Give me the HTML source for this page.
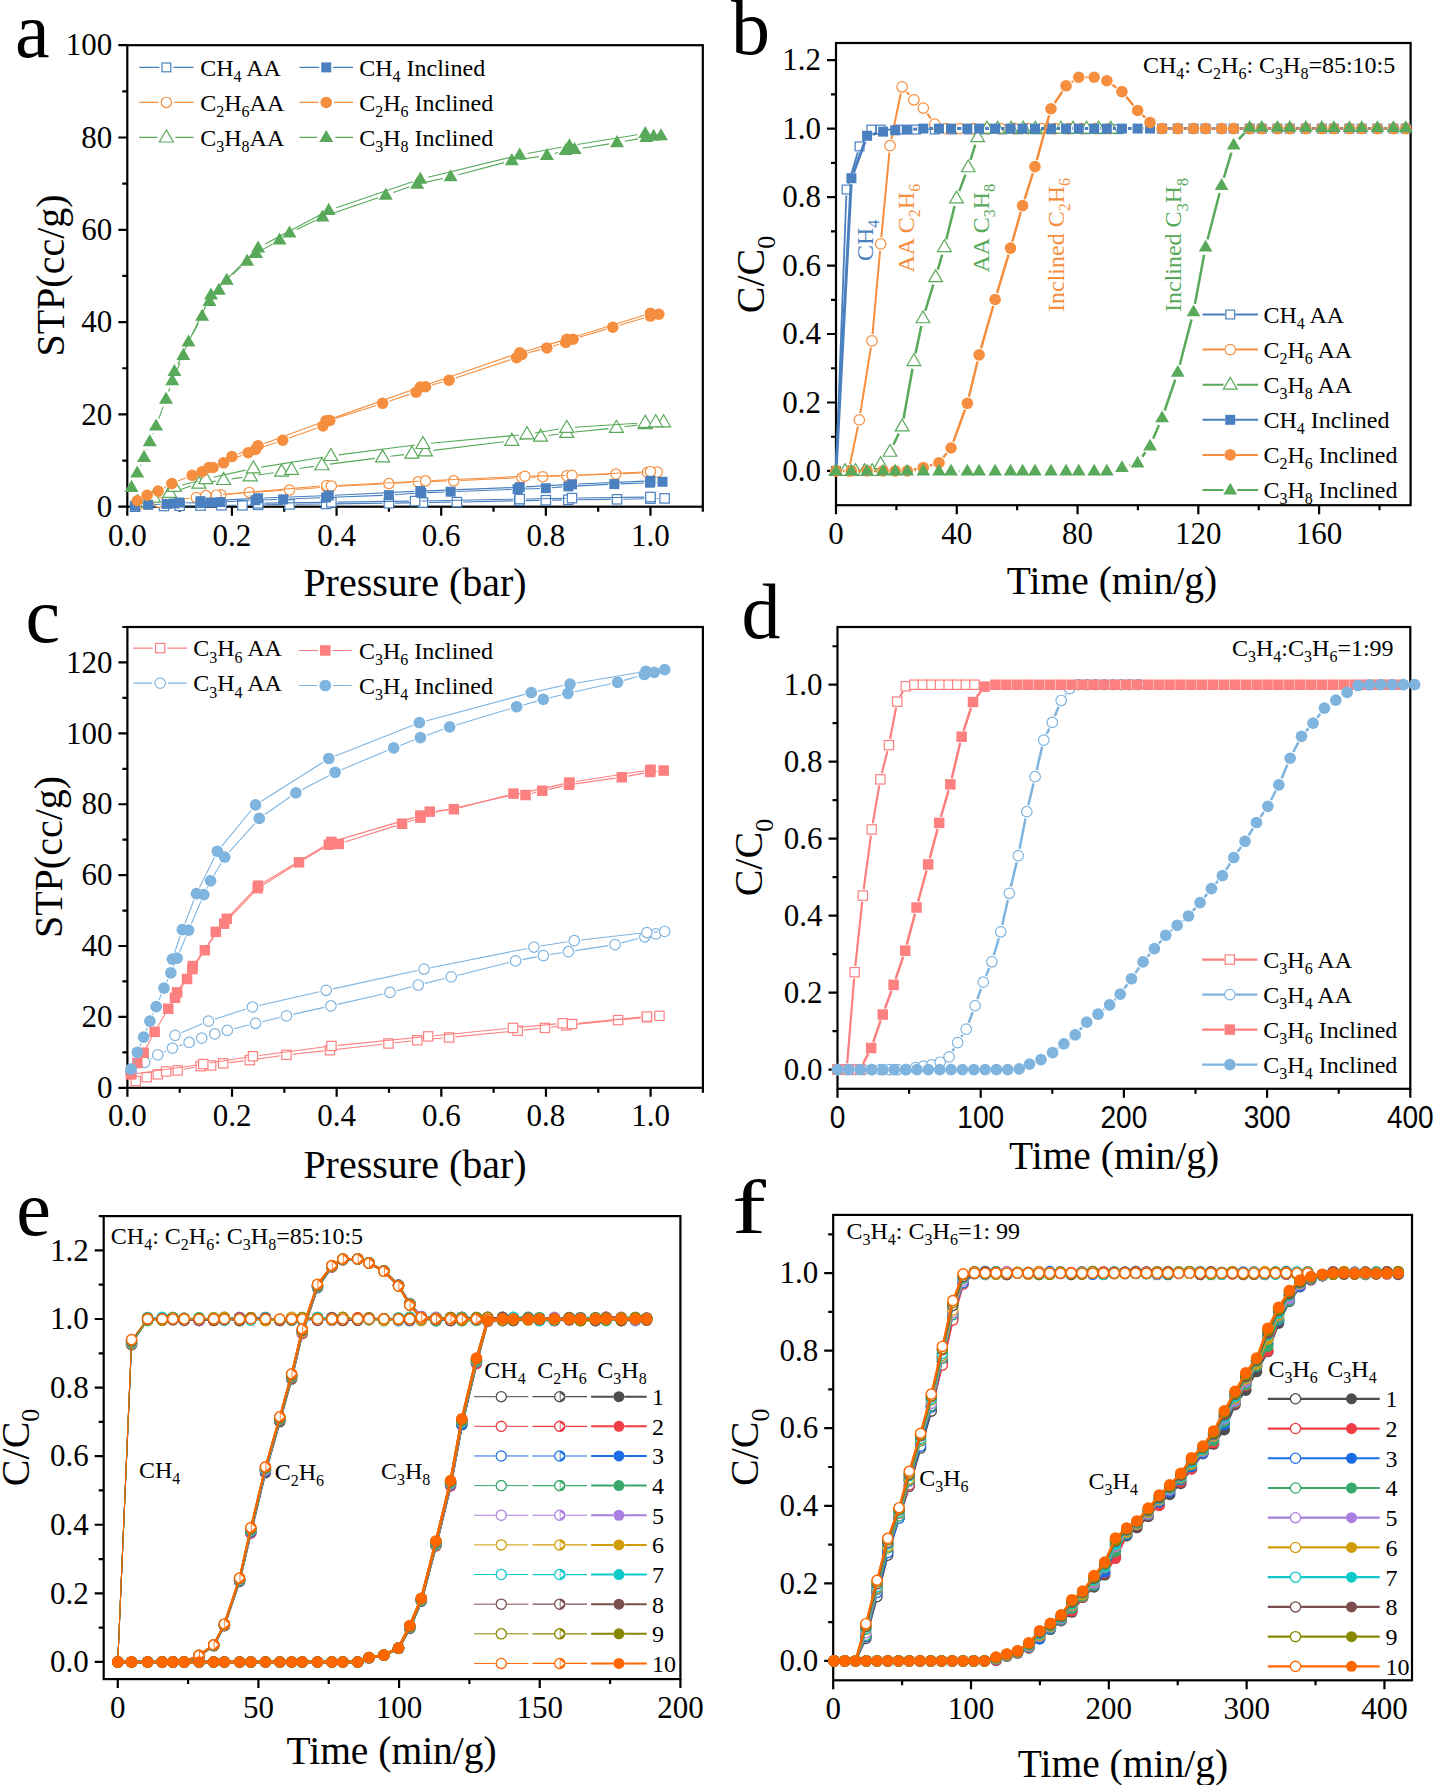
<!DOCTYPE html><html><head><meta charset="utf-8"><style>html,body{margin:0;padding:0;background:#fff;}svg{display:block;}</style></head><body><svg width="1435" height="1785" viewBox="0 0 1435 1785" font-family='"Liberation Serif", serif'><rect width="100%" height="100%" fill="#fff"/><path d="M127.3 506.7V515.7M231.94 506.7V515.7M336.57 506.7V515.7M441.21 506.7V515.7M545.85 506.7V515.7M650.48 506.7V515.7M179.62 506.7V511.7M284.25 506.7V511.7M388.89 506.7V511.7M493.53 506.7V511.7M598.16 506.7V511.7M702.8 506.7V511.7M127.3 506.7H118.3M127.3 414.4H118.3M127.3 322.1H118.3M127.3 229.8H118.3M127.3 137.5H118.3M127.3 45.2H118.3M127.3 460.55H122.3M127.3 368.25H122.3M127.3 275.95H122.3M127.3 183.65H122.3M127.3 91.35H122.3" stroke="#000" stroke-width="2.2" fill="none"/>
<rect x="127.3" y="45.2" width="575.5" height="461.5" stroke="#000" stroke-width="2.2" fill="none"/>
<text x="127.3" y="546.2" font-size="31" text-anchor="middle" fill="#000"><tspan>0.0</tspan></text>
<text x="231.94" y="546.2" font-size="31" text-anchor="middle" fill="#000"><tspan>0.2</tspan></text>
<text x="336.57" y="546.2" font-size="31" text-anchor="middle" fill="#000"><tspan>0.4</tspan></text>
<text x="441.21" y="546.2" font-size="31" text-anchor="middle" fill="#000"><tspan>0.6</tspan></text>
<text x="545.85" y="546.2" font-size="31" text-anchor="middle" fill="#000"><tspan>0.8</tspan></text>
<text x="650.48" y="546.2" font-size="31" text-anchor="middle" fill="#000"><tspan>1.0</tspan></text>
<text x="112.3" y="516.93" font-size="31" text-anchor="end" fill="#000"><tspan>0</tspan></text>
<text x="112.3" y="424.63" font-size="31" text-anchor="end" fill="#000"><tspan>20</tspan></text>
<text x="112.3" y="332.33" font-size="31" text-anchor="end" fill="#000"><tspan>40</tspan></text>
<text x="112.3" y="240.03" font-size="31" text-anchor="end" fill="#000"><tspan>60</tspan></text>
<text x="112.3" y="147.73" font-size="31" text-anchor="end" fill="#000"><tspan>80</tspan></text>
<text x="112.3" y="55.43" font-size="31" text-anchor="end" fill="#000"><tspan>100</tspan></text>
<text x="15" y="57" font-size="78" text-anchor="start" fill="#000"><tspan>a</tspan></text>
<text x="415" y="596.3" font-size="40" text-anchor="middle" fill="#000"><tspan>Pressure (bar)</tspan></text>
<text x="63.6" y="275.5" font-size="40" text-anchor="middle" fill="#000" transform="rotate(-90 63.6 275.5)"><tspan>STP(cc/g)</tspan></text>
<path d="M141.45 506.55L157.62 506.16M170.22 505.92L173.32 505.87M185.92 505.71L194.25 505.62M206.85 505.48L215.17 505.38M227.77 505.32L236.1 505.32M248.7 505.13L251.8 505.04M264.39 504.76L283.19 504.49M295.79 504.31L319.81 504.01M332.41 503.86L382.59 503.31M395.19 503.11L416.6 502.67M429.2 502.46L450.61 502.17M463.2 501.94L512.86 500.84M525.46 500.59L539.55 500.35M552.14 500.11L562.04 499.91M574.64 499.72L610.7 499.38M623.3 499.19L644.18 498.75M656.78 498.52L658.31 498.5" stroke="#4a80bf" stroke-width="1.1" fill="none"/>
<g><rect x="130.45" y="502" width="9.4" height="9.4" fill="#fff" stroke="#4a80bf" stroke-width="1.2"/><rect x="159.22" y="501.31" width="9.4" height="9.4" fill="#fff" stroke="#4a80bf" stroke-width="1.2"/><rect x="174.92" y="501.08" width="9.4" height="9.4" fill="#fff" stroke="#4a80bf" stroke-width="1.2"/><rect x="195.85" y="500.85" width="9.4" height="9.4" fill="#fff" stroke="#4a80bf" stroke-width="1.2"/><rect x="216.77" y="500.62" width="9.4" height="9.4" fill="#fff" stroke="#4a80bf" stroke-width="1.2"/><rect x="237.7" y="500.62" width="9.4" height="9.4" fill="#fff" stroke="#4a80bf" stroke-width="1.2"/><rect x="253.4" y="500.15" width="9.4" height="9.4" fill="#fff" stroke="#4a80bf" stroke-width="1.2"/><rect x="284.79" y="499.69" width="9.4" height="9.4" fill="#fff" stroke="#4a80bf" stroke-width="1.2"/><rect x="321.41" y="499.23" width="9.4" height="9.4" fill="#fff" stroke="#4a80bf" stroke-width="1.2"/><rect x="384.19" y="498.54" width="9.4" height="9.4" fill="#fff" stroke="#4a80bf" stroke-width="1.2"/><rect x="418.2" y="497.85" width="9.4" height="9.4" fill="#fff" stroke="#4a80bf" stroke-width="1.2"/><rect x="452.2" y="497.38" width="9.4" height="9.4" fill="#fff" stroke="#4a80bf" stroke-width="1.2"/><rect x="514.46" y="496" width="9.4" height="9.4" fill="#fff" stroke="#4a80bf" stroke-width="1.2"/><rect x="541.15" y="495.54" width="9.4" height="9.4" fill="#fff" stroke="#4a80bf" stroke-width="1.2"/><rect x="563.64" y="495.08" width="9.4" height="9.4" fill="#fff" stroke="#4a80bf" stroke-width="1.2"/><rect x="612.3" y="494.62" width="9.4" height="9.4" fill="#fff" stroke="#4a80bf" stroke-width="1.2"/><rect x="645.78" y="493.92" width="9.4" height="9.4" fill="#fff" stroke="#4a80bf" stroke-width="1.2"/><rect x="659.91" y="493.69" width="9.4" height="9.4" fill="#fff" stroke="#4a80bf" stroke-width="1.2"/></g>
<path d="M264.39 503.15L325.04 502.34M337.64 502.17L408.75 501.17M421.35 500.96L513.39 499.2M525.99 498.96L565.71 498.23M578.3 498.03L644.18 497.1" stroke="#4a80bf" stroke-width="1.1" fill="none"/>
<g><rect x="253.4" y="498.54" width="9.4" height="9.4" fill="#fff" stroke="#4a80bf" stroke-width="1.2"/><rect x="326.64" y="497.56" width="9.4" height="9.4" fill="#fff" stroke="#4a80bf" stroke-width="1.2"/><rect x="410.35" y="496.38" width="9.4" height="9.4" fill="#fff" stroke="#4a80bf" stroke-width="1.2"/><rect x="514.99" y="494.37" width="9.4" height="9.4" fill="#fff" stroke="#4a80bf" stroke-width="1.2"/><rect x="567.3" y="493.42" width="9.4" height="9.4" fill="#fff" stroke="#4a80bf" stroke-width="1.2"/><rect x="645.78" y="492.31" width="9.4" height="9.4" fill="#fff" stroke="#4a80bf" stroke-width="1.2"/></g>
<path d="M144.46 503.97L152 502.97M165.39 501.26L189.66 498.29M203.07 496.71L214.24 495.46M227.68 494.15L242.47 492.94M255.94 492.01L282.75 490.47M296.21 489.5L319.91 487.44M333.37 486.51L382.15 483.97M395.63 483.2L411.45 482.2M424.94 481.6L447.02 481.03M460.51 480.54L515.04 477.95M528.52 477.33L535.96 477M549.45 476.44L560.03 476.04M573.52 475.53L609.21 474.19M622.7 473.64L640.6 472.85" stroke="#f58e3e" stroke-width="1.1" fill="none"/>
<g><circle cx="137.76" cy="504.85" r="5.15" fill="#fff" stroke="#f58e3e" stroke-width="1.2"/><circle cx="158.69" cy="502.08" r="5.15" fill="#fff" stroke="#f58e3e" stroke-width="1.2"/><circle cx="196.36" cy="497.47" r="5.15" fill="#fff" stroke="#f58e3e" stroke-width="1.2"/><circle cx="220.95" cy="494.7" r="5.15" fill="#fff" stroke="#f58e3e" stroke-width="1.2"/><circle cx="249.2" cy="492.39" r="5.15" fill="#fff" stroke="#f58e3e" stroke-width="1.2"/><circle cx="289.49" cy="490.09" r="5.15" fill="#fff" stroke="#f58e3e" stroke-width="1.2"/><circle cx="326.63" cy="486.86" r="5.15" fill="#fff" stroke="#f58e3e" stroke-width="1.2"/><circle cx="388.89" cy="483.62" r="5.15" fill="#fff" stroke="#f58e3e" stroke-width="1.2"/><circle cx="418.19" cy="481.78" r="5.15" fill="#fff" stroke="#f58e3e" stroke-width="1.2"/><circle cx="453.77" cy="480.86" r="5.15" fill="#fff" stroke="#f58e3e" stroke-width="1.2"/><circle cx="521.78" cy="477.63" r="5.15" fill="#fff" stroke="#f58e3e" stroke-width="1.2"/><circle cx="542.71" cy="476.7" r="5.15" fill="#fff" stroke="#f58e3e" stroke-width="1.2"/><circle cx="566.77" cy="475.78" r="5.15" fill="#fff" stroke="#f58e3e" stroke-width="1.2"/><circle cx="615.95" cy="473.93" r="5.15" fill="#fff" stroke="#f58e3e" stroke-width="1.2"/><circle cx="647.34" cy="472.55" r="5.15" fill="#fff" stroke="#f58e3e" stroke-width="1.2"/><circle cx="657.28" cy="472.09" r="5.15" fill="#fff" stroke="#f58e3e" stroke-width="1.2"/></g>
<path d="M222.97 494.57L319.91 486.06M338.08 485.57L418.77 481.22M432.26 480.54L518.18 476.55M531.67 476.11L565.26 475.45M578.75 475L643.74 471.94" stroke="#f58e3e" stroke-width="1.1" fill="none"/>
<g><circle cx="205.78" cy="495.62" r="5.15" fill="#fff" stroke="#f58e3e" stroke-width="1.2"/><circle cx="216.24" cy="495.16" r="5.15" fill="#fff" stroke="#f58e3e" stroke-width="1.2"/><circle cx="326.63" cy="485.47" r="5.15" fill="#fff" stroke="#f58e3e" stroke-width="1.2"/><circle cx="331.34" cy="485.93" r="5.15" fill="#fff" stroke="#f58e3e" stroke-width="1.2"/><circle cx="425.51" cy="480.86" r="5.15" fill="#fff" stroke="#f58e3e" stroke-width="1.2"/><circle cx="524.92" cy="476.24" r="5.15" fill="#fff" stroke="#f58e3e" stroke-width="1.2"/><circle cx="572" cy="475.32" r="5.15" fill="#fff" stroke="#f58e3e" stroke-width="1.2"/><circle cx="650.48" cy="471.63" r="5.15" fill="#fff" stroke="#f58e3e" stroke-width="1.2"/></g>
<path d="M145.44 499.83L145.78 499.73M161.15 495.28L161.98 495.04M177.31 490.45L191.35 486.03M206.89 482.44L215.65 481.12M231.49 478.84L242.32 477.34M258.16 475.08L273.72 472.79M299.49 468.58L314.01 466.37M329.86 464.14L374.68 458.35M390.55 456.32L403.97 454.63M433.45 450.34L503.9 441.68M519.76 439.56L532.7 437.69M548.54 435.43L558.85 433.98M574.73 432.05L608.52 428.6M624.41 426.77L637.32 425.11M653.21 423.29L655.6 423.05" stroke="#58a95a" stroke-width="1.1" fill="none"/>
<g><polygon points="137.76,494.62 130.76,506.66 144.76,506.66" fill="#fff" stroke="#58a95a" stroke-width="1.2" stroke-linejoin="miter"/><polygon points="153.46,490.01 146.46,502.05 160.46,502.05" fill="#fff" stroke="#58a95a" stroke-width="1.2" stroke-linejoin="miter"/><polygon points="169.68,485.39 162.68,497.43 176.68,497.43" fill="#fff" stroke="#58a95a" stroke-width="1.2" stroke-linejoin="miter"/><polygon points="198.98,476.16 191.98,488.2 205.98,488.2" fill="#fff" stroke="#58a95a" stroke-width="1.2" stroke-linejoin="miter"/><polygon points="223.57,472.47 216.57,484.51 230.57,484.51" fill="#fff" stroke="#58a95a" stroke-width="1.2" stroke-linejoin="miter"/><polygon points="250.25,468.78 243.25,480.82 257.25,480.82" fill="#fff" stroke="#58a95a" stroke-width="1.2" stroke-linejoin="miter"/><polygon points="281.64,464.16 274.64,476.2 288.64,476.2" fill="#fff" stroke="#58a95a" stroke-width="1.2" stroke-linejoin="miter"/><polygon points="291.58,462.32 284.58,474.36 298.58,474.36" fill="#fff" stroke="#58a95a" stroke-width="1.2" stroke-linejoin="miter"/><polygon points="321.92,457.7 314.92,469.74 328.92,469.74" fill="#fff" stroke="#58a95a" stroke-width="1.2" stroke-linejoin="miter"/><polygon points="382.61,449.85 375.61,461.89 389.61,461.89" fill="#fff" stroke="#58a95a" stroke-width="1.2" stroke-linejoin="miter"/><polygon points="411.91,446.16 404.91,458.2 418.91,458.2" fill="#fff" stroke="#58a95a" stroke-width="1.2" stroke-linejoin="miter"/><polygon points="425.51,443.86 418.51,455.9 432.51,455.9" fill="#fff" stroke="#58a95a" stroke-width="1.2" stroke-linejoin="miter"/><polygon points="511.84,433.24 504.84,445.28 518.84,445.28" fill="#fff" stroke="#58a95a" stroke-width="1.2" stroke-linejoin="miter"/><polygon points="540.61,429.09 533.61,441.13 547.61,441.13" fill="#fff" stroke="#58a95a" stroke-width="1.2" stroke-linejoin="miter"/><polygon points="566.77,425.4 559.77,437.44 573.77,437.44" fill="#fff" stroke="#58a95a" stroke-width="1.2" stroke-linejoin="miter"/><polygon points="616.48,420.32 609.48,432.36 623.48,432.36" fill="#fff" stroke="#58a95a" stroke-width="1.2" stroke-linejoin="miter"/><polygon points="645.25,416.63 638.25,428.67 652.25,428.67" fill="#fff" stroke="#58a95a" stroke-width="1.2" stroke-linejoin="miter"/><polygon points="663.56,414.78 656.56,426.82 670.56,426.82" fill="#fff" stroke="#58a95a" stroke-width="1.2" stroke-linejoin="miter"/></g>
<path d="M182.15 484.92L198.02 480.95M213.59 477.27L245.58 470.14M261.29 467.12L322.92 457.21M338.75 454.9L414.96 444.97M430.86 443.19L519.05 434.99M534.91 432.96L558.88 429.07M574.76 427.27L637.27 423.22" stroke="#58a95a" stroke-width="1.1" fill="none"/>
<g><polygon points="174.39,479.39 167.39,491.43 181.39,491.43" fill="#fff" stroke="#58a95a" stroke-width="1.2" stroke-linejoin="miter"/><polygon points="205.78,471.55 198.78,483.59 212.78,483.59" fill="#fff" stroke="#58a95a" stroke-width="1.2" stroke-linejoin="miter"/><polygon points="253.39,460.93 246.39,472.97 260.39,472.97" fill="#fff" stroke="#58a95a" stroke-width="1.2" stroke-linejoin="miter"/><polygon points="330.82,448.47 323.82,460.51 337.82,460.51" fill="#fff" stroke="#58a95a" stroke-width="1.2" stroke-linejoin="miter"/><polygon points="422.9,436.47 415.9,448.51 429.9,448.51" fill="#fff" stroke="#58a95a" stroke-width="1.2" stroke-linejoin="miter"/><polygon points="527.01,426.78 520.01,438.82 534.01,438.82" fill="#fff" stroke="#58a95a" stroke-width="1.2" stroke-linejoin="miter"/><polygon points="566.77,420.32 559.77,432.36 573.77,432.36" fill="#fff" stroke="#58a95a" stroke-width="1.2" stroke-linejoin="miter"/><polygon points="645.25,415.24 638.25,427.28 652.25,427.28" fill="#fff" stroke="#58a95a" stroke-width="1.2" stroke-linejoin="miter"/><polygon points="655.71,414.78 648.71,426.82 662.71,426.82" fill="#fff" stroke="#58a95a" stroke-width="1.2" stroke-linejoin="miter"/></g>
<path d="M141.13 505.35L142.24 505.28M154.22 504.55L160.55 504.23M185.62 502.68L194.55 502.88M226.42 501.77L249.49 500.55M261.48 500.04L277.21 499.52M289.2 499.06L320.11 497.73M332.11 497.25L382.89 495.38M394.88 494.74L415.34 493.28M427.32 492.62L444.63 491.94M456.62 491.47L511.6 489.39M523.59 488.97L539.85 488.44M551.83 487.75L562.36 486.88M574.33 486.09L608.39 484.39M620.38 483.85L643.96 482.94M655.94 482.26L656.53 482.22" stroke="#4a80bf" stroke-width="1.1" fill="none"/>
<g><rect x="130.15" y="500.78" width="10" height="10" fill="#4a80bf"/><rect x="143.23" y="499.85" width="10" height="10" fill="#4a80bf"/><rect x="161.54" y="498.93" width="10" height="10" fill="#4a80bf"/><rect x="169.39" y="498.47" width="10" height="10" fill="#4a80bf"/><rect x="174.62" y="497.55" width="10" height="10" fill="#4a80bf"/><rect x="195.55" y="498.01" width="10" height="10" fill="#4a80bf"/><rect x="206.01" y="497.55" width="10" height="10" fill="#4a80bf"/><rect x="215.43" y="497.08" width="10" height="10" fill="#4a80bf"/><rect x="250.48" y="495.24" width="10" height="10" fill="#4a80bf"/><rect x="278.21" y="494.32" width="10" height="10" fill="#4a80bf"/><rect x="321.11" y="492.47" width="10" height="10" fill="#4a80bf"/><rect x="383.89" y="490.16" width="10" height="10" fill="#4a80bf"/><rect x="416.33" y="487.86" width="10" height="10" fill="#4a80bf"/><rect x="445.63" y="486.7" width="10" height="10" fill="#4a80bf"/><rect x="512.59" y="484.16" width="10" height="10" fill="#4a80bf"/><rect x="540.85" y="483.24" width="10" height="10" fill="#4a80bf"/><rect x="563.34" y="481.39" width="10" height="10" fill="#4a80bf"/><rect x="609.38" y="479.09" width="10" height="10" fill="#4a80bf"/><rect x="644.96" y="477.7" width="10" height="10" fill="#4a80bf"/><rect x="657.51" y="476.78" width="10" height="10" fill="#4a80bf"/></g>
<path d="M206.54 500.86L252.1 498.58M264.09 498.05L322.73 495.76M334.72 495.23L414.29 491.36M426.28 490.84L513.69 487.48M525.68 486.91L566.01 484.66M578 484.06L644.49 481.1" stroke="#4a80bf" stroke-width="1.1" fill="none"/>
<g><rect x="195.55" y="496.16" width="10" height="10" fill="#4a80bf"/><rect x="253.1" y="493.28" width="10" height="10" fill="#4a80bf"/><rect x="323.72" y="490.52" width="10" height="10" fill="#4a80bf"/><rect x="415.28" y="486.07" width="10" height="10" fill="#4a80bf"/><rect x="514.69" y="482.25" width="10" height="10" fill="#4a80bf"/><rect x="567" y="479.33" width="10" height="10" fill="#4a80bf"/><rect x="645.48" y="475.83" width="10" height="10" fill="#4a80bf"/></g>
<path d="M164.1 487.79L165.84 486.85M178.02 481.08L185.92 477.86M229.8 460.28L241.92 455.28M261.87 447.31L276.29 442.41M289.05 437.99L316.61 428.2M336.19 418.32L376.19 405.4M389.02 401.2L409.69 394.37M432.02 384.92L442.55 382.04M455.46 378.1L510.15 359.78M528.32 352.72L540.35 349.63M553.37 346.04L559.25 344.31M579.51 337.23L606.35 329.13M619.29 325.27L644.01 318" stroke="#f58e3e" stroke-width="1.1" fill="none"/>
<g><circle cx="137.24" cy="500.7" r="5.75" fill="#f58e3e"/><circle cx="147.18" cy="495.16" r="5.75" fill="#f58e3e"/><circle cx="158.17" cy="491.01" r="5.75" fill="#f58e3e"/><circle cx="171.77" cy="483.62" r="5.75" fill="#f58e3e"/><circle cx="192.17" cy="475.32" r="5.75" fill="#f58e3e"/><circle cx="202.11" cy="471.63" r="5.75" fill="#f58e3e"/><circle cx="208.92" cy="467.47" r="5.75" fill="#f58e3e"/><circle cx="213.1" cy="467.47" r="5.75" fill="#f58e3e"/><circle cx="223.57" cy="462.86" r="5.75" fill="#f58e3e"/><circle cx="248.15" cy="452.7" r="5.75" fill="#f58e3e"/><circle cx="255.48" cy="449.47" r="5.75" fill="#f58e3e"/><circle cx="282.69" cy="440.24" r="5.75" fill="#f58e3e"/><circle cx="322.97" cy="425.94" r="5.75" fill="#f58e3e"/><circle cx="329.77" cy="420.4" r="5.75" fill="#f58e3e"/><circle cx="382.61" cy="403.32" r="5.75" fill="#f58e3e"/><circle cx="416.1" cy="392.25" r="5.75" fill="#f58e3e"/><circle cx="425.51" cy="386.71" r="5.75" fill="#f58e3e"/><circle cx="449.06" cy="380.25" r="5.75" fill="#f58e3e"/><circle cx="516.55" cy="357.64" r="5.75" fill="#f58e3e"/><circle cx="521.78" cy="354.4" r="5.75" fill="#f58e3e"/><circle cx="546.89" cy="347.94" r="5.75" fill="#f58e3e"/><circle cx="565.73" cy="342.41" r="5.75" fill="#f58e3e"/><circle cx="573.05" cy="339.18" r="5.75" fill="#f58e3e"/><circle cx="612.81" cy="327.18" r="5.75" fill="#f58e3e"/><circle cx="650.48" cy="316.1" r="5.75" fill="#f58e3e"/><circle cx="658.85" cy="314.25" r="5.75" fill="#f58e3e"/></g>
<path d="M238.17 454.03L251.86 448.36M264.43 443.43L319.78 422.97M332.47 418.36L413.92 389.31M426.66 384.85L513.3 355.03M526.17 350.96L560.29 341.11M573.22 337.25L644.03 315.33" stroke="#f58e3e" stroke-width="1.1" fill="none"/>
<g><circle cx="231.94" cy="456.61" r="5.75" fill="#f58e3e"/><circle cx="258.1" cy="445.77" r="5.75" fill="#f58e3e"/><circle cx="326.11" cy="420.63" r="5.75" fill="#f58e3e"/><circle cx="420.28" cy="387.05" r="5.75" fill="#f58e3e"/><circle cx="519.69" cy="352.84" r="5.75" fill="#f58e3e"/><circle cx="566.77" cy="339.24" r="5.75" fill="#f58e3e"/><circle cx="650.48" cy="313.33" r="5.75" fill="#f58e3e"/></g>
<path d="M140.42 465.67L140.86 464.66M146.8 449.81L147.04 449.14M152.77 434.2L153.1 433.37M158.86 418.44L163.23 406.67M168.59 391.6L169.72 388.28M175.47 373.37L180.1 362.67M192.24 334.87L198.39 323.18M205.67 308.93L205.88 308.5M232.57 274.66L241.24 266.62M262.96 249.38L272.59 243.91M296.67 229.51L315.26 220.4M330.01 214.28L378.18 197.78M393.3 192.53L409.6 186.77M424.96 182.39L442.81 178.45M458.36 174.69L504.1 162.62M519.76 159.43L538.97 156.65M554.62 153.42L558 152.5M582.52 148.21L609.1 143.87M624.88 141.21L638.41 138.87" stroke="#58a95a" stroke-width="1.1" fill="none"/>
<g><polygon points="131.49,479.85 124.49,491.89 138.49,491.89" fill="#58a95a"/><polygon points="137.24,465.55 130.24,477.59 144.24,477.59" fill="#58a95a"/><polygon points="144.04,449.85 137.04,461.89 151.04,461.89" fill="#58a95a"/><polygon points="149.8,434.16 142.8,446.2 156.8,446.2" fill="#58a95a"/><polygon points="156.07,418.47 149.07,430.51 163.07,430.51" fill="#58a95a"/><polygon points="166.02,391.71 159.02,403.75 173.02,403.75" fill="#58a95a"/><polygon points="172.29,373.25 165.29,385.29 179.29,385.29" fill="#58a95a"/><polygon points="183.28,347.86 176.28,359.9 190.28,359.9" fill="#58a95a"/><polygon points="188.51,334.48 181.51,346.52 195.51,346.52" fill="#58a95a"/><polygon points="202.11,308.64 195.11,320.68 209.11,320.68" fill="#58a95a"/><polygon points="209.44,293.87 202.44,305.91 216.44,305.91" fill="#58a95a"/><polygon points="218.86,282.79 211.86,294.83 225.86,294.83" fill="#58a95a"/><polygon points="226.7,272.64 219.7,284.68 233.7,284.68" fill="#58a95a"/><polygon points="247.11,253.72 240.11,265.76 254.11,265.76" fill="#58a95a"/><polygon points="256,245.87 249,257.91 263,257.91" fill="#58a95a"/><polygon points="279.55,232.49 272.55,244.53 286.55,244.53" fill="#58a95a"/><polygon points="289.49,225.57 282.49,237.61 296.49,237.61" fill="#58a95a"/><polygon points="322.45,209.41 315.45,221.45 329.45,221.45" fill="#58a95a"/><polygon points="385.75,187.72 378.75,199.76 392.75,199.76" fill="#58a95a"/><polygon points="417.14,176.65 410.14,188.69 424.14,188.69" fill="#58a95a"/><polygon points="450.63,169.26 443.63,181.3 457.63,181.3" fill="#58a95a"/><polygon points="511.84,153.11 504.84,165.15 518.84,165.15" fill="#58a95a"/><polygon points="546.89,148.03 539.89,160.07 553.89,160.07" fill="#58a95a"/><polygon points="565.73,142.96 558.73,155 572.73,155" fill="#58a95a"/><polygon points="574.62,142.03 567.62,154.07 581.62,154.07" fill="#58a95a"/><polygon points="617,135.11 610,147.15 624,147.15" fill="#58a95a"/><polygon points="646.3,130.04 639.3,142.08 653.3,142.08" fill="#58a95a"/><polygon points="653.62,128.65 646.62,140.69 660.62,140.69" fill="#58a95a"/><polygon points="660.95,128.19 653.95,140.23 667.95,140.23" fill="#58a95a"/></g>
<path d="M177.84 364.22L207.55 302.16M216.67 289.29L252.44 253.51M265.16 244.1L321.66 214.07M336.3 207.74L412.71 181.69M428.06 177.22L511.91 156.87M527.55 153.53L561.52 147.25M577.29 144.51L637.35 134.81" stroke="#58a95a" stroke-width="1.1" fill="none"/>
<g><polygon points="174.39,363.97 167.39,376.01 181.39,376.01" fill="#58a95a"/><polygon points="211.01,287.48 204.01,299.52 218.01,299.52" fill="#58a95a"/><polygon points="258.1,240.39 251.1,252.43 265.1,252.43" fill="#58a95a"/><polygon points="328.72,202.85 321.72,214.89 335.72,214.89" fill="#58a95a"/><polygon points="420.28,171.64 413.28,183.68 427.28,183.68" fill="#58a95a"/><polygon points="519.69,147.52 512.69,159.56 526.69,159.56" fill="#58a95a"/><polygon points="569.39,138.32 562.39,150.36 576.39,150.36" fill="#58a95a"/><polygon points="645.25,126.07 638.25,138.11 652.25,138.11" fill="#58a95a"/></g>
<path d="M139.2 67.4H159.4M173.4 67.4H193.6" stroke="#4a80bf" stroke-width="1.1"/>
<rect x="162" y="63" width="8.8" height="8.8" fill="#fff" stroke="#4a80bf" stroke-width="1.2"/>
<text x="200.2" y="75.7" font-size="24" text-anchor="start" fill="#000"><tspan>CH</tspan><tspan dy="6.2" font-size="16">4</tspan><tspan dy="-6.2"> AA</tspan></text>
<path d="M139.2 102.4H158.65M174.15 102.4H193.6" stroke="#f58e3e" stroke-width="1.1"/>
<circle cx="166.4" cy="102.4" r="5.15" fill="#fff" stroke="#f58e3e" stroke-width="1.2"/>
<text x="200.2" y="110.7" font-size="24" text-anchor="start" fill="#000"><tspan>C</tspan><tspan dy="6.2" font-size="16">2</tspan><tspan dy="-6.2">H</tspan><tspan dy="6.2" font-size="16">6</tspan><tspan dy="-6.2">AA</tspan></text>
<path d="M139.2 137.4H157.4M175.4 137.4H193.6" stroke="#58a95a" stroke-width="1.1"/>
<polygon points="166.4,129.94 159.4,141.98 173.4,141.98" fill="#fff" stroke="#58a95a" stroke-width="1.2" stroke-linejoin="miter"/>
<text x="200.2" y="145.7" font-size="24" text-anchor="start" fill="#000"><tspan>C</tspan><tspan dy="6.2" font-size="16">3</tspan><tspan dy="-6.2">H</tspan><tspan dy="6.2" font-size="16">8</tspan><tspan dy="-6.2">AA</tspan></text>
<path d="M299.4 67.4H319.25M333.25 67.4H353.1" stroke="#4a80bf" stroke-width="1.1"/>
<rect x="321.25" y="62.4" width="10" height="10" fill="#4a80bf"/>
<text x="359.2" y="75.7" font-size="24" text-anchor="start" fill="#000"><tspan>CH</tspan><tspan dy="6.2" font-size="16">4</tspan><tspan dy="-6.2"> Inclined</tspan></text>
<path d="M299.4 102.4H318.5M334 102.4H353.1" stroke="#f58e3e" stroke-width="1.1"/>
<circle cx="326.25" cy="102.4" r="5.75" fill="#f58e3e"/>
<text x="359.2" y="110.7" font-size="24" text-anchor="start" fill="#000"><tspan>C</tspan><tspan dy="6.2" font-size="16">2</tspan><tspan dy="-6.2">H</tspan><tspan dy="6.2" font-size="16">6</tspan><tspan dy="-6.2"> Inclined</tspan></text>
<path d="M299.4 137.4H317.25M335.25 137.4H353.1" stroke="#58a95a" stroke-width="1.1"/>
<polygon points="326.25,129.94 319.25,141.98 333.25,141.98" fill="#58a95a"/>
<text x="359.2" y="145.7" font-size="24" text-anchor="start" fill="#000"><tspan>C</tspan><tspan dy="6.2" font-size="16">3</tspan><tspan dy="-6.2">H</tspan><tspan dy="6.2" font-size="16">8</tspan><tspan dy="-6.2"> Inclined</tspan></text>
<path d="M836 505.2V514.2M956.78 505.2V514.2M1077.56 505.2V514.2M1198.33 505.2V514.2M1319.11 505.2V514.2M896.39 505.2V510.2M1017.17 505.2V510.2M1137.94 505.2V510.2M1258.72 505.2V510.2M1379.5 505.2V510.2M836 470.96H827M836 402.49H827M836 334.01H827M836 265.54H827M836 197.07H827M836 128.59H827M836 60.12H827M836 436.73H831M836 368.25H831M836 299.78H831M836 231.3H831M836 162.83H831M836 94.36H831" stroke="#000" stroke-width="2.2" fill="none"/>
<rect x="836" y="43" width="574.6" height="462.2" stroke="#000" stroke-width="2.2" fill="none"/>
<text x="836" y="543.7" font-size="31" text-anchor="middle" fill="#000"><tspan>0</tspan></text>
<text x="956.78" y="543.7" font-size="31" text-anchor="middle" fill="#000"><tspan>40</tspan></text>
<text x="1077.56" y="543.7" font-size="31" text-anchor="middle" fill="#000"><tspan>80</tspan></text>
<text x="1198.33" y="543.7" font-size="31" text-anchor="middle" fill="#000"><tspan>120</tspan></text>
<text x="1319.11" y="543.7" font-size="31" text-anchor="middle" fill="#000"><tspan>160</tspan></text>
<text x="821" y="481.19" font-size="31" text-anchor="end" fill="#000"><tspan>0.0</tspan></text>
<text x="821" y="412.72" font-size="31" text-anchor="end" fill="#000"><tspan>0.2</tspan></text>
<text x="821" y="344.24" font-size="31" text-anchor="end" fill="#000"><tspan>0.4</tspan></text>
<text x="821" y="275.77" font-size="31" text-anchor="end" fill="#000"><tspan>0.6</tspan></text>
<text x="821" y="207.3" font-size="31" text-anchor="end" fill="#000"><tspan>0.8</tspan></text>
<text x="821" y="138.82" font-size="31" text-anchor="end" fill="#000"><tspan>1.0</tspan></text>
<text x="821" y="70.35" font-size="31" text-anchor="end" fill="#000"><tspan>1.2</tspan></text>
<text x="731" y="54" font-size="78" text-anchor="start" fill="#000"><tspan>b</tspan></text>
<text x="1112" y="593.7" font-size="39.5" text-anchor="middle" fill="#000"><tspan>Time (min/g)</tspan></text>
<text x="764.4" y="274.5" font-size="40" text-anchor="middle" fill="#000" transform="rotate(-90 764.4 274.5)"><tspan>C/C</tspan><tspan dy="10.5" font-size="26">0</tspan></text>
<path d="M836.23 464.97L846.34 195.53M848.3 183.79L857.82 152.14M863 141.48L867.88 134.53M886.69 129.59L891.9 129.58M903.9 129.56L910.02 129.55M922.02 129.53L928.74 129.52M940.74 129.49L946.25 129.48M958.25 129.46L962.86 129.45M974.86 129.43L979.46 129.42M991.46 129.4L996.07 129.39M1008.07 129.37L1012.37 129.36M1024.37 129.34L1029.28 129.33M1041.28 129.31L1045.89 129.3M1057.89 129.28L1062.5 129.27M1074.5 129.25L1079.1 129.24M1091.1 129.22L1095.71 129.21M1107.71 129.19L1112.32 129.18" stroke="#4a80bf" stroke-width="1.8" fill="none"/>
<g><rect x="831.6" y="466.56" width="8.8" height="8.8" fill="#fff" stroke="#4a80bf" stroke-width="1.2"/><rect x="842.17" y="185.13" width="8.8" height="8.8" fill="#fff" stroke="#4a80bf" stroke-width="1.2"/><rect x="855.15" y="142" width="8.8" height="8.8" fill="#fff" stroke="#4a80bf" stroke-width="1.2"/><rect x="866.93" y="125.22" width="8.8" height="8.8" fill="#fff" stroke="#4a80bf" stroke-width="1.2"/><rect x="876.29" y="125.2" width="8.8" height="8.8" fill="#fff" stroke="#4a80bf" stroke-width="1.2"/><rect x="893.5" y="125.17" width="8.8" height="8.8" fill="#fff" stroke="#4a80bf" stroke-width="1.2"/><rect x="911.62" y="125.14" width="8.8" height="8.8" fill="#fff" stroke="#4a80bf" stroke-width="1.2"/><rect x="930.34" y="125.11" width="8.8" height="8.8" fill="#fff" stroke="#4a80bf" stroke-width="1.2"/><rect x="947.85" y="125.07" width="8.8" height="8.8" fill="#fff" stroke="#4a80bf" stroke-width="1.2"/><rect x="964.46" y="125.04" width="8.8" height="8.8" fill="#fff" stroke="#4a80bf" stroke-width="1.2"/><rect x="981.06" y="125.01" width="8.8" height="8.8" fill="#fff" stroke="#4a80bf" stroke-width="1.2"/><rect x="997.67" y="124.98" width="8.8" height="8.8" fill="#fff" stroke="#4a80bf" stroke-width="1.2"/><rect x="1013.97" y="124.95" width="8.8" height="8.8" fill="#fff" stroke="#4a80bf" stroke-width="1.2"/><rect x="1030.88" y="124.92" width="8.8" height="8.8" fill="#fff" stroke="#4a80bf" stroke-width="1.2"/><rect x="1047.49" y="124.89" width="8.8" height="8.8" fill="#fff" stroke="#4a80bf" stroke-width="1.2"/><rect x="1064.1" y="124.86" width="8.8" height="8.8" fill="#fff" stroke="#4a80bf" stroke-width="1.2"/><rect x="1080.7" y="124.83" width="8.8" height="8.8" fill="#fff" stroke="#4a80bf" stroke-width="1.2"/><rect x="1097.31" y="124.8" width="8.8" height="8.8" fill="#fff" stroke="#4a80bf" stroke-width="1.2"/><rect x="1113.92" y="124.77" width="8.8" height="8.8" fill="#fff" stroke="#4a80bf" stroke-width="1.2"/></g>
<path d="M850.07 464.26L857.86 426.66M860.33 413.19L870.85 347.63M872.55 334.04L880.07 250.79M881.34 237.15L889.4 152.53M891.42 139L900.75 93.53M906.72 91.9L909.3 94.75M927.24 113.63L930.76 118.56" stroke="#f58e3e" stroke-width="2" fill="none"/>
<g><circle cx="836" cy="470.96" r="5.25" fill="#fff" stroke="#f58e3e" stroke-width="1.2"/><circle cx="848.68" cy="470.96" r="5.25" fill="#fff" stroke="#f58e3e" stroke-width="1.2"/><circle cx="859.25" cy="419.95" r="5.25" fill="#fff" stroke="#f58e3e" stroke-width="1.2"/><circle cx="871.93" cy="340.86" r="5.25" fill="#fff" stroke="#f58e3e" stroke-width="1.2"/><circle cx="880.69" cy="243.97" r="5.25" fill="#fff" stroke="#f58e3e" stroke-width="1.2"/><circle cx="890.05" cy="145.71" r="5.25" fill="#fff" stroke="#f58e3e" stroke-width="1.2"/><circle cx="902.13" cy="86.82" r="5.25" fill="#fff" stroke="#f58e3e" stroke-width="1.2"/><circle cx="913.9" cy="99.83" r="5.25" fill="#fff" stroke="#f58e3e" stroke-width="1.2"/><circle cx="923.26" cy="108.05" r="5.25" fill="#fff" stroke="#f58e3e" stroke-width="1.2"/><circle cx="934.74" cy="124.14" r="5.25" fill="#fff" stroke="#f58e3e" stroke-width="1.2"/><circle cx="946.21" cy="128.59" r="5.25" fill="#fff" stroke="#f58e3e" stroke-width="1.2"/><circle cx="959.8" cy="128.59" r="5.25" fill="#fff" stroke="#f58e3e" stroke-width="1.2"/><circle cx="973.38" cy="128.59" r="5.25" fill="#fff" stroke="#f58e3e" stroke-width="1.2"/><circle cx="986.97" cy="128.59" r="5.25" fill="#fff" stroke="#f58e3e" stroke-width="1.2"/><circle cx="1000.56" cy="128.59" r="5.25" fill="#fff" stroke="#f58e3e" stroke-width="1.2"/><circle cx="1014.15" cy="128.59" r="5.25" fill="#fff" stroke="#f58e3e" stroke-width="1.2"/><circle cx="1027.73" cy="128.59" r="5.25" fill="#fff" stroke="#f58e3e" stroke-width="1.2"/><circle cx="1041.32" cy="128.59" r="5.25" fill="#fff" stroke="#f58e3e" stroke-width="1.2"/><circle cx="1054.91" cy="128.59" r="5.25" fill="#fff" stroke="#f58e3e" stroke-width="1.2"/><circle cx="1068.5" cy="128.59" r="5.25" fill="#fff" stroke="#f58e3e" stroke-width="1.2"/><circle cx="1082.08" cy="128.59" r="5.25" fill="#fff" stroke="#f58e3e" stroke-width="1.2"/><circle cx="1095.67" cy="128.59" r="5.25" fill="#fff" stroke="#f58e3e" stroke-width="1.2"/><circle cx="1109.26" cy="128.59" r="5.25" fill="#fff" stroke="#f58e3e" stroke-width="1.2"/></g>
<path d="M893.43 444.7L898.75 433.54M903.52 418.73L912.51 368.79M915.53 353.38L921.33 325.95M925.28 310.76L933.33 284.68M937.83 269.64L942.21 254.59M946.29 239.43L954.58 206.05M959.25 191.09L965.48 174.62M970.58 159.78L975.28 144.65" stroke="#58a95a" stroke-width="2.5" fill="none"/>
<g><polygon points="836,463.66 829.15,475.44 842.85,475.44" fill="#fff" stroke="#58a95a" stroke-width="1.2" stroke-linejoin="miter"/><polygon points="845.06,463.66 838.21,475.44 851.91,475.44" fill="#fff" stroke="#58a95a" stroke-width="1.2" stroke-linejoin="miter"/><polygon points="855.63,463.66 848.78,475.44 862.48,475.44" fill="#fff" stroke="#58a95a" stroke-width="1.2" stroke-linejoin="miter"/><polygon points="864.68,463.66 857.83,475.44 871.53,475.44" fill="#fff" stroke="#58a95a" stroke-width="1.2" stroke-linejoin="miter"/><polygon points="872.23,463.66 865.38,475.44 879.08,475.44" fill="#fff" stroke="#58a95a" stroke-width="1.2" stroke-linejoin="miter"/><polygon points="880.69,456.81 873.84,468.59 887.54,468.59" fill="#fff" stroke="#58a95a" stroke-width="1.2" stroke-linejoin="miter"/><polygon points="890.05,444.49 883.2,456.27 896.9,456.27" fill="#fff" stroke="#58a95a" stroke-width="1.2" stroke-linejoin="miter"/><polygon points="902.13,419.15 895.28,430.93 908.98,430.93" fill="#fff" stroke="#58a95a" stroke-width="1.2" stroke-linejoin="miter"/><polygon points="913.9,353.76 907.05,365.54 920.75,365.54" fill="#fff" stroke="#58a95a" stroke-width="1.2" stroke-linejoin="miter"/><polygon points="922.96,310.96 916.11,322.74 929.81,322.74" fill="#fff" stroke="#58a95a" stroke-width="1.2" stroke-linejoin="miter"/><polygon points="935.64,269.88 928.79,281.66 942.49,281.66" fill="#fff" stroke="#58a95a" stroke-width="1.2" stroke-linejoin="miter"/><polygon points="944.4,239.75 937.55,251.53 951.25,251.53" fill="#fff" stroke="#58a95a" stroke-width="1.2" stroke-linejoin="miter"/><polygon points="956.48,191.13 949.63,202.91 963.33,202.91" fill="#fff" stroke="#58a95a" stroke-width="1.2" stroke-linejoin="miter"/><polygon points="968.25,159.98 961.4,171.76 975.1,171.76" fill="#fff" stroke="#58a95a" stroke-width="1.2" stroke-linejoin="miter"/><polygon points="977.61,129.85 970.76,141.63 984.46,141.63" fill="#fff" stroke="#58a95a" stroke-width="1.2" stroke-linejoin="miter"/><polygon points="986.97,121.29 980.12,133.07 993.82,133.07" fill="#fff" stroke="#58a95a" stroke-width="1.2" stroke-linejoin="miter"/><polygon points="997.54,121.29 990.69,133.07 1004.39,133.07" fill="#fff" stroke="#58a95a" stroke-width="1.2" stroke-linejoin="miter"/><polygon points="1011.13,121.29 1004.28,133.07 1017.98,133.07" fill="#fff" stroke="#58a95a" stroke-width="1.2" stroke-linejoin="miter"/><polygon points="1023.21,121.29 1016.36,133.07 1030.06,133.07" fill="#fff" stroke="#58a95a" stroke-width="1.2" stroke-linejoin="miter"/><polygon points="1035.28,121.29 1028.43,133.07 1042.13,133.07" fill="#fff" stroke="#58a95a" stroke-width="1.2" stroke-linejoin="miter"/><polygon points="1047.36,121.29 1040.51,133.07 1054.21,133.07" fill="#fff" stroke="#58a95a" stroke-width="1.2" stroke-linejoin="miter"/><polygon points="1060.95,121.29 1054.1,133.07 1067.8,133.07" fill="#fff" stroke="#58a95a" stroke-width="1.2" stroke-linejoin="miter"/><polygon points="1073.03,121.29 1066.18,133.07 1079.88,133.07" fill="#fff" stroke="#58a95a" stroke-width="1.2" stroke-linejoin="miter"/><polygon points="1086.61,121.29 1079.76,133.07 1093.46,133.07" fill="#fff" stroke="#58a95a" stroke-width="1.2" stroke-linejoin="miter"/><polygon points="1098.69,121.29 1091.84,133.07 1105.54,133.07" fill="#fff" stroke="#58a95a" stroke-width="1.2" stroke-linejoin="miter"/><polygon points="1110.77,121.29 1103.92,133.07 1117.62,133.07" fill="#fff" stroke="#58a95a" stroke-width="1.2" stroke-linejoin="miter"/></g>
<path d="M836.32 464.97L851.08 184.23M853.48 172.61L865.02 141.41M872.91 134.29L877.29 133.17M913.25 129.24L917.27 128.98M929.26 128.59L932.96 128.59M957.04 128.59L961.35 128.59M985.12 128.59L989.12 128.59M1001.12 128.59L1004.52 128.59M1028.6 128.59L1028.98 128.59M1040.98 128.59L1044.98 128.59M1056.98 128.59L1060.08 128.59M1072.08 128.59L1072.76 128.59M1084.76 128.59L1088.16 128.59M1100.16 128.59L1100.84 128.59M1112.84 128.59L1115.94 128.59M1127.94 128.59L1131.64 128.59M1143.64 128.59L1144.02 128.59M1168.1 128.59L1171.8 128.59M1183.8 128.59L1187.5 128.59M1211.58 128.59L1215.58 128.59M1239.66 128.59L1243.66 128.59M1267.74 128.59L1271.44 128.59M1283.44 128.59L1283.82 128.59M1295.82 128.59L1299.83 128.59M1311.83 128.59L1315.83 128.59M1339.91 128.59L1343.31 128.59M1355.31 128.59L1355.69 128.59M1367.69 128.59L1371.39 128.59M1383.39 128.59L1387.39 128.59M1399.39 128.59L1399.77 128.59" stroke="#4a80bf" stroke-width="3" fill="none"/>
<g><rect x="831" y="465.96" width="10" height="10" fill="#4a80bf"/><rect x="846.4" y="173.24" width="10" height="10" fill="#4a80bf"/><rect x="862.1" y="130.78" width="10" height="10" fill="#4a80bf"/><rect x="878.1" y="126.67" width="10" height="10" fill="#4a80bf"/><rect x="890.18" y="125.3" width="10" height="10" fill="#4a80bf"/><rect x="902.26" y="124.62" width="10" height="10" fill="#4a80bf"/><rect x="918.26" y="123.59" width="10" height="10" fill="#4a80bf"/><rect x="933.96" y="123.59" width="10" height="10" fill="#4a80bf"/><rect x="946.04" y="123.59" width="10" height="10" fill="#4a80bf"/><rect x="962.35" y="123.59" width="10" height="10" fill="#4a80bf"/><rect x="974.12" y="123.59" width="10" height="10" fill="#4a80bf"/><rect x="990.12" y="123.59" width="10" height="10" fill="#4a80bf"/><rect x="1005.52" y="123.59" width="10" height="10" fill="#4a80bf"/><rect x="1017.6" y="123.59" width="10" height="10" fill="#4a80bf"/><rect x="1029.98" y="123.59" width="10" height="10" fill="#4a80bf"/><rect x="1045.98" y="123.59" width="10" height="10" fill="#4a80bf"/><rect x="1061.08" y="123.59" width="10" height="10" fill="#4a80bf"/><rect x="1073.76" y="123.59" width="10" height="10" fill="#4a80bf"/><rect x="1089.16" y="123.59" width="10" height="10" fill="#4a80bf"/><rect x="1101.84" y="123.59" width="10" height="10" fill="#4a80bf"/><rect x="1116.94" y="123.59" width="10" height="10" fill="#4a80bf"/><rect x="1132.64" y="123.59" width="10" height="10" fill="#4a80bf"/><rect x="1145.02" y="123.59" width="10" height="10" fill="#4a80bf"/><rect x="1157.1" y="123.59" width="10" height="10" fill="#4a80bf"/><rect x="1172.8" y="123.59" width="10" height="10" fill="#4a80bf"/><rect x="1188.5" y="123.59" width="10" height="10" fill="#4a80bf"/><rect x="1200.58" y="123.59" width="10" height="10" fill="#4a80bf"/><rect x="1216.58" y="123.59" width="10" height="10" fill="#4a80bf"/><rect x="1228.66" y="123.59" width="10" height="10" fill="#4a80bf"/><rect x="1244.66" y="123.59" width="10" height="10" fill="#4a80bf"/><rect x="1256.74" y="123.59" width="10" height="10" fill="#4a80bf"/><rect x="1272.44" y="123.59" width="10" height="10" fill="#4a80bf"/><rect x="1284.82" y="123.59" width="10" height="10" fill="#4a80bf"/><rect x="1300.83" y="123.59" width="10" height="10" fill="#4a80bf"/><rect x="1316.83" y="123.59" width="10" height="10" fill="#4a80bf"/><rect x="1328.91" y="123.59" width="10" height="10" fill="#4a80bf"/><rect x="1344.31" y="123.59" width="10" height="10" fill="#4a80bf"/><rect x="1356.69" y="123.59" width="10" height="10" fill="#4a80bf"/><rect x="1372.39" y="123.59" width="10" height="10" fill="#4a80bf"/><rect x="1388.39" y="123.59" width="10" height="10" fill="#4a80bf"/><rect x="1400.77" y="123.59" width="10" height="10" fill="#4a80bf"/></g>
<path d="M842.8 470.96L844.6 470.96M858.2 470.96L860.3 470.96M873.9 470.96L876.3 470.96M913.91 469.57L916.61 469M929.76 465.59L932.47 464.76M943.28 457.49L946.73 453.28M953.37 441.64L965.02 409.71M968.95 396.71L977.52 361.49M981.01 348.35L993.24 305.99M997.08 292.94L1008.57 254.59M1012.38 241.54L1020.74 212.17M1024.66 199.14L1032.92 173.11M1036.79 160.07L1049.17 115.28M1054.72 103.05L1062.34 91.48M1071.72 81.99L1073.13 81.04M1085.56 77.24L1087.36 77.24M1112.36 84.72L1116.42 87.64M1126.3 96.84L1133.29 105.22M1142.53 115.18L1145.14 117.7M1168.9 128.59L1171 128.59M1184.6 128.59L1186.7 128.59M1212.38 128.59L1214.78 128.59M1240.46 128.59L1242.86 128.59M1268.54 128.59L1270.64 128.59M1296.62 128.59L1299.03 128.59M1312.63 128.59L1315.03 128.59M1340.71 128.59L1342.51 128.59M1368.49 128.59L1370.59 128.59M1384.19 128.59L1386.59 128.59" stroke="#f58e3e" stroke-width="2.5" fill="none"/>
<g><circle cx="836" cy="470.96" r="5.8" fill="#f58e3e"/><circle cx="851.4" cy="470.96" r="5.8" fill="#f58e3e"/><circle cx="867.1" cy="470.96" r="5.8" fill="#f58e3e"/><circle cx="883.1" cy="470.96" r="5.8" fill="#f58e3e"/><circle cx="895.18" cy="470.96" r="5.8" fill="#f58e3e"/><circle cx="907.26" cy="470.96" r="5.8" fill="#f58e3e"/><circle cx="923.26" cy="467.6" r="5.8" fill="#f58e3e"/><circle cx="938.96" cy="462.75" r="5.8" fill="#f58e3e"/><circle cx="951.04" cy="448.02" r="5.8" fill="#f58e3e"/><circle cx="967.35" cy="403.32" r="5.8" fill="#f58e3e"/><circle cx="979.12" cy="354.88" r="5.8" fill="#f58e3e"/><circle cx="995.12" cy="299.46" r="5.8" fill="#f58e3e"/><circle cx="1010.52" cy="248.08" r="5.8" fill="#f58e3e"/><circle cx="1022.6" cy="205.63" r="5.8" fill="#f58e3e"/><circle cx="1034.98" cy="166.63" r="5.8" fill="#f58e3e"/><circle cx="1050.98" cy="108.73" r="5.8" fill="#f58e3e"/><circle cx="1066.08" cy="85.8" r="5.8" fill="#f58e3e"/><circle cx="1078.76" cy="77.24" r="5.8" fill="#f58e3e"/><circle cx="1094.16" cy="77.24" r="5.8" fill="#f58e3e"/><circle cx="1106.84" cy="80.75" r="5.8" fill="#f58e3e"/><circle cx="1121.94" cy="91.62" r="5.8" fill="#f58e3e"/><circle cx="1137.64" cy="110.45" r="5.8" fill="#f58e3e"/><circle cx="1150.02" cy="122.43" r="5.8" fill="#f58e3e"/><circle cx="1162.1" cy="128.59" r="5.8" fill="#f58e3e"/><circle cx="1177.8" cy="128.59" r="5.8" fill="#f58e3e"/><circle cx="1193.5" cy="128.59" r="5.8" fill="#f58e3e"/><circle cx="1205.58" cy="128.59" r="5.8" fill="#f58e3e"/><circle cx="1221.58" cy="128.59" r="5.8" fill="#f58e3e"/><circle cx="1233.66" cy="128.59" r="5.8" fill="#f58e3e"/><circle cx="1249.66" cy="128.59" r="5.8" fill="#f58e3e"/><circle cx="1261.74" cy="128.59" r="5.8" fill="#f58e3e"/><circle cx="1277.44" cy="128.59" r="5.8" fill="#f58e3e"/><circle cx="1289.82" cy="128.59" r="5.8" fill="#f58e3e"/><circle cx="1305.83" cy="128.59" r="5.8" fill="#f58e3e"/><circle cx="1321.83" cy="128.59" r="5.8" fill="#f58e3e"/><circle cx="1333.91" cy="128.59" r="5.8" fill="#f58e3e"/><circle cx="1349.31" cy="128.59" r="5.8" fill="#f58e3e"/><circle cx="1361.69" cy="128.59" r="5.8" fill="#f58e3e"/><circle cx="1377.39" cy="128.59" r="5.8" fill="#f58e3e"/><circle cx="1393.39" cy="128.59" r="5.8" fill="#f58e3e"/><circle cx="1405.77" cy="128.59" r="5.8" fill="#f58e3e"/></g>
<path d="M874.95 470.96L875.25 470.96M915.11 470.96L915.41 470.96M958.89 470.96L959.5 470.96M986.97 470.96L987.27 470.96M1042.83 470.96L1043.13 470.96M1129.49 465.4L1130.09 465.23M1142.24 456.73L1145.42 452.33M1153.12 438.76L1159 425.11M1164.66 410.47L1175.24 379.78M1179.77 364.76L1191.53 319.36M1194.94 304.04L1204.14 254.77M1207.55 239.45L1219.61 193.02M1223.83 177.9L1231.41 152.55M1238.91 139.19L1244.42 133.06M1297.67 127.36L1297.98 127.36M1313.68 127.4L1313.98 127.4M1385.24 127.6L1385.54 127.6" stroke="#58a95a" stroke-width="2.5" fill="none"/>
<g><polygon points="836,463.66 829.15,475.44 842.85,475.44" fill="#58a95a"/><polygon points="851.4,463.66 844.55,475.44 858.25,475.44" fill="#58a95a"/><polygon points="867.1,463.66 860.25,475.44 873.95,475.44" fill="#58a95a"/><polygon points="883.1,463.66 876.25,475.44 889.95,475.44" fill="#58a95a"/><polygon points="895.18,463.66 888.33,475.44 902.03,475.44" fill="#58a95a"/><polygon points="907.26,463.66 900.41,475.44 914.11,475.44" fill="#58a95a"/><polygon points="923.26,463.66 916.41,475.44 930.11,475.44" fill="#58a95a"/><polygon points="938.96,463.66 932.11,475.44 945.81,475.44" fill="#58a95a"/><polygon points="951.04,463.66 944.19,475.44 957.89,475.44" fill="#58a95a"/><polygon points="967.35,463.66 960.5,475.44 974.2,475.44" fill="#58a95a"/><polygon points="979.12,463.66 972.27,475.44 985.97,475.44" fill="#58a95a"/><polygon points="995.12,463.66 988.27,475.44 1001.97,475.44" fill="#58a95a"/><polygon points="1010.52,463.66 1003.67,475.44 1017.37,475.44" fill="#58a95a"/><polygon points="1022.6,463.66 1015.75,475.44 1029.45,475.44" fill="#58a95a"/><polygon points="1034.98,463.66 1028.13,475.44 1041.83,475.44" fill="#58a95a"/><polygon points="1050.98,463.66 1044.13,475.44 1057.83,475.44" fill="#58a95a"/><polygon points="1066.08,463.66 1059.23,475.44 1072.93,475.44" fill="#58a95a"/><polygon points="1078.76,463.66 1071.91,475.44 1085.61,475.44" fill="#58a95a"/><polygon points="1094.16,463.66 1087.31,475.44 1101.01,475.44" fill="#58a95a"/><polygon points="1106.84,463.66 1099.99,475.44 1113.69,475.44" fill="#58a95a"/><polygon points="1121.94,460.23 1115.09,472.02 1128.79,472.02" fill="#58a95a"/><polygon points="1137.64,455.78 1130.79,467.57 1144.49,467.57" fill="#58a95a"/><polygon points="1150.02,438.67 1143.17,450.45 1156.87,450.45" fill="#58a95a"/><polygon points="1162.1,410.59 1155.25,422.37 1168.95,422.37" fill="#58a95a"/><polygon points="1177.8,365.06 1170.95,376.84 1184.65,376.84" fill="#58a95a"/><polygon points="1193.5,304.46 1186.65,316.24 1200.35,316.24" fill="#58a95a"/><polygon points="1205.58,239.75 1198.73,251.53 1212.43,251.53" fill="#58a95a"/><polygon points="1221.58,178.12 1214.73,189.9 1228.43,189.9" fill="#58a95a"/><polygon points="1233.66,137.72 1226.81,149.5 1240.51,149.5" fill="#58a95a"/><polygon points="1249.66,119.92 1242.81,131.7 1256.51,131.7" fill="#58a95a"/><polygon points="1261.74,119.95 1254.89,131.73 1268.59,131.73" fill="#58a95a"/><polygon points="1277.44,120 1270.59,131.78 1284.29,131.78" fill="#58a95a"/><polygon points="1289.82,120.03 1282.97,131.81 1296.67,131.81" fill="#58a95a"/><polygon points="1305.83,120.07 1298.98,131.86 1312.68,131.86" fill="#58a95a"/><polygon points="1321.83,120.12 1314.98,131.9 1328.68,131.9" fill="#58a95a"/><polygon points="1333.91,120.15 1327.06,131.93 1340.76,131.93" fill="#58a95a"/><polygon points="1349.31,120.2 1342.46,131.98 1356.16,131.98" fill="#58a95a"/><polygon points="1361.69,120.23 1354.84,132.01 1368.54,132.01" fill="#58a95a"/><polygon points="1377.39,120.27 1370.54,132.06 1384.24,132.06" fill="#58a95a"/><polygon points="1393.39,120.32 1386.54,132.1 1400.24,132.1" fill="#58a95a"/><polygon points="1405.77,120.35 1398.92,132.13 1412.62,132.13" fill="#58a95a"/></g>
<text x="873.2" y="261" font-size="24" text-anchor="start" fill="#4a80bf" transform="rotate(-90 873.2 261)"><tspan>CH</tspan><tspan dy="6.2" font-size="16">4</tspan></text>
<text x="914.2" y="272.5" font-size="24" text-anchor="start" fill="#f58e3e" transform="rotate(-90 914.2 272.5)"><tspan>AA C</tspan><tspan dy="6.2" font-size="16">2</tspan><tspan dy="-6.2">H</tspan><tspan dy="6.2" font-size="16">6</tspan></text>
<text x="989.2" y="272.5" font-size="24" text-anchor="start" fill="#58a95a" transform="rotate(-90 989.2 272.5)"><tspan>AA C</tspan><tspan dy="6.2" font-size="16">3</tspan><tspan dy="-6.2">H</tspan><tspan dy="6.2" font-size="16">8</tspan></text>
<text x="1063.5" y="312" font-size="24" text-anchor="start" fill="#f58e3e" transform="rotate(-90 1063.5 312)"><tspan>Inclined C</tspan><tspan dy="6.2" font-size="16">2</tspan><tspan dy="-6.2">H</tspan><tspan dy="6.2" font-size="16">6</tspan></text>
<text x="1181.4" y="312" font-size="24" text-anchor="start" fill="#58a95a" transform="rotate(-90 1181.4 312)"><tspan>Inclined C</tspan><tspan dy="6.2" font-size="16">3</tspan><tspan dy="-6.2">H</tspan><tspan dy="6.2" font-size="16">8</tspan></text>
<text x="1143" y="73" font-size="24" text-anchor="start" fill="#000"><tspan>CH</tspan><tspan dy="6.2" font-size="16">4</tspan><tspan dy="-6.2">: C</tspan><tspan dy="6.2" font-size="16">2</tspan><tspan dy="-6.2">H</tspan><tspan dy="6.2" font-size="16">6</tspan><tspan dy="-6.2">: C</tspan><tspan dy="6.2" font-size="16">3</tspan><tspan dy="-6.2">H</tspan><tspan dy="6.2" font-size="16">8</tspan><tspan dy="-6.2">=85:10:5</tspan></text>
<path d="M1202.5 314.5H1225.25M1235.25 314.5H1258" stroke="#4a80bf" stroke-width="2"/>
<rect x="1225.85" y="310.1" width="8.8" height="8.8" fill="#fff" stroke="#4a80bf" stroke-width="1.2"/>
<text x="1263.5" y="322.5" font-size="24" text-anchor="start" fill="#000"><tspan>CH</tspan><tspan dy="6" font-size="16">4</tspan><tspan dy="-6"> AA</tspan></text>
<path d="M1202.5 349.6H1224.4M1236.1 349.6H1258" stroke="#f58e3e" stroke-width="2"/>
<circle cx="1230.25" cy="349.6" r="5.25" fill="#fff" stroke="#f58e3e" stroke-width="1.2"/>
<text x="1263.5" y="357.6" font-size="24" text-anchor="start" fill="#000"><tspan>C</tspan><tspan dy="6" font-size="16">2</tspan><tspan dy="-6">H</tspan><tspan dy="6" font-size="16">6</tspan><tspan dy="-6"> AA</tspan></text>
<path d="M1202.5 384.7H1223.4M1237.1 384.7H1258" stroke="#58a95a" stroke-width="2"/>
<polygon points="1230.25,377.4 1223.4,389.18 1237.1,389.18" fill="#fff" stroke="#58a95a" stroke-width="1.2" stroke-linejoin="miter"/>
<text x="1263.5" y="392.7" font-size="24" text-anchor="start" fill="#000"><tspan>C</tspan><tspan dy="6" font-size="16">3</tspan><tspan dy="-6">H</tspan><tspan dy="6" font-size="16">8</tspan><tspan dy="-6"> AA</tspan></text>
<path d="M1202.5 419.8H1225.25M1235.25 419.8H1258" stroke="#4a80bf" stroke-width="2"/>
<rect x="1225.25" y="414.8" width="10" height="10" fill="#4a80bf"/>
<text x="1263.5" y="427.8" font-size="24" text-anchor="start" fill="#000"><tspan>CH</tspan><tspan dy="6" font-size="16">4</tspan><tspan dy="-6"> Inclined</tspan></text>
<path d="M1202.5 454.9H1224.4M1236.1 454.9H1258" stroke="#f58e3e" stroke-width="2"/>
<circle cx="1230.25" cy="454.9" r="5.85" fill="#f58e3e"/>
<text x="1263.5" y="462.9" font-size="24" text-anchor="start" fill="#000"><tspan>C</tspan><tspan dy="6" font-size="16">2</tspan><tspan dy="-6">H</tspan><tspan dy="6" font-size="16">6</tspan><tspan dy="-6"> Inclined</tspan></text>
<path d="M1202.5 490H1223.4M1237.1 490H1258" stroke="#58a95a" stroke-width="2"/>
<polygon points="1230.25,482.7 1223.4,494.48 1237.1,494.48" fill="#58a95a"/>
<text x="1263.5" y="498" font-size="24" text-anchor="start" fill="#000"><tspan>C</tspan><tspan dy="6" font-size="16">3</tspan><tspan dy="-6">H</tspan><tspan dy="6" font-size="16">8</tspan><tspan dy="-6"> Inclined</tspan></text>
<path d="M127.4 1087.8V1096.8M232.04 1087.8V1096.8M336.67 1087.8V1096.8M441.31 1087.8V1096.8M545.95 1087.8V1096.8M650.58 1087.8V1096.8M179.72 1087.8V1092.8M284.35 1087.8V1092.8M388.99 1087.8V1092.8M493.63 1087.8V1092.8M598.26 1087.8V1092.8M702.9 1087.8V1092.8M127.4 1087.8H118.4M127.4 1016.91H118.4M127.4 946.02H118.4M127.4 875.12H118.4M127.4 804.23H118.4M127.4 733.34H118.4M127.4 662.45H118.4M127.4 1052.35H122.4M127.4 981.46H122.4M127.4 910.57H122.4M127.4 839.68H122.4M127.4 768.78H122.4M127.4 697.89H122.4M127.4 627H122.4" stroke="#000" stroke-width="2.2" fill="none"/>
<rect x="127.4" y="627" width="575.5" height="460.8" stroke="#000" stroke-width="2.2" fill="none"/>
<text x="127.4" y="1126.4" font-size="31" text-anchor="middle" fill="#000"><tspan>0.0</tspan></text>
<text x="232.04" y="1126.4" font-size="31" text-anchor="middle" fill="#000"><tspan>0.2</tspan></text>
<text x="336.67" y="1126.4" font-size="31" text-anchor="middle" fill="#000"><tspan>0.4</tspan></text>
<text x="441.31" y="1126.4" font-size="31" text-anchor="middle" fill="#000"><tspan>0.6</tspan></text>
<text x="545.95" y="1126.4" font-size="31" text-anchor="middle" fill="#000"><tspan>0.8</tspan></text>
<text x="650.58" y="1126.4" font-size="31" text-anchor="middle" fill="#000"><tspan>1.0</tspan></text>
<text x="112.4" y="1098.03" font-size="31" text-anchor="end" fill="#000"><tspan>0</tspan></text>
<text x="112.4" y="1027.14" font-size="31" text-anchor="end" fill="#000"><tspan>20</tspan></text>
<text x="112.4" y="956.25" font-size="31" text-anchor="end" fill="#000"><tspan>40</tspan></text>
<text x="112.4" y="885.35" font-size="31" text-anchor="end" fill="#000"><tspan>60</tspan></text>
<text x="112.4" y="814.46" font-size="31" text-anchor="end" fill="#000"><tspan>80</tspan></text>
<text x="112.4" y="743.57" font-size="31" text-anchor="end" fill="#000"><tspan>100</tspan></text>
<text x="112.4" y="672.68" font-size="31" text-anchor="end" fill="#000"><tspan>120</tspan></text>
<text x="25.55" y="641.5" font-size="78" text-anchor="start" fill="#000"><tspan>c</tspan></text>
<text x="415" y="1177.6" font-size="40" text-anchor="middle" fill="#000"><tspan>Pressure (bar)</tspan></text>
<text x="61.8" y="857" font-size="40" text-anchor="middle" fill="#000" transform="rotate(-90 61.8 857)"><tspan>STP(cc/g)</tspan></text>
<path d="M183.77 1069.3L194.5 1067.31M229.35 1062.6L243.62 1060.89M256.01 1059.25L280.26 1055.73M292.66 1054.18L323.66 1050.89M336.08 1049.51L382.26 1044.21M394.68 1042.8L411.03 1040.99M423.47 1039.75L442.93 1038.02M455.38 1036.86L511.47 1031.34M523.91 1030.08L538.68 1028.54M551.11 1027.18L560.14 1026.13M572.57 1024.78L611.93 1020.74M624.36 1019.48L640.7 1017.88" stroke="#fd8080" stroke-width="1.1" fill="none"/>
<g><rect x="131.12" y="1076.42" width="9.3" height="9.3" fill="#fff" stroke="#fd8080" stroke-width="1.2"/><rect x="142.11" y="1072.52" width="9.3" height="9.3" fill="#fff" stroke="#fd8080" stroke-width="1.2"/><rect x="153.09" y="1069.68" width="9.3" height="9.3" fill="#fff" stroke="#fd8080" stroke-width="1.2"/><rect x="161.47" y="1066.84" width="9.3" height="9.3" fill="#fff" stroke="#fd8080" stroke-width="1.2"/><rect x="172.98" y="1065.78" width="9.3" height="9.3" fill="#fff" stroke="#fd8080" stroke-width="1.2"/><rect x="196" y="1061.53" width="9.3" height="9.3" fill="#fff" stroke="#fd8080" stroke-width="1.2"/><rect x="206.46" y="1060.82" width="9.3" height="9.3" fill="#fff" stroke="#fd8080" stroke-width="1.2"/><rect x="218.49" y="1058.69" width="9.3" height="9.3" fill="#fff" stroke="#fd8080" stroke-width="1.2"/><rect x="245.17" y="1055.5" width="9.3" height="9.3" fill="#fff" stroke="#fd8080" stroke-width="1.2"/><rect x="281.8" y="1050.19" width="9.3" height="9.3" fill="#fff" stroke="#fd8080" stroke-width="1.2"/><rect x="325.22" y="1045.58" width="9.3" height="9.3" fill="#fff" stroke="#fd8080" stroke-width="1.2"/><rect x="383.82" y="1038.84" width="9.3" height="9.3" fill="#fff" stroke="#fd8080" stroke-width="1.2"/><rect x="412.59" y="1035.65" width="9.3" height="9.3" fill="#fff" stroke="#fd8080" stroke-width="1.2"/><rect x="444.51" y="1032.82" width="9.3" height="9.3" fill="#fff" stroke="#fd8080" stroke-width="1.2"/><rect x="513.04" y="1026.08" width="9.3" height="9.3" fill="#fff" stroke="#fd8080" stroke-width="1.2"/><rect x="540.25" y="1023.25" width="9.3" height="9.3" fill="#fff" stroke="#fd8080" stroke-width="1.2"/><rect x="561.7" y="1020.76" width="9.3" height="9.3" fill="#fff" stroke="#fd8080" stroke-width="1.2"/><rect x="613.49" y="1015.45" width="9.3" height="9.3" fill="#fff" stroke="#fd8080" stroke-width="1.2"/><rect x="642.27" y="1012.61" width="9.3" height="9.3" fill="#fff" stroke="#fd8080" stroke-width="1.2"/><rect x="654.83" y="1011.19" width="9.3" height="9.3" fill="#fff" stroke="#fd8080" stroke-width="1.2"/></g>
<path d="M137.25 1073.45L197.07 1064.93M209.44 1063.08L246.79 1057.22M259.16 1055.44L325.24 1046.79M337.66 1045.36L422.01 1037.02M434.45 1035.78L506.77 1028.52M519.21 1027.32L556.46 1023.86M578.32 1023.38L640.7 1017.17" stroke="#fd8080" stroke-width="1.1" fill="none"/>
<g><rect x="126.41" y="1069.68" width="9.3" height="9.3" fill="#fff" stroke="#fd8080" stroke-width="1.2"/><rect x="198.61" y="1059.4" width="9.3" height="9.3" fill="#fff" stroke="#fd8080" stroke-width="1.2"/><rect x="248.31" y="1051.6" width="9.3" height="9.3" fill="#fff" stroke="#fd8080" stroke-width="1.2"/><rect x="326.79" y="1041.32" width="9.3" height="9.3" fill="#fff" stroke="#fd8080" stroke-width="1.2"/><rect x="423.58" y="1031.75" width="9.3" height="9.3" fill="#fff" stroke="#fd8080" stroke-width="1.2"/><rect x="508.34" y="1023.25" width="9.3" height="9.3" fill="#fff" stroke="#fd8080" stroke-width="1.2"/><rect x="558.04" y="1018.64" width="9.3" height="9.3" fill="#fff" stroke="#fd8080" stroke-width="1.2"/><rect x="567.45" y="1019.35" width="9.3" height="9.3" fill="#fff" stroke="#fd8080" stroke-width="1.2"/><rect x="642.27" y="1011.9" width="9.3" height="9.3" fill="#fff" stroke="#fd8080" stroke-width="1.2"/></g>
<path d="M136.46 1068.69L139.27 1066.5M150.62 1058.89L151.79 1058.22M163.97 1051.97L166.17 1050.96M178.88 1045.9L182.65 1044.63M233.97 1028.71L248.94 1024.96M262.24 1021.68L279.79 1017.45M293.13 1014.35L324.23 1007.41M337.6 1004.4L383.36 993.97M396.66 990.7L411.67 986.75M424.94 983.36L444.6 978.5M457.9 975.21L508.95 962.55M522.33 959.61L536.6 956.88M550.1 954.53L561.67 952.74M575.21 950.66L608.23 945.63M621.63 942.86L638.2 938.53" stroke="#7fb4df" stroke-width="1.1" fill="none"/>
<g><circle cx="131.06" cy="1072.91" r="5.25" fill="#fff" stroke="#7fb4df" stroke-width="1.2"/><circle cx="144.67" cy="1062.28" r="5.25" fill="#fff" stroke="#7fb4df" stroke-width="1.2"/><circle cx="157.74" cy="1054.84" r="5.25" fill="#fff" stroke="#7fb4df" stroke-width="1.2"/><circle cx="172.39" cy="1048.1" r="5.25" fill="#fff" stroke="#7fb4df" stroke-width="1.2"/><circle cx="189.14" cy="1042.43" r="5.25" fill="#fff" stroke="#7fb4df" stroke-width="1.2"/><circle cx="201.69" cy="1038.18" r="5.25" fill="#fff" stroke="#7fb4df" stroke-width="1.2"/><circle cx="214.77" cy="1033.92" r="5.25" fill="#fff" stroke="#7fb4df" stroke-width="1.2"/><circle cx="227.33" cy="1030.38" r="5.25" fill="#fff" stroke="#7fb4df" stroke-width="1.2"/><circle cx="255.58" cy="1023.29" r="5.25" fill="#fff" stroke="#7fb4df" stroke-width="1.2"/><circle cx="286.45" cy="1015.84" r="5.25" fill="#fff" stroke="#7fb4df" stroke-width="1.2"/><circle cx="330.92" cy="1005.92" r="5.25" fill="#fff" stroke="#7fb4df" stroke-width="1.2"/><circle cx="390.04" cy="992.45" r="5.25" fill="#fff" stroke="#7fb4df" stroke-width="1.2"/><circle cx="418.29" cy="985.01" r="5.25" fill="#fff" stroke="#7fb4df" stroke-width="1.2"/><circle cx="451.25" cy="976.85" r="5.25" fill="#fff" stroke="#7fb4df" stroke-width="1.2"/><circle cx="515.6" cy="960.9" r="5.25" fill="#fff" stroke="#7fb4df" stroke-width="1.2"/><circle cx="543.33" cy="955.59" r="5.25" fill="#fff" stroke="#7fb4df" stroke-width="1.2"/><circle cx="568.44" cy="951.69" r="5.25" fill="#fff" stroke="#7fb4df" stroke-width="1.2"/><circle cx="615.01" cy="944.6" r="5.25" fill="#fff" stroke="#7fb4df" stroke-width="1.2"/><circle cx="644.83" cy="936.8" r="5.25" fill="#fff" stroke="#7fb4df" stroke-width="1.2"/><circle cx="655.81" cy="933.96" r="5.25" fill="#fff" stroke="#7fb4df" stroke-width="1.2"/></g>
<path d="M181.32 1032.67L202.19 1023.83M215.01 1019.06L245.92 1009.09M259.12 1005.47L319.53 991.83M332.9 988.87L417.35 970.51M430.76 967.71L527.2 948.42M540.68 946.01L567.43 941.77M581 939.94L640.11 933.31M653.76 932.14L657.87 931.89" stroke="#7fb4df" stroke-width="1.1" fill="none"/>
<g><circle cx="175.01" cy="1035.34" r="5.25" fill="#fff" stroke="#7fb4df" stroke-width="1.2"/><circle cx="208.49" cy="1021.16" r="5.25" fill="#fff" stroke="#7fb4df" stroke-width="1.2"/><circle cx="252.44" cy="1006.98" r="5.25" fill="#fff" stroke="#7fb4df" stroke-width="1.2"/><circle cx="326.21" cy="990.32" r="5.25" fill="#fff" stroke="#7fb4df" stroke-width="1.2"/><circle cx="424.04" cy="969.06" r="5.25" fill="#fff" stroke="#7fb4df" stroke-width="1.2"/><circle cx="533.91" cy="947.08" r="5.25" fill="#fff" stroke="#7fb4df" stroke-width="1.2"/><circle cx="574.2" cy="940.7" r="5.25" fill="#fff" stroke="#7fb4df" stroke-width="1.2"/><circle cx="646.92" cy="932.55" r="5.25" fill="#fff" stroke="#7fb4df" stroke-width="1.2"/><circle cx="664.71" cy="931.48" r="5.25" fill="#fff" stroke="#7fb4df" stroke-width="1.2"/></g>
<path d="M146.53 1047.18L151.7 1037.33M157.78 1026.41L165.03 1014.14M171.5 1003.44L171.72 1003.08M178.38 992.5L183.67 984.24M195.75 963.86L201.36 955.47M208.03 944.9L212.62 937.21M228.48 919.14L253.38 892.78M262.97 884.92L293.71 865.68M304.38 859.17L323.45 847.83M344.72 842.03L396.12 825.63M408.01 821.77L414.45 819.65M436.02 811.03L447.65 809.83M459.91 807.61L507.46 795.18M531.6 793.48L536.23 792.3M548.38 789.38L562.87 786.11M575.15 783.86L615.62 778.16M627.95 776.14L643.92 773.13M656.27 771.33L657.45 771.2" stroke="#fd8080" stroke-width="1.1" fill="none"/>
<g><rect x="125.81" y="1068.73" width="10.5" height="10.5" fill="#fd8080"/><rect x="132.09" y="1057.74" width="10.5" height="10.5" fill="#fd8080"/><rect x="138.37" y="1047.46" width="10.5" height="10.5" fill="#fd8080"/><rect x="149.36" y="1026.55" width="10.5" height="10.5" fill="#fd8080"/><rect x="162.96" y="1003.51" width="10.5" height="10.5" fill="#fd8080"/><rect x="169.76" y="992.52" width="10.5" height="10.5" fill="#fd8080"/><rect x="181.79" y="973.73" width="10.5" height="10.5" fill="#fd8080"/><rect x="187.02" y="963.81" width="10.5" height="10.5" fill="#fd8080"/><rect x="199.58" y="945.02" width="10.5" height="10.5" fill="#fd8080"/><rect x="210.57" y="926.59" width="10.5" height="10.5" fill="#fd8080"/><rect x="218.94" y="918.43" width="10.5" height="10.5" fill="#fd8080"/><rect x="252.42" y="882.99" width="10.5" height="10.5" fill="#fd8080"/><rect x="293.75" y="857.11" width="10.5" height="10.5" fill="#fd8080"/><rect x="323.57" y="839.39" width="10.5" height="10.5" fill="#fd8080"/><rect x="333.52" y="838.68" width="10.5" height="10.5" fill="#fd8080"/><rect x="396.82" y="818.48" width="10.5" height="10.5" fill="#fd8080"/><rect x="415.13" y="812.45" width="10.5" height="10.5" fill="#fd8080"/><rect x="424.55" y="806.42" width="10.5" height="10.5" fill="#fd8080"/><rect x="448.62" y="803.94" width="10.5" height="10.5" fill="#fd8080"/><rect x="508.26" y="788.35" width="10.5" height="10.5" fill="#fd8080"/><rect x="520.29" y="789.76" width="10.5" height="10.5" fill="#fd8080"/><rect x="537.03" y="785.51" width="10.5" height="10.5" fill="#fd8080"/><rect x="563.72" y="779.49" width="10.5" height="10.5" fill="#fd8080"/><rect x="616.56" y="772.04" width="10.5" height="10.5" fill="#fd8080"/><rect x="644.81" y="766.72" width="10.5" height="10.5" fill="#fd8080"/><rect x="658.41" y="765.31" width="10.5" height="10.5" fill="#fd8080"/></g>
<path d="M180.31 987.01L189.59 971.46M196.45 961.02L223.16 923.86M231.11 914.25L253.89 890.22M263.56 882.48L326.08 845.09M337.43 840.11L414.39 817.35M426.48 814.22L563.39 783.87M575.66 781.55L644.41 770.74" stroke="#fd8080" stroke-width="1.1" fill="none"/>
<g><rect x="171.85" y="987.13" width="10.5" height="10.5" fill="#fd8080"/><rect x="187.55" y="960.84" width="10.5" height="10.5" fill="#fd8080"/><rect x="221.55" y="913.53" width="10.5" height="10.5" fill="#fd8080"/><rect x="252.95" y="880.44" width="10.5" height="10.5" fill="#fd8080"/><rect x="326.19" y="836.63" width="10.5" height="10.5" fill="#fd8080"/><rect x="415.13" y="810.32" width="10.5" height="10.5" fill="#fd8080"/><rect x="564.24" y="777.27" width="10.5" height="10.5" fill="#fd8080"/><rect x="645.33" y="764.52" width="10.5" height="10.5" fill="#fd8080"/></g>
<path d="M133.48 1062.6L134.92 1058.76M139.95 1046.02L141.01 1043.45M146.13 1030.74L147.39 1027.54M152.61 1014.87L153.46 1012.92M158.86 1000.33L161.34 994.5M166.81 981.94L168.03 979.21M173.49 966.64L174.44 964.38M179.71 951.73L186.01 936.4M191.31 923.77L201.09 900.92M206.81 888.47L207.56 886.94M214.09 874.91L221.21 862.93M229.28 851.94L254.68 823.52M264.86 814.49L290.24 796.8M301.93 789.71L329.04 775.51M341.42 769.69L387.38 750.51M400.09 745.41L413.99 740.05M426.82 735.25L443.24 729.3M456.24 724.98L510.09 708.73M523.25 704.91L536.73 701.15M549.98 697.68L561.27 694.91M574.61 691.81L610.93 683.77M624.2 680.37L637.73 676.42" stroke="#7fb4df" stroke-width="1.1" fill="none"/>
<g><circle cx="131.06" cy="1069.01" r="5.85" fill="#7fb4df"/><circle cx="137.34" cy="1052.35" r="5.85" fill="#7fb4df"/><circle cx="143.62" cy="1037.11" r="5.85" fill="#7fb4df"/><circle cx="149.9" cy="1021.16" r="5.85" fill="#7fb4df"/><circle cx="156.18" cy="1006.63" r="5.85" fill="#7fb4df"/><circle cx="164.02" cy="988.2" r="5.85" fill="#7fb4df"/><circle cx="170.82" cy="972.95" r="5.85" fill="#7fb4df"/><circle cx="177.1" cy="958.07" r="5.85" fill="#7fb4df"/><circle cx="188.61" cy="930.06" r="5.85" fill="#7fb4df"/><circle cx="203.78" cy="894.62" r="5.85" fill="#7fb4df"/><circle cx="210.59" cy="880.79" r="5.85" fill="#7fb4df"/><circle cx="224.71" cy="857.05" r="5.85" fill="#7fb4df"/><circle cx="259.24" cy="818.41" r="5.85" fill="#7fb4df"/><circle cx="295.86" cy="792.89" r="5.85" fill="#7fb4df"/><circle cx="335.1" cy="772.33" r="5.85" fill="#7fb4df"/><circle cx="393.7" cy="747.87" r="5.85" fill="#7fb4df"/><circle cx="420.38" cy="737.59" r="5.85" fill="#7fb4df"/><circle cx="449.68" cy="726.96" r="5.85" fill="#7fb4df"/><circle cx="516.65" cy="706.75" r="5.85" fill="#7fb4df"/><circle cx="543.33" cy="699.31" r="5.85" fill="#7fb4df"/><circle cx="567.92" cy="693.28" r="5.85" fill="#7fb4df"/><circle cx="617.62" cy="682.3" r="5.85" fill="#7fb4df"/><circle cx="644.3" cy="674.5" r="5.85" fill="#7fb4df"/><circle cx="654.24" cy="672.37" r="5.85" fill="#7fb4df"/></g>
<path d="M174.59 952.64L180.14 936.2M184.83 923.33L193.97 899.94M199.5 887.42L214.34 857.51M221.74 846.08L251.23 810.23M261.36 801.27L323.04 762.17M335.19 755.99L412.97 725.22M425.95 720.92L524.68 694.36M537.99 691.11L563.32 685.54M576.77 682.93L639.12 672.44M652.69 670.67L657.89 670.18" stroke="#7fb4df" stroke-width="1.1" fill="none"/>
<g><circle cx="172.39" cy="959.13" r="5.85" fill="#7fb4df"/><circle cx="182.33" cy="929.71" r="5.85" fill="#7fb4df"/><circle cx="196.46" cy="893.56" r="5.85" fill="#7fb4df"/><circle cx="217.39" cy="851.37" r="5.85" fill="#7fb4df"/><circle cx="255.58" cy="804.94" r="5.85" fill="#7fb4df"/><circle cx="328.82" cy="758.51" r="5.85" fill="#7fb4df"/><circle cx="419.34" cy="722.7" r="5.85" fill="#7fb4df"/><circle cx="531.3" cy="692.58" r="5.85" fill="#7fb4df"/><circle cx="570.01" cy="684.07" r="5.85" fill="#7fb4df"/><circle cx="645.87" cy="671.31" r="5.85" fill="#7fb4df"/><circle cx="664.71" cy="669.54" r="5.85" fill="#7fb4df"/></g>
<path d="M133.2 648.1H152.9M167.4 648.1H187.1" stroke="#fd8080" stroke-width="1.1"/>
<rect x="155.5" y="643.45" width="9.3" height="9.3" fill="#fff" stroke="#fd8080" stroke-width="1.2"/>
<text x="193.2" y="656.4" font-size="24" text-anchor="start" fill="#000"><tspan>C</tspan><tspan dy="6.2" font-size="16">3</tspan><tspan dy="-6.2">H</tspan><tspan dy="6.2" font-size="16">6</tspan><tspan dy="-6.2"> AA</tspan></text>
<path d="M133.2 683.1H152.3M168 683.1H187.1" stroke="#7fb4df" stroke-width="1.1"/>
<circle cx="160.15" cy="683.1" r="5.25" fill="#fff" stroke="#7fb4df" stroke-width="1.2"/>
<text x="193.2" y="691.4" font-size="24" text-anchor="start" fill="#000"><tspan>C</tspan><tspan dy="6.2" font-size="16">3</tspan><tspan dy="-6.2">H</tspan><tspan dy="6.2" font-size="16">4</tspan><tspan dy="-6.2"> AA</tspan></text>
<path d="M298.8 650.5H318M332.5 650.5H351.7" stroke="#fd8080" stroke-width="1.1"/>
<rect x="320" y="645.25" width="10.5" height="10.5" fill="#fd8080"/>
<text x="359" y="658.8" font-size="24" text-anchor="start" fill="#000"><tspan>C</tspan><tspan dy="6.2" font-size="16">3</tspan><tspan dy="-6.2">H</tspan><tspan dy="6.2" font-size="16">6</tspan><tspan dy="-6.2"> Inclined</tspan></text>
<path d="M298.8 685.5H317.4M333.1 685.5H351.7" stroke="#7fb4df" stroke-width="1.1"/>
<circle cx="325.25" cy="685.5" r="5.85" fill="#7fb4df"/>
<text x="359" y="693.8" font-size="24" text-anchor="start" fill="#000"><tspan>C</tspan><tspan dy="6.2" font-size="16">3</tspan><tspan dy="-6.2">H</tspan><tspan dy="6.2" font-size="16">4</tspan><tspan dy="-6.2"> Inclined</tspan></text>
<path d="M837.5 1088.8V1097.8M980.7 1088.8V1097.8M1123.9 1088.8V1097.8M1267.1 1088.8V1097.8M1410.3 1088.8V1097.8M909.1 1088.8V1093.8M1052.3 1088.8V1093.8M1195.5 1088.8V1093.8M1338.7 1088.8V1093.8M837.5 1069.56H828.5M837.5 992.59H828.5M837.5 915.62H828.5M837.5 838.66H828.5M837.5 761.69H828.5M837.5 684.72H828.5M837.5 1031.08H832.5M837.5 954.11H832.5M837.5 877.14H832.5M837.5 800.17H832.5M837.5 723.21H832.5M837.5 646.24H832.5" stroke="#000" stroke-width="2.2" fill="none"/>
<rect x="837.5" y="627" width="572.8" height="461.8" stroke="#000" stroke-width="2.2" fill="none"/>
<text x="837.5" y="1127.6" font-size="32" text-anchor="middle" fill="#000" font-family='"Liberation Sans", sans-serif' textLength="15.6" lengthAdjust="spacingAndGlyphs"><tspan>0</tspan></text>
<text x="980.7" y="1127.6" font-size="32" text-anchor="middle" fill="#000" font-family='"Liberation Sans", sans-serif' textLength="46.8" lengthAdjust="spacingAndGlyphs"><tspan>100</tspan></text>
<text x="1123.9" y="1127.6" font-size="32" text-anchor="middle" fill="#000" font-family='"Liberation Sans", sans-serif' textLength="46.8" lengthAdjust="spacingAndGlyphs"><tspan>200</tspan></text>
<text x="1267.1" y="1127.6" font-size="32" text-anchor="middle" fill="#000" font-family='"Liberation Sans", sans-serif' textLength="46.8" lengthAdjust="spacingAndGlyphs"><tspan>300</tspan></text>
<text x="1410.3" y="1127.6" font-size="32" text-anchor="middle" fill="#000" font-family='"Liberation Sans", sans-serif' textLength="46.8" lengthAdjust="spacingAndGlyphs"><tspan>400</tspan></text>
<text x="822.5" y="1079.79" font-size="31" text-anchor="end" fill="#000"><tspan>0.0</tspan></text>
<text x="822.5" y="1002.82" font-size="31" text-anchor="end" fill="#000"><tspan>0.2</tspan></text>
<text x="822.5" y="925.86" font-size="31" text-anchor="end" fill="#000"><tspan>0.4</tspan></text>
<text x="822.5" y="848.89" font-size="31" text-anchor="end" fill="#000"><tspan>0.6</tspan></text>
<text x="822.5" y="771.92" font-size="31" text-anchor="end" fill="#000"><tspan>0.8</tspan></text>
<text x="822.5" y="694.95" font-size="31" text-anchor="end" fill="#000"><tspan>1.0</tspan></text>
<text x="741.4" y="638.2" font-size="78" text-anchor="start" fill="#000"><tspan>d</tspan></text>
<text x="1114.1" y="1168.8" font-size="39.5" text-anchor="middle" fill="#000"><tspan>Time (min/g)</tspan></text>
<text x="762.2" y="857.6" font-size="40" text-anchor="middle" fill="#000" transform="rotate(-90 762.2 857.6)"><tspan>C/C</tspan><tspan dy="10.5" font-size="26">0</tspan></text>
<path d="M847.18 1063.33L854.17 978.42M855.35 965.98L862.18 901.83M863.68 889.42L870.89 835.62M872.78 823.26L879.26 785.55M881.84 773.33L887.39 751.21M890.08 739L896.04 707.8M900.26 696.2L902.76 691.72" stroke="#fd8080" stroke-width="2.2" fill="none"/>
<g><rect x="832.85" y="1064.91" width="9.3" height="9.3" fill="#fff" stroke="#fd8080" stroke-width="1.2"/><rect x="842.01" y="1064.91" width="9.3" height="9.3" fill="#fff" stroke="#fd8080" stroke-width="1.2"/><rect x="850.03" y="967.55" width="9.3" height="9.3" fill="#fff" stroke="#fd8080" stroke-width="1.2"/><rect x="858.2" y="890.96" width="9.3" height="9.3" fill="#fff" stroke="#fd8080" stroke-width="1.2"/><rect x="867.07" y="824.77" width="9.3" height="9.3" fill="#fff" stroke="#fd8080" stroke-width="1.2"/><rect x="875.67" y="774.74" width="9.3" height="9.3" fill="#fff" stroke="#fd8080" stroke-width="1.2"/><rect x="884.26" y="740.49" width="9.3" height="9.3" fill="#fff" stroke="#fd8080" stroke-width="1.2"/><rect x="892.56" y="697.01" width="9.3" height="9.3" fill="#fff" stroke="#fd8080" stroke-width="1.2"/><rect x="901.16" y="681.61" width="9.3" height="9.3" fill="#fff" stroke="#fd8080" stroke-width="1.2"/><rect x="909.61" y="680.07" width="9.3" height="9.3" fill="#fff" stroke="#fd8080" stroke-width="1.2"/><rect x="918.2" y="680.07" width="9.3" height="9.3" fill="#fff" stroke="#fd8080" stroke-width="1.2"/><rect x="926.79" y="680.07" width="9.3" height="9.3" fill="#fff" stroke="#fd8080" stroke-width="1.2"/><rect x="935.38" y="680.07" width="9.3" height="9.3" fill="#fff" stroke="#fd8080" stroke-width="1.2"/><rect x="943.97" y="680.07" width="9.3" height="9.3" fill="#fff" stroke="#fd8080" stroke-width="1.2"/><rect x="952.57" y="680.07" width="9.3" height="9.3" fill="#fff" stroke="#fd8080" stroke-width="1.2"/><rect x="961.16" y="680.07" width="9.3" height="9.3" fill="#fff" stroke="#fd8080" stroke-width="1.2"/><rect x="969.75" y="680.07" width="9.3" height="9.3" fill="#fff" stroke="#fd8080" stroke-width="1.2"/></g>
<path d="M952.59 1050.99L954.11 1048.48M961.33 1036.84L962.55 1034.93M968.66 1022.74L972.69 1012.08M977.36 999.21L981.03 988.67M985.94 975.89L989.21 968.12M993.81 955.24L998.81 938.36M1002.24 925.1L1007.85 899.99M1010.91 886.64L1016.65 862.26M1019.53 848.87L1025.49 818.44M1028.39 805.05L1033.54 783.37M1036.68 770.03L1042.14 746.81M1046.7 733.98L1049.31 728.6M1054.87 716.09L1058.61 706.85M1065.18 694.94L1065.77 694.13" stroke="#7fb4df" stroke-width="2.5" fill="none"/>
<g><circle cx="837.5" cy="1069.56" r="5.25" fill="#fff" stroke="#7fb4df" stroke-width="1.2"/><circle cx="846.09" cy="1069.56" r="5.25" fill="#fff" stroke="#7fb4df" stroke-width="1.2"/><circle cx="854.68" cy="1069.56" r="5.25" fill="#fff" stroke="#7fb4df" stroke-width="1.2"/><circle cx="863.28" cy="1069.56" r="5.25" fill="#fff" stroke="#7fb4df" stroke-width="1.2"/><circle cx="871.87" cy="1069.56" r="5.25" fill="#fff" stroke="#7fb4df" stroke-width="1.2"/><circle cx="880.46" cy="1069.56" r="5.25" fill="#fff" stroke="#7fb4df" stroke-width="1.2"/><circle cx="889.05" cy="1069.56" r="5.25" fill="#fff" stroke="#7fb4df" stroke-width="1.2"/><circle cx="897.64" cy="1069.56" r="5.25" fill="#fff" stroke="#7fb4df" stroke-width="1.2"/><circle cx="906.24" cy="1069.56" r="5.25" fill="#fff" stroke="#7fb4df" stroke-width="1.2"/><circle cx="915.54" cy="1067.63" r="5.25" fill="#fff" stroke="#7fb4df" stroke-width="1.2"/><circle cx="923.42" cy="1066.09" r="5.25" fill="#fff" stroke="#7fb4df" stroke-width="1.2"/><circle cx="931.58" cy="1064.94" r="5.25" fill="#fff" stroke="#7fb4df" stroke-width="1.2"/><circle cx="940.17" cy="1062.25" r="5.25" fill="#fff" stroke="#7fb4df" stroke-width="1.2"/><circle cx="949.05" cy="1056.86" r="5.25" fill="#fff" stroke="#7fb4df" stroke-width="1.2"/><circle cx="957.64" cy="1042.62" r="5.25" fill="#fff" stroke="#7fb4df" stroke-width="1.2"/><circle cx="966.24" cy="1029.15" r="5.25" fill="#fff" stroke="#7fb4df" stroke-width="1.2"/><circle cx="975.12" cy="1005.68" r="5.25" fill="#fff" stroke="#7fb4df" stroke-width="1.2"/><circle cx="983.28" cy="982.2" r="5.25" fill="#fff" stroke="#7fb4df" stroke-width="1.2"/><circle cx="991.87" cy="961.8" r="5.25" fill="#fff" stroke="#7fb4df" stroke-width="1.2"/><circle cx="1000.75" cy="931.79" r="5.25" fill="#fff" stroke="#7fb4df" stroke-width="1.2"/><circle cx="1009.34" cy="893.3" r="5.25" fill="#fff" stroke="#7fb4df" stroke-width="1.2"/><circle cx="1018.22" cy="855.59" r="5.25" fill="#fff" stroke="#7fb4df" stroke-width="1.2"/><circle cx="1026.81" cy="811.72" r="5.25" fill="#fff" stroke="#7fb4df" stroke-width="1.2"/><circle cx="1035.12" cy="776.7" r="5.25" fill="#fff" stroke="#7fb4df" stroke-width="1.2"/><circle cx="1043.71" cy="740.14" r="5.25" fill="#fff" stroke="#7fb4df" stroke-width="1.2"/><circle cx="1052.3" cy="722.44" r="5.25" fill="#fff" stroke="#7fb4df" stroke-width="1.2"/><circle cx="1061.18" cy="700.5" r="5.25" fill="#fff" stroke="#7fb4df" stroke-width="1.2"/><circle cx="1069.77" cy="688.57" r="5.25" fill="#fff" stroke="#7fb4df" stroke-width="1.2"/><circle cx="1078.36" cy="684.72" r="5.25" fill="#fff" stroke="#7fb4df" stroke-width="1.2"/><circle cx="1086.95" cy="684.72" r="5.25" fill="#fff" stroke="#7fb4df" stroke-width="1.2"/><circle cx="1095.55" cy="684.72" r="5.25" fill="#fff" stroke="#7fb4df" stroke-width="1.2"/><circle cx="1104.14" cy="684.72" r="5.25" fill="#fff" stroke="#7fb4df" stroke-width="1.2"/><circle cx="1112.73" cy="684.72" r="5.25" fill="#fff" stroke="#7fb4df" stroke-width="1.2"/><circle cx="1121.32" cy="684.72" r="5.25" fill="#fff" stroke="#7fb4df" stroke-width="1.2"/><circle cx="1129.91" cy="684.72" r="5.25" fill="#fff" stroke="#7fb4df" stroke-width="1.2"/><circle cx="1138.51" cy="684.72" r="5.25" fill="#fff" stroke="#7fb4df" stroke-width="1.2"/></g>
<path d="M862.97 1063.99L868.31 1053.57M873.2 1042.1L880.71 1020.43M884.91 1008.66L891.48 990.76M895.64 978.98L903.23 956.56M906.82 944.6L914.96 913.59M918.17 901.51L926.52 870.48M929.75 858.4L937.57 828.92M940.91 816.88L948.6 790.4M951.78 778.32L960.21 742.76M963.59 730.74L971.03 707.98M976.73 697.05L980.81 691.64" stroke="#fd8080" stroke-width="2.5" fill="none"/>
<g><rect x="832.25" y="1064.31" width="10.5" height="10.5" fill="#fd8080"/><rect x="843.56" y="1064.31" width="10.5" height="10.5" fill="#fd8080"/><rect x="854.88" y="1064.31" width="10.5" height="10.5" fill="#fd8080"/><rect x="865.9" y="1042.76" width="10.5" height="10.5" fill="#fd8080"/><rect x="877.5" y="1009.28" width="10.5" height="10.5" fill="#fd8080"/><rect x="888.38" y="979.64" width="10.5" height="10.5" fill="#fd8080"/><rect x="899.98" y="945.39" width="10.5" height="10.5" fill="#fd8080"/><rect x="911.3" y="902.29" width="10.5" height="10.5" fill="#fd8080"/><rect x="922.9" y="859.19" width="10.5" height="10.5" fill="#fd8080"/><rect x="933.92" y="817.63" width="10.5" height="10.5" fill="#fd8080"/><rect x="945.09" y="779.15" width="10.5" height="10.5" fill="#fd8080"/><rect x="956.4" y="731.43" width="10.5" height="10.5" fill="#fd8080"/><rect x="967.72" y="696.79" width="10.5" height="10.5" fill="#fd8080"/><rect x="979.32" y="681.4" width="10.5" height="10.5" fill="#fd8080"/><rect x="990.2" y="679.47" width="10.5" height="10.5" fill="#fd8080"/><rect x="1001.08" y="679.47" width="10.5" height="10.5" fill="#fd8080"/><rect x="1011.97" y="679.47" width="10.5" height="10.5" fill="#fd8080"/><rect x="1022.85" y="679.47" width="10.5" height="10.5" fill="#fd8080"/><rect x="1033.73" y="679.47" width="10.5" height="10.5" fill="#fd8080"/><rect x="1044.62" y="679.47" width="10.5" height="10.5" fill="#fd8080"/><rect x="1055.5" y="679.47" width="10.5" height="10.5" fill="#fd8080"/><rect x="1066.38" y="679.47" width="10.5" height="10.5" fill="#fd8080"/><rect x="1077.27" y="679.47" width="10.5" height="10.5" fill="#fd8080"/><rect x="1088.15" y="679.47" width="10.5" height="10.5" fill="#fd8080"/><rect x="1099.03" y="679.47" width="10.5" height="10.5" fill="#fd8080"/><rect x="1109.91" y="679.47" width="10.5" height="10.5" fill="#fd8080"/><rect x="1120.8" y="679.47" width="10.5" height="10.5" fill="#fd8080"/><rect x="1131.68" y="679.47" width="10.5" height="10.5" fill="#fd8080"/><rect x="1142.56" y="679.47" width="10.5" height="10.5" fill="#fd8080"/><rect x="1153.45" y="679.47" width="10.5" height="10.5" fill="#fd8080"/><rect x="1164.33" y="679.47" width="10.5" height="10.5" fill="#fd8080"/><rect x="1175.21" y="679.47" width="10.5" height="10.5" fill="#fd8080"/><rect x="1186.1" y="679.47" width="10.5" height="10.5" fill="#fd8080"/><rect x="1196.98" y="679.47" width="10.5" height="10.5" fill="#fd8080"/><rect x="1207.86" y="679.47" width="10.5" height="10.5" fill="#fd8080"/><rect x="1218.75" y="679.47" width="10.5" height="10.5" fill="#fd8080"/><rect x="1229.63" y="679.47" width="10.5" height="10.5" fill="#fd8080"/><rect x="1240.51" y="679.47" width="10.5" height="10.5" fill="#fd8080"/><rect x="1251.4" y="679.47" width="10.5" height="10.5" fill="#fd8080"/><rect x="1262.28" y="679.47" width="10.5" height="10.5" fill="#fd8080"/><rect x="1273.16" y="679.47" width="10.5" height="10.5" fill="#fd8080"/><rect x="1284.05" y="679.47" width="10.5" height="10.5" fill="#fd8080"/><rect x="1294.93" y="679.47" width="10.5" height="10.5" fill="#fd8080"/><rect x="1305.81" y="679.47" width="10.5" height="10.5" fill="#fd8080"/><rect x="1316.7" y="679.47" width="10.5" height="10.5" fill="#fd8080"/><rect x="1327.58" y="679.47" width="10.5" height="10.5" fill="#fd8080"/><rect x="1338.46" y="679.47" width="10.5" height="10.5" fill="#fd8080"/><rect x="1349.35" y="679.47" width="10.5" height="10.5" fill="#fd8080"/><rect x="1360.23" y="679.47" width="10.5" height="10.5" fill="#fd8080"/><rect x="1371.11" y="679.47" width="10.5" height="10.5" fill="#fd8080"/><rect x="1381.99" y="679.47" width="10.5" height="10.5" fill="#fd8080"/><rect x="1392.88" y="679.47" width="10.5" height="10.5" fill="#fd8080"/></g>
<path d="M1057.98 1048.4L1058.5 1048M1069.29 1039.55L1069.82 1039.14M1079.8 1029.84L1082.08 1027.31M1103.34 1009.88L1104.22 1009.17M1114.38 1000.02L1115.37 999.01M1124.23 988.61L1127.43 984.26M1135.36 973.09L1139.22 967.46M1147.57 956.62L1149.92 953.9M1158.81 943.48L1161.31 940.5M1170.87 930.75L1172.01 929.75M1182.48 920.91L1183.18 920.34M1192.95 910.82L1195.61 907.73M1204.41 897.23L1207.06 893.99M1215.81 883.45L1218.01 880.84M1226.05 869.79L1230.1 863.32M1237.66 851.9L1241.12 846.96M1248.6 835.5L1252.95 828.35M1260.43 816.88L1263.89 811.94M1270.94 800.23L1275.72 790.88M1281.53 778.48L1287.47 764.53M1293.29 752.14L1298.33 742.38M1306.01 731.17L1308.52 728.33M1317.19 717.74L1320.26 713.67M1329.98 704.25L1330.24 704.07" stroke="#7fb4df" stroke-width="2.5" fill="none"/>
<g><circle cx="837.5" cy="1069.56" r="5.85" fill="#7fb4df"/><circle cx="848.81" cy="1069.56" r="5.85" fill="#7fb4df"/><circle cx="860.27" cy="1069.56" r="5.85" fill="#7fb4df"/><circle cx="871.58" cy="1069.56" r="5.85" fill="#7fb4df"/><circle cx="882.89" cy="1069.56" r="5.85" fill="#7fb4df"/><circle cx="894.21" cy="1069.56" r="5.85" fill="#7fb4df"/><circle cx="905.66" cy="1069.56" r="5.85" fill="#7fb4df"/><circle cx="916.98" cy="1069.56" r="5.85" fill="#7fb4df"/><circle cx="928.29" cy="1069.56" r="5.85" fill="#7fb4df"/><circle cx="939.74" cy="1069.56" r="5.85" fill="#7fb4df"/><circle cx="951.06" cy="1069.56" r="5.85" fill="#7fb4df"/><circle cx="962.37" cy="1069.56" r="5.85" fill="#7fb4df"/><circle cx="973.83" cy="1069.56" r="5.85" fill="#7fb4df"/><circle cx="985.14" cy="1069.56" r="5.85" fill="#7fb4df"/><circle cx="996.45" cy="1069.56" r="5.85" fill="#7fb4df"/><circle cx="1007.76" cy="1069.56" r="5.85" fill="#7fb4df"/><circle cx="1019.22" cy="1068.96" r="5.85" fill="#7fb4df"/><circle cx="1029.53" cy="1064.17" r="5.85" fill="#7fb4df"/><circle cx="1040.99" cy="1059.55" r="5.85" fill="#7fb4df"/><circle cx="1052.59" cy="1052.63" r="5.85" fill="#7fb4df"/><circle cx="1063.9" cy="1043.77" r="5.85" fill="#7fb4df"/><circle cx="1075.21" cy="1034.92" r="5.85" fill="#7fb4df"/><circle cx="1086.67" cy="1022.22" r="5.85" fill="#7fb4df"/><circle cx="1097.98" cy="1014.14" r="5.85" fill="#7fb4df"/><circle cx="1109.58" cy="1004.91" r="5.85" fill="#7fb4df"/><circle cx="1120.18" cy="994.13" r="5.85" fill="#7fb4df"/><circle cx="1131.49" cy="978.74" r="5.85" fill="#7fb4df"/><circle cx="1143.09" cy="961.8" r="5.85" fill="#7fb4df"/><circle cx="1154.4" cy="948.72" r="5.85" fill="#7fb4df"/><circle cx="1165.71" cy="935.25" r="5.85" fill="#7fb4df"/><circle cx="1177.17" cy="925.25" r="5.85" fill="#7fb4df"/><circle cx="1188.48" cy="916.01" r="5.85" fill="#7fb4df"/><circle cx="1200.08" cy="902.54" r="5.85" fill="#7fb4df"/><circle cx="1211.4" cy="888.69" r="5.85" fill="#7fb4df"/><circle cx="1222.42" cy="875.6" r="5.85" fill="#7fb4df"/><circle cx="1233.73" cy="857.52" r="5.85" fill="#7fb4df"/><circle cx="1245.05" cy="841.35" r="5.85" fill="#7fb4df"/><circle cx="1256.5" cy="822.5" r="5.85" fill="#7fb4df"/><circle cx="1267.82" cy="806.33" r="5.85" fill="#7fb4df"/><circle cx="1278.84" cy="784.78" r="5.85" fill="#7fb4df"/><circle cx="1290.16" cy="758.23" r="5.85" fill="#7fb4df"/><circle cx="1301.47" cy="736.29" r="5.85" fill="#7fb4df"/><circle cx="1313.07" cy="723.21" r="5.85" fill="#7fb4df"/><circle cx="1324.38" cy="708.2" r="5.85" fill="#7fb4df"/><circle cx="1335.84" cy="700.12" r="5.85" fill="#7fb4df"/><circle cx="1347.15" cy="692.42" r="5.85" fill="#7fb4df"/><circle cx="1358.18" cy="685.49" r="5.85" fill="#7fb4df"/><circle cx="1369.49" cy="684.77" r="5.85" fill="#7fb4df"/><circle cx="1380.8" cy="684.72" r="5.85" fill="#7fb4df"/><circle cx="1392.11" cy="684.72" r="5.85" fill="#7fb4df"/><circle cx="1403.43" cy="684.72" r="5.85" fill="#7fb4df"/><circle cx="1414.6" cy="684.72" r="5.85" fill="#7fb4df"/></g>
<text x="1232" y="655.8" font-size="24" text-anchor="start" fill="#000"><tspan>C</tspan><tspan dy="6.2" font-size="16">3</tspan><tspan dy="-6.2">H</tspan><tspan dy="6.2" font-size="16">4</tspan><tspan dy="-6.2">:C</tspan><tspan dy="6.2" font-size="16">3</tspan><tspan dy="-6.2">H</tspan><tspan dy="6.2" font-size="16">6</tspan><tspan dy="-6.2">=1:99</tspan></text>
<path d="M1202.2 959.6H1224.55M1235.05 959.6H1257.4" stroke="#fd8080" stroke-width="2.2"/>
<rect x="1225.15" y="954.95" width="9.3" height="9.3" fill="#fff" stroke="#fd8080" stroke-width="1.2"/>
<text x="1263.3" y="967.6" font-size="24" text-anchor="start" fill="#000"><tspan>C</tspan><tspan dy="6" font-size="16">3</tspan><tspan dy="-6">H</tspan><tspan dy="6" font-size="16">6</tspan><tspan dy="-6"> AA</tspan></text>
<path d="M1202.2 994.6H1223.95M1235.65 994.6H1257.4" stroke="#7fb4df" stroke-width="2.2"/>
<circle cx="1229.8" cy="994.6" r="5.25" fill="#fff" stroke="#7fb4df" stroke-width="1.2"/>
<text x="1263.3" y="1002.6" font-size="24" text-anchor="start" fill="#000"><tspan>C</tspan><tspan dy="6" font-size="16">3</tspan><tspan dy="-6">H</tspan><tspan dy="6" font-size="16">4</tspan><tspan dy="-6"> AA</tspan></text>
<path d="M1202.2 1029.6H1224.55M1235.05 1029.6H1257.4" stroke="#fd8080" stroke-width="2.2"/>
<rect x="1224.55" y="1024.35" width="10.5" height="10.5" fill="#fd8080"/>
<text x="1263.3" y="1037.6" font-size="24" text-anchor="start" fill="#000"><tspan>C</tspan><tspan dy="6" font-size="16">3</tspan><tspan dy="-6">H</tspan><tspan dy="6" font-size="16">6</tspan><tspan dy="-6"> Inclined</tspan></text>
<path d="M1202.2 1064.6H1223.95M1235.65 1064.6H1257.4" stroke="#7fb4df" stroke-width="2.2"/>
<circle cx="1229.8" cy="1064.6" r="5.85" fill="#7fb4df"/>
<text x="1263.3" y="1072.6" font-size="24" text-anchor="start" fill="#000"><tspan>C</tspan><tspan dy="6" font-size="16">3</tspan><tspan dy="-6">H</tspan><tspan dy="6" font-size="16">4</tspan><tspan dy="-6"> Inclined</tspan></text>
<path d="M117.77 1679.1V1688.1M258.42 1679.1V1688.1M399.08 1679.1V1688.1M539.74 1679.1V1688.1M680.4 1679.1V1688.1M188.1 1679.1V1684.1M328.75 1679.1V1684.1M469.41 1679.1V1684.1M610.07 1679.1V1684.1M103.7 1661.95H94.7M103.7 1593.36H94.7M103.7 1524.77H94.7M103.7 1456.17H94.7M103.7 1387.58H94.7M103.7 1318.99H94.7M103.7 1250.4H94.7M103.7 1627.66H98.7M103.7 1559.06H98.7M103.7 1490.47H98.7M103.7 1421.88H98.7M103.7 1353.29H98.7M103.7 1284.69H98.7M103.7 1216.1H98.7" stroke="#000" stroke-width="2.2" fill="none"/>
<rect x="103.7" y="1216.1" width="576.7" height="463" stroke="#000" stroke-width="2.2" fill="none"/>
<text x="117.77" y="1717.9" font-size="31" text-anchor="middle" fill="#000"><tspan>0</tspan></text>
<text x="258.42" y="1717.9" font-size="31" text-anchor="middle" fill="#000"><tspan>50</tspan></text>
<text x="399.08" y="1717.9" font-size="31" text-anchor="middle" fill="#000"><tspan>100</tspan></text>
<text x="539.74" y="1717.9" font-size="31" text-anchor="middle" fill="#000"><tspan>150</tspan></text>
<text x="680.4" y="1717.9" font-size="31" text-anchor="middle" fill="#000"><tspan>200</tspan></text>
<text x="88.7" y="1672.18" font-size="31" text-anchor="end" fill="#000"><tspan>0.0</tspan></text>
<text x="88.7" y="1603.59" font-size="31" text-anchor="end" fill="#000"><tspan>0.2</tspan></text>
<text x="88.7" y="1535" font-size="31" text-anchor="end" fill="#000"><tspan>0.4</tspan></text>
<text x="88.7" y="1466.4" font-size="31" text-anchor="end" fill="#000"><tspan>0.6</tspan></text>
<text x="88.7" y="1397.81" font-size="31" text-anchor="end" fill="#000"><tspan>0.8</tspan></text>
<text x="88.7" y="1329.22" font-size="31" text-anchor="end" fill="#000"><tspan>1.0</tspan></text>
<text x="88.7" y="1260.63" font-size="31" text-anchor="end" fill="#000"><tspan>1.2</tspan></text>
<text x="16.2" y="1235" font-size="78" text-anchor="start" fill="#000"><tspan>e</tspan></text>
<text x="391.6" y="1764.3" font-size="39.5" text-anchor="middle" fill="#000"><tspan>Time (min/g)</tspan></text>
<text x="28.6" y="1447.4" font-size="40" text-anchor="middle" fill="#000" transform="rotate(-90 28.6 1447.4)"><tspan>C/C</tspan><tspan dy="10.3" font-size="26">0</tspan></text>
<path d="M117.77 1661.95L131.55 1344.67M131.55 1344.67L147.59 1320.46M147.59 1320.46L162.21 1319.45M162.21 1319.45L172.9 1318.96M172.9 1318.96L184.16 1319.22M184.16 1319.22L199.07 1320.39M199.07 1320.39L213.69 1317.87M213.69 1317.87L224.39 1319.94M224.39 1319.94L239.58 1317.45M239.58 1317.45L250.83 1319.34M250.83 1319.34L265.46 1320.54M265.46 1320.54L279.8 1319.71M279.8 1319.71L291.62 1320.3M291.62 1320.3L302.31 1317.9M302.31 1317.9L317.5 1318.71M317.5 1318.71L331.85 1319.43M331.85 1319.43L342.82 1320.49M342.82 1320.49L357.73 1320M357.73 1320L368.98 1319.24M368.98 1319.24L383.89 1318.7M383.89 1318.7L398.52 1319.68M398.52 1319.68L409.77 1318.31M409.77 1318.31L421.31 1318.73M421.31 1318.73L435.94 1317.7M435.94 1317.7L450.56 1319.72M450.56 1319.72L461.82 1320.3M461.82 1320.3L476.45 1318.11M476.45 1318.11L487.7 1319.03M487.7 1319.03L502.61 1318.41M502.61 1318.41L513.3 1318.74M513.3 1318.74L528.21 1319.63M528.21 1319.63L539.46 1318.67M539.46 1318.67L554.37 1319.14M554.37 1319.14L569.28 1317.46M569.28 1317.46L580.53 1318.43M580.53 1318.43L595.44 1318.3M595.44 1318.3L606.13 1317.3M606.13 1317.3L621.32 1319.73M621.32 1319.73L635.39 1318.41M635.39 1318.41L646.64 1319.12" stroke="#4d4d4d" stroke-width="1" fill="none"/>
<g><circle cx="117.77" cy="1661.95" r="5.05" fill="#fff" stroke="#4d4d4d" stroke-width="1.4"/><circle cx="131.55" cy="1344.67" r="5.05" fill="#fff" stroke="#4d4d4d" stroke-width="1.4"/><circle cx="147.59" cy="1320.46" r="5.05" fill="#fff" stroke="#4d4d4d" stroke-width="1.4"/><circle cx="162.21" cy="1319.45" r="5.05" fill="#fff" stroke="#4d4d4d" stroke-width="1.4"/><circle cx="172.9" cy="1318.96" r="5.05" fill="#fff" stroke="#4d4d4d" stroke-width="1.4"/><circle cx="184.16" cy="1319.22" r="5.05" fill="#fff" stroke="#4d4d4d" stroke-width="1.4"/><circle cx="199.07" cy="1320.39" r="5.05" fill="#fff" stroke="#4d4d4d" stroke-width="1.4"/><circle cx="213.69" cy="1317.87" r="5.05" fill="#fff" stroke="#4d4d4d" stroke-width="1.4"/><circle cx="224.39" cy="1319.94" r="5.05" fill="#fff" stroke="#4d4d4d" stroke-width="1.4"/><circle cx="239.58" cy="1317.45" r="5.05" fill="#fff" stroke="#4d4d4d" stroke-width="1.4"/><circle cx="250.83" cy="1319.34" r="5.05" fill="#fff" stroke="#4d4d4d" stroke-width="1.4"/><circle cx="265.46" cy="1320.54" r="5.05" fill="#fff" stroke="#4d4d4d" stroke-width="1.4"/><circle cx="279.8" cy="1319.71" r="5.05" fill="#fff" stroke="#4d4d4d" stroke-width="1.4"/><circle cx="291.62" cy="1320.3" r="5.05" fill="#fff" stroke="#4d4d4d" stroke-width="1.4"/><circle cx="302.31" cy="1317.9" r="5.05" fill="#fff" stroke="#4d4d4d" stroke-width="1.4"/><circle cx="317.5" cy="1318.71" r="5.05" fill="#fff" stroke="#4d4d4d" stroke-width="1.4"/><circle cx="331.85" cy="1319.43" r="5.05" fill="#fff" stroke="#4d4d4d" stroke-width="1.4"/><circle cx="342.82" cy="1320.49" r="5.05" fill="#fff" stroke="#4d4d4d" stroke-width="1.4"/><circle cx="357.73" cy="1320" r="5.05" fill="#fff" stroke="#4d4d4d" stroke-width="1.4"/><circle cx="368.98" cy="1319.24" r="5.05" fill="#fff" stroke="#4d4d4d" stroke-width="1.4"/><circle cx="383.89" cy="1318.7" r="5.05" fill="#fff" stroke="#4d4d4d" stroke-width="1.4"/><circle cx="398.52" cy="1319.68" r="5.05" fill="#fff" stroke="#4d4d4d" stroke-width="1.4"/><circle cx="409.77" cy="1318.31" r="5.05" fill="#fff" stroke="#4d4d4d" stroke-width="1.4"/><circle cx="421.31" cy="1318.73" r="5.05" fill="#fff" stroke="#4d4d4d" stroke-width="1.4"/><circle cx="435.94" cy="1317.7" r="5.05" fill="#fff" stroke="#4d4d4d" stroke-width="1.4"/><circle cx="450.56" cy="1319.72" r="5.05" fill="#fff" stroke="#4d4d4d" stroke-width="1.4"/><circle cx="461.82" cy="1320.3" r="5.05" fill="#fff" stroke="#4d4d4d" stroke-width="1.4"/><circle cx="476.45" cy="1318.11" r="5.05" fill="#fff" stroke="#4d4d4d" stroke-width="1.4"/><circle cx="487.7" cy="1319.03" r="5.05" fill="#fff" stroke="#4d4d4d" stroke-width="1.4"/><circle cx="502.61" cy="1318.41" r="5.05" fill="#fff" stroke="#4d4d4d" stroke-width="1.4"/><circle cx="513.3" cy="1318.74" r="5.05" fill="#fff" stroke="#4d4d4d" stroke-width="1.4"/><circle cx="528.21" cy="1319.63" r="5.05" fill="#fff" stroke="#4d4d4d" stroke-width="1.4"/><circle cx="539.46" cy="1318.67" r="5.05" fill="#fff" stroke="#4d4d4d" stroke-width="1.4"/><circle cx="554.37" cy="1319.14" r="5.05" fill="#fff" stroke="#4d4d4d" stroke-width="1.4"/><circle cx="569.28" cy="1317.46" r="5.05" fill="#fff" stroke="#4d4d4d" stroke-width="1.4"/><circle cx="580.53" cy="1318.43" r="5.05" fill="#fff" stroke="#4d4d4d" stroke-width="1.4"/><circle cx="595.44" cy="1318.3" r="5.05" fill="#fff" stroke="#4d4d4d" stroke-width="1.4"/><circle cx="606.13" cy="1317.3" r="5.05" fill="#fff" stroke="#4d4d4d" stroke-width="1.4"/><circle cx="621.32" cy="1319.73" r="5.05" fill="#fff" stroke="#4d4d4d" stroke-width="1.4"/><circle cx="635.39" cy="1318.41" r="5.05" fill="#fff" stroke="#4d4d4d" stroke-width="1.4"/><circle cx="646.64" cy="1319.12" r="5.05" fill="#fff" stroke="#4d4d4d" stroke-width="1.4"/></g>
<path d="M117.77 1661.95L131.55 1661.95M131.55 1661.95L147.59 1661.95M147.59 1661.95L162.21 1661.95M162.21 1661.95L172.9 1661.95M172.9 1661.95L184.16 1661.95M184.16 1661.95L199.07 1655.96M199.07 1655.96L213.69 1645.83M213.69 1645.83L224.39 1625.72M224.39 1625.72L239.58 1581.47M239.58 1581.47L250.83 1533.04M250.83 1533.04L265.46 1472.8M265.46 1472.8L279.8 1421.64M279.8 1421.64L291.62 1379.06M291.62 1379.06L302.31 1333.4M302.31 1333.4L317.5 1287.72M317.5 1287.72L331.85 1266.95M331.85 1266.95L342.82 1259.83M342.82 1259.83L357.73 1258.97M357.73 1258.97L368.98 1262.73M368.98 1262.73L383.89 1270.77M383.89 1270.77L398.52 1285.02M398.52 1285.02L409.77 1303.51M409.77 1303.51L421.31 1316.97M421.31 1316.97L435.94 1320.69M435.94 1320.69L450.56 1319.44M450.56 1319.44L461.82 1317.43M461.82 1317.43L476.45 1318.94" stroke="#4d4d4d" stroke-width="2" fill="none"/>
<g><circle cx="117.77" cy="1661.95" r="5.05" fill="#fff" stroke="#4d4d4d" stroke-width="1.4"/><path d="M117.77 1656.9A5.05 5.05 0 0 1 117.77 1667Z" fill="#4d4d4d"/><path d="M118.57 1658.52L118.57 1665.39L122.21 1661.95Z" fill="#fff"/><circle cx="131.55" cy="1661.95" r="5.05" fill="#fff" stroke="#4d4d4d" stroke-width="1.4"/><path d="M131.55 1656.9A5.05 5.05 0 0 1 131.55 1667Z" fill="#4d4d4d"/><path d="M132.35 1658.52L132.35 1665.39L135.99 1661.95Z" fill="#fff"/><circle cx="147.59" cy="1661.95" r="5.05" fill="#fff" stroke="#4d4d4d" stroke-width="1.4"/><path d="M147.59 1656.9A5.05 5.05 0 0 1 147.59 1667Z" fill="#4d4d4d"/><path d="M148.39 1658.52L148.39 1665.39L152.03 1661.95Z" fill="#fff"/><circle cx="162.21" cy="1661.95" r="5.05" fill="#fff" stroke="#4d4d4d" stroke-width="1.4"/><path d="M162.21 1656.9A5.05 5.05 0 0 1 162.21 1667Z" fill="#4d4d4d"/><path d="M163.01 1658.52L163.01 1665.39L166.66 1661.95Z" fill="#fff"/><circle cx="172.9" cy="1661.95" r="5.05" fill="#fff" stroke="#4d4d4d" stroke-width="1.4"/><path d="M172.9 1656.9A5.05 5.05 0 0 1 172.9 1667Z" fill="#4d4d4d"/><path d="M173.7 1658.52L173.7 1665.39L177.35 1661.95Z" fill="#fff"/><circle cx="184.16" cy="1661.95" r="5.05" fill="#fff" stroke="#4d4d4d" stroke-width="1.4"/><path d="M184.16 1656.9A5.05 5.05 0 0 1 184.16 1667Z" fill="#4d4d4d"/><path d="M184.96 1658.52L184.96 1665.39L188.6 1661.95Z" fill="#fff"/><circle cx="199.07" cy="1655.96" r="5.05" fill="#fff" stroke="#4d4d4d" stroke-width="1.4"/><path d="M199.07 1650.91A5.05 5.05 0 0 1 199.07 1661.01Z" fill="#4d4d4d"/><path d="M199.87 1652.52L199.87 1659.39L203.51 1655.96Z" fill="#fff"/><circle cx="213.69" cy="1645.83" r="5.05" fill="#fff" stroke="#4d4d4d" stroke-width="1.4"/><path d="M213.69 1640.78A5.05 5.05 0 0 1 213.69 1650.88Z" fill="#4d4d4d"/><path d="M214.49 1642.4L214.49 1649.27L218.14 1645.83Z" fill="#fff"/><circle cx="224.39" cy="1625.72" r="5.05" fill="#fff" stroke="#4d4d4d" stroke-width="1.4"/><path d="M224.39 1620.67A5.05 5.05 0 0 1 224.39 1630.77Z" fill="#4d4d4d"/><path d="M225.19 1622.28L225.19 1629.15L228.83 1625.72Z" fill="#fff"/><circle cx="239.58" cy="1581.47" r="5.05" fill="#fff" stroke="#4d4d4d" stroke-width="1.4"/><path d="M239.58 1576.42A5.05 5.05 0 0 1 239.58 1586.52Z" fill="#4d4d4d"/><path d="M240.38 1578.03L240.38 1584.9L244.02 1581.47Z" fill="#fff"/><circle cx="250.83" cy="1533.04" r="5.05" fill="#fff" stroke="#4d4d4d" stroke-width="1.4"/><path d="M250.83 1527.99A5.05 5.05 0 0 1 250.83 1538.09Z" fill="#4d4d4d"/><path d="M251.63 1529.6L251.63 1536.47L255.27 1533.04Z" fill="#fff"/><circle cx="265.46" cy="1472.8" r="5.05" fill="#fff" stroke="#4d4d4d" stroke-width="1.4"/><path d="M265.46 1467.75A5.05 5.05 0 0 1 265.46 1477.85Z" fill="#4d4d4d"/><path d="M266.26 1469.37L266.26 1476.24L269.9 1472.8Z" fill="#fff"/><circle cx="279.8" cy="1421.64" r="5.05" fill="#fff" stroke="#4d4d4d" stroke-width="1.4"/><path d="M279.8 1416.59A5.05 5.05 0 0 1 279.8 1426.69Z" fill="#4d4d4d"/><path d="M280.6 1418.2L280.6 1425.07L284.25 1421.64Z" fill="#fff"/><circle cx="291.62" cy="1379.06" r="5.05" fill="#fff" stroke="#4d4d4d" stroke-width="1.4"/><path d="M291.62 1374.01A5.05 5.05 0 0 1 291.62 1384.11Z" fill="#4d4d4d"/><path d="M292.42 1375.63L292.42 1382.5L296.06 1379.06Z" fill="#fff"/><circle cx="302.31" cy="1333.4" r="5.05" fill="#fff" stroke="#4d4d4d" stroke-width="1.4"/><path d="M302.31 1328.35A5.05 5.05 0 0 1 302.31 1338.45Z" fill="#4d4d4d"/><path d="M303.11 1329.97L303.11 1336.83L306.75 1333.4Z" fill="#fff"/><circle cx="317.5" cy="1287.72" r="5.05" fill="#fff" stroke="#4d4d4d" stroke-width="1.4"/><path d="M317.5 1282.67A5.05 5.05 0 0 1 317.5 1292.77Z" fill="#4d4d4d"/><path d="M318.3 1284.29L318.3 1291.16L321.94 1287.72Z" fill="#fff"/><circle cx="331.85" cy="1266.95" r="5.05" fill="#fff" stroke="#4d4d4d" stroke-width="1.4"/><path d="M331.85 1261.9A5.05 5.05 0 0 1 331.85 1272Z" fill="#4d4d4d"/><path d="M332.65 1263.52L332.65 1270.38L336.29 1266.95Z" fill="#fff"/><circle cx="342.82" cy="1259.83" r="5.05" fill="#fff" stroke="#4d4d4d" stroke-width="1.4"/><path d="M342.82 1254.78A5.05 5.05 0 0 1 342.82 1264.88Z" fill="#4d4d4d"/><path d="M343.62 1256.4L343.62 1263.26L347.26 1259.83Z" fill="#fff"/><circle cx="357.73" cy="1258.97" r="5.05" fill="#fff" stroke="#4d4d4d" stroke-width="1.4"/><path d="M357.73 1253.92A5.05 5.05 0 0 1 357.73 1264.02Z" fill="#4d4d4d"/><path d="M358.53 1255.54L358.53 1262.4L362.17 1258.97Z" fill="#fff"/><circle cx="368.98" cy="1262.73" r="5.05" fill="#fff" stroke="#4d4d4d" stroke-width="1.4"/><path d="M368.98 1257.68A5.05 5.05 0 0 1 368.98 1267.78Z" fill="#4d4d4d"/><path d="M369.78 1259.29L369.78 1266.16L373.43 1262.73Z" fill="#fff"/><circle cx="383.89" cy="1270.77" r="5.05" fill="#fff" stroke="#4d4d4d" stroke-width="1.4"/><path d="M383.89 1265.72A5.05 5.05 0 0 1 383.89 1275.82Z" fill="#4d4d4d"/><path d="M384.69 1267.33L384.69 1274.2L388.34 1270.77Z" fill="#fff"/><circle cx="398.52" cy="1285.02" r="5.05" fill="#fff" stroke="#4d4d4d" stroke-width="1.4"/><path d="M398.52 1279.97A5.05 5.05 0 0 1 398.52 1290.07Z" fill="#4d4d4d"/><path d="M399.32 1281.59L399.32 1288.46L402.96 1285.02Z" fill="#fff"/><circle cx="409.77" cy="1303.51" r="5.05" fill="#fff" stroke="#4d4d4d" stroke-width="1.4"/><path d="M409.77 1298.46A5.05 5.05 0 0 1 409.77 1308.56Z" fill="#4d4d4d"/><path d="M410.57 1300.07L410.57 1306.94L414.22 1303.51Z" fill="#fff"/><circle cx="421.31" cy="1316.97" r="5.05" fill="#fff" stroke="#4d4d4d" stroke-width="1.4"/><path d="M421.31 1311.92A5.05 5.05 0 0 1 421.31 1322.02Z" fill="#4d4d4d"/><path d="M422.11 1313.53L422.11 1320.4L425.75 1316.97Z" fill="#fff"/><circle cx="435.94" cy="1320.69" r="5.05" fill="#fff" stroke="#4d4d4d" stroke-width="1.4"/><path d="M435.94 1315.64A5.05 5.05 0 0 1 435.94 1325.74Z" fill="#4d4d4d"/><path d="M436.74 1317.26L436.74 1324.12L440.38 1320.69Z" fill="#fff"/><circle cx="450.56" cy="1319.44" r="5.05" fill="#fff" stroke="#4d4d4d" stroke-width="1.4"/><path d="M450.56 1314.39A5.05 5.05 0 0 1 450.56 1324.49Z" fill="#4d4d4d"/><path d="M451.36 1316L451.36 1322.87L455.01 1319.44Z" fill="#fff"/><circle cx="461.82" cy="1317.43" r="5.05" fill="#fff" stroke="#4d4d4d" stroke-width="1.4"/><path d="M461.82 1312.38A5.05 5.05 0 0 1 461.82 1322.48Z" fill="#4d4d4d"/><path d="M462.62 1314L462.62 1320.87L466.26 1317.43Z" fill="#fff"/><circle cx="476.45" cy="1318.94" r="5.05" fill="#fff" stroke="#4d4d4d" stroke-width="1.4"/><path d="M476.45 1313.89A5.05 5.05 0 0 1 476.45 1323.99Z" fill="#4d4d4d"/><path d="M477.25 1315.5L477.25 1322.37L480.89 1318.94Z" fill="#fff"/></g>
<path d="M117.77 1661.95L131.55 1661.95M131.55 1661.95L147.59 1661.95M147.59 1661.95L162.21 1661.95M162.21 1661.95L172.9 1661.95M172.9 1661.95L184.16 1661.95M184.16 1661.95L199.07 1661.95M199.07 1661.95L213.69 1661.95M213.69 1661.95L224.39 1661.95M224.39 1661.95L239.58 1661.95M239.58 1661.95L250.83 1661.95M250.83 1661.95L265.46 1661.95M265.46 1661.95L279.8 1661.95M279.8 1661.95L291.62 1661.95M291.62 1661.95L302.31 1661.95M302.31 1661.95L317.5 1661.95M317.5 1661.95L331.85 1661.95M331.85 1661.95L342.82 1661.95M342.82 1661.95L357.73 1661.95M357.73 1661.95L368.98 1657.87M368.98 1657.87L383.89 1655.27M383.89 1655.27L398.52 1648.33M398.52 1648.33L409.77 1628.45M409.77 1628.45L421.31 1601.19M421.31 1601.19L435.94 1544.72M435.94 1544.72L450.56 1484.84M450.56 1484.84L461.82 1424.86M461.82 1424.86L476.45 1362.72M476.45 1362.72L487.7 1319.51M487.7 1319.51L502.61 1319.11M502.61 1319.11L513.3 1320.41M513.3 1320.41L528.21 1319.53M528.21 1319.53L539.46 1317.86M539.46 1317.86L554.37 1320.62M554.37 1320.62L569.28 1318.89M569.28 1318.89L580.53 1318.84M580.53 1318.84L595.44 1318.89M595.44 1318.89L606.13 1317.74M606.13 1317.74L621.32 1319.81M621.32 1319.81L635.39 1320.13M635.39 1320.13L646.64 1318.88" stroke="#4d4d4d" stroke-width="2.5" fill="none"/>
<g><circle cx="117.77" cy="1661.95" r="5.75" fill="#4d4d4d"/><circle cx="131.55" cy="1661.95" r="5.75" fill="#4d4d4d"/><circle cx="147.59" cy="1661.95" r="5.75" fill="#4d4d4d"/><circle cx="162.21" cy="1661.95" r="5.75" fill="#4d4d4d"/><circle cx="172.9" cy="1661.95" r="5.75" fill="#4d4d4d"/><circle cx="184.16" cy="1661.95" r="5.75" fill="#4d4d4d"/><circle cx="199.07" cy="1661.95" r="5.75" fill="#4d4d4d"/><circle cx="213.69" cy="1661.95" r="5.75" fill="#4d4d4d"/><circle cx="224.39" cy="1661.95" r="5.75" fill="#4d4d4d"/><circle cx="239.58" cy="1661.95" r="5.75" fill="#4d4d4d"/><circle cx="250.83" cy="1661.95" r="5.75" fill="#4d4d4d"/><circle cx="265.46" cy="1661.95" r="5.75" fill="#4d4d4d"/><circle cx="279.8" cy="1661.95" r="5.75" fill="#4d4d4d"/><circle cx="291.62" cy="1661.95" r="5.75" fill="#4d4d4d"/><circle cx="302.31" cy="1661.95" r="5.75" fill="#4d4d4d"/><circle cx="317.5" cy="1661.95" r="5.75" fill="#4d4d4d"/><circle cx="331.85" cy="1661.95" r="5.75" fill="#4d4d4d"/><circle cx="342.82" cy="1661.95" r="5.75" fill="#4d4d4d"/><circle cx="357.73" cy="1661.95" r="5.75" fill="#4d4d4d"/><circle cx="368.98" cy="1657.87" r="5.75" fill="#4d4d4d"/><circle cx="383.89" cy="1655.27" r="5.75" fill="#4d4d4d"/><circle cx="398.52" cy="1648.33" r="5.75" fill="#4d4d4d"/><circle cx="409.77" cy="1628.45" r="5.75" fill="#4d4d4d"/><circle cx="421.31" cy="1601.19" r="5.75" fill="#4d4d4d"/><circle cx="435.94" cy="1544.72" r="5.75" fill="#4d4d4d"/><circle cx="450.56" cy="1484.84" r="5.75" fill="#4d4d4d"/><circle cx="461.82" cy="1424.86" r="5.75" fill="#4d4d4d"/><circle cx="476.45" cy="1362.72" r="5.75" fill="#4d4d4d"/><circle cx="487.7" cy="1319.51" r="5.75" fill="#4d4d4d"/><circle cx="502.61" cy="1319.11" r="5.75" fill="#4d4d4d"/><circle cx="513.3" cy="1320.41" r="5.75" fill="#4d4d4d"/><circle cx="528.21" cy="1319.53" r="5.75" fill="#4d4d4d"/><circle cx="539.46" cy="1317.86" r="5.75" fill="#4d4d4d"/><circle cx="554.37" cy="1320.62" r="5.75" fill="#4d4d4d"/><circle cx="569.28" cy="1318.89" r="5.75" fill="#4d4d4d"/><circle cx="580.53" cy="1318.84" r="5.75" fill="#4d4d4d"/><circle cx="595.44" cy="1318.89" r="5.75" fill="#4d4d4d"/><circle cx="606.13" cy="1317.74" r="5.75" fill="#4d4d4d"/><circle cx="621.32" cy="1319.81" r="5.75" fill="#4d4d4d"/><circle cx="635.39" cy="1320.13" r="5.75" fill="#4d4d4d"/><circle cx="646.64" cy="1318.88" r="5.75" fill="#4d4d4d"/></g>
<path d="M117.77 1661.95L131.55 1344.62M131.55 1344.62L147.59 1317.92M147.59 1317.92L162.21 1317.78M162.21 1317.78L172.9 1317.9M172.9 1317.9L184.16 1319.93M184.16 1319.93L199.07 1319.48M199.07 1319.48L213.69 1320.61M213.69 1320.61L224.39 1319.81M224.39 1319.81L239.58 1317.42M239.58 1317.42L250.83 1317.49M250.83 1317.49L265.46 1317.43M265.46 1317.43L279.8 1319.95M279.8 1319.95L291.62 1320.03M291.62 1320.03L302.31 1318.56M302.31 1318.56L317.5 1317.82M317.5 1317.82L331.85 1318.46M331.85 1318.46L342.82 1320.41M342.82 1320.41L357.73 1317.58M357.73 1317.58L368.98 1318.13M368.98 1318.13L383.89 1320.09M383.89 1320.09L398.52 1319.56M398.52 1319.56L409.77 1317.37M409.77 1317.37L421.31 1319.33M421.31 1319.33L435.94 1318.22M435.94 1318.22L450.56 1320.27M450.56 1320.27L461.82 1317.6M461.82 1317.6L476.45 1320.2M476.45 1320.2L487.7 1317.34M487.7 1317.34L502.61 1319.5M502.61 1319.5L513.3 1320.25M513.3 1320.25L528.21 1317.37M528.21 1317.37L539.46 1318.9M539.46 1318.9L554.37 1319.22M554.37 1319.22L569.28 1317.87M569.28 1317.87L580.53 1319.84M580.53 1319.84L595.44 1319.88M595.44 1319.88L606.13 1319.81M606.13 1319.81L621.32 1320.25M621.32 1320.25L635.39 1319.49M635.39 1319.49L646.64 1318.7" stroke="#ef3e46" stroke-width="1" fill="none"/>
<g><circle cx="117.77" cy="1661.95" r="5.05" fill="#fff" stroke="#ef3e46" stroke-width="1.4"/><circle cx="131.55" cy="1344.62" r="5.05" fill="#fff" stroke="#ef3e46" stroke-width="1.4"/><circle cx="147.59" cy="1317.92" r="5.05" fill="#fff" stroke="#ef3e46" stroke-width="1.4"/><circle cx="162.21" cy="1317.78" r="5.05" fill="#fff" stroke="#ef3e46" stroke-width="1.4"/><circle cx="172.9" cy="1317.9" r="5.05" fill="#fff" stroke="#ef3e46" stroke-width="1.4"/><circle cx="184.16" cy="1319.93" r="5.05" fill="#fff" stroke="#ef3e46" stroke-width="1.4"/><circle cx="199.07" cy="1319.48" r="5.05" fill="#fff" stroke="#ef3e46" stroke-width="1.4"/><circle cx="213.69" cy="1320.61" r="5.05" fill="#fff" stroke="#ef3e46" stroke-width="1.4"/><circle cx="224.39" cy="1319.81" r="5.05" fill="#fff" stroke="#ef3e46" stroke-width="1.4"/><circle cx="239.58" cy="1317.42" r="5.05" fill="#fff" stroke="#ef3e46" stroke-width="1.4"/><circle cx="250.83" cy="1317.49" r="5.05" fill="#fff" stroke="#ef3e46" stroke-width="1.4"/><circle cx="265.46" cy="1317.43" r="5.05" fill="#fff" stroke="#ef3e46" stroke-width="1.4"/><circle cx="279.8" cy="1319.95" r="5.05" fill="#fff" stroke="#ef3e46" stroke-width="1.4"/><circle cx="291.62" cy="1320.03" r="5.05" fill="#fff" stroke="#ef3e46" stroke-width="1.4"/><circle cx="302.31" cy="1318.56" r="5.05" fill="#fff" stroke="#ef3e46" stroke-width="1.4"/><circle cx="317.5" cy="1317.82" r="5.05" fill="#fff" stroke="#ef3e46" stroke-width="1.4"/><circle cx="331.85" cy="1318.46" r="5.05" fill="#fff" stroke="#ef3e46" stroke-width="1.4"/><circle cx="342.82" cy="1320.41" r="5.05" fill="#fff" stroke="#ef3e46" stroke-width="1.4"/><circle cx="357.73" cy="1317.58" r="5.05" fill="#fff" stroke="#ef3e46" stroke-width="1.4"/><circle cx="368.98" cy="1318.13" r="5.05" fill="#fff" stroke="#ef3e46" stroke-width="1.4"/><circle cx="383.89" cy="1320.09" r="5.05" fill="#fff" stroke="#ef3e46" stroke-width="1.4"/><circle cx="398.52" cy="1319.56" r="5.05" fill="#fff" stroke="#ef3e46" stroke-width="1.4"/><circle cx="409.77" cy="1317.37" r="5.05" fill="#fff" stroke="#ef3e46" stroke-width="1.4"/><circle cx="421.31" cy="1319.33" r="5.05" fill="#fff" stroke="#ef3e46" stroke-width="1.4"/><circle cx="435.94" cy="1318.22" r="5.05" fill="#fff" stroke="#ef3e46" stroke-width="1.4"/><circle cx="450.56" cy="1320.27" r="5.05" fill="#fff" stroke="#ef3e46" stroke-width="1.4"/><circle cx="461.82" cy="1317.6" r="5.05" fill="#fff" stroke="#ef3e46" stroke-width="1.4"/><circle cx="476.45" cy="1320.2" r="5.05" fill="#fff" stroke="#ef3e46" stroke-width="1.4"/><circle cx="487.7" cy="1317.34" r="5.05" fill="#fff" stroke="#ef3e46" stroke-width="1.4"/><circle cx="502.61" cy="1319.5" r="5.05" fill="#fff" stroke="#ef3e46" stroke-width="1.4"/><circle cx="513.3" cy="1320.25" r="5.05" fill="#fff" stroke="#ef3e46" stroke-width="1.4"/><circle cx="528.21" cy="1317.37" r="5.05" fill="#fff" stroke="#ef3e46" stroke-width="1.4"/><circle cx="539.46" cy="1318.9" r="5.05" fill="#fff" stroke="#ef3e46" stroke-width="1.4"/><circle cx="554.37" cy="1319.22" r="5.05" fill="#fff" stroke="#ef3e46" stroke-width="1.4"/><circle cx="569.28" cy="1317.87" r="5.05" fill="#fff" stroke="#ef3e46" stroke-width="1.4"/><circle cx="580.53" cy="1319.84" r="5.05" fill="#fff" stroke="#ef3e46" stroke-width="1.4"/><circle cx="595.44" cy="1319.88" r="5.05" fill="#fff" stroke="#ef3e46" stroke-width="1.4"/><circle cx="606.13" cy="1319.81" r="5.05" fill="#fff" stroke="#ef3e46" stroke-width="1.4"/><circle cx="621.32" cy="1320.25" r="5.05" fill="#fff" stroke="#ef3e46" stroke-width="1.4"/><circle cx="635.39" cy="1319.49" r="5.05" fill="#fff" stroke="#ef3e46" stroke-width="1.4"/><circle cx="646.64" cy="1318.7" r="5.05" fill="#fff" stroke="#ef3e46" stroke-width="1.4"/></g>
<path d="M117.77 1661.95L131.55 1661.95M131.55 1661.95L147.59 1661.95M147.59 1661.95L162.21 1661.95M162.21 1661.95L172.9 1661.95M172.9 1661.95L184.16 1661.95M184.16 1661.95L199.07 1655.75M199.07 1655.75L213.69 1645.55M213.69 1645.55L224.39 1625.63M224.39 1625.63L239.58 1580.32M239.58 1580.32L250.83 1533.05M250.83 1533.05L265.46 1470.48M265.46 1470.48L279.8 1420.41M279.8 1420.41L291.62 1378.2M291.62 1378.2L302.31 1333.56M302.31 1333.56L317.5 1287.2M317.5 1287.2L331.85 1266.91M331.85 1266.91L342.82 1259.62M342.82 1259.62L357.73 1258.97M357.73 1258.97L368.98 1262.78M368.98 1262.78L383.89 1270.71M383.89 1270.71L398.52 1285.13M398.52 1285.13L409.77 1303.66M409.77 1303.66L421.31 1317.25M421.31 1317.25L435.94 1318.1M435.94 1318.1L450.56 1319.18M450.56 1319.18L461.82 1318.97M461.82 1318.97L476.45 1318.33" stroke="#ef3e46" stroke-width="2" fill="none"/>
<g><circle cx="117.77" cy="1661.95" r="5.05" fill="#fff" stroke="#ef3e46" stroke-width="1.4"/><path d="M117.77 1656.9A5.05 5.05 0 0 1 117.77 1667Z" fill="#ef3e46"/><path d="M118.57 1658.52L118.57 1665.39L122.21 1661.95Z" fill="#fff"/><circle cx="131.55" cy="1661.95" r="5.05" fill="#fff" stroke="#ef3e46" stroke-width="1.4"/><path d="M131.55 1656.9A5.05 5.05 0 0 1 131.55 1667Z" fill="#ef3e46"/><path d="M132.35 1658.52L132.35 1665.39L135.99 1661.95Z" fill="#fff"/><circle cx="147.59" cy="1661.95" r="5.05" fill="#fff" stroke="#ef3e46" stroke-width="1.4"/><path d="M147.59 1656.9A5.05 5.05 0 0 1 147.59 1667Z" fill="#ef3e46"/><path d="M148.39 1658.52L148.39 1665.39L152.03 1661.95Z" fill="#fff"/><circle cx="162.21" cy="1661.95" r="5.05" fill="#fff" stroke="#ef3e46" stroke-width="1.4"/><path d="M162.21 1656.9A5.05 5.05 0 0 1 162.21 1667Z" fill="#ef3e46"/><path d="M163.01 1658.52L163.01 1665.39L166.66 1661.95Z" fill="#fff"/><circle cx="172.9" cy="1661.95" r="5.05" fill="#fff" stroke="#ef3e46" stroke-width="1.4"/><path d="M172.9 1656.9A5.05 5.05 0 0 1 172.9 1667Z" fill="#ef3e46"/><path d="M173.7 1658.52L173.7 1665.39L177.35 1661.95Z" fill="#fff"/><circle cx="184.16" cy="1661.95" r="5.05" fill="#fff" stroke="#ef3e46" stroke-width="1.4"/><path d="M184.16 1656.9A5.05 5.05 0 0 1 184.16 1667Z" fill="#ef3e46"/><path d="M184.96 1658.52L184.96 1665.39L188.6 1661.95Z" fill="#fff"/><circle cx="199.07" cy="1655.75" r="5.05" fill="#fff" stroke="#ef3e46" stroke-width="1.4"/><path d="M199.07 1650.7A5.05 5.05 0 0 1 199.07 1660.8Z" fill="#ef3e46"/><path d="M199.87 1652.32L199.87 1659.18L203.51 1655.75Z" fill="#fff"/><circle cx="213.69" cy="1645.55" r="5.05" fill="#fff" stroke="#ef3e46" stroke-width="1.4"/><path d="M213.69 1640.5A5.05 5.05 0 0 1 213.69 1650.6Z" fill="#ef3e46"/><path d="M214.49 1642.11L214.49 1648.98L218.14 1645.55Z" fill="#fff"/><circle cx="224.39" cy="1625.63" r="5.05" fill="#fff" stroke="#ef3e46" stroke-width="1.4"/><path d="M224.39 1620.58A5.05 5.05 0 0 1 224.39 1630.68Z" fill="#ef3e46"/><path d="M225.19 1622.19L225.19 1629.06L228.83 1625.63Z" fill="#fff"/><circle cx="239.58" cy="1580.32" r="5.05" fill="#fff" stroke="#ef3e46" stroke-width="1.4"/><path d="M239.58 1575.27A5.05 5.05 0 0 1 239.58 1585.37Z" fill="#ef3e46"/><path d="M240.38 1576.88L240.38 1583.75L244.02 1580.32Z" fill="#fff"/><circle cx="250.83" cy="1533.05" r="5.05" fill="#fff" stroke="#ef3e46" stroke-width="1.4"/><path d="M250.83 1528A5.05 5.05 0 0 1 250.83 1538.1Z" fill="#ef3e46"/><path d="M251.63 1529.62L251.63 1536.49L255.27 1533.05Z" fill="#fff"/><circle cx="265.46" cy="1470.48" r="5.05" fill="#fff" stroke="#ef3e46" stroke-width="1.4"/><path d="M265.46 1465.43A5.05 5.05 0 0 1 265.46 1475.53Z" fill="#ef3e46"/><path d="M266.26 1467.04L266.26 1473.91L269.9 1470.48Z" fill="#fff"/><circle cx="279.8" cy="1420.41" r="5.05" fill="#fff" stroke="#ef3e46" stroke-width="1.4"/><path d="M279.8 1415.36A5.05 5.05 0 0 1 279.8 1425.46Z" fill="#ef3e46"/><path d="M280.6 1416.98L280.6 1423.85L284.25 1420.41Z" fill="#fff"/><circle cx="291.62" cy="1378.2" r="5.05" fill="#fff" stroke="#ef3e46" stroke-width="1.4"/><path d="M291.62 1373.15A5.05 5.05 0 0 1 291.62 1383.25Z" fill="#ef3e46"/><path d="M292.42 1374.77L292.42 1381.64L296.06 1378.2Z" fill="#fff"/><circle cx="302.31" cy="1333.56" r="5.05" fill="#fff" stroke="#ef3e46" stroke-width="1.4"/><path d="M302.31 1328.51A5.05 5.05 0 0 1 302.31 1338.61Z" fill="#ef3e46"/><path d="M303.11 1330.13L303.11 1337L306.75 1333.56Z" fill="#fff"/><circle cx="317.5" cy="1287.2" r="5.05" fill="#fff" stroke="#ef3e46" stroke-width="1.4"/><path d="M317.5 1282.15A5.05 5.05 0 0 1 317.5 1292.25Z" fill="#ef3e46"/><path d="M318.3 1283.77L318.3 1290.63L321.94 1287.2Z" fill="#fff"/><circle cx="331.85" cy="1266.91" r="5.05" fill="#fff" stroke="#ef3e46" stroke-width="1.4"/><path d="M331.85 1261.86A5.05 5.05 0 0 1 331.85 1271.96Z" fill="#ef3e46"/><path d="M332.65 1263.47L332.65 1270.34L336.29 1266.91Z" fill="#fff"/><circle cx="342.82" cy="1259.62" r="5.05" fill="#fff" stroke="#ef3e46" stroke-width="1.4"/><path d="M342.82 1254.57A5.05 5.05 0 0 1 342.82 1264.67Z" fill="#ef3e46"/><path d="M343.62 1256.19L343.62 1263.06L347.26 1259.62Z" fill="#fff"/><circle cx="357.73" cy="1258.97" r="5.05" fill="#fff" stroke="#ef3e46" stroke-width="1.4"/><path d="M357.73 1253.92A5.05 5.05 0 0 1 357.73 1264.02Z" fill="#ef3e46"/><path d="M358.53 1255.54L358.53 1262.4L362.17 1258.97Z" fill="#fff"/><circle cx="368.98" cy="1262.78" r="5.05" fill="#fff" stroke="#ef3e46" stroke-width="1.4"/><path d="M368.98 1257.73A5.05 5.05 0 0 1 368.98 1267.83Z" fill="#ef3e46"/><path d="M369.78 1259.34L369.78 1266.21L373.43 1262.78Z" fill="#fff"/><circle cx="383.89" cy="1270.71" r="5.05" fill="#fff" stroke="#ef3e46" stroke-width="1.4"/><path d="M383.89 1265.66A5.05 5.05 0 0 1 383.89 1275.76Z" fill="#ef3e46"/><path d="M384.69 1267.27L384.69 1274.14L388.34 1270.71Z" fill="#fff"/><circle cx="398.52" cy="1285.13" r="5.05" fill="#fff" stroke="#ef3e46" stroke-width="1.4"/><path d="M398.52 1280.08A5.05 5.05 0 0 1 398.52 1290.18Z" fill="#ef3e46"/><path d="M399.32 1281.7L399.32 1288.56L402.96 1285.13Z" fill="#fff"/><circle cx="409.77" cy="1303.66" r="5.05" fill="#fff" stroke="#ef3e46" stroke-width="1.4"/><path d="M409.77 1298.61A5.05 5.05 0 0 1 409.77 1308.71Z" fill="#ef3e46"/><path d="M410.57 1300.23L410.57 1307.09L414.22 1303.66Z" fill="#fff"/><circle cx="421.31" cy="1317.25" r="5.05" fill="#fff" stroke="#ef3e46" stroke-width="1.4"/><path d="M421.31 1312.2A5.05 5.05 0 0 1 421.31 1322.3Z" fill="#ef3e46"/><path d="M422.11 1313.81L422.11 1320.68L425.75 1317.25Z" fill="#fff"/><circle cx="435.94" cy="1318.1" r="5.05" fill="#fff" stroke="#ef3e46" stroke-width="1.4"/><path d="M435.94 1313.05A5.05 5.05 0 0 1 435.94 1323.15Z" fill="#ef3e46"/><path d="M436.74 1314.66L436.74 1321.53L440.38 1318.1Z" fill="#fff"/><circle cx="450.56" cy="1319.18" r="5.05" fill="#fff" stroke="#ef3e46" stroke-width="1.4"/><path d="M450.56 1314.13A5.05 5.05 0 0 1 450.56 1324.23Z" fill="#ef3e46"/><path d="M451.36 1315.75L451.36 1322.62L455.01 1319.18Z" fill="#fff"/><circle cx="461.82" cy="1318.97" r="5.05" fill="#fff" stroke="#ef3e46" stroke-width="1.4"/><path d="M461.82 1313.92A5.05 5.05 0 0 1 461.82 1324.02Z" fill="#ef3e46"/><path d="M462.62 1315.54L462.62 1322.4L466.26 1318.97Z" fill="#fff"/><circle cx="476.45" cy="1318.33" r="5.05" fill="#fff" stroke="#ef3e46" stroke-width="1.4"/><path d="M476.45 1313.28A5.05 5.05 0 0 1 476.45 1323.38Z" fill="#ef3e46"/><path d="M477.25 1314.89L477.25 1321.76L480.89 1318.33Z" fill="#fff"/></g>
<path d="M117.77 1661.95L131.55 1661.95M131.55 1661.95L147.59 1661.95M147.59 1661.95L162.21 1661.95M162.21 1661.95L172.9 1661.95M172.9 1661.95L184.16 1661.95M184.16 1661.95L199.07 1661.95M199.07 1661.95L213.69 1661.95M213.69 1661.95L224.39 1661.95M224.39 1661.95L239.58 1661.95M239.58 1661.95L250.83 1661.95M250.83 1661.95L265.46 1661.95M265.46 1661.95L279.8 1661.95M279.8 1661.95L291.62 1661.95M291.62 1661.95L302.31 1661.95M302.31 1661.95L317.5 1661.95M317.5 1661.95L331.85 1661.95M331.85 1661.95L342.82 1661.95M342.82 1661.95L357.73 1661.95M357.73 1661.95L368.98 1658.01M368.98 1658.01L383.89 1655.23M383.89 1655.23L398.52 1648.48M398.52 1648.48L409.77 1627.89M409.77 1627.89L421.31 1600.23M421.31 1600.23L435.94 1545.91M435.94 1545.91L450.56 1486.02M450.56 1486.02L461.82 1423.79M461.82 1423.79L476.45 1363.58M476.45 1363.58L487.7 1320.75M487.7 1320.75L502.61 1317.85M502.61 1317.85L513.3 1319.22M513.3 1319.22L528.21 1319.54M528.21 1319.54L539.46 1319.61M539.46 1319.61L554.37 1320.64M554.37 1320.64L569.28 1319.19M569.28 1319.19L580.53 1319.57M580.53 1319.57L595.44 1318.95M595.44 1318.95L606.13 1317.33M606.13 1317.33L621.32 1317.37M621.32 1317.37L635.39 1319.79M635.39 1319.79L646.64 1318.03" stroke="#ef3e46" stroke-width="2.5" fill="none"/>
<g><circle cx="117.77" cy="1661.95" r="5.75" fill="#ef3e46"/><circle cx="131.55" cy="1661.95" r="5.75" fill="#ef3e46"/><circle cx="147.59" cy="1661.95" r="5.75" fill="#ef3e46"/><circle cx="162.21" cy="1661.95" r="5.75" fill="#ef3e46"/><circle cx="172.9" cy="1661.95" r="5.75" fill="#ef3e46"/><circle cx="184.16" cy="1661.95" r="5.75" fill="#ef3e46"/><circle cx="199.07" cy="1661.95" r="5.75" fill="#ef3e46"/><circle cx="213.69" cy="1661.95" r="5.75" fill="#ef3e46"/><circle cx="224.39" cy="1661.95" r="5.75" fill="#ef3e46"/><circle cx="239.58" cy="1661.95" r="5.75" fill="#ef3e46"/><circle cx="250.83" cy="1661.95" r="5.75" fill="#ef3e46"/><circle cx="265.46" cy="1661.95" r="5.75" fill="#ef3e46"/><circle cx="279.8" cy="1661.95" r="5.75" fill="#ef3e46"/><circle cx="291.62" cy="1661.95" r="5.75" fill="#ef3e46"/><circle cx="302.31" cy="1661.95" r="5.75" fill="#ef3e46"/><circle cx="317.5" cy="1661.95" r="5.75" fill="#ef3e46"/><circle cx="331.85" cy="1661.95" r="5.75" fill="#ef3e46"/><circle cx="342.82" cy="1661.95" r="5.75" fill="#ef3e46"/><circle cx="357.73" cy="1661.95" r="5.75" fill="#ef3e46"/><circle cx="368.98" cy="1658.01" r="5.75" fill="#ef3e46"/><circle cx="383.89" cy="1655.23" r="5.75" fill="#ef3e46"/><circle cx="398.52" cy="1648.48" r="5.75" fill="#ef3e46"/><circle cx="409.77" cy="1627.89" r="5.75" fill="#ef3e46"/><circle cx="421.31" cy="1600.23" r="5.75" fill="#ef3e46"/><circle cx="435.94" cy="1545.91" r="5.75" fill="#ef3e46"/><circle cx="450.56" cy="1486.02" r="5.75" fill="#ef3e46"/><circle cx="461.82" cy="1423.79" r="5.75" fill="#ef3e46"/><circle cx="476.45" cy="1363.58" r="5.75" fill="#ef3e46"/><circle cx="487.7" cy="1320.75" r="5.75" fill="#ef3e46"/><circle cx="502.61" cy="1317.85" r="5.75" fill="#ef3e46"/><circle cx="513.3" cy="1319.22" r="5.75" fill="#ef3e46"/><circle cx="528.21" cy="1319.54" r="5.75" fill="#ef3e46"/><circle cx="539.46" cy="1319.61" r="5.75" fill="#ef3e46"/><circle cx="554.37" cy="1320.64" r="5.75" fill="#ef3e46"/><circle cx="569.28" cy="1319.19" r="5.75" fill="#ef3e46"/><circle cx="580.53" cy="1319.57" r="5.75" fill="#ef3e46"/><circle cx="595.44" cy="1318.95" r="5.75" fill="#ef3e46"/><circle cx="606.13" cy="1317.33" r="5.75" fill="#ef3e46"/><circle cx="621.32" cy="1317.37" r="5.75" fill="#ef3e46"/><circle cx="635.39" cy="1319.79" r="5.75" fill="#ef3e46"/><circle cx="646.64" cy="1318.03" r="5.75" fill="#ef3e46"/></g>
<path d="M117.77 1661.95L131.55 1343.48M131.55 1343.48L147.59 1317.58M147.59 1317.58L162.21 1319.82M162.21 1319.82L172.9 1317.55M172.9 1317.55L184.16 1318.3M184.16 1318.3L199.07 1320.51M199.07 1320.51L213.69 1319.25M213.69 1319.25L224.39 1317.49M224.39 1317.49L239.58 1317.95M239.58 1317.95L250.83 1317.77M250.83 1317.77L265.46 1317.74M265.46 1317.74L279.8 1319.54M279.8 1319.54L291.62 1317.53M291.62 1317.53L302.31 1320.26M302.31 1320.26L317.5 1319.89M317.5 1319.89L331.85 1320.15M331.85 1320.15L342.82 1320.01M342.82 1320.01L357.73 1319.66M357.73 1319.66L368.98 1319.71M368.98 1319.71L383.89 1320.09M383.89 1320.09L398.52 1320.64M398.52 1320.64L409.77 1320.65M409.77 1320.65L421.31 1318.81M421.31 1318.81L435.94 1319.08M435.94 1319.08L450.56 1320.34M450.56 1320.34L461.82 1319.22M461.82 1319.22L476.45 1317.84M476.45 1317.84L487.7 1318.97M487.7 1318.97L502.61 1317.33M502.61 1317.33L513.3 1317.85M513.3 1317.85L528.21 1318.52M528.21 1318.52L539.46 1319.51M539.46 1319.51L554.37 1320.26M554.37 1320.26L569.28 1318.16M569.28 1318.16L580.53 1320.14M580.53 1320.14L595.44 1317.82M595.44 1317.82L606.13 1318.4M606.13 1318.4L621.32 1319.87M621.32 1319.87L635.39 1319.13M635.39 1319.13L646.64 1319.17" stroke="#1a6ce4" stroke-width="1" fill="none"/>
<g><circle cx="117.77" cy="1661.95" r="5.05" fill="#fff" stroke="#1a6ce4" stroke-width="1.4"/><circle cx="131.55" cy="1343.48" r="5.05" fill="#fff" stroke="#1a6ce4" stroke-width="1.4"/><circle cx="147.59" cy="1317.58" r="5.05" fill="#fff" stroke="#1a6ce4" stroke-width="1.4"/><circle cx="162.21" cy="1319.82" r="5.05" fill="#fff" stroke="#1a6ce4" stroke-width="1.4"/><circle cx="172.9" cy="1317.55" r="5.05" fill="#fff" stroke="#1a6ce4" stroke-width="1.4"/><circle cx="184.16" cy="1318.3" r="5.05" fill="#fff" stroke="#1a6ce4" stroke-width="1.4"/><circle cx="199.07" cy="1320.51" r="5.05" fill="#fff" stroke="#1a6ce4" stroke-width="1.4"/><circle cx="213.69" cy="1319.25" r="5.05" fill="#fff" stroke="#1a6ce4" stroke-width="1.4"/><circle cx="224.39" cy="1317.49" r="5.05" fill="#fff" stroke="#1a6ce4" stroke-width="1.4"/><circle cx="239.58" cy="1317.95" r="5.05" fill="#fff" stroke="#1a6ce4" stroke-width="1.4"/><circle cx="250.83" cy="1317.77" r="5.05" fill="#fff" stroke="#1a6ce4" stroke-width="1.4"/><circle cx="265.46" cy="1317.74" r="5.05" fill="#fff" stroke="#1a6ce4" stroke-width="1.4"/><circle cx="279.8" cy="1319.54" r="5.05" fill="#fff" stroke="#1a6ce4" stroke-width="1.4"/><circle cx="291.62" cy="1317.53" r="5.05" fill="#fff" stroke="#1a6ce4" stroke-width="1.4"/><circle cx="302.31" cy="1320.26" r="5.05" fill="#fff" stroke="#1a6ce4" stroke-width="1.4"/><circle cx="317.5" cy="1319.89" r="5.05" fill="#fff" stroke="#1a6ce4" stroke-width="1.4"/><circle cx="331.85" cy="1320.15" r="5.05" fill="#fff" stroke="#1a6ce4" stroke-width="1.4"/><circle cx="342.82" cy="1320.01" r="5.05" fill="#fff" stroke="#1a6ce4" stroke-width="1.4"/><circle cx="357.73" cy="1319.66" r="5.05" fill="#fff" stroke="#1a6ce4" stroke-width="1.4"/><circle cx="368.98" cy="1319.71" r="5.05" fill="#fff" stroke="#1a6ce4" stroke-width="1.4"/><circle cx="383.89" cy="1320.09" r="5.05" fill="#fff" stroke="#1a6ce4" stroke-width="1.4"/><circle cx="398.52" cy="1320.64" r="5.05" fill="#fff" stroke="#1a6ce4" stroke-width="1.4"/><circle cx="409.77" cy="1320.65" r="5.05" fill="#fff" stroke="#1a6ce4" stroke-width="1.4"/><circle cx="421.31" cy="1318.81" r="5.05" fill="#fff" stroke="#1a6ce4" stroke-width="1.4"/><circle cx="435.94" cy="1319.08" r="5.05" fill="#fff" stroke="#1a6ce4" stroke-width="1.4"/><circle cx="450.56" cy="1320.34" r="5.05" fill="#fff" stroke="#1a6ce4" stroke-width="1.4"/><circle cx="461.82" cy="1319.22" r="5.05" fill="#fff" stroke="#1a6ce4" stroke-width="1.4"/><circle cx="476.45" cy="1317.84" r="5.05" fill="#fff" stroke="#1a6ce4" stroke-width="1.4"/><circle cx="487.7" cy="1318.97" r="5.05" fill="#fff" stroke="#1a6ce4" stroke-width="1.4"/><circle cx="502.61" cy="1317.33" r="5.05" fill="#fff" stroke="#1a6ce4" stroke-width="1.4"/><circle cx="513.3" cy="1317.85" r="5.05" fill="#fff" stroke="#1a6ce4" stroke-width="1.4"/><circle cx="528.21" cy="1318.52" r="5.05" fill="#fff" stroke="#1a6ce4" stroke-width="1.4"/><circle cx="539.46" cy="1319.51" r="5.05" fill="#fff" stroke="#1a6ce4" stroke-width="1.4"/><circle cx="554.37" cy="1320.26" r="5.05" fill="#fff" stroke="#1a6ce4" stroke-width="1.4"/><circle cx="569.28" cy="1318.16" r="5.05" fill="#fff" stroke="#1a6ce4" stroke-width="1.4"/><circle cx="580.53" cy="1320.14" r="5.05" fill="#fff" stroke="#1a6ce4" stroke-width="1.4"/><circle cx="595.44" cy="1317.82" r="5.05" fill="#fff" stroke="#1a6ce4" stroke-width="1.4"/><circle cx="606.13" cy="1318.4" r="5.05" fill="#fff" stroke="#1a6ce4" stroke-width="1.4"/><circle cx="621.32" cy="1319.87" r="5.05" fill="#fff" stroke="#1a6ce4" stroke-width="1.4"/><circle cx="635.39" cy="1319.13" r="5.05" fill="#fff" stroke="#1a6ce4" stroke-width="1.4"/><circle cx="646.64" cy="1319.17" r="5.05" fill="#fff" stroke="#1a6ce4" stroke-width="1.4"/></g>
<path d="M117.77 1661.95L131.55 1661.95M131.55 1661.95L147.59 1661.95M147.59 1661.95L162.21 1661.95M162.21 1661.95L172.9 1661.95M172.9 1661.95L184.16 1661.95M184.16 1661.95L199.07 1655.78M199.07 1655.78L213.69 1645.42M213.69 1645.42L224.39 1625.23M224.39 1625.23L239.58 1580.58M239.58 1580.58L250.83 1531.65M250.83 1531.65L265.46 1470.69M265.46 1470.69L279.8 1419.48M279.8 1419.48L291.62 1377.27M291.62 1377.27L302.31 1331.84M302.31 1331.84L317.5 1286.75M317.5 1286.75L331.85 1266.45M331.85 1266.45L342.82 1259.5M342.82 1259.5L357.73 1258.97M357.73 1258.97L368.98 1262.83M368.98 1262.83L383.89 1270.85M383.89 1270.85L398.52 1285.25M398.52 1285.25L409.77 1303.6M409.77 1303.6L421.31 1316.41M421.31 1316.41L435.94 1318.25M435.94 1318.25L450.56 1319.37M450.56 1319.37L461.82 1317.33M461.82 1317.33L476.45 1318.22" stroke="#1a6ce4" stroke-width="2" fill="none"/>
<g><circle cx="117.77" cy="1661.95" r="5.05" fill="#fff" stroke="#1a6ce4" stroke-width="1.4"/><path d="M117.77 1656.9A5.05 5.05 0 0 1 117.77 1667Z" fill="#1a6ce4"/><path d="M118.57 1658.52L118.57 1665.39L122.21 1661.95Z" fill="#fff"/><circle cx="131.55" cy="1661.95" r="5.05" fill="#fff" stroke="#1a6ce4" stroke-width="1.4"/><path d="M131.55 1656.9A5.05 5.05 0 0 1 131.55 1667Z" fill="#1a6ce4"/><path d="M132.35 1658.52L132.35 1665.39L135.99 1661.95Z" fill="#fff"/><circle cx="147.59" cy="1661.95" r="5.05" fill="#fff" stroke="#1a6ce4" stroke-width="1.4"/><path d="M147.59 1656.9A5.05 5.05 0 0 1 147.59 1667Z" fill="#1a6ce4"/><path d="M148.39 1658.52L148.39 1665.39L152.03 1661.95Z" fill="#fff"/><circle cx="162.21" cy="1661.95" r="5.05" fill="#fff" stroke="#1a6ce4" stroke-width="1.4"/><path d="M162.21 1656.9A5.05 5.05 0 0 1 162.21 1667Z" fill="#1a6ce4"/><path d="M163.01 1658.52L163.01 1665.39L166.66 1661.95Z" fill="#fff"/><circle cx="172.9" cy="1661.95" r="5.05" fill="#fff" stroke="#1a6ce4" stroke-width="1.4"/><path d="M172.9 1656.9A5.05 5.05 0 0 1 172.9 1667Z" fill="#1a6ce4"/><path d="M173.7 1658.52L173.7 1665.39L177.35 1661.95Z" fill="#fff"/><circle cx="184.16" cy="1661.95" r="5.05" fill="#fff" stroke="#1a6ce4" stroke-width="1.4"/><path d="M184.16 1656.9A5.05 5.05 0 0 1 184.16 1667Z" fill="#1a6ce4"/><path d="M184.96 1658.52L184.96 1665.39L188.6 1661.95Z" fill="#fff"/><circle cx="199.07" cy="1655.78" r="5.05" fill="#fff" stroke="#1a6ce4" stroke-width="1.4"/><path d="M199.07 1650.73A5.05 5.05 0 0 1 199.07 1660.83Z" fill="#1a6ce4"/><path d="M199.87 1652.34L199.87 1659.21L203.51 1655.78Z" fill="#fff"/><circle cx="213.69" cy="1645.42" r="5.05" fill="#fff" stroke="#1a6ce4" stroke-width="1.4"/><path d="M213.69 1640.37A5.05 5.05 0 0 1 213.69 1650.47Z" fill="#1a6ce4"/><path d="M214.49 1641.99L214.49 1648.86L218.14 1645.42Z" fill="#fff"/><circle cx="224.39" cy="1625.23" r="5.05" fill="#fff" stroke="#1a6ce4" stroke-width="1.4"/><path d="M224.39 1620.18A5.05 5.05 0 0 1 224.39 1630.28Z" fill="#1a6ce4"/><path d="M225.19 1621.8L225.19 1628.67L228.83 1625.23Z" fill="#fff"/><circle cx="239.58" cy="1580.58" r="5.05" fill="#fff" stroke="#1a6ce4" stroke-width="1.4"/><path d="M239.58 1575.53A5.05 5.05 0 0 1 239.58 1585.63Z" fill="#1a6ce4"/><path d="M240.38 1577.15L240.38 1584.01L244.02 1580.58Z" fill="#fff"/><circle cx="250.83" cy="1531.65" r="5.05" fill="#fff" stroke="#1a6ce4" stroke-width="1.4"/><path d="M250.83 1526.6A5.05 5.05 0 0 1 250.83 1536.7Z" fill="#1a6ce4"/><path d="M251.63 1528.21L251.63 1535.08L255.27 1531.65Z" fill="#fff"/><circle cx="265.46" cy="1470.69" r="5.05" fill="#fff" stroke="#1a6ce4" stroke-width="1.4"/><path d="M265.46 1465.64A5.05 5.05 0 0 1 265.46 1475.74Z" fill="#1a6ce4"/><path d="M266.26 1467.26L266.26 1474.13L269.9 1470.69Z" fill="#fff"/><circle cx="279.8" cy="1419.48" r="5.05" fill="#fff" stroke="#1a6ce4" stroke-width="1.4"/><path d="M279.8 1414.43A5.05 5.05 0 0 1 279.8 1424.53Z" fill="#1a6ce4"/><path d="M280.6 1416.05L280.6 1422.92L284.25 1419.48Z" fill="#fff"/><circle cx="291.62" cy="1377.27" r="5.05" fill="#fff" stroke="#1a6ce4" stroke-width="1.4"/><path d="M291.62 1372.22A5.05 5.05 0 0 1 291.62 1382.32Z" fill="#1a6ce4"/><path d="M292.42 1373.83L292.42 1380.7L296.06 1377.27Z" fill="#fff"/><circle cx="302.31" cy="1331.84" r="5.05" fill="#fff" stroke="#1a6ce4" stroke-width="1.4"/><path d="M302.31 1326.79A5.05 5.05 0 0 1 302.31 1336.89Z" fill="#1a6ce4"/><path d="M303.11 1328.41L303.11 1335.28L306.75 1331.84Z" fill="#fff"/><circle cx="317.5" cy="1286.75" r="5.05" fill="#fff" stroke="#1a6ce4" stroke-width="1.4"/><path d="M317.5 1281.7A5.05 5.05 0 0 1 317.5 1291.8Z" fill="#1a6ce4"/><path d="M318.3 1283.32L318.3 1290.19L321.94 1286.75Z" fill="#fff"/><circle cx="331.85" cy="1266.45" r="5.05" fill="#fff" stroke="#1a6ce4" stroke-width="1.4"/><path d="M331.85 1261.4A5.05 5.05 0 0 1 331.85 1271.5Z" fill="#1a6ce4"/><path d="M332.65 1263.02L332.65 1269.88L336.29 1266.45Z" fill="#fff"/><circle cx="342.82" cy="1259.5" r="5.05" fill="#fff" stroke="#1a6ce4" stroke-width="1.4"/><path d="M342.82 1254.45A5.05 5.05 0 0 1 342.82 1264.55Z" fill="#1a6ce4"/><path d="M343.62 1256.06L343.62 1262.93L347.26 1259.5Z" fill="#fff"/><circle cx="357.73" cy="1258.97" r="5.05" fill="#fff" stroke="#1a6ce4" stroke-width="1.4"/><path d="M357.73 1253.92A5.05 5.05 0 0 1 357.73 1264.02Z" fill="#1a6ce4"/><path d="M358.53 1255.54L358.53 1262.4L362.17 1258.97Z" fill="#fff"/><circle cx="368.98" cy="1262.83" r="5.05" fill="#fff" stroke="#1a6ce4" stroke-width="1.4"/><path d="M368.98 1257.78A5.05 5.05 0 0 1 368.98 1267.88Z" fill="#1a6ce4"/><path d="M369.78 1259.4L369.78 1266.26L373.43 1262.83Z" fill="#fff"/><circle cx="383.89" cy="1270.85" r="5.05" fill="#fff" stroke="#1a6ce4" stroke-width="1.4"/><path d="M383.89 1265.8A5.05 5.05 0 0 1 383.89 1275.9Z" fill="#1a6ce4"/><path d="M384.69 1267.42L384.69 1274.29L388.34 1270.85Z" fill="#fff"/><circle cx="398.52" cy="1285.25" r="5.05" fill="#fff" stroke="#1a6ce4" stroke-width="1.4"/><path d="M398.52 1280.2A5.05 5.05 0 0 1 398.52 1290.3Z" fill="#1a6ce4"/><path d="M399.32 1281.82L399.32 1288.69L402.96 1285.25Z" fill="#fff"/><circle cx="409.77" cy="1303.6" r="5.05" fill="#fff" stroke="#1a6ce4" stroke-width="1.4"/><path d="M409.77 1298.55A5.05 5.05 0 0 1 409.77 1308.65Z" fill="#1a6ce4"/><path d="M410.57 1300.17L410.57 1307.04L414.22 1303.6Z" fill="#fff"/><circle cx="421.31" cy="1316.41" r="5.05" fill="#fff" stroke="#1a6ce4" stroke-width="1.4"/><path d="M421.31 1311.36A5.05 5.05 0 0 1 421.31 1321.46Z" fill="#1a6ce4"/><path d="M422.11 1312.98L422.11 1319.85L425.75 1316.41Z" fill="#fff"/><circle cx="435.94" cy="1318.25" r="5.05" fill="#fff" stroke="#1a6ce4" stroke-width="1.4"/><path d="M435.94 1313.2A5.05 5.05 0 0 1 435.94 1323.3Z" fill="#1a6ce4"/><path d="M436.74 1314.81L436.74 1321.68L440.38 1318.25Z" fill="#fff"/><circle cx="450.56" cy="1319.37" r="5.05" fill="#fff" stroke="#1a6ce4" stroke-width="1.4"/><path d="M450.56 1314.32A5.05 5.05 0 0 1 450.56 1324.42Z" fill="#1a6ce4"/><path d="M451.36 1315.93L451.36 1322.8L455.01 1319.37Z" fill="#fff"/><circle cx="461.82" cy="1317.33" r="5.05" fill="#fff" stroke="#1a6ce4" stroke-width="1.4"/><path d="M461.82 1312.28A5.05 5.05 0 0 1 461.82 1322.38Z" fill="#1a6ce4"/><path d="M462.62 1313.89L462.62 1320.76L466.26 1317.33Z" fill="#fff"/><circle cx="476.45" cy="1318.22" r="5.05" fill="#fff" stroke="#1a6ce4" stroke-width="1.4"/><path d="M476.45 1313.17A5.05 5.05 0 0 1 476.45 1323.27Z" fill="#1a6ce4"/><path d="M477.25 1314.79L477.25 1321.65L480.89 1318.22Z" fill="#fff"/></g>
<path d="M117.77 1661.95L131.55 1661.95M131.55 1661.95L147.59 1661.95M147.59 1661.95L162.21 1661.95M162.21 1661.95L172.9 1661.95M172.9 1661.95L184.16 1661.95M184.16 1661.95L199.07 1661.95M199.07 1661.95L213.69 1661.95M213.69 1661.95L224.39 1661.95M224.39 1661.95L239.58 1661.95M239.58 1661.95L250.83 1661.95M250.83 1661.95L265.46 1661.95M265.46 1661.95L279.8 1661.95M279.8 1661.95L291.62 1661.95M291.62 1661.95L302.31 1661.95M302.31 1661.95L317.5 1661.95M317.5 1661.95L331.85 1661.95M331.85 1661.95L342.82 1661.95M342.82 1661.95L357.73 1661.95M357.73 1661.95L368.98 1657.79M368.98 1657.79L383.89 1655.23M383.89 1655.23L398.52 1648.26M398.52 1648.26L409.77 1627.78M409.77 1627.78L421.31 1600.45M421.31 1600.45L435.94 1544.79M435.94 1544.79L450.56 1484.64M450.56 1484.64L461.82 1424.41M461.82 1424.41L476.45 1361.95M476.45 1361.95L487.7 1319.68M487.7 1319.68L502.61 1318.98M502.61 1318.98L513.3 1318.44M513.3 1318.44L528.21 1318.18M528.21 1318.18L539.46 1320.45M539.46 1320.45L554.37 1318.2M554.37 1318.2L569.28 1318.17M569.28 1318.17L580.53 1319.01M580.53 1319.01L595.44 1319.06M595.44 1319.06L606.13 1318.07M606.13 1318.07L621.32 1318.5M621.32 1318.5L635.39 1320.2M635.39 1320.2L646.64 1318.15" stroke="#1a6ce4" stroke-width="2.5" fill="none"/>
<g><circle cx="117.77" cy="1661.95" r="5.75" fill="#1a6ce4"/><circle cx="131.55" cy="1661.95" r="5.75" fill="#1a6ce4"/><circle cx="147.59" cy="1661.95" r="5.75" fill="#1a6ce4"/><circle cx="162.21" cy="1661.95" r="5.75" fill="#1a6ce4"/><circle cx="172.9" cy="1661.95" r="5.75" fill="#1a6ce4"/><circle cx="184.16" cy="1661.95" r="5.75" fill="#1a6ce4"/><circle cx="199.07" cy="1661.95" r="5.75" fill="#1a6ce4"/><circle cx="213.69" cy="1661.95" r="5.75" fill="#1a6ce4"/><circle cx="224.39" cy="1661.95" r="5.75" fill="#1a6ce4"/><circle cx="239.58" cy="1661.95" r="5.75" fill="#1a6ce4"/><circle cx="250.83" cy="1661.95" r="5.75" fill="#1a6ce4"/><circle cx="265.46" cy="1661.95" r="5.75" fill="#1a6ce4"/><circle cx="279.8" cy="1661.95" r="5.75" fill="#1a6ce4"/><circle cx="291.62" cy="1661.95" r="5.75" fill="#1a6ce4"/><circle cx="302.31" cy="1661.95" r="5.75" fill="#1a6ce4"/><circle cx="317.5" cy="1661.95" r="5.75" fill="#1a6ce4"/><circle cx="331.85" cy="1661.95" r="5.75" fill="#1a6ce4"/><circle cx="342.82" cy="1661.95" r="5.75" fill="#1a6ce4"/><circle cx="357.73" cy="1661.95" r="5.75" fill="#1a6ce4"/><circle cx="368.98" cy="1657.79" r="5.75" fill="#1a6ce4"/><circle cx="383.89" cy="1655.23" r="5.75" fill="#1a6ce4"/><circle cx="398.52" cy="1648.26" r="5.75" fill="#1a6ce4"/><circle cx="409.77" cy="1627.78" r="5.75" fill="#1a6ce4"/><circle cx="421.31" cy="1600.45" r="5.75" fill="#1a6ce4"/><circle cx="435.94" cy="1544.79" r="5.75" fill="#1a6ce4"/><circle cx="450.56" cy="1484.64" r="5.75" fill="#1a6ce4"/><circle cx="461.82" cy="1424.41" r="5.75" fill="#1a6ce4"/><circle cx="476.45" cy="1361.95" r="5.75" fill="#1a6ce4"/><circle cx="487.7" cy="1319.68" r="5.75" fill="#1a6ce4"/><circle cx="502.61" cy="1318.98" r="5.75" fill="#1a6ce4"/><circle cx="513.3" cy="1318.44" r="5.75" fill="#1a6ce4"/><circle cx="528.21" cy="1318.18" r="5.75" fill="#1a6ce4"/><circle cx="539.46" cy="1320.45" r="5.75" fill="#1a6ce4"/><circle cx="554.37" cy="1318.2" r="5.75" fill="#1a6ce4"/><circle cx="569.28" cy="1318.17" r="5.75" fill="#1a6ce4"/><circle cx="580.53" cy="1319.01" r="5.75" fill="#1a6ce4"/><circle cx="595.44" cy="1319.06" r="5.75" fill="#1a6ce4"/><circle cx="606.13" cy="1318.07" r="5.75" fill="#1a6ce4"/><circle cx="621.32" cy="1318.5" r="5.75" fill="#1a6ce4"/><circle cx="635.39" cy="1320.2" r="5.75" fill="#1a6ce4"/><circle cx="646.64" cy="1318.15" r="5.75" fill="#1a6ce4"/></g>
<path d="M117.77 1661.95L131.55 1343.88M131.55 1343.88L147.59 1320.5M147.59 1320.5L162.21 1318.4M162.21 1318.4L172.9 1318.39M172.9 1318.39L184.16 1318.93M184.16 1318.93L199.07 1319.1M199.07 1319.1L213.69 1317.64M213.69 1317.64L224.39 1317.35M224.39 1317.35L239.58 1320.64M239.58 1320.64L250.83 1317.89M250.83 1317.89L265.46 1319.16M265.46 1319.16L279.8 1319.98M279.8 1319.98L291.62 1319.98M291.62 1319.98L302.31 1320.22M302.31 1320.22L317.5 1317.44M317.5 1317.44L331.85 1317.89M331.85 1317.89L342.82 1317.66M342.82 1317.66L357.73 1319.91M357.73 1319.91L368.98 1319.04M368.98 1319.04L383.89 1320.69M383.89 1320.69L398.52 1319.16M398.52 1319.16L409.77 1320.22M409.77 1320.22L421.31 1319.62M421.31 1319.62L435.94 1320.7M435.94 1320.7L450.56 1317.83M450.56 1317.83L461.82 1317.53M461.82 1317.53L476.45 1317.61M476.45 1317.61L487.7 1319.43M487.7 1319.43L502.61 1317.28M502.61 1317.28L513.3 1319.47M513.3 1319.47L528.21 1319.76M528.21 1319.76L539.46 1320.35M539.46 1320.35L554.37 1319.72M554.37 1319.72L569.28 1319.85M569.28 1319.85L580.53 1318.95M580.53 1318.95L595.44 1319.42M595.44 1319.42L606.13 1317.67M606.13 1317.67L621.32 1318.54M621.32 1318.54L635.39 1317.48M635.39 1317.48L646.64 1318.24" stroke="#39a96b" stroke-width="1" fill="none"/>
<g><circle cx="117.77" cy="1661.95" r="5.05" fill="#fff" stroke="#39a96b" stroke-width="1.4"/><circle cx="131.55" cy="1343.88" r="5.05" fill="#fff" stroke="#39a96b" stroke-width="1.4"/><circle cx="147.59" cy="1320.5" r="5.05" fill="#fff" stroke="#39a96b" stroke-width="1.4"/><circle cx="162.21" cy="1318.4" r="5.05" fill="#fff" stroke="#39a96b" stroke-width="1.4"/><circle cx="172.9" cy="1318.39" r="5.05" fill="#fff" stroke="#39a96b" stroke-width="1.4"/><circle cx="184.16" cy="1318.93" r="5.05" fill="#fff" stroke="#39a96b" stroke-width="1.4"/><circle cx="199.07" cy="1319.1" r="5.05" fill="#fff" stroke="#39a96b" stroke-width="1.4"/><circle cx="213.69" cy="1317.64" r="5.05" fill="#fff" stroke="#39a96b" stroke-width="1.4"/><circle cx="224.39" cy="1317.35" r="5.05" fill="#fff" stroke="#39a96b" stroke-width="1.4"/><circle cx="239.58" cy="1320.64" r="5.05" fill="#fff" stroke="#39a96b" stroke-width="1.4"/><circle cx="250.83" cy="1317.89" r="5.05" fill="#fff" stroke="#39a96b" stroke-width="1.4"/><circle cx="265.46" cy="1319.16" r="5.05" fill="#fff" stroke="#39a96b" stroke-width="1.4"/><circle cx="279.8" cy="1319.98" r="5.05" fill="#fff" stroke="#39a96b" stroke-width="1.4"/><circle cx="291.62" cy="1319.98" r="5.05" fill="#fff" stroke="#39a96b" stroke-width="1.4"/><circle cx="302.31" cy="1320.22" r="5.05" fill="#fff" stroke="#39a96b" stroke-width="1.4"/><circle cx="317.5" cy="1317.44" r="5.05" fill="#fff" stroke="#39a96b" stroke-width="1.4"/><circle cx="331.85" cy="1317.89" r="5.05" fill="#fff" stroke="#39a96b" stroke-width="1.4"/><circle cx="342.82" cy="1317.66" r="5.05" fill="#fff" stroke="#39a96b" stroke-width="1.4"/><circle cx="357.73" cy="1319.91" r="5.05" fill="#fff" stroke="#39a96b" stroke-width="1.4"/><circle cx="368.98" cy="1319.04" r="5.05" fill="#fff" stroke="#39a96b" stroke-width="1.4"/><circle cx="383.89" cy="1320.69" r="5.05" fill="#fff" stroke="#39a96b" stroke-width="1.4"/><circle cx="398.52" cy="1319.16" r="5.05" fill="#fff" stroke="#39a96b" stroke-width="1.4"/><circle cx="409.77" cy="1320.22" r="5.05" fill="#fff" stroke="#39a96b" stroke-width="1.4"/><circle cx="421.31" cy="1319.62" r="5.05" fill="#fff" stroke="#39a96b" stroke-width="1.4"/><circle cx="435.94" cy="1320.7" r="5.05" fill="#fff" stroke="#39a96b" stroke-width="1.4"/><circle cx="450.56" cy="1317.83" r="5.05" fill="#fff" stroke="#39a96b" stroke-width="1.4"/><circle cx="461.82" cy="1317.53" r="5.05" fill="#fff" stroke="#39a96b" stroke-width="1.4"/><circle cx="476.45" cy="1317.61" r="5.05" fill="#fff" stroke="#39a96b" stroke-width="1.4"/><circle cx="487.7" cy="1319.43" r="5.05" fill="#fff" stroke="#39a96b" stroke-width="1.4"/><circle cx="502.61" cy="1317.28" r="5.05" fill="#fff" stroke="#39a96b" stroke-width="1.4"/><circle cx="513.3" cy="1319.47" r="5.05" fill="#fff" stroke="#39a96b" stroke-width="1.4"/><circle cx="528.21" cy="1319.76" r="5.05" fill="#fff" stroke="#39a96b" stroke-width="1.4"/><circle cx="539.46" cy="1320.35" r="5.05" fill="#fff" stroke="#39a96b" stroke-width="1.4"/><circle cx="554.37" cy="1319.72" r="5.05" fill="#fff" stroke="#39a96b" stroke-width="1.4"/><circle cx="569.28" cy="1319.85" r="5.05" fill="#fff" stroke="#39a96b" stroke-width="1.4"/><circle cx="580.53" cy="1318.95" r="5.05" fill="#fff" stroke="#39a96b" stroke-width="1.4"/><circle cx="595.44" cy="1319.42" r="5.05" fill="#fff" stroke="#39a96b" stroke-width="1.4"/><circle cx="606.13" cy="1317.67" r="5.05" fill="#fff" stroke="#39a96b" stroke-width="1.4"/><circle cx="621.32" cy="1318.54" r="5.05" fill="#fff" stroke="#39a96b" stroke-width="1.4"/><circle cx="635.39" cy="1317.48" r="5.05" fill="#fff" stroke="#39a96b" stroke-width="1.4"/><circle cx="646.64" cy="1318.24" r="5.05" fill="#fff" stroke="#39a96b" stroke-width="1.4"/></g>
<path d="M117.77 1661.95L131.55 1661.95M131.55 1661.95L147.59 1661.95M147.59 1661.95L162.21 1661.95M162.21 1661.95L172.9 1661.95M172.9 1661.95L184.16 1661.95M184.16 1661.95L199.07 1655.64M199.07 1655.64L213.69 1645.51M213.69 1645.51L224.39 1625.14M224.39 1625.14L239.58 1580.32M239.58 1580.32L250.83 1530.81M250.83 1530.81L265.46 1469.78M265.46 1469.78L279.8 1419.88M279.8 1419.88L291.62 1377.5M291.62 1377.5L302.31 1331.88M302.31 1331.88L317.5 1286.9M317.5 1286.9L331.85 1266.43M331.85 1266.43L342.82 1259.46M342.82 1259.46L357.73 1258.97M357.73 1258.97L368.98 1262.84M368.98 1262.84L383.89 1270.95M383.89 1270.95L398.52 1285.38M398.52 1285.38L409.77 1303.61M409.77 1303.61L421.31 1318.23M421.31 1318.23L435.94 1317.29M435.94 1317.29L450.56 1320.22M450.56 1320.22L461.82 1320.39M461.82 1320.39L476.45 1320.39" stroke="#39a96b" stroke-width="2" fill="none"/>
<g><circle cx="117.77" cy="1661.95" r="5.05" fill="#fff" stroke="#39a96b" stroke-width="1.4"/><path d="M117.77 1656.9A5.05 5.05 0 0 1 117.77 1667Z" fill="#39a96b"/><path d="M118.57 1658.52L118.57 1665.39L122.21 1661.95Z" fill="#fff"/><circle cx="131.55" cy="1661.95" r="5.05" fill="#fff" stroke="#39a96b" stroke-width="1.4"/><path d="M131.55 1656.9A5.05 5.05 0 0 1 131.55 1667Z" fill="#39a96b"/><path d="M132.35 1658.52L132.35 1665.39L135.99 1661.95Z" fill="#fff"/><circle cx="147.59" cy="1661.95" r="5.05" fill="#fff" stroke="#39a96b" stroke-width="1.4"/><path d="M147.59 1656.9A5.05 5.05 0 0 1 147.59 1667Z" fill="#39a96b"/><path d="M148.39 1658.52L148.39 1665.39L152.03 1661.95Z" fill="#fff"/><circle cx="162.21" cy="1661.95" r="5.05" fill="#fff" stroke="#39a96b" stroke-width="1.4"/><path d="M162.21 1656.9A5.05 5.05 0 0 1 162.21 1667Z" fill="#39a96b"/><path d="M163.01 1658.52L163.01 1665.39L166.66 1661.95Z" fill="#fff"/><circle cx="172.9" cy="1661.95" r="5.05" fill="#fff" stroke="#39a96b" stroke-width="1.4"/><path d="M172.9 1656.9A5.05 5.05 0 0 1 172.9 1667Z" fill="#39a96b"/><path d="M173.7 1658.52L173.7 1665.39L177.35 1661.95Z" fill="#fff"/><circle cx="184.16" cy="1661.95" r="5.05" fill="#fff" stroke="#39a96b" stroke-width="1.4"/><path d="M184.16 1656.9A5.05 5.05 0 0 1 184.16 1667Z" fill="#39a96b"/><path d="M184.96 1658.52L184.96 1665.39L188.6 1661.95Z" fill="#fff"/><circle cx="199.07" cy="1655.64" r="5.05" fill="#fff" stroke="#39a96b" stroke-width="1.4"/><path d="M199.07 1650.59A5.05 5.05 0 0 1 199.07 1660.69Z" fill="#39a96b"/><path d="M199.87 1652.2L199.87 1659.07L203.51 1655.64Z" fill="#fff"/><circle cx="213.69" cy="1645.51" r="5.05" fill="#fff" stroke="#39a96b" stroke-width="1.4"/><path d="M213.69 1640.46A5.05 5.05 0 0 1 213.69 1650.56Z" fill="#39a96b"/><path d="M214.49 1642.07L214.49 1648.94L218.14 1645.51Z" fill="#fff"/><circle cx="224.39" cy="1625.14" r="5.05" fill="#fff" stroke="#39a96b" stroke-width="1.4"/><path d="M224.39 1620.09A5.05 5.05 0 0 1 224.39 1630.19Z" fill="#39a96b"/><path d="M225.19 1621.71L225.19 1628.58L228.83 1625.14Z" fill="#fff"/><circle cx="239.58" cy="1580.32" r="5.05" fill="#fff" stroke="#39a96b" stroke-width="1.4"/><path d="M239.58 1575.27A5.05 5.05 0 0 1 239.58 1585.37Z" fill="#39a96b"/><path d="M240.38 1576.88L240.38 1583.75L244.02 1580.32Z" fill="#fff"/><circle cx="250.83" cy="1530.81" r="5.05" fill="#fff" stroke="#39a96b" stroke-width="1.4"/><path d="M250.83 1525.76A5.05 5.05 0 0 1 250.83 1535.86Z" fill="#39a96b"/><path d="M251.63 1527.37L251.63 1534.24L255.27 1530.81Z" fill="#fff"/><circle cx="265.46" cy="1469.78" r="5.05" fill="#fff" stroke="#39a96b" stroke-width="1.4"/><path d="M265.46 1464.73A5.05 5.05 0 0 1 265.46 1474.83Z" fill="#39a96b"/><path d="M266.26 1466.34L266.26 1473.21L269.9 1469.78Z" fill="#fff"/><circle cx="279.8" cy="1419.88" r="5.05" fill="#fff" stroke="#39a96b" stroke-width="1.4"/><path d="M279.8 1414.83A5.05 5.05 0 0 1 279.8 1424.93Z" fill="#39a96b"/><path d="M280.6 1416.45L280.6 1423.32L284.25 1419.88Z" fill="#fff"/><circle cx="291.62" cy="1377.5" r="5.05" fill="#fff" stroke="#39a96b" stroke-width="1.4"/><path d="M291.62 1372.45A5.05 5.05 0 0 1 291.62 1382.55Z" fill="#39a96b"/><path d="M292.42 1374.07L292.42 1380.94L296.06 1377.5Z" fill="#fff"/><circle cx="302.31" cy="1331.88" r="5.05" fill="#fff" stroke="#39a96b" stroke-width="1.4"/><path d="M302.31 1326.83A5.05 5.05 0 0 1 302.31 1336.93Z" fill="#39a96b"/><path d="M303.11 1328.45L303.11 1335.31L306.75 1331.88Z" fill="#fff"/><circle cx="317.5" cy="1286.9" r="5.05" fill="#fff" stroke="#39a96b" stroke-width="1.4"/><path d="M317.5 1281.85A5.05 5.05 0 0 1 317.5 1291.95Z" fill="#39a96b"/><path d="M318.3 1283.46L318.3 1290.33L321.94 1286.9Z" fill="#fff"/><circle cx="331.85" cy="1266.43" r="5.05" fill="#fff" stroke="#39a96b" stroke-width="1.4"/><path d="M331.85 1261.38A5.05 5.05 0 0 1 331.85 1271.48Z" fill="#39a96b"/><path d="M332.65 1263L332.65 1269.86L336.29 1266.43Z" fill="#fff"/><circle cx="342.82" cy="1259.46" r="5.05" fill="#fff" stroke="#39a96b" stroke-width="1.4"/><path d="M342.82 1254.41A5.05 5.05 0 0 1 342.82 1264.51Z" fill="#39a96b"/><path d="M343.62 1256.03L343.62 1262.89L347.26 1259.46Z" fill="#fff"/><circle cx="357.73" cy="1258.97" r="5.05" fill="#fff" stroke="#39a96b" stroke-width="1.4"/><path d="M357.73 1253.92A5.05 5.05 0 0 1 357.73 1264.02Z" fill="#39a96b"/><path d="M358.53 1255.54L358.53 1262.4L362.17 1258.97Z" fill="#fff"/><circle cx="368.98" cy="1262.84" r="5.05" fill="#fff" stroke="#39a96b" stroke-width="1.4"/><path d="M368.98 1257.79A5.05 5.05 0 0 1 368.98 1267.89Z" fill="#39a96b"/><path d="M369.78 1259.41L369.78 1266.28L373.43 1262.84Z" fill="#fff"/><circle cx="383.89" cy="1270.95" r="5.05" fill="#fff" stroke="#39a96b" stroke-width="1.4"/><path d="M383.89 1265.9A5.05 5.05 0 0 1 383.89 1276Z" fill="#39a96b"/><path d="M384.69 1267.52L384.69 1274.39L388.34 1270.95Z" fill="#fff"/><circle cx="398.52" cy="1285.38" r="5.05" fill="#fff" stroke="#39a96b" stroke-width="1.4"/><path d="M398.52 1280.33A5.05 5.05 0 0 1 398.52 1290.43Z" fill="#39a96b"/><path d="M399.32 1281.95L399.32 1288.81L402.96 1285.38Z" fill="#fff"/><circle cx="409.77" cy="1303.61" r="5.05" fill="#fff" stroke="#39a96b" stroke-width="1.4"/><path d="M409.77 1298.56A5.05 5.05 0 0 1 409.77 1308.66Z" fill="#39a96b"/><path d="M410.57 1300.18L410.57 1307.04L414.22 1303.61Z" fill="#fff"/><circle cx="421.31" cy="1318.23" r="5.05" fill="#fff" stroke="#39a96b" stroke-width="1.4"/><path d="M421.31 1313.18A5.05 5.05 0 0 1 421.31 1323.28Z" fill="#39a96b"/><path d="M422.11 1314.8L422.11 1321.67L425.75 1318.23Z" fill="#fff"/><circle cx="435.94" cy="1317.29" r="5.05" fill="#fff" stroke="#39a96b" stroke-width="1.4"/><path d="M435.94 1312.24A5.05 5.05 0 0 1 435.94 1322.34Z" fill="#39a96b"/><path d="M436.74 1313.85L436.74 1320.72L440.38 1317.29Z" fill="#fff"/><circle cx="450.56" cy="1320.22" r="5.05" fill="#fff" stroke="#39a96b" stroke-width="1.4"/><path d="M450.56 1315.17A5.05 5.05 0 0 1 450.56 1325.27Z" fill="#39a96b"/><path d="M451.36 1316.79L451.36 1323.66L455.01 1320.22Z" fill="#fff"/><circle cx="461.82" cy="1320.39" r="5.05" fill="#fff" stroke="#39a96b" stroke-width="1.4"/><path d="M461.82 1315.34A5.05 5.05 0 0 1 461.82 1325.44Z" fill="#39a96b"/><path d="M462.62 1316.96L462.62 1323.83L466.26 1320.39Z" fill="#fff"/><circle cx="476.45" cy="1320.39" r="5.05" fill="#fff" stroke="#39a96b" stroke-width="1.4"/><path d="M476.45 1315.34A5.05 5.05 0 0 1 476.45 1325.44Z" fill="#39a96b"/><path d="M477.25 1316.96L477.25 1323.83L480.89 1320.39Z" fill="#fff"/></g>
<path d="M117.77 1661.95L131.55 1661.95M131.55 1661.95L147.59 1661.95M147.59 1661.95L162.21 1661.95M162.21 1661.95L172.9 1661.95M172.9 1661.95L184.16 1661.95M184.16 1661.95L199.07 1661.95M199.07 1661.95L213.69 1661.95M213.69 1661.95L224.39 1661.95M224.39 1661.95L239.58 1661.95M239.58 1661.95L250.83 1661.95M250.83 1661.95L265.46 1661.95M265.46 1661.95L279.8 1661.95M279.8 1661.95L291.62 1661.95M291.62 1661.95L302.31 1661.95M302.31 1661.95L317.5 1661.95M317.5 1661.95L331.85 1661.95M331.85 1661.95L342.82 1661.95M342.82 1661.95L357.73 1661.95M357.73 1661.95L368.98 1657.77M368.98 1657.77L383.89 1655.21M383.89 1655.21L398.52 1648.27M398.52 1648.27L409.77 1627.57M409.77 1627.57L421.31 1600.42M421.31 1600.42L435.94 1544.64M435.94 1544.64L450.56 1483M450.56 1483L461.82 1422.11M461.82 1422.11L476.45 1361.78M476.45 1361.78L487.7 1320.8M487.7 1320.8L502.61 1320.7M502.61 1320.7L513.3 1317.53M513.3 1317.53L528.21 1317.77M528.21 1317.77L539.46 1319.85M539.46 1319.85L554.37 1320.17M554.37 1320.17L569.28 1318.36M569.28 1318.36L580.53 1318.23M580.53 1318.23L595.44 1318.08M595.44 1318.08L606.13 1318.81M606.13 1318.81L621.32 1318.02M621.32 1318.02L635.39 1317.55M635.39 1317.55L646.64 1319.66" stroke="#39a96b" stroke-width="2.5" fill="none"/>
<g><circle cx="117.77" cy="1661.95" r="5.75" fill="#39a96b"/><circle cx="131.55" cy="1661.95" r="5.75" fill="#39a96b"/><circle cx="147.59" cy="1661.95" r="5.75" fill="#39a96b"/><circle cx="162.21" cy="1661.95" r="5.75" fill="#39a96b"/><circle cx="172.9" cy="1661.95" r="5.75" fill="#39a96b"/><circle cx="184.16" cy="1661.95" r="5.75" fill="#39a96b"/><circle cx="199.07" cy="1661.95" r="5.75" fill="#39a96b"/><circle cx="213.69" cy="1661.95" r="5.75" fill="#39a96b"/><circle cx="224.39" cy="1661.95" r="5.75" fill="#39a96b"/><circle cx="239.58" cy="1661.95" r="5.75" fill="#39a96b"/><circle cx="250.83" cy="1661.95" r="5.75" fill="#39a96b"/><circle cx="265.46" cy="1661.95" r="5.75" fill="#39a96b"/><circle cx="279.8" cy="1661.95" r="5.75" fill="#39a96b"/><circle cx="291.62" cy="1661.95" r="5.75" fill="#39a96b"/><circle cx="302.31" cy="1661.95" r="5.75" fill="#39a96b"/><circle cx="317.5" cy="1661.95" r="5.75" fill="#39a96b"/><circle cx="331.85" cy="1661.95" r="5.75" fill="#39a96b"/><circle cx="342.82" cy="1661.95" r="5.75" fill="#39a96b"/><circle cx="357.73" cy="1661.95" r="5.75" fill="#39a96b"/><circle cx="368.98" cy="1657.77" r="5.75" fill="#39a96b"/><circle cx="383.89" cy="1655.21" r="5.75" fill="#39a96b"/><circle cx="398.52" cy="1648.27" r="5.75" fill="#39a96b"/><circle cx="409.77" cy="1627.57" r="5.75" fill="#39a96b"/><circle cx="421.31" cy="1600.42" r="5.75" fill="#39a96b"/><circle cx="435.94" cy="1544.64" r="5.75" fill="#39a96b"/><circle cx="450.56" cy="1483" r="5.75" fill="#39a96b"/><circle cx="461.82" cy="1422.11" r="5.75" fill="#39a96b"/><circle cx="476.45" cy="1361.78" r="5.75" fill="#39a96b"/><circle cx="487.7" cy="1320.8" r="5.75" fill="#39a96b"/><circle cx="502.61" cy="1320.7" r="5.75" fill="#39a96b"/><circle cx="513.3" cy="1317.53" r="5.75" fill="#39a96b"/><circle cx="528.21" cy="1317.77" r="5.75" fill="#39a96b"/><circle cx="539.46" cy="1319.85" r="5.75" fill="#39a96b"/><circle cx="554.37" cy="1320.17" r="5.75" fill="#39a96b"/><circle cx="569.28" cy="1318.36" r="5.75" fill="#39a96b"/><circle cx="580.53" cy="1318.23" r="5.75" fill="#39a96b"/><circle cx="595.44" cy="1318.08" r="5.75" fill="#39a96b"/><circle cx="606.13" cy="1318.81" r="5.75" fill="#39a96b"/><circle cx="621.32" cy="1318.02" r="5.75" fill="#39a96b"/><circle cx="635.39" cy="1317.55" r="5.75" fill="#39a96b"/><circle cx="646.64" cy="1319.66" r="5.75" fill="#39a96b"/></g>
<path d="M117.77 1661.95L131.55 1342.59M131.55 1342.59L147.59 1318.31M147.59 1318.31L162.21 1320.46M162.21 1320.46L172.9 1318.7M172.9 1318.7L184.16 1319.94M184.16 1319.94L199.07 1320.67M199.07 1320.67L213.69 1319.12M213.69 1319.12L224.39 1318.49M224.39 1318.49L239.58 1319.07M239.58 1319.07L250.83 1319.86M250.83 1319.86L265.46 1318.29M265.46 1318.29L279.8 1320.63M279.8 1320.63L291.62 1318.39M291.62 1318.39L302.31 1319.82M302.31 1319.82L317.5 1317.53M317.5 1317.53L331.85 1320.59M331.85 1320.59L342.82 1319.26M342.82 1319.26L357.73 1320.02M357.73 1320.02L368.98 1318.17M368.98 1318.17L383.89 1320M383.89 1320L398.52 1319.63M398.52 1319.63L409.77 1319.91M409.77 1319.91L421.31 1318.1M421.31 1318.1L435.94 1317.44M435.94 1317.44L450.56 1320.06M450.56 1320.06L461.82 1319.27M461.82 1319.27L476.45 1317.45M476.45 1317.45L487.7 1319.35M487.7 1319.35L502.61 1317.36M502.61 1317.36L513.3 1320.53M513.3 1320.53L528.21 1319.35M528.21 1319.35L539.46 1317.67M539.46 1317.67L554.37 1317.28M554.37 1317.28L569.28 1319.57M569.28 1319.57L580.53 1317.49M580.53 1317.49L595.44 1320.59M595.44 1320.59L606.13 1319.41M606.13 1319.41L621.32 1319.57M621.32 1319.57L635.39 1320.69M635.39 1320.69L646.64 1319.5" stroke="#aa7ee0" stroke-width="1" fill="none"/>
<g><circle cx="117.77" cy="1661.95" r="5.05" fill="#fff" stroke="#aa7ee0" stroke-width="1.4"/><circle cx="131.55" cy="1342.59" r="5.05" fill="#fff" stroke="#aa7ee0" stroke-width="1.4"/><circle cx="147.59" cy="1318.31" r="5.05" fill="#fff" stroke="#aa7ee0" stroke-width="1.4"/><circle cx="162.21" cy="1320.46" r="5.05" fill="#fff" stroke="#aa7ee0" stroke-width="1.4"/><circle cx="172.9" cy="1318.7" r="5.05" fill="#fff" stroke="#aa7ee0" stroke-width="1.4"/><circle cx="184.16" cy="1319.94" r="5.05" fill="#fff" stroke="#aa7ee0" stroke-width="1.4"/><circle cx="199.07" cy="1320.67" r="5.05" fill="#fff" stroke="#aa7ee0" stroke-width="1.4"/><circle cx="213.69" cy="1319.12" r="5.05" fill="#fff" stroke="#aa7ee0" stroke-width="1.4"/><circle cx="224.39" cy="1318.49" r="5.05" fill="#fff" stroke="#aa7ee0" stroke-width="1.4"/><circle cx="239.58" cy="1319.07" r="5.05" fill="#fff" stroke="#aa7ee0" stroke-width="1.4"/><circle cx="250.83" cy="1319.86" r="5.05" fill="#fff" stroke="#aa7ee0" stroke-width="1.4"/><circle cx="265.46" cy="1318.29" r="5.05" fill="#fff" stroke="#aa7ee0" stroke-width="1.4"/><circle cx="279.8" cy="1320.63" r="5.05" fill="#fff" stroke="#aa7ee0" stroke-width="1.4"/><circle cx="291.62" cy="1318.39" r="5.05" fill="#fff" stroke="#aa7ee0" stroke-width="1.4"/><circle cx="302.31" cy="1319.82" r="5.05" fill="#fff" stroke="#aa7ee0" stroke-width="1.4"/><circle cx="317.5" cy="1317.53" r="5.05" fill="#fff" stroke="#aa7ee0" stroke-width="1.4"/><circle cx="331.85" cy="1320.59" r="5.05" fill="#fff" stroke="#aa7ee0" stroke-width="1.4"/><circle cx="342.82" cy="1319.26" r="5.05" fill="#fff" stroke="#aa7ee0" stroke-width="1.4"/><circle cx="357.73" cy="1320.02" r="5.05" fill="#fff" stroke="#aa7ee0" stroke-width="1.4"/><circle cx="368.98" cy="1318.17" r="5.05" fill="#fff" stroke="#aa7ee0" stroke-width="1.4"/><circle cx="383.89" cy="1320" r="5.05" fill="#fff" stroke="#aa7ee0" stroke-width="1.4"/><circle cx="398.52" cy="1319.63" r="5.05" fill="#fff" stroke="#aa7ee0" stroke-width="1.4"/><circle cx="409.77" cy="1319.91" r="5.05" fill="#fff" stroke="#aa7ee0" stroke-width="1.4"/><circle cx="421.31" cy="1318.1" r="5.05" fill="#fff" stroke="#aa7ee0" stroke-width="1.4"/><circle cx="435.94" cy="1317.44" r="5.05" fill="#fff" stroke="#aa7ee0" stroke-width="1.4"/><circle cx="450.56" cy="1320.06" r="5.05" fill="#fff" stroke="#aa7ee0" stroke-width="1.4"/><circle cx="461.82" cy="1319.27" r="5.05" fill="#fff" stroke="#aa7ee0" stroke-width="1.4"/><circle cx="476.45" cy="1317.45" r="5.05" fill="#fff" stroke="#aa7ee0" stroke-width="1.4"/><circle cx="487.7" cy="1319.35" r="5.05" fill="#fff" stroke="#aa7ee0" stroke-width="1.4"/><circle cx="502.61" cy="1317.36" r="5.05" fill="#fff" stroke="#aa7ee0" stroke-width="1.4"/><circle cx="513.3" cy="1320.53" r="5.05" fill="#fff" stroke="#aa7ee0" stroke-width="1.4"/><circle cx="528.21" cy="1319.35" r="5.05" fill="#fff" stroke="#aa7ee0" stroke-width="1.4"/><circle cx="539.46" cy="1317.67" r="5.05" fill="#fff" stroke="#aa7ee0" stroke-width="1.4"/><circle cx="554.37" cy="1317.28" r="5.05" fill="#fff" stroke="#aa7ee0" stroke-width="1.4"/><circle cx="569.28" cy="1319.57" r="5.05" fill="#fff" stroke="#aa7ee0" stroke-width="1.4"/><circle cx="580.53" cy="1317.49" r="5.05" fill="#fff" stroke="#aa7ee0" stroke-width="1.4"/><circle cx="595.44" cy="1320.59" r="5.05" fill="#fff" stroke="#aa7ee0" stroke-width="1.4"/><circle cx="606.13" cy="1319.41" r="5.05" fill="#fff" stroke="#aa7ee0" stroke-width="1.4"/><circle cx="621.32" cy="1319.57" r="5.05" fill="#fff" stroke="#aa7ee0" stroke-width="1.4"/><circle cx="635.39" cy="1320.69" r="5.05" fill="#fff" stroke="#aa7ee0" stroke-width="1.4"/><circle cx="646.64" cy="1319.5" r="5.05" fill="#fff" stroke="#aa7ee0" stroke-width="1.4"/></g>
<path d="M117.77 1661.95L131.55 1661.95M131.55 1661.95L147.59 1661.95M147.59 1661.95L162.21 1661.95M162.21 1661.95L172.9 1661.95M172.9 1661.95L184.16 1661.95M184.16 1661.95L199.07 1655.74M199.07 1655.74L213.69 1645.27M213.69 1645.27L224.39 1624.88M224.39 1624.88L239.58 1579.92M239.58 1579.92L250.83 1530.3M250.83 1530.3L265.46 1470.19M265.46 1470.19L279.8 1418.69M279.8 1418.69L291.62 1376.11M291.62 1376.11L302.31 1332.33M302.31 1332.33L317.5 1285.83M317.5 1285.83L331.85 1266.32M331.85 1266.32L342.82 1259.43M342.82 1259.43L357.73 1258.97M357.73 1258.97L368.98 1262.9M368.98 1262.9L383.89 1271.04M383.89 1271.04L398.52 1285.55M398.52 1285.55L409.77 1303.88M409.77 1303.88L421.31 1316.43M421.31 1316.43L435.94 1319.54M435.94 1319.54L450.56 1317.42M450.56 1317.42L461.82 1319.8M461.82 1319.8L476.45 1319.62" stroke="#aa7ee0" stroke-width="2" fill="none"/>
<g><circle cx="117.77" cy="1661.95" r="5.05" fill="#fff" stroke="#aa7ee0" stroke-width="1.4"/><path d="M117.77 1656.9A5.05 5.05 0 0 1 117.77 1667Z" fill="#aa7ee0"/><path d="M118.57 1658.52L118.57 1665.39L122.21 1661.95Z" fill="#fff"/><circle cx="131.55" cy="1661.95" r="5.05" fill="#fff" stroke="#aa7ee0" stroke-width="1.4"/><path d="M131.55 1656.9A5.05 5.05 0 0 1 131.55 1667Z" fill="#aa7ee0"/><path d="M132.35 1658.52L132.35 1665.39L135.99 1661.95Z" fill="#fff"/><circle cx="147.59" cy="1661.95" r="5.05" fill="#fff" stroke="#aa7ee0" stroke-width="1.4"/><path d="M147.59 1656.9A5.05 5.05 0 0 1 147.59 1667Z" fill="#aa7ee0"/><path d="M148.39 1658.52L148.39 1665.39L152.03 1661.95Z" fill="#fff"/><circle cx="162.21" cy="1661.95" r="5.05" fill="#fff" stroke="#aa7ee0" stroke-width="1.4"/><path d="M162.21 1656.9A5.05 5.05 0 0 1 162.21 1667Z" fill="#aa7ee0"/><path d="M163.01 1658.52L163.01 1665.39L166.66 1661.95Z" fill="#fff"/><circle cx="172.9" cy="1661.95" r="5.05" fill="#fff" stroke="#aa7ee0" stroke-width="1.4"/><path d="M172.9 1656.9A5.05 5.05 0 0 1 172.9 1667Z" fill="#aa7ee0"/><path d="M173.7 1658.52L173.7 1665.39L177.35 1661.95Z" fill="#fff"/><circle cx="184.16" cy="1661.95" r="5.05" fill="#fff" stroke="#aa7ee0" stroke-width="1.4"/><path d="M184.16 1656.9A5.05 5.05 0 0 1 184.16 1667Z" fill="#aa7ee0"/><path d="M184.96 1658.52L184.96 1665.39L188.6 1661.95Z" fill="#fff"/><circle cx="199.07" cy="1655.74" r="5.05" fill="#fff" stroke="#aa7ee0" stroke-width="1.4"/><path d="M199.07 1650.69A5.05 5.05 0 0 1 199.07 1660.79Z" fill="#aa7ee0"/><path d="M199.87 1652.31L199.87 1659.17L203.51 1655.74Z" fill="#fff"/><circle cx="213.69" cy="1645.27" r="5.05" fill="#fff" stroke="#aa7ee0" stroke-width="1.4"/><path d="M213.69 1640.22A5.05 5.05 0 0 1 213.69 1650.32Z" fill="#aa7ee0"/><path d="M214.49 1641.83L214.49 1648.7L218.14 1645.27Z" fill="#fff"/><circle cx="224.39" cy="1624.88" r="5.05" fill="#fff" stroke="#aa7ee0" stroke-width="1.4"/><path d="M224.39 1619.83A5.05 5.05 0 0 1 224.39 1629.93Z" fill="#aa7ee0"/><path d="M225.19 1621.45L225.19 1628.31L228.83 1624.88Z" fill="#fff"/><circle cx="239.58" cy="1579.92" r="5.05" fill="#fff" stroke="#aa7ee0" stroke-width="1.4"/><path d="M239.58 1574.87A5.05 5.05 0 0 1 239.58 1584.97Z" fill="#aa7ee0"/><path d="M240.38 1576.48L240.38 1583.35L244.02 1579.92Z" fill="#fff"/><circle cx="250.83" cy="1530.3" r="5.05" fill="#fff" stroke="#aa7ee0" stroke-width="1.4"/><path d="M250.83 1525.25A5.05 5.05 0 0 1 250.83 1535.35Z" fill="#aa7ee0"/><path d="M251.63 1526.87L251.63 1533.74L255.27 1530.3Z" fill="#fff"/><circle cx="265.46" cy="1470.19" r="5.05" fill="#fff" stroke="#aa7ee0" stroke-width="1.4"/><path d="M265.46 1465.14A5.05 5.05 0 0 1 265.46 1475.24Z" fill="#aa7ee0"/><path d="M266.26 1466.76L266.26 1473.62L269.9 1470.19Z" fill="#fff"/><circle cx="279.8" cy="1418.69" r="5.05" fill="#fff" stroke="#aa7ee0" stroke-width="1.4"/><path d="M279.8 1413.64A5.05 5.05 0 0 1 279.8 1423.74Z" fill="#aa7ee0"/><path d="M280.6 1415.25L280.6 1422.12L284.25 1418.69Z" fill="#fff"/><circle cx="291.62" cy="1376.11" r="5.05" fill="#fff" stroke="#aa7ee0" stroke-width="1.4"/><path d="M291.62 1371.06A5.05 5.05 0 0 1 291.62 1381.16Z" fill="#aa7ee0"/><path d="M292.42 1372.68L292.42 1379.55L296.06 1376.11Z" fill="#fff"/><circle cx="302.31" cy="1332.33" r="5.05" fill="#fff" stroke="#aa7ee0" stroke-width="1.4"/><path d="M302.31 1327.28A5.05 5.05 0 0 1 302.31 1337.38Z" fill="#aa7ee0"/><path d="M303.11 1328.9L303.11 1335.76L306.75 1332.33Z" fill="#fff"/><circle cx="317.5" cy="1285.83" r="5.05" fill="#fff" stroke="#aa7ee0" stroke-width="1.4"/><path d="M317.5 1280.78A5.05 5.05 0 0 1 317.5 1290.88Z" fill="#aa7ee0"/><path d="M318.3 1282.39L318.3 1289.26L321.94 1285.83Z" fill="#fff"/><circle cx="331.85" cy="1266.32" r="5.05" fill="#fff" stroke="#aa7ee0" stroke-width="1.4"/><path d="M331.85 1261.27A5.05 5.05 0 0 1 331.85 1271.37Z" fill="#aa7ee0"/><path d="M332.65 1262.89L332.65 1269.76L336.29 1266.32Z" fill="#fff"/><circle cx="342.82" cy="1259.43" r="5.05" fill="#fff" stroke="#aa7ee0" stroke-width="1.4"/><path d="M342.82 1254.38A5.05 5.05 0 0 1 342.82 1264.48Z" fill="#aa7ee0"/><path d="M343.62 1256L343.62 1262.87L347.26 1259.43Z" fill="#fff"/><circle cx="357.73" cy="1258.97" r="5.05" fill="#fff" stroke="#aa7ee0" stroke-width="1.4"/><path d="M357.73 1253.92A5.05 5.05 0 0 1 357.73 1264.02Z" fill="#aa7ee0"/><path d="M358.53 1255.54L358.53 1262.4L362.17 1258.97Z" fill="#fff"/><circle cx="368.98" cy="1262.9" r="5.05" fill="#fff" stroke="#aa7ee0" stroke-width="1.4"/><path d="M368.98 1257.85A5.05 5.05 0 0 1 368.98 1267.95Z" fill="#aa7ee0"/><path d="M369.78 1259.47L369.78 1266.33L373.43 1262.9Z" fill="#fff"/><circle cx="383.89" cy="1271.04" r="5.05" fill="#fff" stroke="#aa7ee0" stroke-width="1.4"/><path d="M383.89 1265.99A5.05 5.05 0 0 1 383.89 1276.09Z" fill="#aa7ee0"/><path d="M384.69 1267.6L384.69 1274.47L388.34 1271.04Z" fill="#fff"/><circle cx="398.52" cy="1285.55" r="5.05" fill="#fff" stroke="#aa7ee0" stroke-width="1.4"/><path d="M398.52 1280.5A5.05 5.05 0 0 1 398.52 1290.6Z" fill="#aa7ee0"/><path d="M399.32 1282.11L399.32 1288.98L402.96 1285.55Z" fill="#fff"/><circle cx="409.77" cy="1303.88" r="5.05" fill="#fff" stroke="#aa7ee0" stroke-width="1.4"/><path d="M409.77 1298.83A5.05 5.05 0 0 1 409.77 1308.93Z" fill="#aa7ee0"/><path d="M410.57 1300.44L410.57 1307.31L414.22 1303.88Z" fill="#fff"/><circle cx="421.31" cy="1316.43" r="5.05" fill="#fff" stroke="#aa7ee0" stroke-width="1.4"/><path d="M421.31 1311.38A5.05 5.05 0 0 1 421.31 1321.48Z" fill="#aa7ee0"/><path d="M422.11 1312.99L422.11 1319.86L425.75 1316.43Z" fill="#fff"/><circle cx="435.94" cy="1319.54" r="5.05" fill="#fff" stroke="#aa7ee0" stroke-width="1.4"/><path d="M435.94 1314.49A5.05 5.05 0 0 1 435.94 1324.59Z" fill="#aa7ee0"/><path d="M436.74 1316.11L436.74 1322.97L440.38 1319.54Z" fill="#fff"/><circle cx="450.56" cy="1317.42" r="5.05" fill="#fff" stroke="#aa7ee0" stroke-width="1.4"/><path d="M450.56 1312.37A5.05 5.05 0 0 1 450.56 1322.47Z" fill="#aa7ee0"/><path d="M451.36 1313.99L451.36 1320.85L455.01 1317.42Z" fill="#fff"/><circle cx="461.82" cy="1319.8" r="5.05" fill="#fff" stroke="#aa7ee0" stroke-width="1.4"/><path d="M461.82 1314.75A5.05 5.05 0 0 1 461.82 1324.85Z" fill="#aa7ee0"/><path d="M462.62 1316.37L462.62 1323.24L466.26 1319.8Z" fill="#fff"/><circle cx="476.45" cy="1319.62" r="5.05" fill="#fff" stroke="#aa7ee0" stroke-width="1.4"/><path d="M476.45 1314.57A5.05 5.05 0 0 1 476.45 1324.67Z" fill="#aa7ee0"/><path d="M477.25 1316.18L477.25 1323.05L480.89 1319.62Z" fill="#fff"/></g>
<path d="M117.77 1661.95L131.55 1661.95M131.55 1661.95L147.59 1661.95M147.59 1661.95L162.21 1661.95M162.21 1661.95L172.9 1661.95M172.9 1661.95L184.16 1661.95M184.16 1661.95L199.07 1661.95M199.07 1661.95L213.69 1661.95M213.69 1661.95L224.39 1661.95M224.39 1661.95L239.58 1661.95M239.58 1661.95L250.83 1661.95M250.83 1661.95L265.46 1661.95M265.46 1661.95L279.8 1661.95M279.8 1661.95L291.62 1661.95M291.62 1661.95L302.31 1661.95M302.31 1661.95L317.5 1661.95M317.5 1661.95L331.85 1661.95M331.85 1661.95L342.82 1661.95M342.82 1661.95L357.73 1661.95M357.73 1661.95L368.98 1657.8M368.98 1657.8L383.89 1655.22M383.89 1655.22L398.52 1648.24M398.52 1648.24L409.77 1626.8M409.77 1626.8L421.31 1599.6M421.31 1599.6L435.94 1543.31M435.94 1543.31L450.56 1483.69M450.56 1483.69L461.82 1421.64M461.82 1421.64L476.45 1360.42M476.45 1360.42L487.7 1321.57M487.7 1321.57L502.61 1320.59M502.61 1320.59L513.3 1319.59M513.3 1319.59L528.21 1317.67M528.21 1317.67L539.46 1319.8M539.46 1319.8L554.37 1320.37M554.37 1320.37L569.28 1318.27M569.28 1318.27L580.53 1319.9M580.53 1319.9L595.44 1318.58M595.44 1318.58L606.13 1318.14M606.13 1318.14L621.32 1318.42M621.32 1318.42L635.39 1317.82M635.39 1317.82L646.64 1318.76" stroke="#aa7ee0" stroke-width="2.5" fill="none"/>
<g><circle cx="117.77" cy="1661.95" r="5.75" fill="#aa7ee0"/><circle cx="131.55" cy="1661.95" r="5.75" fill="#aa7ee0"/><circle cx="147.59" cy="1661.95" r="5.75" fill="#aa7ee0"/><circle cx="162.21" cy="1661.95" r="5.75" fill="#aa7ee0"/><circle cx="172.9" cy="1661.95" r="5.75" fill="#aa7ee0"/><circle cx="184.16" cy="1661.95" r="5.75" fill="#aa7ee0"/><circle cx="199.07" cy="1661.95" r="5.75" fill="#aa7ee0"/><circle cx="213.69" cy="1661.95" r="5.75" fill="#aa7ee0"/><circle cx="224.39" cy="1661.95" r="5.75" fill="#aa7ee0"/><circle cx="239.58" cy="1661.95" r="5.75" fill="#aa7ee0"/><circle cx="250.83" cy="1661.95" r="5.75" fill="#aa7ee0"/><circle cx="265.46" cy="1661.95" r="5.75" fill="#aa7ee0"/><circle cx="279.8" cy="1661.95" r="5.75" fill="#aa7ee0"/><circle cx="291.62" cy="1661.95" r="5.75" fill="#aa7ee0"/><circle cx="302.31" cy="1661.95" r="5.75" fill="#aa7ee0"/><circle cx="317.5" cy="1661.95" r="5.75" fill="#aa7ee0"/><circle cx="331.85" cy="1661.95" r="5.75" fill="#aa7ee0"/><circle cx="342.82" cy="1661.95" r="5.75" fill="#aa7ee0"/><circle cx="357.73" cy="1661.95" r="5.75" fill="#aa7ee0"/><circle cx="368.98" cy="1657.8" r="5.75" fill="#aa7ee0"/><circle cx="383.89" cy="1655.22" r="5.75" fill="#aa7ee0"/><circle cx="398.52" cy="1648.24" r="5.75" fill="#aa7ee0"/><circle cx="409.77" cy="1626.8" r="5.75" fill="#aa7ee0"/><circle cx="421.31" cy="1599.6" r="5.75" fill="#aa7ee0"/><circle cx="435.94" cy="1543.31" r="5.75" fill="#aa7ee0"/><circle cx="450.56" cy="1483.69" r="5.75" fill="#aa7ee0"/><circle cx="461.82" cy="1421.64" r="5.75" fill="#aa7ee0"/><circle cx="476.45" cy="1360.42" r="5.75" fill="#aa7ee0"/><circle cx="487.7" cy="1321.57" r="5.75" fill="#aa7ee0"/><circle cx="502.61" cy="1320.59" r="5.75" fill="#aa7ee0"/><circle cx="513.3" cy="1319.59" r="5.75" fill="#aa7ee0"/><circle cx="528.21" cy="1317.67" r="5.75" fill="#aa7ee0"/><circle cx="539.46" cy="1319.8" r="5.75" fill="#aa7ee0"/><circle cx="554.37" cy="1320.37" r="5.75" fill="#aa7ee0"/><circle cx="569.28" cy="1318.27" r="5.75" fill="#aa7ee0"/><circle cx="580.53" cy="1319.9" r="5.75" fill="#aa7ee0"/><circle cx="595.44" cy="1318.58" r="5.75" fill="#aa7ee0"/><circle cx="606.13" cy="1318.14" r="5.75" fill="#aa7ee0"/><circle cx="621.32" cy="1318.42" r="5.75" fill="#aa7ee0"/><circle cx="635.39" cy="1317.82" r="5.75" fill="#aa7ee0"/><circle cx="646.64" cy="1318.76" r="5.75" fill="#aa7ee0"/></g>
<path d="M117.77 1661.95L131.55 1342.69M131.55 1342.69L147.59 1319.86M147.59 1319.86L162.21 1320.18M162.21 1320.18L172.9 1318.72M172.9 1318.72L184.16 1319.35M184.16 1319.35L199.07 1318.96M199.07 1318.96L213.69 1317.93M213.69 1317.93L224.39 1317.31M224.39 1317.31L239.58 1319.08M239.58 1319.08L250.83 1317.82M250.83 1317.82L265.46 1320.57M265.46 1320.57L279.8 1320.29M279.8 1320.29L291.62 1317.37M291.62 1317.37L302.31 1317.51M302.31 1317.51L317.5 1317.73M317.5 1317.73L331.85 1319.81M331.85 1319.81L342.82 1317.46M342.82 1317.46L357.73 1318.66M357.73 1318.66L368.98 1319.96M368.98 1319.96L383.89 1320.22M383.89 1320.22L398.52 1319.83M398.52 1319.83L409.77 1318.47M409.77 1318.47L421.31 1320.66M421.31 1320.66L435.94 1318.38M435.94 1318.38L450.56 1319.63M450.56 1319.63L461.82 1317.98M461.82 1317.98L476.45 1320.49M476.45 1320.49L487.7 1319.35M487.7 1319.35L502.61 1318.51M502.61 1318.51L513.3 1320.14M513.3 1320.14L528.21 1319.3M528.21 1319.3L539.46 1319.65M539.46 1319.65L554.37 1319.63M554.37 1319.63L569.28 1319.48M569.28 1319.48L580.53 1317.74M580.53 1317.74L595.44 1319.46M595.44 1319.46L606.13 1318.21M606.13 1318.21L621.32 1320.68M621.32 1320.68L635.39 1319.25M635.39 1319.25L646.64 1319.31" stroke="#d09c0a" stroke-width="1" fill="none"/>
<g><circle cx="117.77" cy="1661.95" r="5.05" fill="#fff" stroke="#d09c0a" stroke-width="1.4"/><circle cx="131.55" cy="1342.69" r="5.05" fill="#fff" stroke="#d09c0a" stroke-width="1.4"/><circle cx="147.59" cy="1319.86" r="5.05" fill="#fff" stroke="#d09c0a" stroke-width="1.4"/><circle cx="162.21" cy="1320.18" r="5.05" fill="#fff" stroke="#d09c0a" stroke-width="1.4"/><circle cx="172.9" cy="1318.72" r="5.05" fill="#fff" stroke="#d09c0a" stroke-width="1.4"/><circle cx="184.16" cy="1319.35" r="5.05" fill="#fff" stroke="#d09c0a" stroke-width="1.4"/><circle cx="199.07" cy="1318.96" r="5.05" fill="#fff" stroke="#d09c0a" stroke-width="1.4"/><circle cx="213.69" cy="1317.93" r="5.05" fill="#fff" stroke="#d09c0a" stroke-width="1.4"/><circle cx="224.39" cy="1317.31" r="5.05" fill="#fff" stroke="#d09c0a" stroke-width="1.4"/><circle cx="239.58" cy="1319.08" r="5.05" fill="#fff" stroke="#d09c0a" stroke-width="1.4"/><circle cx="250.83" cy="1317.82" r="5.05" fill="#fff" stroke="#d09c0a" stroke-width="1.4"/><circle cx="265.46" cy="1320.57" r="5.05" fill="#fff" stroke="#d09c0a" stroke-width="1.4"/><circle cx="279.8" cy="1320.29" r="5.05" fill="#fff" stroke="#d09c0a" stroke-width="1.4"/><circle cx="291.62" cy="1317.37" r="5.05" fill="#fff" stroke="#d09c0a" stroke-width="1.4"/><circle cx="302.31" cy="1317.51" r="5.05" fill="#fff" stroke="#d09c0a" stroke-width="1.4"/><circle cx="317.5" cy="1317.73" r="5.05" fill="#fff" stroke="#d09c0a" stroke-width="1.4"/><circle cx="331.85" cy="1319.81" r="5.05" fill="#fff" stroke="#d09c0a" stroke-width="1.4"/><circle cx="342.82" cy="1317.46" r="5.05" fill="#fff" stroke="#d09c0a" stroke-width="1.4"/><circle cx="357.73" cy="1318.66" r="5.05" fill="#fff" stroke="#d09c0a" stroke-width="1.4"/><circle cx="368.98" cy="1319.96" r="5.05" fill="#fff" stroke="#d09c0a" stroke-width="1.4"/><circle cx="383.89" cy="1320.22" r="5.05" fill="#fff" stroke="#d09c0a" stroke-width="1.4"/><circle cx="398.52" cy="1319.83" r="5.05" fill="#fff" stroke="#d09c0a" stroke-width="1.4"/><circle cx="409.77" cy="1318.47" r="5.05" fill="#fff" stroke="#d09c0a" stroke-width="1.4"/><circle cx="421.31" cy="1320.66" r="5.05" fill="#fff" stroke="#d09c0a" stroke-width="1.4"/><circle cx="435.94" cy="1318.38" r="5.05" fill="#fff" stroke="#d09c0a" stroke-width="1.4"/><circle cx="450.56" cy="1319.63" r="5.05" fill="#fff" stroke="#d09c0a" stroke-width="1.4"/><circle cx="461.82" cy="1317.98" r="5.05" fill="#fff" stroke="#d09c0a" stroke-width="1.4"/><circle cx="476.45" cy="1320.49" r="5.05" fill="#fff" stroke="#d09c0a" stroke-width="1.4"/><circle cx="487.7" cy="1319.35" r="5.05" fill="#fff" stroke="#d09c0a" stroke-width="1.4"/><circle cx="502.61" cy="1318.51" r="5.05" fill="#fff" stroke="#d09c0a" stroke-width="1.4"/><circle cx="513.3" cy="1320.14" r="5.05" fill="#fff" stroke="#d09c0a" stroke-width="1.4"/><circle cx="528.21" cy="1319.3" r="5.05" fill="#fff" stroke="#d09c0a" stroke-width="1.4"/><circle cx="539.46" cy="1319.65" r="5.05" fill="#fff" stroke="#d09c0a" stroke-width="1.4"/><circle cx="554.37" cy="1319.63" r="5.05" fill="#fff" stroke="#d09c0a" stroke-width="1.4"/><circle cx="569.28" cy="1319.48" r="5.05" fill="#fff" stroke="#d09c0a" stroke-width="1.4"/><circle cx="580.53" cy="1317.74" r="5.05" fill="#fff" stroke="#d09c0a" stroke-width="1.4"/><circle cx="595.44" cy="1319.46" r="5.05" fill="#fff" stroke="#d09c0a" stroke-width="1.4"/><circle cx="606.13" cy="1318.21" r="5.05" fill="#fff" stroke="#d09c0a" stroke-width="1.4"/><circle cx="621.32" cy="1320.68" r="5.05" fill="#fff" stroke="#d09c0a" stroke-width="1.4"/><circle cx="635.39" cy="1319.25" r="5.05" fill="#fff" stroke="#d09c0a" stroke-width="1.4"/><circle cx="646.64" cy="1319.31" r="5.05" fill="#fff" stroke="#d09c0a" stroke-width="1.4"/></g>
<path d="M117.77 1661.95L131.55 1661.95M131.55 1661.95L147.59 1661.95M147.59 1661.95L162.21 1661.95M162.21 1661.95L172.9 1661.95M172.9 1661.95L184.16 1661.95M184.16 1661.95L199.07 1655.66M199.07 1655.66L213.69 1645.1M213.69 1645.1L224.39 1625M224.39 1625L239.58 1579.43M239.58 1579.43L250.83 1529.91M250.83 1529.91L265.46 1468.61M265.46 1468.61L279.8 1418.39M279.8 1418.39L291.62 1375.82M291.62 1375.82L302.31 1331.68M302.31 1331.68L317.5 1285.6M317.5 1285.6L331.85 1266.19M331.85 1266.19L342.82 1259.34M342.82 1259.34L357.73 1258.97M357.73 1258.97L368.98 1262.92M368.98 1262.92L383.89 1271.08M383.89 1271.08L398.52 1285.4M398.52 1285.4L409.77 1304.13M409.77 1304.13L421.31 1318.81M421.31 1318.81L435.94 1319.37M435.94 1319.37L450.56 1318.58M450.56 1318.58L461.82 1320.15M461.82 1320.15L476.45 1319.94" stroke="#d09c0a" stroke-width="2" fill="none"/>
<g><circle cx="117.77" cy="1661.95" r="5.05" fill="#fff" stroke="#d09c0a" stroke-width="1.4"/><path d="M117.77 1656.9A5.05 5.05 0 0 1 117.77 1667Z" fill="#d09c0a"/><path d="M118.57 1658.52L118.57 1665.39L122.21 1661.95Z" fill="#fff"/><circle cx="131.55" cy="1661.95" r="5.05" fill="#fff" stroke="#d09c0a" stroke-width="1.4"/><path d="M131.55 1656.9A5.05 5.05 0 0 1 131.55 1667Z" fill="#d09c0a"/><path d="M132.35 1658.52L132.35 1665.39L135.99 1661.95Z" fill="#fff"/><circle cx="147.59" cy="1661.95" r="5.05" fill="#fff" stroke="#d09c0a" stroke-width="1.4"/><path d="M147.59 1656.9A5.05 5.05 0 0 1 147.59 1667Z" fill="#d09c0a"/><path d="M148.39 1658.52L148.39 1665.39L152.03 1661.95Z" fill="#fff"/><circle cx="162.21" cy="1661.95" r="5.05" fill="#fff" stroke="#d09c0a" stroke-width="1.4"/><path d="M162.21 1656.9A5.05 5.05 0 0 1 162.21 1667Z" fill="#d09c0a"/><path d="M163.01 1658.52L163.01 1665.39L166.66 1661.95Z" fill="#fff"/><circle cx="172.9" cy="1661.95" r="5.05" fill="#fff" stroke="#d09c0a" stroke-width="1.4"/><path d="M172.9 1656.9A5.05 5.05 0 0 1 172.9 1667Z" fill="#d09c0a"/><path d="M173.7 1658.52L173.7 1665.39L177.35 1661.95Z" fill="#fff"/><circle cx="184.16" cy="1661.95" r="5.05" fill="#fff" stroke="#d09c0a" stroke-width="1.4"/><path d="M184.16 1656.9A5.05 5.05 0 0 1 184.16 1667Z" fill="#d09c0a"/><path d="M184.96 1658.52L184.96 1665.39L188.6 1661.95Z" fill="#fff"/><circle cx="199.07" cy="1655.66" r="5.05" fill="#fff" stroke="#d09c0a" stroke-width="1.4"/><path d="M199.07 1650.61A5.05 5.05 0 0 1 199.07 1660.71Z" fill="#d09c0a"/><path d="M199.87 1652.23L199.87 1659.09L203.51 1655.66Z" fill="#fff"/><circle cx="213.69" cy="1645.1" r="5.05" fill="#fff" stroke="#d09c0a" stroke-width="1.4"/><path d="M213.69 1640.05A5.05 5.05 0 0 1 213.69 1650.15Z" fill="#d09c0a"/><path d="M214.49 1641.67L214.49 1648.54L218.14 1645.1Z" fill="#fff"/><circle cx="224.39" cy="1625" r="5.05" fill="#fff" stroke="#d09c0a" stroke-width="1.4"/><path d="M224.39 1619.95A5.05 5.05 0 0 1 224.39 1630.05Z" fill="#d09c0a"/><path d="M225.19 1621.56L225.19 1628.43L228.83 1625Z" fill="#fff"/><circle cx="239.58" cy="1579.43" r="5.05" fill="#fff" stroke="#d09c0a" stroke-width="1.4"/><path d="M239.58 1574.38A5.05 5.05 0 0 1 239.58 1584.48Z" fill="#d09c0a"/><path d="M240.38 1576L240.38 1582.87L244.02 1579.43Z" fill="#fff"/><circle cx="250.83" cy="1529.91" r="5.05" fill="#fff" stroke="#d09c0a" stroke-width="1.4"/><path d="M250.83 1524.86A5.05 5.05 0 0 1 250.83 1534.96Z" fill="#d09c0a"/><path d="M251.63 1526.48L251.63 1533.34L255.27 1529.91Z" fill="#fff"/><circle cx="265.46" cy="1468.61" r="5.05" fill="#fff" stroke="#d09c0a" stroke-width="1.4"/><path d="M265.46 1463.56A5.05 5.05 0 0 1 265.46 1473.66Z" fill="#d09c0a"/><path d="M266.26 1465.18L266.26 1472.04L269.9 1468.61Z" fill="#fff"/><circle cx="279.8" cy="1418.39" r="5.05" fill="#fff" stroke="#d09c0a" stroke-width="1.4"/><path d="M279.8 1413.34A5.05 5.05 0 0 1 279.8 1423.44Z" fill="#d09c0a"/><path d="M280.6 1414.95L280.6 1421.82L284.25 1418.39Z" fill="#fff"/><circle cx="291.62" cy="1375.82" r="5.05" fill="#fff" stroke="#d09c0a" stroke-width="1.4"/><path d="M291.62 1370.77A5.05 5.05 0 0 1 291.62 1380.87Z" fill="#d09c0a"/><path d="M292.42 1372.39L292.42 1379.26L296.06 1375.82Z" fill="#fff"/><circle cx="302.31" cy="1331.68" r="5.05" fill="#fff" stroke="#d09c0a" stroke-width="1.4"/><path d="M302.31 1326.63A5.05 5.05 0 0 1 302.31 1336.73Z" fill="#d09c0a"/><path d="M303.11 1328.25L303.11 1335.12L306.75 1331.68Z" fill="#fff"/><circle cx="317.5" cy="1285.6" r="5.05" fill="#fff" stroke="#d09c0a" stroke-width="1.4"/><path d="M317.5 1280.55A5.05 5.05 0 0 1 317.5 1290.65Z" fill="#d09c0a"/><path d="M318.3 1282.16L318.3 1289.03L321.94 1285.6Z" fill="#fff"/><circle cx="331.85" cy="1266.19" r="5.05" fill="#fff" stroke="#d09c0a" stroke-width="1.4"/><path d="M331.85 1261.14A5.05 5.05 0 0 1 331.85 1271.24Z" fill="#d09c0a"/><path d="M332.65 1262.75L332.65 1269.62L336.29 1266.19Z" fill="#fff"/><circle cx="342.82" cy="1259.34" r="5.05" fill="#fff" stroke="#d09c0a" stroke-width="1.4"/><path d="M342.82 1254.29A5.05 5.05 0 0 1 342.82 1264.39Z" fill="#d09c0a"/><path d="M343.62 1255.9L343.62 1262.77L347.26 1259.34Z" fill="#fff"/><circle cx="357.73" cy="1258.97" r="5.05" fill="#fff" stroke="#d09c0a" stroke-width="1.4"/><path d="M357.73 1253.92A5.05 5.05 0 0 1 357.73 1264.02Z" fill="#d09c0a"/><path d="M358.53 1255.54L358.53 1262.4L362.17 1258.97Z" fill="#fff"/><circle cx="368.98" cy="1262.92" r="5.05" fill="#fff" stroke="#d09c0a" stroke-width="1.4"/><path d="M368.98 1257.87A5.05 5.05 0 0 1 368.98 1267.97Z" fill="#d09c0a"/><path d="M369.78 1259.49L369.78 1266.36L373.43 1262.92Z" fill="#fff"/><circle cx="383.89" cy="1271.08" r="5.05" fill="#fff" stroke="#d09c0a" stroke-width="1.4"/><path d="M383.89 1266.03A5.05 5.05 0 0 1 383.89 1276.13Z" fill="#d09c0a"/><path d="M384.69 1267.65L384.69 1274.51L388.34 1271.08Z" fill="#fff"/><circle cx="398.52" cy="1285.4" r="5.05" fill="#fff" stroke="#d09c0a" stroke-width="1.4"/><path d="M398.52 1280.35A5.05 5.05 0 0 1 398.52 1290.45Z" fill="#d09c0a"/><path d="M399.32 1281.97L399.32 1288.83L402.96 1285.4Z" fill="#fff"/><circle cx="409.77" cy="1304.13" r="5.05" fill="#fff" stroke="#d09c0a" stroke-width="1.4"/><path d="M409.77 1299.08A5.05 5.05 0 0 1 409.77 1309.18Z" fill="#d09c0a"/><path d="M410.57 1300.7L410.57 1307.56L414.22 1304.13Z" fill="#fff"/><circle cx="421.31" cy="1318.81" r="5.05" fill="#fff" stroke="#d09c0a" stroke-width="1.4"/><path d="M421.31 1313.76A5.05 5.05 0 0 1 421.31 1323.86Z" fill="#d09c0a"/><path d="M422.11 1315.37L422.11 1322.24L425.75 1318.81Z" fill="#fff"/><circle cx="435.94" cy="1319.37" r="5.05" fill="#fff" stroke="#d09c0a" stroke-width="1.4"/><path d="M435.94 1314.32A5.05 5.05 0 0 1 435.94 1324.42Z" fill="#d09c0a"/><path d="M436.74 1315.94L436.74 1322.81L440.38 1319.37Z" fill="#fff"/><circle cx="450.56" cy="1318.58" r="5.05" fill="#fff" stroke="#d09c0a" stroke-width="1.4"/><path d="M450.56 1313.53A5.05 5.05 0 0 1 450.56 1323.63Z" fill="#d09c0a"/><path d="M451.36 1315.14L451.36 1322.01L455.01 1318.58Z" fill="#fff"/><circle cx="461.82" cy="1320.15" r="5.05" fill="#fff" stroke="#d09c0a" stroke-width="1.4"/><path d="M461.82 1315.1A5.05 5.05 0 0 1 461.82 1325.2Z" fill="#d09c0a"/><path d="M462.62 1316.72L462.62 1323.59L466.26 1320.15Z" fill="#fff"/><circle cx="476.45" cy="1319.94" r="5.05" fill="#fff" stroke="#d09c0a" stroke-width="1.4"/><path d="M476.45 1314.89A5.05 5.05 0 0 1 476.45 1324.99Z" fill="#d09c0a"/><path d="M477.25 1316.51L477.25 1323.38L480.89 1319.94Z" fill="#fff"/></g>
<path d="M117.77 1661.95L131.55 1661.95M131.55 1661.95L147.59 1661.95M147.59 1661.95L162.21 1661.95M162.21 1661.95L172.9 1661.95M172.9 1661.95L184.16 1661.95M184.16 1661.95L199.07 1661.95M199.07 1661.95L213.69 1661.95M213.69 1661.95L224.39 1661.95M224.39 1661.95L239.58 1661.95M239.58 1661.95L250.83 1661.95M250.83 1661.95L265.46 1661.95M265.46 1661.95L279.8 1661.95M279.8 1661.95L291.62 1661.95M291.62 1661.95L302.31 1661.95M302.31 1661.95L317.5 1661.95M317.5 1661.95L331.85 1661.95M331.85 1661.95L342.82 1661.95M342.82 1661.95L357.73 1661.95M357.73 1661.95L368.98 1657.71M368.98 1657.71L383.89 1655.18M383.89 1655.18L398.52 1648.13M398.52 1648.13L409.77 1626.61M409.77 1626.61L421.31 1599.49M421.31 1599.49L435.94 1542.9M435.94 1542.9L450.56 1482.91M450.56 1482.91L461.82 1421.64M461.82 1421.64L476.45 1360.23M476.45 1360.23L487.7 1320.3M487.7 1320.3L502.61 1319.9M502.61 1319.9L513.3 1318.03M513.3 1318.03L528.21 1320.09M528.21 1320.09L539.46 1320.34M539.46 1320.34L554.37 1319.23M554.37 1319.23L569.28 1319.19M569.28 1319.19L580.53 1320.56M580.53 1320.56L595.44 1320.42M595.44 1320.42L606.13 1318.04M606.13 1318.04L621.32 1320.52M621.32 1320.52L635.39 1319.41M635.39 1319.41L646.64 1320.24" stroke="#d09c0a" stroke-width="2.5" fill="none"/>
<g><circle cx="117.77" cy="1661.95" r="5.75" fill="#d09c0a"/><circle cx="131.55" cy="1661.95" r="5.75" fill="#d09c0a"/><circle cx="147.59" cy="1661.95" r="5.75" fill="#d09c0a"/><circle cx="162.21" cy="1661.95" r="5.75" fill="#d09c0a"/><circle cx="172.9" cy="1661.95" r="5.75" fill="#d09c0a"/><circle cx="184.16" cy="1661.95" r="5.75" fill="#d09c0a"/><circle cx="199.07" cy="1661.95" r="5.75" fill="#d09c0a"/><circle cx="213.69" cy="1661.95" r="5.75" fill="#d09c0a"/><circle cx="224.39" cy="1661.95" r="5.75" fill="#d09c0a"/><circle cx="239.58" cy="1661.95" r="5.75" fill="#d09c0a"/><circle cx="250.83" cy="1661.95" r="5.75" fill="#d09c0a"/><circle cx="265.46" cy="1661.95" r="5.75" fill="#d09c0a"/><circle cx="279.8" cy="1661.95" r="5.75" fill="#d09c0a"/><circle cx="291.62" cy="1661.95" r="5.75" fill="#d09c0a"/><circle cx="302.31" cy="1661.95" r="5.75" fill="#d09c0a"/><circle cx="317.5" cy="1661.95" r="5.75" fill="#d09c0a"/><circle cx="331.85" cy="1661.95" r="5.75" fill="#d09c0a"/><circle cx="342.82" cy="1661.95" r="5.75" fill="#d09c0a"/><circle cx="357.73" cy="1661.95" r="5.75" fill="#d09c0a"/><circle cx="368.98" cy="1657.71" r="5.75" fill="#d09c0a"/><circle cx="383.89" cy="1655.18" r="5.75" fill="#d09c0a"/><circle cx="398.52" cy="1648.13" r="5.75" fill="#d09c0a"/><circle cx="409.77" cy="1626.61" r="5.75" fill="#d09c0a"/><circle cx="421.31" cy="1599.49" r="5.75" fill="#d09c0a"/><circle cx="435.94" cy="1542.9" r="5.75" fill="#d09c0a"/><circle cx="450.56" cy="1482.91" r="5.75" fill="#d09c0a"/><circle cx="461.82" cy="1421.64" r="5.75" fill="#d09c0a"/><circle cx="476.45" cy="1360.23" r="5.75" fill="#d09c0a"/><circle cx="487.7" cy="1320.3" r="5.75" fill="#d09c0a"/><circle cx="502.61" cy="1319.9" r="5.75" fill="#d09c0a"/><circle cx="513.3" cy="1318.03" r="5.75" fill="#d09c0a"/><circle cx="528.21" cy="1320.09" r="5.75" fill="#d09c0a"/><circle cx="539.46" cy="1320.34" r="5.75" fill="#d09c0a"/><circle cx="554.37" cy="1319.23" r="5.75" fill="#d09c0a"/><circle cx="569.28" cy="1319.19" r="5.75" fill="#d09c0a"/><circle cx="580.53" cy="1320.56" r="5.75" fill="#d09c0a"/><circle cx="595.44" cy="1320.42" r="5.75" fill="#d09c0a"/><circle cx="606.13" cy="1318.04" r="5.75" fill="#d09c0a"/><circle cx="621.32" cy="1320.52" r="5.75" fill="#d09c0a"/><circle cx="635.39" cy="1319.41" r="5.75" fill="#d09c0a"/><circle cx="646.64" cy="1320.24" r="5.75" fill="#d09c0a"/></g>
<path d="M117.77 1661.95L131.55 1342.19M131.55 1342.19L147.59 1317.91M147.59 1317.91L162.21 1317.34M162.21 1317.34L172.9 1317.42M172.9 1317.42L184.16 1320.14M184.16 1320.14L199.07 1317.51M199.07 1317.51L213.69 1319.5M213.69 1319.5L224.39 1320.16M224.39 1320.16L239.58 1319.76M239.58 1319.76L250.83 1320.21M250.83 1320.21L265.46 1317.55M265.46 1317.55L279.8 1319.8M279.8 1319.8L291.62 1319.61M291.62 1319.61L302.31 1320.08M302.31 1320.08L317.5 1317.49M317.5 1317.49L331.85 1317.63M331.85 1317.63L342.82 1318.01M342.82 1318.01L357.73 1318.88M357.73 1318.88L368.98 1319.47M368.98 1319.47L383.89 1318.8M383.89 1318.8L398.52 1317.68M398.52 1317.68L409.77 1317.3M409.77 1317.3L421.31 1319.35M421.31 1319.35L435.94 1319.8M435.94 1319.8L450.56 1318.72M450.56 1318.72L461.82 1318.08M461.82 1318.08L476.45 1320.1M476.45 1320.1L487.7 1320.54M487.7 1320.54L502.61 1319.83M502.61 1319.83L513.3 1317.33M513.3 1317.33L528.21 1318.43M528.21 1318.43L539.46 1320.7M539.46 1320.7L554.37 1320.19M554.37 1320.19L569.28 1319.22M569.28 1319.22L580.53 1317.63M580.53 1317.63L595.44 1319.92M595.44 1319.92L606.13 1320.63M606.13 1320.63L621.32 1319.49M621.32 1319.49L635.39 1319.48M635.39 1319.48L646.64 1318.7" stroke="#0ec9c9" stroke-width="1" fill="none"/>
<g><circle cx="117.77" cy="1661.95" r="5.05" fill="#fff" stroke="#0ec9c9" stroke-width="1.4"/><circle cx="131.55" cy="1342.19" r="5.05" fill="#fff" stroke="#0ec9c9" stroke-width="1.4"/><circle cx="147.59" cy="1317.91" r="5.05" fill="#fff" stroke="#0ec9c9" stroke-width="1.4"/><circle cx="162.21" cy="1317.34" r="5.05" fill="#fff" stroke="#0ec9c9" stroke-width="1.4"/><circle cx="172.9" cy="1317.42" r="5.05" fill="#fff" stroke="#0ec9c9" stroke-width="1.4"/><circle cx="184.16" cy="1320.14" r="5.05" fill="#fff" stroke="#0ec9c9" stroke-width="1.4"/><circle cx="199.07" cy="1317.51" r="5.05" fill="#fff" stroke="#0ec9c9" stroke-width="1.4"/><circle cx="213.69" cy="1319.5" r="5.05" fill="#fff" stroke="#0ec9c9" stroke-width="1.4"/><circle cx="224.39" cy="1320.16" r="5.05" fill="#fff" stroke="#0ec9c9" stroke-width="1.4"/><circle cx="239.58" cy="1319.76" r="5.05" fill="#fff" stroke="#0ec9c9" stroke-width="1.4"/><circle cx="250.83" cy="1320.21" r="5.05" fill="#fff" stroke="#0ec9c9" stroke-width="1.4"/><circle cx="265.46" cy="1317.55" r="5.05" fill="#fff" stroke="#0ec9c9" stroke-width="1.4"/><circle cx="279.8" cy="1319.8" r="5.05" fill="#fff" stroke="#0ec9c9" stroke-width="1.4"/><circle cx="291.62" cy="1319.61" r="5.05" fill="#fff" stroke="#0ec9c9" stroke-width="1.4"/><circle cx="302.31" cy="1320.08" r="5.05" fill="#fff" stroke="#0ec9c9" stroke-width="1.4"/><circle cx="317.5" cy="1317.49" r="5.05" fill="#fff" stroke="#0ec9c9" stroke-width="1.4"/><circle cx="331.85" cy="1317.63" r="5.05" fill="#fff" stroke="#0ec9c9" stroke-width="1.4"/><circle cx="342.82" cy="1318.01" r="5.05" fill="#fff" stroke="#0ec9c9" stroke-width="1.4"/><circle cx="357.73" cy="1318.88" r="5.05" fill="#fff" stroke="#0ec9c9" stroke-width="1.4"/><circle cx="368.98" cy="1319.47" r="5.05" fill="#fff" stroke="#0ec9c9" stroke-width="1.4"/><circle cx="383.89" cy="1318.8" r="5.05" fill="#fff" stroke="#0ec9c9" stroke-width="1.4"/><circle cx="398.52" cy="1317.68" r="5.05" fill="#fff" stroke="#0ec9c9" stroke-width="1.4"/><circle cx="409.77" cy="1317.3" r="5.05" fill="#fff" stroke="#0ec9c9" stroke-width="1.4"/><circle cx="421.31" cy="1319.35" r="5.05" fill="#fff" stroke="#0ec9c9" stroke-width="1.4"/><circle cx="435.94" cy="1319.8" r="5.05" fill="#fff" stroke="#0ec9c9" stroke-width="1.4"/><circle cx="450.56" cy="1318.72" r="5.05" fill="#fff" stroke="#0ec9c9" stroke-width="1.4"/><circle cx="461.82" cy="1318.08" r="5.05" fill="#fff" stroke="#0ec9c9" stroke-width="1.4"/><circle cx="476.45" cy="1320.1" r="5.05" fill="#fff" stroke="#0ec9c9" stroke-width="1.4"/><circle cx="487.7" cy="1320.54" r="5.05" fill="#fff" stroke="#0ec9c9" stroke-width="1.4"/><circle cx="502.61" cy="1319.83" r="5.05" fill="#fff" stroke="#0ec9c9" stroke-width="1.4"/><circle cx="513.3" cy="1317.33" r="5.05" fill="#fff" stroke="#0ec9c9" stroke-width="1.4"/><circle cx="528.21" cy="1318.43" r="5.05" fill="#fff" stroke="#0ec9c9" stroke-width="1.4"/><circle cx="539.46" cy="1320.7" r="5.05" fill="#fff" stroke="#0ec9c9" stroke-width="1.4"/><circle cx="554.37" cy="1320.19" r="5.05" fill="#fff" stroke="#0ec9c9" stroke-width="1.4"/><circle cx="569.28" cy="1319.22" r="5.05" fill="#fff" stroke="#0ec9c9" stroke-width="1.4"/><circle cx="580.53" cy="1317.63" r="5.05" fill="#fff" stroke="#0ec9c9" stroke-width="1.4"/><circle cx="595.44" cy="1319.92" r="5.05" fill="#fff" stroke="#0ec9c9" stroke-width="1.4"/><circle cx="606.13" cy="1320.63" r="5.05" fill="#fff" stroke="#0ec9c9" stroke-width="1.4"/><circle cx="621.32" cy="1319.49" r="5.05" fill="#fff" stroke="#0ec9c9" stroke-width="1.4"/><circle cx="635.39" cy="1319.48" r="5.05" fill="#fff" stroke="#0ec9c9" stroke-width="1.4"/><circle cx="646.64" cy="1318.7" r="5.05" fill="#fff" stroke="#0ec9c9" stroke-width="1.4"/></g>
<path d="M117.77 1661.95L131.55 1661.95M131.55 1661.95L147.59 1661.95M147.59 1661.95L162.21 1661.95M162.21 1661.95L172.9 1661.95M172.9 1661.95L184.16 1661.95M184.16 1661.95L199.07 1655.48M199.07 1655.48L213.69 1645.04M213.69 1645.04L224.39 1624.5M224.39 1624.5L239.58 1579.23M239.58 1579.23L250.83 1529.66M250.83 1529.66L265.46 1468.72M265.46 1468.72L279.8 1418.06M279.8 1418.06L291.62 1375.14M291.62 1375.14L302.31 1330.19M302.31 1330.19L317.5 1285.62M317.5 1285.62L331.85 1266.03M331.85 1266.03L342.82 1259.19M342.82 1259.19L357.73 1258.97M357.73 1258.97L368.98 1262.94M368.98 1262.94L383.89 1271.04M383.89 1271.04L398.52 1285.61M398.52 1285.61L409.77 1304.68M409.77 1304.68L421.31 1318.84M421.31 1318.84L435.94 1319.31M435.94 1319.31L450.56 1320.5M450.56 1320.5L461.82 1320.66M461.82 1320.66L476.45 1317.48" stroke="#0ec9c9" stroke-width="2" fill="none"/>
<g><circle cx="117.77" cy="1661.95" r="5.05" fill="#fff" stroke="#0ec9c9" stroke-width="1.4"/><path d="M117.77 1656.9A5.05 5.05 0 0 1 117.77 1667Z" fill="#0ec9c9"/><path d="M118.57 1658.52L118.57 1665.39L122.21 1661.95Z" fill="#fff"/><circle cx="131.55" cy="1661.95" r="5.05" fill="#fff" stroke="#0ec9c9" stroke-width="1.4"/><path d="M131.55 1656.9A5.05 5.05 0 0 1 131.55 1667Z" fill="#0ec9c9"/><path d="M132.35 1658.52L132.35 1665.39L135.99 1661.95Z" fill="#fff"/><circle cx="147.59" cy="1661.95" r="5.05" fill="#fff" stroke="#0ec9c9" stroke-width="1.4"/><path d="M147.59 1656.9A5.05 5.05 0 0 1 147.59 1667Z" fill="#0ec9c9"/><path d="M148.39 1658.52L148.39 1665.39L152.03 1661.95Z" fill="#fff"/><circle cx="162.21" cy="1661.95" r="5.05" fill="#fff" stroke="#0ec9c9" stroke-width="1.4"/><path d="M162.21 1656.9A5.05 5.05 0 0 1 162.21 1667Z" fill="#0ec9c9"/><path d="M163.01 1658.52L163.01 1665.39L166.66 1661.95Z" fill="#fff"/><circle cx="172.9" cy="1661.95" r="5.05" fill="#fff" stroke="#0ec9c9" stroke-width="1.4"/><path d="M172.9 1656.9A5.05 5.05 0 0 1 172.9 1667Z" fill="#0ec9c9"/><path d="M173.7 1658.52L173.7 1665.39L177.35 1661.95Z" fill="#fff"/><circle cx="184.16" cy="1661.95" r="5.05" fill="#fff" stroke="#0ec9c9" stroke-width="1.4"/><path d="M184.16 1656.9A5.05 5.05 0 0 1 184.16 1667Z" fill="#0ec9c9"/><path d="M184.96 1658.52L184.96 1665.39L188.6 1661.95Z" fill="#fff"/><circle cx="199.07" cy="1655.48" r="5.05" fill="#fff" stroke="#0ec9c9" stroke-width="1.4"/><path d="M199.07 1650.43A5.05 5.05 0 0 1 199.07 1660.53Z" fill="#0ec9c9"/><path d="M199.87 1652.04L199.87 1658.91L203.51 1655.48Z" fill="#fff"/><circle cx="213.69" cy="1645.04" r="5.05" fill="#fff" stroke="#0ec9c9" stroke-width="1.4"/><path d="M213.69 1639.99A5.05 5.05 0 0 1 213.69 1650.09Z" fill="#0ec9c9"/><path d="M214.49 1641.6L214.49 1648.47L218.14 1645.04Z" fill="#fff"/><circle cx="224.39" cy="1624.5" r="5.05" fill="#fff" stroke="#0ec9c9" stroke-width="1.4"/><path d="M224.39 1619.45A5.05 5.05 0 0 1 224.39 1629.55Z" fill="#0ec9c9"/><path d="M225.19 1621.07L225.19 1627.93L228.83 1624.5Z" fill="#fff"/><circle cx="239.58" cy="1579.23" r="5.05" fill="#fff" stroke="#0ec9c9" stroke-width="1.4"/><path d="M239.58 1574.18A5.05 5.05 0 0 1 239.58 1584.28Z" fill="#0ec9c9"/><path d="M240.38 1575.79L240.38 1582.66L244.02 1579.23Z" fill="#fff"/><circle cx="250.83" cy="1529.66" r="5.05" fill="#fff" stroke="#0ec9c9" stroke-width="1.4"/><path d="M250.83 1524.61A5.05 5.05 0 0 1 250.83 1534.71Z" fill="#0ec9c9"/><path d="M251.63 1526.22L251.63 1533.09L255.27 1529.66Z" fill="#fff"/><circle cx="265.46" cy="1468.72" r="5.05" fill="#fff" stroke="#0ec9c9" stroke-width="1.4"/><path d="M265.46 1463.67A5.05 5.05 0 0 1 265.46 1473.77Z" fill="#0ec9c9"/><path d="M266.26 1465.28L266.26 1472.15L269.9 1468.72Z" fill="#fff"/><circle cx="279.8" cy="1418.06" r="5.05" fill="#fff" stroke="#0ec9c9" stroke-width="1.4"/><path d="M279.8 1413.01A5.05 5.05 0 0 1 279.8 1423.11Z" fill="#0ec9c9"/><path d="M280.6 1414.63L280.6 1421.49L284.25 1418.06Z" fill="#fff"/><circle cx="291.62" cy="1375.14" r="5.05" fill="#fff" stroke="#0ec9c9" stroke-width="1.4"/><path d="M291.62 1370.09A5.05 5.05 0 0 1 291.62 1380.19Z" fill="#0ec9c9"/><path d="M292.42 1371.7L292.42 1378.57L296.06 1375.14Z" fill="#fff"/><circle cx="302.31" cy="1330.19" r="5.05" fill="#fff" stroke="#0ec9c9" stroke-width="1.4"/><path d="M302.31 1325.14A5.05 5.05 0 0 1 302.31 1335.24Z" fill="#0ec9c9"/><path d="M303.11 1326.75L303.11 1333.62L306.75 1330.19Z" fill="#fff"/><circle cx="317.5" cy="1285.62" r="5.05" fill="#fff" stroke="#0ec9c9" stroke-width="1.4"/><path d="M317.5 1280.57A5.05 5.05 0 0 1 317.5 1290.67Z" fill="#0ec9c9"/><path d="M318.3 1282.18L318.3 1289.05L321.94 1285.62Z" fill="#fff"/><circle cx="331.85" cy="1266.03" r="5.05" fill="#fff" stroke="#0ec9c9" stroke-width="1.4"/><path d="M331.85 1260.98A5.05 5.05 0 0 1 331.85 1271.08Z" fill="#0ec9c9"/><path d="M332.65 1262.6L332.65 1269.47L336.29 1266.03Z" fill="#fff"/><circle cx="342.82" cy="1259.19" r="5.05" fill="#fff" stroke="#0ec9c9" stroke-width="1.4"/><path d="M342.82 1254.14A5.05 5.05 0 0 1 342.82 1264.24Z" fill="#0ec9c9"/><path d="M343.62 1255.76L343.62 1262.62L347.26 1259.19Z" fill="#fff"/><circle cx="357.73" cy="1258.97" r="5.05" fill="#fff" stroke="#0ec9c9" stroke-width="1.4"/><path d="M357.73 1253.92A5.05 5.05 0 0 1 357.73 1264.02Z" fill="#0ec9c9"/><path d="M358.53 1255.54L358.53 1262.4L362.17 1258.97Z" fill="#fff"/><circle cx="368.98" cy="1262.94" r="5.05" fill="#fff" stroke="#0ec9c9" stroke-width="1.4"/><path d="M368.98 1257.89A5.05 5.05 0 0 1 368.98 1267.99Z" fill="#0ec9c9"/><path d="M369.78 1259.51L369.78 1266.38L373.43 1262.94Z" fill="#fff"/><circle cx="383.89" cy="1271.04" r="5.05" fill="#fff" stroke="#0ec9c9" stroke-width="1.4"/><path d="M383.89 1265.99A5.05 5.05 0 0 1 383.89 1276.09Z" fill="#0ec9c9"/><path d="M384.69 1267.61L384.69 1274.48L388.34 1271.04Z" fill="#fff"/><circle cx="398.52" cy="1285.61" r="5.05" fill="#fff" stroke="#0ec9c9" stroke-width="1.4"/><path d="M398.52 1280.56A5.05 5.05 0 0 1 398.52 1290.66Z" fill="#0ec9c9"/><path d="M399.32 1282.18L399.32 1289.04L402.96 1285.61Z" fill="#fff"/><circle cx="409.77" cy="1304.68" r="5.05" fill="#fff" stroke="#0ec9c9" stroke-width="1.4"/><path d="M409.77 1299.63A5.05 5.05 0 0 1 409.77 1309.73Z" fill="#0ec9c9"/><path d="M410.57 1301.24L410.57 1308.11L414.22 1304.68Z" fill="#fff"/><circle cx="421.31" cy="1318.84" r="5.05" fill="#fff" stroke="#0ec9c9" stroke-width="1.4"/><path d="M421.31 1313.79A5.05 5.05 0 0 1 421.31 1323.89Z" fill="#0ec9c9"/><path d="M422.11 1315.4L422.11 1322.27L425.75 1318.84Z" fill="#fff"/><circle cx="435.94" cy="1319.31" r="5.05" fill="#fff" stroke="#0ec9c9" stroke-width="1.4"/><path d="M435.94 1314.26A5.05 5.05 0 0 1 435.94 1324.36Z" fill="#0ec9c9"/><path d="M436.74 1315.88L436.74 1322.75L440.38 1319.31Z" fill="#fff"/><circle cx="450.56" cy="1320.5" r="5.05" fill="#fff" stroke="#0ec9c9" stroke-width="1.4"/><path d="M450.56 1315.45A5.05 5.05 0 0 1 450.56 1325.55Z" fill="#0ec9c9"/><path d="M451.36 1317.07L451.36 1323.94L455.01 1320.5Z" fill="#fff"/><circle cx="461.82" cy="1320.66" r="5.05" fill="#fff" stroke="#0ec9c9" stroke-width="1.4"/><path d="M461.82 1315.61A5.05 5.05 0 0 1 461.82 1325.71Z" fill="#0ec9c9"/><path d="M462.62 1317.23L462.62 1324.1L466.26 1320.66Z" fill="#fff"/><circle cx="476.45" cy="1317.48" r="5.05" fill="#fff" stroke="#0ec9c9" stroke-width="1.4"/><path d="M476.45 1312.43A5.05 5.05 0 0 1 476.45 1322.53Z" fill="#0ec9c9"/><path d="M477.25 1314.04L477.25 1320.91L480.89 1317.48Z" fill="#fff"/></g>
<path d="M117.77 1661.95L131.55 1661.95M131.55 1661.95L147.59 1661.95M147.59 1661.95L162.21 1661.95M162.21 1661.95L172.9 1661.95M172.9 1661.95L184.16 1661.95M184.16 1661.95L199.07 1661.95M199.07 1661.95L213.69 1661.95M213.69 1661.95L224.39 1661.95M224.39 1661.95L239.58 1661.95M239.58 1661.95L250.83 1661.95M250.83 1661.95L265.46 1661.95M265.46 1661.95L279.8 1661.95M279.8 1661.95L291.62 1661.95M291.62 1661.95L302.31 1661.95M302.31 1661.95L317.5 1661.95M317.5 1661.95L331.85 1661.95M331.85 1661.95L342.82 1661.95M342.82 1661.95L357.73 1661.95M357.73 1661.95L368.98 1657.63M368.98 1657.63L383.89 1655.14M383.89 1655.14L398.52 1648.06M398.52 1648.06L409.77 1626.2M409.77 1626.2L421.31 1599.03M421.31 1599.03L435.94 1542.66M435.94 1542.66L450.56 1482.35M450.56 1482.35L461.82 1421.39M461.82 1421.39L476.45 1359.94M476.45 1359.94L487.7 1320.52M487.7 1320.52L502.61 1318M502.61 1318L513.3 1319.79M513.3 1319.79L528.21 1317.39M528.21 1317.39L539.46 1317.69M539.46 1317.69L554.37 1319.81M554.37 1319.81L569.28 1318.15M569.28 1318.15L580.53 1318.14M580.53 1318.14L595.44 1317.69M595.44 1317.69L606.13 1319.88M606.13 1319.88L621.32 1318.54M621.32 1318.54L635.39 1318.42M635.39 1318.42L646.64 1319.09" stroke="#0ec9c9" stroke-width="2.5" fill="none"/>
<g><circle cx="117.77" cy="1661.95" r="5.75" fill="#0ec9c9"/><circle cx="131.55" cy="1661.95" r="5.75" fill="#0ec9c9"/><circle cx="147.59" cy="1661.95" r="5.75" fill="#0ec9c9"/><circle cx="162.21" cy="1661.95" r="5.75" fill="#0ec9c9"/><circle cx="172.9" cy="1661.95" r="5.75" fill="#0ec9c9"/><circle cx="184.16" cy="1661.95" r="5.75" fill="#0ec9c9"/><circle cx="199.07" cy="1661.95" r="5.75" fill="#0ec9c9"/><circle cx="213.69" cy="1661.95" r="5.75" fill="#0ec9c9"/><circle cx="224.39" cy="1661.95" r="5.75" fill="#0ec9c9"/><circle cx="239.58" cy="1661.95" r="5.75" fill="#0ec9c9"/><circle cx="250.83" cy="1661.95" r="5.75" fill="#0ec9c9"/><circle cx="265.46" cy="1661.95" r="5.75" fill="#0ec9c9"/><circle cx="279.8" cy="1661.95" r="5.75" fill="#0ec9c9"/><circle cx="291.62" cy="1661.95" r="5.75" fill="#0ec9c9"/><circle cx="302.31" cy="1661.95" r="5.75" fill="#0ec9c9"/><circle cx="317.5" cy="1661.95" r="5.75" fill="#0ec9c9"/><circle cx="331.85" cy="1661.95" r="5.75" fill="#0ec9c9"/><circle cx="342.82" cy="1661.95" r="5.75" fill="#0ec9c9"/><circle cx="357.73" cy="1661.95" r="5.75" fill="#0ec9c9"/><circle cx="368.98" cy="1657.63" r="5.75" fill="#0ec9c9"/><circle cx="383.89" cy="1655.14" r="5.75" fill="#0ec9c9"/><circle cx="398.52" cy="1648.06" r="5.75" fill="#0ec9c9"/><circle cx="409.77" cy="1626.2" r="5.75" fill="#0ec9c9"/><circle cx="421.31" cy="1599.03" r="5.75" fill="#0ec9c9"/><circle cx="435.94" cy="1542.66" r="5.75" fill="#0ec9c9"/><circle cx="450.56" cy="1482.35" r="5.75" fill="#0ec9c9"/><circle cx="461.82" cy="1421.39" r="5.75" fill="#0ec9c9"/><circle cx="476.45" cy="1359.94" r="5.75" fill="#0ec9c9"/><circle cx="487.7" cy="1320.52" r="5.75" fill="#0ec9c9"/><circle cx="502.61" cy="1318" r="5.75" fill="#0ec9c9"/><circle cx="513.3" cy="1319.79" r="5.75" fill="#0ec9c9"/><circle cx="528.21" cy="1317.39" r="5.75" fill="#0ec9c9"/><circle cx="539.46" cy="1317.69" r="5.75" fill="#0ec9c9"/><circle cx="554.37" cy="1319.81" r="5.75" fill="#0ec9c9"/><circle cx="569.28" cy="1318.15" r="5.75" fill="#0ec9c9"/><circle cx="580.53" cy="1318.14" r="5.75" fill="#0ec9c9"/><circle cx="595.44" cy="1317.69" r="5.75" fill="#0ec9c9"/><circle cx="606.13" cy="1319.88" r="5.75" fill="#0ec9c9"/><circle cx="621.32" cy="1318.54" r="5.75" fill="#0ec9c9"/><circle cx="635.39" cy="1318.42" r="5.75" fill="#0ec9c9"/><circle cx="646.64" cy="1319.09" r="5.75" fill="#0ec9c9"/></g>
<path d="M117.77 1661.95L131.55 1341.1M131.55 1341.1L147.59 1319.2M147.59 1319.2L162.21 1318.75M162.21 1318.75L172.9 1319.98M172.9 1319.98L184.16 1320.44M184.16 1320.44L199.07 1320.21M199.07 1320.21L213.69 1320.34M213.69 1320.34L224.39 1319.52M224.39 1319.52L239.58 1320.61M239.58 1320.61L250.83 1318.33M250.83 1318.33L265.46 1318.31M265.46 1318.31L279.8 1320.48M279.8 1320.48L291.62 1319.46M291.62 1319.46L302.31 1317.89M302.31 1317.89L317.5 1320.48M317.5 1320.48L331.85 1317.57M331.85 1317.57L342.82 1320.34M342.82 1320.34L357.73 1320.32M357.73 1320.32L368.98 1317.8M368.98 1317.8L383.89 1318.53M383.89 1318.53L398.52 1318.54M398.52 1318.54L409.77 1320.36M409.77 1320.36L421.31 1318.11M421.31 1318.11L435.94 1319.61M435.94 1319.61L450.56 1320.63M450.56 1320.63L461.82 1319.73M461.82 1319.73L476.45 1319.44M476.45 1319.44L487.7 1317.4M487.7 1317.4L502.61 1317.78M502.61 1317.78L513.3 1320.6M513.3 1320.6L528.21 1319.21M528.21 1319.21L539.46 1319.51M539.46 1319.51L554.37 1318.86M554.37 1318.86L569.28 1317.75M569.28 1317.75L580.53 1317.89M580.53 1317.89L595.44 1320.7M595.44 1320.7L606.13 1318.09M606.13 1318.09L621.32 1320.69M621.32 1320.69L635.39 1319.02M635.39 1319.02L646.64 1320.07" stroke="#7b4f4f" stroke-width="1" fill="none"/>
<g><circle cx="117.77" cy="1661.95" r="5.05" fill="#fff" stroke="#7b4f4f" stroke-width="1.4"/><circle cx="131.55" cy="1341.1" r="5.05" fill="#fff" stroke="#7b4f4f" stroke-width="1.4"/><circle cx="147.59" cy="1319.2" r="5.05" fill="#fff" stroke="#7b4f4f" stroke-width="1.4"/><circle cx="162.21" cy="1318.75" r="5.05" fill="#fff" stroke="#7b4f4f" stroke-width="1.4"/><circle cx="172.9" cy="1319.98" r="5.05" fill="#fff" stroke="#7b4f4f" stroke-width="1.4"/><circle cx="184.16" cy="1320.44" r="5.05" fill="#fff" stroke="#7b4f4f" stroke-width="1.4"/><circle cx="199.07" cy="1320.21" r="5.05" fill="#fff" stroke="#7b4f4f" stroke-width="1.4"/><circle cx="213.69" cy="1320.34" r="5.05" fill="#fff" stroke="#7b4f4f" stroke-width="1.4"/><circle cx="224.39" cy="1319.52" r="5.05" fill="#fff" stroke="#7b4f4f" stroke-width="1.4"/><circle cx="239.58" cy="1320.61" r="5.05" fill="#fff" stroke="#7b4f4f" stroke-width="1.4"/><circle cx="250.83" cy="1318.33" r="5.05" fill="#fff" stroke="#7b4f4f" stroke-width="1.4"/><circle cx="265.46" cy="1318.31" r="5.05" fill="#fff" stroke="#7b4f4f" stroke-width="1.4"/><circle cx="279.8" cy="1320.48" r="5.05" fill="#fff" stroke="#7b4f4f" stroke-width="1.4"/><circle cx="291.62" cy="1319.46" r="5.05" fill="#fff" stroke="#7b4f4f" stroke-width="1.4"/><circle cx="302.31" cy="1317.89" r="5.05" fill="#fff" stroke="#7b4f4f" stroke-width="1.4"/><circle cx="317.5" cy="1320.48" r="5.05" fill="#fff" stroke="#7b4f4f" stroke-width="1.4"/><circle cx="331.85" cy="1317.57" r="5.05" fill="#fff" stroke="#7b4f4f" stroke-width="1.4"/><circle cx="342.82" cy="1320.34" r="5.05" fill="#fff" stroke="#7b4f4f" stroke-width="1.4"/><circle cx="357.73" cy="1320.32" r="5.05" fill="#fff" stroke="#7b4f4f" stroke-width="1.4"/><circle cx="368.98" cy="1317.8" r="5.05" fill="#fff" stroke="#7b4f4f" stroke-width="1.4"/><circle cx="383.89" cy="1318.53" r="5.05" fill="#fff" stroke="#7b4f4f" stroke-width="1.4"/><circle cx="398.52" cy="1318.54" r="5.05" fill="#fff" stroke="#7b4f4f" stroke-width="1.4"/><circle cx="409.77" cy="1320.36" r="5.05" fill="#fff" stroke="#7b4f4f" stroke-width="1.4"/><circle cx="421.31" cy="1318.11" r="5.05" fill="#fff" stroke="#7b4f4f" stroke-width="1.4"/><circle cx="435.94" cy="1319.61" r="5.05" fill="#fff" stroke="#7b4f4f" stroke-width="1.4"/><circle cx="450.56" cy="1320.63" r="5.05" fill="#fff" stroke="#7b4f4f" stroke-width="1.4"/><circle cx="461.82" cy="1319.73" r="5.05" fill="#fff" stroke="#7b4f4f" stroke-width="1.4"/><circle cx="476.45" cy="1319.44" r="5.05" fill="#fff" stroke="#7b4f4f" stroke-width="1.4"/><circle cx="487.7" cy="1317.4" r="5.05" fill="#fff" stroke="#7b4f4f" stroke-width="1.4"/><circle cx="502.61" cy="1317.78" r="5.05" fill="#fff" stroke="#7b4f4f" stroke-width="1.4"/><circle cx="513.3" cy="1320.6" r="5.05" fill="#fff" stroke="#7b4f4f" stroke-width="1.4"/><circle cx="528.21" cy="1319.21" r="5.05" fill="#fff" stroke="#7b4f4f" stroke-width="1.4"/><circle cx="539.46" cy="1319.51" r="5.05" fill="#fff" stroke="#7b4f4f" stroke-width="1.4"/><circle cx="554.37" cy="1318.86" r="5.05" fill="#fff" stroke="#7b4f4f" stroke-width="1.4"/><circle cx="569.28" cy="1317.75" r="5.05" fill="#fff" stroke="#7b4f4f" stroke-width="1.4"/><circle cx="580.53" cy="1317.89" r="5.05" fill="#fff" stroke="#7b4f4f" stroke-width="1.4"/><circle cx="595.44" cy="1320.7" r="5.05" fill="#fff" stroke="#7b4f4f" stroke-width="1.4"/><circle cx="606.13" cy="1318.09" r="5.05" fill="#fff" stroke="#7b4f4f" stroke-width="1.4"/><circle cx="621.32" cy="1320.69" r="5.05" fill="#fff" stroke="#7b4f4f" stroke-width="1.4"/><circle cx="635.39" cy="1319.02" r="5.05" fill="#fff" stroke="#7b4f4f" stroke-width="1.4"/><circle cx="646.64" cy="1320.07" r="5.05" fill="#fff" stroke="#7b4f4f" stroke-width="1.4"/></g>
<path d="M117.77 1661.95L131.55 1661.95M131.55 1661.95L147.59 1661.95M147.59 1661.95L162.21 1661.95M162.21 1661.95L172.9 1661.95M172.9 1661.95L184.16 1661.95M184.16 1661.95L199.07 1655.4M199.07 1655.4L213.69 1645.02M213.69 1645.02L224.39 1624.41M224.39 1624.41L239.58 1578.57M239.58 1578.57L250.83 1528.79M250.83 1528.79L265.46 1467.67M265.46 1467.67L279.8 1417.81M279.8 1417.81L291.62 1374.93M291.62 1374.93L302.31 1330.23M302.31 1330.23L317.5 1285.19M317.5 1285.19L331.85 1265.81M331.85 1265.81L342.82 1259.12M342.82 1259.12L357.73 1258.97M357.73 1258.97L368.98 1262.97M368.98 1262.97L383.89 1271.2M383.89 1271.2L398.52 1285.74M398.52 1285.74L409.77 1304.93M409.77 1304.93L421.31 1318.09M421.31 1318.09L435.94 1318.98M435.94 1318.98L450.56 1317.67M450.56 1317.67L461.82 1319.12M461.82 1319.12L476.45 1318.12" stroke="#7b4f4f" stroke-width="2" fill="none"/>
<g><circle cx="117.77" cy="1661.95" r="5.05" fill="#fff" stroke="#7b4f4f" stroke-width="1.4"/><path d="M117.77 1656.9A5.05 5.05 0 0 1 117.77 1667Z" fill="#7b4f4f"/><path d="M118.57 1658.52L118.57 1665.39L122.21 1661.95Z" fill="#fff"/><circle cx="131.55" cy="1661.95" r="5.05" fill="#fff" stroke="#7b4f4f" stroke-width="1.4"/><path d="M131.55 1656.9A5.05 5.05 0 0 1 131.55 1667Z" fill="#7b4f4f"/><path d="M132.35 1658.52L132.35 1665.39L135.99 1661.95Z" fill="#fff"/><circle cx="147.59" cy="1661.95" r="5.05" fill="#fff" stroke="#7b4f4f" stroke-width="1.4"/><path d="M147.59 1656.9A5.05 5.05 0 0 1 147.59 1667Z" fill="#7b4f4f"/><path d="M148.39 1658.52L148.39 1665.39L152.03 1661.95Z" fill="#fff"/><circle cx="162.21" cy="1661.95" r="5.05" fill="#fff" stroke="#7b4f4f" stroke-width="1.4"/><path d="M162.21 1656.9A5.05 5.05 0 0 1 162.21 1667Z" fill="#7b4f4f"/><path d="M163.01 1658.52L163.01 1665.39L166.66 1661.95Z" fill="#fff"/><circle cx="172.9" cy="1661.95" r="5.05" fill="#fff" stroke="#7b4f4f" stroke-width="1.4"/><path d="M172.9 1656.9A5.05 5.05 0 0 1 172.9 1667Z" fill="#7b4f4f"/><path d="M173.7 1658.52L173.7 1665.39L177.35 1661.95Z" fill="#fff"/><circle cx="184.16" cy="1661.95" r="5.05" fill="#fff" stroke="#7b4f4f" stroke-width="1.4"/><path d="M184.16 1656.9A5.05 5.05 0 0 1 184.16 1667Z" fill="#7b4f4f"/><path d="M184.96 1658.52L184.96 1665.39L188.6 1661.95Z" fill="#fff"/><circle cx="199.07" cy="1655.4" r="5.05" fill="#fff" stroke="#7b4f4f" stroke-width="1.4"/><path d="M199.07 1650.35A5.05 5.05 0 0 1 199.07 1660.45Z" fill="#7b4f4f"/><path d="M199.87 1651.97L199.87 1658.84L203.51 1655.4Z" fill="#fff"/><circle cx="213.69" cy="1645.02" r="5.05" fill="#fff" stroke="#7b4f4f" stroke-width="1.4"/><path d="M213.69 1639.97A5.05 5.05 0 0 1 213.69 1650.07Z" fill="#7b4f4f"/><path d="M214.49 1641.58L214.49 1648.45L218.14 1645.02Z" fill="#fff"/><circle cx="224.39" cy="1624.41" r="5.05" fill="#fff" stroke="#7b4f4f" stroke-width="1.4"/><path d="M224.39 1619.36A5.05 5.05 0 0 1 224.39 1629.46Z" fill="#7b4f4f"/><path d="M225.19 1620.97L225.19 1627.84L228.83 1624.41Z" fill="#fff"/><circle cx="239.58" cy="1578.57" r="5.05" fill="#fff" stroke="#7b4f4f" stroke-width="1.4"/><path d="M239.58 1573.52A5.05 5.05 0 0 1 239.58 1583.62Z" fill="#7b4f4f"/><path d="M240.38 1575.13L240.38 1582L244.02 1578.57Z" fill="#fff"/><circle cx="250.83" cy="1528.79" r="5.05" fill="#fff" stroke="#7b4f4f" stroke-width="1.4"/><path d="M250.83 1523.74A5.05 5.05 0 0 1 250.83 1533.84Z" fill="#7b4f4f"/><path d="M251.63 1525.36L251.63 1532.23L255.27 1528.79Z" fill="#fff"/><circle cx="265.46" cy="1467.67" r="5.05" fill="#fff" stroke="#7b4f4f" stroke-width="1.4"/><path d="M265.46 1462.62A5.05 5.05 0 0 1 265.46 1472.72Z" fill="#7b4f4f"/><path d="M266.26 1464.24L266.26 1471.1L269.9 1467.67Z" fill="#fff"/><circle cx="279.8" cy="1417.81" r="5.05" fill="#fff" stroke="#7b4f4f" stroke-width="1.4"/><path d="M279.8 1412.76A5.05 5.05 0 0 1 279.8 1422.86Z" fill="#7b4f4f"/><path d="M280.6 1414.37L280.6 1421.24L284.25 1417.81Z" fill="#fff"/><circle cx="291.62" cy="1374.93" r="5.05" fill="#fff" stroke="#7b4f4f" stroke-width="1.4"/><path d="M291.62 1369.88A5.05 5.05 0 0 1 291.62 1379.98Z" fill="#7b4f4f"/><path d="M292.42 1371.5L292.42 1378.37L296.06 1374.93Z" fill="#fff"/><circle cx="302.31" cy="1330.23" r="5.05" fill="#fff" stroke="#7b4f4f" stroke-width="1.4"/><path d="M302.31 1325.18A5.05 5.05 0 0 1 302.31 1335.28Z" fill="#7b4f4f"/><path d="M303.11 1326.79L303.11 1333.66L306.75 1330.23Z" fill="#fff"/><circle cx="317.5" cy="1285.19" r="5.05" fill="#fff" stroke="#7b4f4f" stroke-width="1.4"/><path d="M317.5 1280.14A5.05 5.05 0 0 1 317.5 1290.24Z" fill="#7b4f4f"/><path d="M318.3 1281.75L318.3 1288.62L321.94 1285.19Z" fill="#fff"/><circle cx="331.85" cy="1265.81" r="5.05" fill="#fff" stroke="#7b4f4f" stroke-width="1.4"/><path d="M331.85 1260.76A5.05 5.05 0 0 1 331.85 1270.86Z" fill="#7b4f4f"/><path d="M332.65 1262.38L332.65 1269.25L336.29 1265.81Z" fill="#fff"/><circle cx="342.82" cy="1259.12" r="5.05" fill="#fff" stroke="#7b4f4f" stroke-width="1.4"/><path d="M342.82 1254.07A5.05 5.05 0 0 1 342.82 1264.17Z" fill="#7b4f4f"/><path d="M343.62 1255.69L343.62 1262.55L347.26 1259.12Z" fill="#fff"/><circle cx="357.73" cy="1258.97" r="5.05" fill="#fff" stroke="#7b4f4f" stroke-width="1.4"/><path d="M357.73 1253.92A5.05 5.05 0 0 1 357.73 1264.02Z" fill="#7b4f4f"/><path d="M358.53 1255.54L358.53 1262.4L362.17 1258.97Z" fill="#fff"/><circle cx="368.98" cy="1262.97" r="5.05" fill="#fff" stroke="#7b4f4f" stroke-width="1.4"/><path d="M368.98 1257.92A5.05 5.05 0 0 1 368.98 1268.02Z" fill="#7b4f4f"/><path d="M369.78 1259.53L369.78 1266.4L373.43 1262.97Z" fill="#fff"/><circle cx="383.89" cy="1271.2" r="5.05" fill="#fff" stroke="#7b4f4f" stroke-width="1.4"/><path d="M383.89 1266.15A5.05 5.05 0 0 1 383.89 1276.25Z" fill="#7b4f4f"/><path d="M384.69 1267.77L384.69 1274.64L388.34 1271.2Z" fill="#fff"/><circle cx="398.52" cy="1285.74" r="5.05" fill="#fff" stroke="#7b4f4f" stroke-width="1.4"/><path d="M398.52 1280.69A5.05 5.05 0 0 1 398.52 1290.79Z" fill="#7b4f4f"/><path d="M399.32 1282.31L399.32 1289.17L402.96 1285.74Z" fill="#fff"/><circle cx="409.77" cy="1304.93" r="5.05" fill="#fff" stroke="#7b4f4f" stroke-width="1.4"/><path d="M409.77 1299.88A5.05 5.05 0 0 1 409.77 1309.98Z" fill="#7b4f4f"/><path d="M410.57 1301.49L410.57 1308.36L414.22 1304.93Z" fill="#fff"/><circle cx="421.31" cy="1318.09" r="5.05" fill="#fff" stroke="#7b4f4f" stroke-width="1.4"/><path d="M421.31 1313.04A5.05 5.05 0 0 1 421.31 1323.14Z" fill="#7b4f4f"/><path d="M422.11 1314.65L422.11 1321.52L425.75 1318.09Z" fill="#fff"/><circle cx="435.94" cy="1318.98" r="5.05" fill="#fff" stroke="#7b4f4f" stroke-width="1.4"/><path d="M435.94 1313.93A5.05 5.05 0 0 1 435.94 1324.03Z" fill="#7b4f4f"/><path d="M436.74 1315.55L436.74 1322.42L440.38 1318.98Z" fill="#fff"/><circle cx="450.56" cy="1317.67" r="5.05" fill="#fff" stroke="#7b4f4f" stroke-width="1.4"/><path d="M450.56 1312.62A5.05 5.05 0 0 1 450.56 1322.72Z" fill="#7b4f4f"/><path d="M451.36 1314.24L451.36 1321.11L455.01 1317.67Z" fill="#fff"/><circle cx="461.82" cy="1319.12" r="5.05" fill="#fff" stroke="#7b4f4f" stroke-width="1.4"/><path d="M461.82 1314.07A5.05 5.05 0 0 1 461.82 1324.17Z" fill="#7b4f4f"/><path d="M462.62 1315.69L462.62 1322.56L466.26 1319.12Z" fill="#fff"/><circle cx="476.45" cy="1318.12" r="5.05" fill="#fff" stroke="#7b4f4f" stroke-width="1.4"/><path d="M476.45 1313.07A5.05 5.05 0 0 1 476.45 1323.17Z" fill="#7b4f4f"/><path d="M477.25 1314.68L477.25 1321.55L480.89 1318.12Z" fill="#fff"/></g>
<path d="M117.77 1661.95L131.55 1661.95M131.55 1661.95L147.59 1661.95M147.59 1661.95L162.21 1661.95M162.21 1661.95L172.9 1661.95M172.9 1661.95L184.16 1661.95M184.16 1661.95L199.07 1661.95M199.07 1661.95L213.69 1661.95M213.69 1661.95L224.39 1661.95M224.39 1661.95L239.58 1661.95M239.58 1661.95L250.83 1661.95M250.83 1661.95L265.46 1661.95M265.46 1661.95L279.8 1661.95M279.8 1661.95L291.62 1661.95M291.62 1661.95L302.31 1661.95M302.31 1661.95L317.5 1661.95M317.5 1661.95L331.85 1661.95M331.85 1661.95L342.82 1661.95M342.82 1661.95L357.73 1661.95M357.73 1661.95L368.98 1657.62M368.98 1657.62L383.89 1655.13M383.89 1655.13L398.52 1648M398.52 1648L409.77 1626.06M409.77 1626.06L421.31 1598.74M421.31 1598.74L435.94 1541.94M435.94 1541.94L450.56 1481.43M450.56 1481.43L461.82 1420.12M461.82 1420.12L476.45 1359.01M476.45 1359.01L487.7 1319.92M487.7 1319.92L502.61 1317.4M502.61 1317.4L513.3 1319.39M513.3 1319.39L528.21 1317.98M528.21 1317.98L539.46 1319.21M539.46 1319.21L554.37 1318.52M554.37 1318.52L569.28 1320M569.28 1320L580.53 1320.59M580.53 1320.59L595.44 1317.99M595.44 1317.99L606.13 1318.99M606.13 1318.99L621.32 1319.11M621.32 1319.11L635.39 1318.63M635.39 1318.63L646.64 1318.16" stroke="#7b4f4f" stroke-width="2.5" fill="none"/>
<g><circle cx="117.77" cy="1661.95" r="5.75" fill="#7b4f4f"/><circle cx="131.55" cy="1661.95" r="5.75" fill="#7b4f4f"/><circle cx="147.59" cy="1661.95" r="5.75" fill="#7b4f4f"/><circle cx="162.21" cy="1661.95" r="5.75" fill="#7b4f4f"/><circle cx="172.9" cy="1661.95" r="5.75" fill="#7b4f4f"/><circle cx="184.16" cy="1661.95" r="5.75" fill="#7b4f4f"/><circle cx="199.07" cy="1661.95" r="5.75" fill="#7b4f4f"/><circle cx="213.69" cy="1661.95" r="5.75" fill="#7b4f4f"/><circle cx="224.39" cy="1661.95" r="5.75" fill="#7b4f4f"/><circle cx="239.58" cy="1661.95" r="5.75" fill="#7b4f4f"/><circle cx="250.83" cy="1661.95" r="5.75" fill="#7b4f4f"/><circle cx="265.46" cy="1661.95" r="5.75" fill="#7b4f4f"/><circle cx="279.8" cy="1661.95" r="5.75" fill="#7b4f4f"/><circle cx="291.62" cy="1661.95" r="5.75" fill="#7b4f4f"/><circle cx="302.31" cy="1661.95" r="5.75" fill="#7b4f4f"/><circle cx="317.5" cy="1661.95" r="5.75" fill="#7b4f4f"/><circle cx="331.85" cy="1661.95" r="5.75" fill="#7b4f4f"/><circle cx="342.82" cy="1661.95" r="5.75" fill="#7b4f4f"/><circle cx="357.73" cy="1661.95" r="5.75" fill="#7b4f4f"/><circle cx="368.98" cy="1657.62" r="5.75" fill="#7b4f4f"/><circle cx="383.89" cy="1655.13" r="5.75" fill="#7b4f4f"/><circle cx="398.52" cy="1648" r="5.75" fill="#7b4f4f"/><circle cx="409.77" cy="1626.06" r="5.75" fill="#7b4f4f"/><circle cx="421.31" cy="1598.74" r="5.75" fill="#7b4f4f"/><circle cx="435.94" cy="1541.94" r="5.75" fill="#7b4f4f"/><circle cx="450.56" cy="1481.43" r="5.75" fill="#7b4f4f"/><circle cx="461.82" cy="1420.12" r="5.75" fill="#7b4f4f"/><circle cx="476.45" cy="1359.01" r="5.75" fill="#7b4f4f"/><circle cx="487.7" cy="1319.92" r="5.75" fill="#7b4f4f"/><circle cx="502.61" cy="1317.4" r="5.75" fill="#7b4f4f"/><circle cx="513.3" cy="1319.39" r="5.75" fill="#7b4f4f"/><circle cx="528.21" cy="1317.98" r="5.75" fill="#7b4f4f"/><circle cx="539.46" cy="1319.21" r="5.75" fill="#7b4f4f"/><circle cx="554.37" cy="1318.52" r="5.75" fill="#7b4f4f"/><circle cx="569.28" cy="1320" r="5.75" fill="#7b4f4f"/><circle cx="580.53" cy="1320.59" r="5.75" fill="#7b4f4f"/><circle cx="595.44" cy="1317.99" r="5.75" fill="#7b4f4f"/><circle cx="606.13" cy="1318.99" r="5.75" fill="#7b4f4f"/><circle cx="621.32" cy="1319.11" r="5.75" fill="#7b4f4f"/><circle cx="635.39" cy="1318.63" r="5.75" fill="#7b4f4f"/><circle cx="646.64" cy="1318.16" r="5.75" fill="#7b4f4f"/></g>
<path d="M117.77 1661.95L131.55 1340.24M131.55 1340.24L147.59 1318.13M147.59 1318.13L162.21 1319.92M162.21 1319.92L172.9 1317.69M172.9 1317.69L184.16 1318.3M184.16 1318.3L199.07 1318.37M199.07 1318.37L213.69 1319.15M213.69 1319.15L224.39 1318.55M224.39 1318.55L239.58 1319.26M239.58 1319.26L250.83 1318.26M250.83 1318.26L265.46 1319.85M265.46 1319.85L279.8 1319.14M279.8 1319.14L291.62 1319.3M291.62 1319.3L302.31 1317.51M302.31 1317.51L317.5 1318.46M317.5 1318.46L331.85 1319.37M331.85 1319.37L342.82 1317.36M342.82 1317.36L357.73 1318.84M357.73 1318.84L368.98 1318.02M368.98 1318.02L383.89 1318.92M383.89 1318.92L398.52 1318.73M398.52 1318.73L409.77 1318.24M409.77 1318.24L421.31 1318.51M421.31 1318.51L435.94 1318.91M435.94 1318.91L450.56 1317.45M450.56 1317.45L461.82 1318.36M461.82 1318.36L476.45 1318.09M476.45 1318.09L487.7 1317.33M487.7 1317.33L502.61 1320.51M502.61 1320.51L513.3 1319.33M513.3 1319.33L528.21 1319.27M528.21 1319.27L539.46 1318.31M539.46 1318.31L554.37 1319.79M554.37 1319.79L569.28 1318.16M569.28 1318.16L580.53 1318.9M580.53 1318.9L595.44 1317.95M595.44 1317.95L606.13 1319.98M606.13 1319.98L621.32 1318.04M621.32 1318.04L635.39 1318.53M635.39 1318.53L646.64 1318.78" stroke="#888800" stroke-width="1" fill="none"/>
<g><circle cx="117.77" cy="1661.95" r="5.05" fill="#fff" stroke="#888800" stroke-width="1.4"/><circle cx="131.55" cy="1340.24" r="5.05" fill="#fff" stroke="#888800" stroke-width="1.4"/><circle cx="147.59" cy="1318.13" r="5.05" fill="#fff" stroke="#888800" stroke-width="1.4"/><circle cx="162.21" cy="1319.92" r="5.05" fill="#fff" stroke="#888800" stroke-width="1.4"/><circle cx="172.9" cy="1317.69" r="5.05" fill="#fff" stroke="#888800" stroke-width="1.4"/><circle cx="184.16" cy="1318.3" r="5.05" fill="#fff" stroke="#888800" stroke-width="1.4"/><circle cx="199.07" cy="1318.37" r="5.05" fill="#fff" stroke="#888800" stroke-width="1.4"/><circle cx="213.69" cy="1319.15" r="5.05" fill="#fff" stroke="#888800" stroke-width="1.4"/><circle cx="224.39" cy="1318.55" r="5.05" fill="#fff" stroke="#888800" stroke-width="1.4"/><circle cx="239.58" cy="1319.26" r="5.05" fill="#fff" stroke="#888800" stroke-width="1.4"/><circle cx="250.83" cy="1318.26" r="5.05" fill="#fff" stroke="#888800" stroke-width="1.4"/><circle cx="265.46" cy="1319.85" r="5.05" fill="#fff" stroke="#888800" stroke-width="1.4"/><circle cx="279.8" cy="1319.14" r="5.05" fill="#fff" stroke="#888800" stroke-width="1.4"/><circle cx="291.62" cy="1319.3" r="5.05" fill="#fff" stroke="#888800" stroke-width="1.4"/><circle cx="302.31" cy="1317.51" r="5.05" fill="#fff" stroke="#888800" stroke-width="1.4"/><circle cx="317.5" cy="1318.46" r="5.05" fill="#fff" stroke="#888800" stroke-width="1.4"/><circle cx="331.85" cy="1319.37" r="5.05" fill="#fff" stroke="#888800" stroke-width="1.4"/><circle cx="342.82" cy="1317.36" r="5.05" fill="#fff" stroke="#888800" stroke-width="1.4"/><circle cx="357.73" cy="1318.84" r="5.05" fill="#fff" stroke="#888800" stroke-width="1.4"/><circle cx="368.98" cy="1318.02" r="5.05" fill="#fff" stroke="#888800" stroke-width="1.4"/><circle cx="383.89" cy="1318.92" r="5.05" fill="#fff" stroke="#888800" stroke-width="1.4"/><circle cx="398.52" cy="1318.73" r="5.05" fill="#fff" stroke="#888800" stroke-width="1.4"/><circle cx="409.77" cy="1318.24" r="5.05" fill="#fff" stroke="#888800" stroke-width="1.4"/><circle cx="421.31" cy="1318.51" r="5.05" fill="#fff" stroke="#888800" stroke-width="1.4"/><circle cx="435.94" cy="1318.91" r="5.05" fill="#fff" stroke="#888800" stroke-width="1.4"/><circle cx="450.56" cy="1317.45" r="5.05" fill="#fff" stroke="#888800" stroke-width="1.4"/><circle cx="461.82" cy="1318.36" r="5.05" fill="#fff" stroke="#888800" stroke-width="1.4"/><circle cx="476.45" cy="1318.09" r="5.05" fill="#fff" stroke="#888800" stroke-width="1.4"/><circle cx="487.7" cy="1317.33" r="5.05" fill="#fff" stroke="#888800" stroke-width="1.4"/><circle cx="502.61" cy="1320.51" r="5.05" fill="#fff" stroke="#888800" stroke-width="1.4"/><circle cx="513.3" cy="1319.33" r="5.05" fill="#fff" stroke="#888800" stroke-width="1.4"/><circle cx="528.21" cy="1319.27" r="5.05" fill="#fff" stroke="#888800" stroke-width="1.4"/><circle cx="539.46" cy="1318.31" r="5.05" fill="#fff" stroke="#888800" stroke-width="1.4"/><circle cx="554.37" cy="1319.79" r="5.05" fill="#fff" stroke="#888800" stroke-width="1.4"/><circle cx="569.28" cy="1318.16" r="5.05" fill="#fff" stroke="#888800" stroke-width="1.4"/><circle cx="580.53" cy="1318.9" r="5.05" fill="#fff" stroke="#888800" stroke-width="1.4"/><circle cx="595.44" cy="1317.95" r="5.05" fill="#fff" stroke="#888800" stroke-width="1.4"/><circle cx="606.13" cy="1319.98" r="5.05" fill="#fff" stroke="#888800" stroke-width="1.4"/><circle cx="621.32" cy="1318.04" r="5.05" fill="#fff" stroke="#888800" stroke-width="1.4"/><circle cx="635.39" cy="1318.53" r="5.05" fill="#fff" stroke="#888800" stroke-width="1.4"/><circle cx="646.64" cy="1318.78" r="5.05" fill="#fff" stroke="#888800" stroke-width="1.4"/></g>
<path d="M117.77 1661.95L131.55 1661.95M131.55 1661.95L147.59 1661.95M147.59 1661.95L162.21 1661.95M162.21 1661.95L172.9 1661.95M172.9 1661.95L184.16 1661.95M184.16 1661.95L199.07 1655.34M199.07 1655.34L213.69 1644.89M213.69 1644.89L224.39 1624.15M224.39 1624.15L239.58 1578.25M239.58 1578.25L250.83 1528.21M250.83 1528.21L265.46 1467.32M265.46 1467.32L279.8 1417.29M279.8 1417.29L291.62 1374.29M291.62 1374.29L302.31 1329.46M302.31 1329.46L317.5 1284.69M317.5 1284.69L331.85 1265.66M331.85 1265.66L342.82 1259.04M342.82 1259.04L357.73 1258.97M357.73 1258.97L368.98 1263.03M368.98 1263.03L383.89 1271.25M383.89 1271.25L398.52 1285.95M398.52 1285.95L409.77 1305.07M409.77 1305.07L421.31 1317.52M421.31 1317.52L435.94 1318.44M435.94 1318.44L450.56 1317.52M450.56 1317.52L461.82 1320.51M461.82 1320.51L476.45 1317.6" stroke="#888800" stroke-width="2" fill="none"/>
<g><circle cx="117.77" cy="1661.95" r="5.05" fill="#fff" stroke="#888800" stroke-width="1.4"/><path d="M117.77 1656.9A5.05 5.05 0 0 1 117.77 1667Z" fill="#888800"/><path d="M118.57 1658.52L118.57 1665.39L122.21 1661.95Z" fill="#fff"/><circle cx="131.55" cy="1661.95" r="5.05" fill="#fff" stroke="#888800" stroke-width="1.4"/><path d="M131.55 1656.9A5.05 5.05 0 0 1 131.55 1667Z" fill="#888800"/><path d="M132.35 1658.52L132.35 1665.39L135.99 1661.95Z" fill="#fff"/><circle cx="147.59" cy="1661.95" r="5.05" fill="#fff" stroke="#888800" stroke-width="1.4"/><path d="M147.59 1656.9A5.05 5.05 0 0 1 147.59 1667Z" fill="#888800"/><path d="M148.39 1658.52L148.39 1665.39L152.03 1661.95Z" fill="#fff"/><circle cx="162.21" cy="1661.95" r="5.05" fill="#fff" stroke="#888800" stroke-width="1.4"/><path d="M162.21 1656.9A5.05 5.05 0 0 1 162.21 1667Z" fill="#888800"/><path d="M163.01 1658.52L163.01 1665.39L166.66 1661.95Z" fill="#fff"/><circle cx="172.9" cy="1661.95" r="5.05" fill="#fff" stroke="#888800" stroke-width="1.4"/><path d="M172.9 1656.9A5.05 5.05 0 0 1 172.9 1667Z" fill="#888800"/><path d="M173.7 1658.52L173.7 1665.39L177.35 1661.95Z" fill="#fff"/><circle cx="184.16" cy="1661.95" r="5.05" fill="#fff" stroke="#888800" stroke-width="1.4"/><path d="M184.16 1656.9A5.05 5.05 0 0 1 184.16 1667Z" fill="#888800"/><path d="M184.96 1658.52L184.96 1665.39L188.6 1661.95Z" fill="#fff"/><circle cx="199.07" cy="1655.34" r="5.05" fill="#fff" stroke="#888800" stroke-width="1.4"/><path d="M199.07 1650.29A5.05 5.05 0 0 1 199.07 1660.39Z" fill="#888800"/><path d="M199.87 1651.91L199.87 1658.78L203.51 1655.34Z" fill="#fff"/><circle cx="213.69" cy="1644.89" r="5.05" fill="#fff" stroke="#888800" stroke-width="1.4"/><path d="M213.69 1639.84A5.05 5.05 0 0 1 213.69 1649.94Z" fill="#888800"/><path d="M214.49 1641.46L214.49 1648.32L218.14 1644.89Z" fill="#fff"/><circle cx="224.39" cy="1624.15" r="5.05" fill="#fff" stroke="#888800" stroke-width="1.4"/><path d="M224.39 1619.1A5.05 5.05 0 0 1 224.39 1629.2Z" fill="#888800"/><path d="M225.19 1620.72L225.19 1627.59L228.83 1624.15Z" fill="#fff"/><circle cx="239.58" cy="1578.25" r="5.05" fill="#fff" stroke="#888800" stroke-width="1.4"/><path d="M239.58 1573.2A5.05 5.05 0 0 1 239.58 1583.3Z" fill="#888800"/><path d="M240.38 1574.82L240.38 1581.68L244.02 1578.25Z" fill="#fff"/><circle cx="250.83" cy="1528.21" r="5.05" fill="#fff" stroke="#888800" stroke-width="1.4"/><path d="M250.83 1523.16A5.05 5.05 0 0 1 250.83 1533.26Z" fill="#888800"/><path d="M251.63 1524.78L251.63 1531.65L255.27 1528.21Z" fill="#fff"/><circle cx="265.46" cy="1467.32" r="5.05" fill="#fff" stroke="#888800" stroke-width="1.4"/><path d="M265.46 1462.27A5.05 5.05 0 0 1 265.46 1472.37Z" fill="#888800"/><path d="M266.26 1463.88L266.26 1470.75L269.9 1467.32Z" fill="#fff"/><circle cx="279.8" cy="1417.29" r="5.05" fill="#fff" stroke="#888800" stroke-width="1.4"/><path d="M279.8 1412.24A5.05 5.05 0 0 1 279.8 1422.34Z" fill="#888800"/><path d="M280.6 1413.85L280.6 1420.72L284.25 1417.29Z" fill="#fff"/><circle cx="291.62" cy="1374.29" r="5.05" fill="#fff" stroke="#888800" stroke-width="1.4"/><path d="M291.62 1369.24A5.05 5.05 0 0 1 291.62 1379.34Z" fill="#888800"/><path d="M292.42 1370.85L292.42 1377.72L296.06 1374.29Z" fill="#fff"/><circle cx="302.31" cy="1329.46" r="5.05" fill="#fff" stroke="#888800" stroke-width="1.4"/><path d="M302.31 1324.41A5.05 5.05 0 0 1 302.31 1334.51Z" fill="#888800"/><path d="M303.11 1326.03L303.11 1332.89L306.75 1329.46Z" fill="#fff"/><circle cx="317.5" cy="1284.69" r="5.05" fill="#fff" stroke="#888800" stroke-width="1.4"/><path d="M317.5 1279.64A5.05 5.05 0 0 1 317.5 1289.74Z" fill="#888800"/><path d="M318.3 1281.26L318.3 1288.12L321.94 1284.69Z" fill="#fff"/><circle cx="331.85" cy="1265.66" r="5.05" fill="#fff" stroke="#888800" stroke-width="1.4"/><path d="M331.85 1260.61A5.05 5.05 0 0 1 331.85 1270.71Z" fill="#888800"/><path d="M332.65 1262.22L332.65 1269.09L336.29 1265.66Z" fill="#fff"/><circle cx="342.82" cy="1259.04" r="5.05" fill="#fff" stroke="#888800" stroke-width="1.4"/><path d="M342.82 1253.99A5.05 5.05 0 0 1 342.82 1264.09Z" fill="#888800"/><path d="M343.62 1255.6L343.62 1262.47L347.26 1259.04Z" fill="#fff"/><circle cx="357.73" cy="1258.97" r="5.05" fill="#fff" stroke="#888800" stroke-width="1.4"/><path d="M357.73 1253.92A5.05 5.05 0 0 1 357.73 1264.02Z" fill="#888800"/><path d="M358.53 1255.54L358.53 1262.4L362.17 1258.97Z" fill="#fff"/><circle cx="368.98" cy="1263.03" r="5.05" fill="#fff" stroke="#888800" stroke-width="1.4"/><path d="M368.98 1257.98A5.05 5.05 0 0 1 368.98 1268.08Z" fill="#888800"/><path d="M369.78 1259.6L369.78 1266.47L373.43 1263.03Z" fill="#fff"/><circle cx="383.89" cy="1271.25" r="5.05" fill="#fff" stroke="#888800" stroke-width="1.4"/><path d="M383.89 1266.2A5.05 5.05 0 0 1 383.89 1276.3Z" fill="#888800"/><path d="M384.69 1267.82L384.69 1274.69L388.34 1271.25Z" fill="#fff"/><circle cx="398.52" cy="1285.95" r="5.05" fill="#fff" stroke="#888800" stroke-width="1.4"/><path d="M398.52 1280.9A5.05 5.05 0 0 1 398.52 1291Z" fill="#888800"/><path d="M399.32 1282.51L399.32 1289.38L402.96 1285.95Z" fill="#fff"/><circle cx="409.77" cy="1305.07" r="5.05" fill="#fff" stroke="#888800" stroke-width="1.4"/><path d="M409.77 1300.02A5.05 5.05 0 0 1 409.77 1310.12Z" fill="#888800"/><path d="M410.57 1301.63L410.57 1308.5L414.22 1305.07Z" fill="#fff"/><circle cx="421.31" cy="1317.52" r="5.05" fill="#fff" stroke="#888800" stroke-width="1.4"/><path d="M421.31 1312.47A5.05 5.05 0 0 1 421.31 1322.57Z" fill="#888800"/><path d="M422.11 1314.09L422.11 1320.95L425.75 1317.52Z" fill="#fff"/><circle cx="435.94" cy="1318.44" r="5.05" fill="#fff" stroke="#888800" stroke-width="1.4"/><path d="M435.94 1313.39A5.05 5.05 0 0 1 435.94 1323.49Z" fill="#888800"/><path d="M436.74 1315.01L436.74 1321.88L440.38 1318.44Z" fill="#fff"/><circle cx="450.56" cy="1317.52" r="5.05" fill="#fff" stroke="#888800" stroke-width="1.4"/><path d="M450.56 1312.47A5.05 5.05 0 0 1 450.56 1322.57Z" fill="#888800"/><path d="M451.36 1314.08L451.36 1320.95L455.01 1317.52Z" fill="#fff"/><circle cx="461.82" cy="1320.51" r="5.05" fill="#fff" stroke="#888800" stroke-width="1.4"/><path d="M461.82 1315.46A5.05 5.05 0 0 1 461.82 1325.56Z" fill="#888800"/><path d="M462.62 1317.07L462.62 1323.94L466.26 1320.51Z" fill="#fff"/><circle cx="476.45" cy="1317.6" r="5.05" fill="#fff" stroke="#888800" stroke-width="1.4"/><path d="M476.45 1312.55A5.05 5.05 0 0 1 476.45 1322.65Z" fill="#888800"/><path d="M477.25 1314.16L477.25 1321.03L480.89 1317.6Z" fill="#fff"/></g>
<path d="M117.77 1661.95L131.55 1661.95M131.55 1661.95L147.59 1661.95M147.59 1661.95L162.21 1661.95M162.21 1661.95L172.9 1661.95M172.9 1661.95L184.16 1661.95M184.16 1661.95L199.07 1661.95M199.07 1661.95L213.69 1661.95M213.69 1661.95L224.39 1661.95M224.39 1661.95L239.58 1661.95M239.58 1661.95L250.83 1661.95M250.83 1661.95L265.46 1661.95M265.46 1661.95L279.8 1661.95M279.8 1661.95L291.62 1661.95M291.62 1661.95L302.31 1661.95M302.31 1661.95L317.5 1661.95M317.5 1661.95L331.85 1661.95M331.85 1661.95L342.82 1661.95M342.82 1661.95L357.73 1661.95M357.73 1661.95L368.98 1657.55M368.98 1657.55L383.89 1655.12M383.89 1655.12L398.52 1647.96M398.52 1647.96L409.77 1625.92M409.77 1625.92L421.31 1598.53M421.31 1598.53L435.94 1541.5M435.94 1541.5L450.56 1480.99M450.56 1480.99L461.82 1419.6M461.82 1419.6L476.45 1358.65M476.45 1358.65L487.7 1320.91M487.7 1320.91L502.61 1318.8M502.61 1318.8L513.3 1319.9M513.3 1319.9L528.21 1319.01M528.21 1319.01L539.46 1319.1M539.46 1319.1L554.37 1319.02M554.37 1319.02L569.28 1318.85M569.28 1318.85L580.53 1320.68M580.53 1320.68L595.44 1319.1M595.44 1319.1L606.13 1318.42M606.13 1318.42L621.32 1319.42M621.32 1319.42L635.39 1317.41M635.39 1317.41L646.64 1318.52" stroke="#888800" stroke-width="2.5" fill="none"/>
<g><circle cx="117.77" cy="1661.95" r="5.75" fill="#888800"/><circle cx="131.55" cy="1661.95" r="5.75" fill="#888800"/><circle cx="147.59" cy="1661.95" r="5.75" fill="#888800"/><circle cx="162.21" cy="1661.95" r="5.75" fill="#888800"/><circle cx="172.9" cy="1661.95" r="5.75" fill="#888800"/><circle cx="184.16" cy="1661.95" r="5.75" fill="#888800"/><circle cx="199.07" cy="1661.95" r="5.75" fill="#888800"/><circle cx="213.69" cy="1661.95" r="5.75" fill="#888800"/><circle cx="224.39" cy="1661.95" r="5.75" fill="#888800"/><circle cx="239.58" cy="1661.95" r="5.75" fill="#888800"/><circle cx="250.83" cy="1661.95" r="5.75" fill="#888800"/><circle cx="265.46" cy="1661.95" r="5.75" fill="#888800"/><circle cx="279.8" cy="1661.95" r="5.75" fill="#888800"/><circle cx="291.62" cy="1661.95" r="5.75" fill="#888800"/><circle cx="302.31" cy="1661.95" r="5.75" fill="#888800"/><circle cx="317.5" cy="1661.95" r="5.75" fill="#888800"/><circle cx="331.85" cy="1661.95" r="5.75" fill="#888800"/><circle cx="342.82" cy="1661.95" r="5.75" fill="#888800"/><circle cx="357.73" cy="1661.95" r="5.75" fill="#888800"/><circle cx="368.98" cy="1657.55" r="5.75" fill="#888800"/><circle cx="383.89" cy="1655.12" r="5.75" fill="#888800"/><circle cx="398.52" cy="1647.96" r="5.75" fill="#888800"/><circle cx="409.77" cy="1625.92" r="5.75" fill="#888800"/><circle cx="421.31" cy="1598.53" r="5.75" fill="#888800"/><circle cx="435.94" cy="1541.5" r="5.75" fill="#888800"/><circle cx="450.56" cy="1480.99" r="5.75" fill="#888800"/><circle cx="461.82" cy="1419.6" r="5.75" fill="#888800"/><circle cx="476.45" cy="1358.65" r="5.75" fill="#888800"/><circle cx="487.7" cy="1320.91" r="5.75" fill="#888800"/><circle cx="502.61" cy="1318.8" r="5.75" fill="#888800"/><circle cx="513.3" cy="1319.9" r="5.75" fill="#888800"/><circle cx="528.21" cy="1319.01" r="5.75" fill="#888800"/><circle cx="539.46" cy="1319.1" r="5.75" fill="#888800"/><circle cx="554.37" cy="1319.02" r="5.75" fill="#888800"/><circle cx="569.28" cy="1318.85" r="5.75" fill="#888800"/><circle cx="580.53" cy="1320.68" r="5.75" fill="#888800"/><circle cx="595.44" cy="1319.1" r="5.75" fill="#888800"/><circle cx="606.13" cy="1318.42" r="5.75" fill="#888800"/><circle cx="621.32" cy="1319.42" r="5.75" fill="#888800"/><circle cx="635.39" cy="1317.41" r="5.75" fill="#888800"/><circle cx="646.64" cy="1318.52" r="5.75" fill="#888800"/></g>
<path d="M117.77 1661.95L131.55 1339.57M131.55 1339.57L147.59 1318.99M147.59 1318.99L162.21 1318.99M162.21 1318.99L172.9 1318.99M172.9 1318.99L184.16 1318.99M184.16 1318.99L199.07 1318.99M199.07 1318.99L213.69 1318.99M213.69 1318.99L224.39 1318.99M224.39 1318.99L239.58 1318.99M239.58 1318.99L250.83 1318.99M250.83 1318.99L265.46 1318.99M265.46 1318.99L279.8 1318.99M279.8 1318.99L291.62 1318.99M291.62 1318.99L302.31 1318.99M302.31 1318.99L317.5 1318.99M317.5 1318.99L331.85 1318.99M331.85 1318.99L342.82 1318.99M342.82 1318.99L357.73 1318.99M357.73 1318.99L368.98 1318.99M368.98 1318.99L383.89 1318.99M383.89 1318.99L398.52 1318.99M398.52 1318.99L409.77 1318.99M409.77 1318.99L421.31 1318.99M421.31 1318.99L435.94 1318.99M435.94 1318.99L450.56 1318.99M450.56 1318.99L461.82 1318.99M461.82 1318.99L476.45 1318.99M476.45 1318.99L487.7 1318.99M487.7 1318.99L502.61 1318.99M502.61 1318.99L513.3 1318.99M513.3 1318.99L528.21 1318.99M528.21 1318.99L539.46 1318.99M539.46 1318.99L554.37 1318.99M554.37 1318.99L569.28 1318.99M569.28 1318.99L580.53 1318.99M580.53 1318.99L595.44 1318.99M595.44 1318.99L606.13 1318.99M606.13 1318.99L621.32 1318.99M621.32 1318.99L635.39 1318.99M635.39 1318.99L646.64 1318.99" stroke="#ff6600" stroke-width="1" fill="none"/>
<g><circle cx="117.77" cy="1661.95" r="5.05" fill="#fff" stroke="#ff6600" stroke-width="1.4"/><circle cx="131.55" cy="1339.57" r="5.05" fill="#fff" stroke="#ff6600" stroke-width="1.4"/><circle cx="147.59" cy="1318.99" r="5.05" fill="#fff" stroke="#ff6600" stroke-width="1.4"/><circle cx="162.21" cy="1318.99" r="5.05" fill="#fff" stroke="#ff6600" stroke-width="1.4"/><circle cx="172.9" cy="1318.99" r="5.05" fill="#fff" stroke="#ff6600" stroke-width="1.4"/><circle cx="184.16" cy="1318.99" r="5.05" fill="#fff" stroke="#ff6600" stroke-width="1.4"/><circle cx="199.07" cy="1318.99" r="5.05" fill="#fff" stroke="#ff6600" stroke-width="1.4"/><circle cx="213.69" cy="1318.99" r="5.05" fill="#fff" stroke="#ff6600" stroke-width="1.4"/><circle cx="224.39" cy="1318.99" r="5.05" fill="#fff" stroke="#ff6600" stroke-width="1.4"/><circle cx="239.58" cy="1318.99" r="5.05" fill="#fff" stroke="#ff6600" stroke-width="1.4"/><circle cx="250.83" cy="1318.99" r="5.05" fill="#fff" stroke="#ff6600" stroke-width="1.4"/><circle cx="265.46" cy="1318.99" r="5.05" fill="#fff" stroke="#ff6600" stroke-width="1.4"/><circle cx="279.8" cy="1318.99" r="5.05" fill="#fff" stroke="#ff6600" stroke-width="1.4"/><circle cx="291.62" cy="1318.99" r="5.05" fill="#fff" stroke="#ff6600" stroke-width="1.4"/><circle cx="302.31" cy="1318.99" r="5.05" fill="#fff" stroke="#ff6600" stroke-width="1.4"/><circle cx="317.5" cy="1318.99" r="5.05" fill="#fff" stroke="#ff6600" stroke-width="1.4"/><circle cx="331.85" cy="1318.99" r="5.05" fill="#fff" stroke="#ff6600" stroke-width="1.4"/><circle cx="342.82" cy="1318.99" r="5.05" fill="#fff" stroke="#ff6600" stroke-width="1.4"/><circle cx="357.73" cy="1318.99" r="5.05" fill="#fff" stroke="#ff6600" stroke-width="1.4"/><circle cx="368.98" cy="1318.99" r="5.05" fill="#fff" stroke="#ff6600" stroke-width="1.4"/><circle cx="383.89" cy="1318.99" r="5.05" fill="#fff" stroke="#ff6600" stroke-width="1.4"/><circle cx="398.52" cy="1318.99" r="5.05" fill="#fff" stroke="#ff6600" stroke-width="1.4"/><circle cx="409.77" cy="1318.99" r="5.05" fill="#fff" stroke="#ff6600" stroke-width="1.4"/><circle cx="421.31" cy="1318.99" r="5.05" fill="#fff" stroke="#ff6600" stroke-width="1.4"/><circle cx="435.94" cy="1318.99" r="5.05" fill="#fff" stroke="#ff6600" stroke-width="1.4"/><circle cx="450.56" cy="1318.99" r="5.05" fill="#fff" stroke="#ff6600" stroke-width="1.4"/><circle cx="461.82" cy="1318.99" r="5.05" fill="#fff" stroke="#ff6600" stroke-width="1.4"/><circle cx="476.45" cy="1318.99" r="5.05" fill="#fff" stroke="#ff6600" stroke-width="1.4"/><circle cx="487.7" cy="1318.99" r="5.05" fill="#fff" stroke="#ff6600" stroke-width="1.4"/><circle cx="502.61" cy="1318.99" r="5.05" fill="#fff" stroke="#ff6600" stroke-width="1.4"/><circle cx="513.3" cy="1318.99" r="5.05" fill="#fff" stroke="#ff6600" stroke-width="1.4"/><circle cx="528.21" cy="1318.99" r="5.05" fill="#fff" stroke="#ff6600" stroke-width="1.4"/><circle cx="539.46" cy="1318.99" r="5.05" fill="#fff" stroke="#ff6600" stroke-width="1.4"/><circle cx="554.37" cy="1318.99" r="5.05" fill="#fff" stroke="#ff6600" stroke-width="1.4"/><circle cx="569.28" cy="1318.99" r="5.05" fill="#fff" stroke="#ff6600" stroke-width="1.4"/><circle cx="580.53" cy="1318.99" r="5.05" fill="#fff" stroke="#ff6600" stroke-width="1.4"/><circle cx="595.44" cy="1318.99" r="5.05" fill="#fff" stroke="#ff6600" stroke-width="1.4"/><circle cx="606.13" cy="1318.99" r="5.05" fill="#fff" stroke="#ff6600" stroke-width="1.4"/><circle cx="621.32" cy="1318.99" r="5.05" fill="#fff" stroke="#ff6600" stroke-width="1.4"/><circle cx="635.39" cy="1318.99" r="5.05" fill="#fff" stroke="#ff6600" stroke-width="1.4"/><circle cx="646.64" cy="1318.99" r="5.05" fill="#fff" stroke="#ff6600" stroke-width="1.4"/></g>
<path d="M117.77 1661.95L131.55 1661.95M131.55 1661.95L147.59 1661.95M147.59 1661.95L162.21 1661.95M162.21 1661.95L172.9 1661.95M172.9 1661.95L184.16 1661.95M184.16 1661.95L199.07 1655.26M199.07 1655.26L213.69 1644.8M213.69 1644.8L224.39 1623.88M224.39 1623.88L239.58 1577.93M239.58 1577.93L250.83 1527.51M250.83 1527.51L265.46 1466.81M265.46 1466.81L279.8 1416.73M279.8 1416.73L291.62 1373.86M291.62 1373.86L302.31 1328.93M302.31 1328.93L317.5 1284.35M317.5 1284.35L331.85 1265.49M331.85 1265.49L342.82 1258.97M342.82 1258.97L357.73 1258.97M357.73 1258.97L368.98 1263.09M368.98 1263.09L383.89 1271.32M383.89 1271.32L398.52 1286.06M398.52 1286.06L409.77 1305.27M409.77 1305.27L421.31 1317.27M421.31 1317.27L435.94 1318.99M435.94 1318.99L450.56 1318.99M450.56 1318.99L461.82 1318.99M461.82 1318.99L476.45 1318.99" stroke="#ff6600" stroke-width="2" fill="none"/>
<g><circle cx="117.77" cy="1661.95" r="5.05" fill="#fff" stroke="#ff6600" stroke-width="1.4"/><path d="M117.77 1656.9A5.05 5.05 0 0 1 117.77 1667Z" fill="#ff6600"/><path d="M118.57 1658.52L118.57 1665.39L122.21 1661.95Z" fill="#fff"/><circle cx="131.55" cy="1661.95" r="5.05" fill="#fff" stroke="#ff6600" stroke-width="1.4"/><path d="M131.55 1656.9A5.05 5.05 0 0 1 131.55 1667Z" fill="#ff6600"/><path d="M132.35 1658.52L132.35 1665.39L135.99 1661.95Z" fill="#fff"/><circle cx="147.59" cy="1661.95" r="5.05" fill="#fff" stroke="#ff6600" stroke-width="1.4"/><path d="M147.59 1656.9A5.05 5.05 0 0 1 147.59 1667Z" fill="#ff6600"/><path d="M148.39 1658.52L148.39 1665.39L152.03 1661.95Z" fill="#fff"/><circle cx="162.21" cy="1661.95" r="5.05" fill="#fff" stroke="#ff6600" stroke-width="1.4"/><path d="M162.21 1656.9A5.05 5.05 0 0 1 162.21 1667Z" fill="#ff6600"/><path d="M163.01 1658.52L163.01 1665.39L166.66 1661.95Z" fill="#fff"/><circle cx="172.9" cy="1661.95" r="5.05" fill="#fff" stroke="#ff6600" stroke-width="1.4"/><path d="M172.9 1656.9A5.05 5.05 0 0 1 172.9 1667Z" fill="#ff6600"/><path d="M173.7 1658.52L173.7 1665.39L177.35 1661.95Z" fill="#fff"/><circle cx="184.16" cy="1661.95" r="5.05" fill="#fff" stroke="#ff6600" stroke-width="1.4"/><path d="M184.16 1656.9A5.05 5.05 0 0 1 184.16 1667Z" fill="#ff6600"/><path d="M184.96 1658.52L184.96 1665.39L188.6 1661.95Z" fill="#fff"/><circle cx="199.07" cy="1655.26" r="5.05" fill="#fff" stroke="#ff6600" stroke-width="1.4"/><path d="M199.07 1650.21A5.05 5.05 0 0 1 199.07 1660.31Z" fill="#ff6600"/><path d="M199.87 1651.83L199.87 1658.7L203.51 1655.26Z" fill="#fff"/><circle cx="213.69" cy="1644.8" r="5.05" fill="#fff" stroke="#ff6600" stroke-width="1.4"/><path d="M213.69 1639.75A5.05 5.05 0 0 1 213.69 1649.85Z" fill="#ff6600"/><path d="M214.49 1641.37L214.49 1648.24L218.14 1644.8Z" fill="#fff"/><circle cx="224.39" cy="1623.88" r="5.05" fill="#fff" stroke="#ff6600" stroke-width="1.4"/><path d="M224.39 1618.83A5.05 5.05 0 0 1 224.39 1628.93Z" fill="#ff6600"/><path d="M225.19 1620.45L225.19 1627.32L228.83 1623.88Z" fill="#fff"/><circle cx="239.58" cy="1577.93" r="5.05" fill="#fff" stroke="#ff6600" stroke-width="1.4"/><path d="M239.58 1572.88A5.05 5.05 0 0 1 239.58 1582.98Z" fill="#ff6600"/><path d="M240.38 1574.49L240.38 1581.36L244.02 1577.93Z" fill="#fff"/><circle cx="250.83" cy="1527.51" r="5.05" fill="#fff" stroke="#ff6600" stroke-width="1.4"/><path d="M250.83 1522.46A5.05 5.05 0 0 1 250.83 1532.56Z" fill="#ff6600"/><path d="M251.63 1524.08L251.63 1530.94L255.27 1527.51Z" fill="#fff"/><circle cx="265.46" cy="1466.81" r="5.05" fill="#fff" stroke="#ff6600" stroke-width="1.4"/><path d="M265.46 1461.76A5.05 5.05 0 0 1 265.46 1471.86Z" fill="#ff6600"/><path d="M266.26 1463.37L266.26 1470.24L269.9 1466.81Z" fill="#fff"/><circle cx="279.8" cy="1416.73" r="5.05" fill="#fff" stroke="#ff6600" stroke-width="1.4"/><path d="M279.8 1411.68A5.05 5.05 0 0 1 279.8 1421.78Z" fill="#ff6600"/><path d="M280.6 1413.3L280.6 1420.17L284.25 1416.73Z" fill="#fff"/><circle cx="291.62" cy="1373.86" r="5.05" fill="#fff" stroke="#ff6600" stroke-width="1.4"/><path d="M291.62 1368.81A5.05 5.05 0 0 1 291.62 1378.91Z" fill="#ff6600"/><path d="M292.42 1370.43L292.42 1377.3L296.06 1373.86Z" fill="#fff"/><circle cx="302.31" cy="1328.93" r="5.05" fill="#fff" stroke="#ff6600" stroke-width="1.4"/><path d="M302.31 1323.88A5.05 5.05 0 0 1 302.31 1333.98Z" fill="#ff6600"/><path d="M303.11 1325.5L303.11 1332.37L306.75 1328.93Z" fill="#fff"/><circle cx="317.5" cy="1284.35" r="5.05" fill="#fff" stroke="#ff6600" stroke-width="1.4"/><path d="M317.5 1279.3A5.05 5.05 0 0 1 317.5 1289.4Z" fill="#ff6600"/><path d="M318.3 1280.92L318.3 1287.78L321.94 1284.35Z" fill="#fff"/><circle cx="331.85" cy="1265.49" r="5.05" fill="#fff" stroke="#ff6600" stroke-width="1.4"/><path d="M331.85 1260.44A5.05 5.05 0 0 1 331.85 1270.54Z" fill="#ff6600"/><path d="M332.65 1262.05L332.65 1268.92L336.29 1265.49Z" fill="#fff"/><circle cx="342.82" cy="1258.97" r="5.05" fill="#fff" stroke="#ff6600" stroke-width="1.4"/><path d="M342.82 1253.92A5.05 5.05 0 0 1 342.82 1264.02Z" fill="#ff6600"/><path d="M343.62 1255.54L343.62 1262.4L347.26 1258.97Z" fill="#fff"/><circle cx="357.73" cy="1258.97" r="5.05" fill="#fff" stroke="#ff6600" stroke-width="1.4"/><path d="M357.73 1253.92A5.05 5.05 0 0 1 357.73 1264.02Z" fill="#ff6600"/><path d="M358.53 1255.54L358.53 1262.4L362.17 1258.97Z" fill="#fff"/><circle cx="368.98" cy="1263.09" r="5.05" fill="#fff" stroke="#ff6600" stroke-width="1.4"/><path d="M368.98 1258.04A5.05 5.05 0 0 1 368.98 1268.14Z" fill="#ff6600"/><path d="M369.78 1259.65L369.78 1266.52L373.43 1263.09Z" fill="#fff"/><circle cx="383.89" cy="1271.32" r="5.05" fill="#fff" stroke="#ff6600" stroke-width="1.4"/><path d="M383.89 1266.27A5.05 5.05 0 0 1 383.89 1276.37Z" fill="#ff6600"/><path d="M384.69 1267.88L384.69 1274.75L388.34 1271.32Z" fill="#fff"/><circle cx="398.52" cy="1286.06" r="5.05" fill="#fff" stroke="#ff6600" stroke-width="1.4"/><path d="M398.52 1281.01A5.05 5.05 0 0 1 398.52 1291.11Z" fill="#ff6600"/><path d="M399.32 1282.63L399.32 1289.5L402.96 1286.06Z" fill="#fff"/><circle cx="409.77" cy="1305.27" r="5.05" fill="#fff" stroke="#ff6600" stroke-width="1.4"/><path d="M409.77 1300.22A5.05 5.05 0 0 1 409.77 1310.32Z" fill="#ff6600"/><path d="M410.57 1301.84L410.57 1308.7L414.22 1305.27Z" fill="#fff"/><circle cx="421.31" cy="1317.27" r="5.05" fill="#fff" stroke="#ff6600" stroke-width="1.4"/><path d="M421.31 1312.22A5.05 5.05 0 0 1 421.31 1322.32Z" fill="#ff6600"/><path d="M422.11 1313.84L422.11 1320.71L425.75 1317.27Z" fill="#fff"/><circle cx="435.94" cy="1318.99" r="5.05" fill="#fff" stroke="#ff6600" stroke-width="1.4"/><path d="M435.94 1313.94A5.05 5.05 0 0 1 435.94 1324.04Z" fill="#ff6600"/><path d="M436.74 1315.55L436.74 1322.42L440.38 1318.99Z" fill="#fff"/><circle cx="450.56" cy="1318.99" r="5.05" fill="#fff" stroke="#ff6600" stroke-width="1.4"/><path d="M450.56 1313.94A5.05 5.05 0 0 1 450.56 1324.04Z" fill="#ff6600"/><path d="M451.36 1315.55L451.36 1322.42L455.01 1318.99Z" fill="#fff"/><circle cx="461.82" cy="1318.99" r="5.05" fill="#fff" stroke="#ff6600" stroke-width="1.4"/><path d="M461.82 1313.94A5.05 5.05 0 0 1 461.82 1324.04Z" fill="#ff6600"/><path d="M462.62 1315.55L462.62 1322.42L466.26 1318.99Z" fill="#fff"/><circle cx="476.45" cy="1318.99" r="5.05" fill="#fff" stroke="#ff6600" stroke-width="1.4"/><path d="M476.45 1313.94A5.05 5.05 0 0 1 476.45 1324.04Z" fill="#ff6600"/><path d="M477.25 1315.55L477.25 1322.42L480.89 1318.99Z" fill="#fff"/></g>
<path d="M117.77 1661.95L131.55 1661.95M131.55 1661.95L147.59 1661.95M147.59 1661.95L162.21 1661.95M162.21 1661.95L172.9 1661.95M172.9 1661.95L184.16 1661.95M184.16 1661.95L199.07 1661.95M199.07 1661.95L213.69 1661.95M213.69 1661.95L224.39 1661.95M224.39 1661.95L239.58 1661.95M239.58 1661.95L250.83 1661.95M250.83 1661.95L265.46 1661.95M265.46 1661.95L279.8 1661.95M279.8 1661.95L291.62 1661.95M291.62 1661.95L302.31 1661.95M302.31 1661.95L317.5 1661.95M317.5 1661.95L331.85 1661.95M331.85 1661.95L342.82 1661.95M342.82 1661.95L357.73 1661.95M357.73 1661.95L368.98 1657.49M368.98 1657.49L383.89 1655.09M383.89 1655.09L398.52 1647.89M398.52 1647.89L409.77 1625.6M409.77 1625.6L421.31 1598.16M421.31 1598.16L435.94 1540.89M435.94 1540.89L450.56 1480.52M450.56 1480.52L461.82 1418.79M461.82 1418.79L476.45 1358.09M476.45 1358.09L487.7 1320.7M487.7 1320.7L502.61 1318.99M502.61 1318.99L513.3 1318.99M513.3 1318.99L528.21 1318.99M528.21 1318.99L539.46 1318.99M539.46 1318.99L554.37 1318.99M554.37 1318.99L569.28 1318.99M569.28 1318.99L580.53 1318.99M580.53 1318.99L595.44 1318.99M595.44 1318.99L606.13 1318.99M606.13 1318.99L621.32 1318.99M621.32 1318.99L635.39 1318.99M635.39 1318.99L646.64 1318.99" stroke="#ff6600" stroke-width="2.5" fill="none"/>
<g><circle cx="117.77" cy="1661.95" r="5.75" fill="#ff6600"/><circle cx="131.55" cy="1661.95" r="5.75" fill="#ff6600"/><circle cx="147.59" cy="1661.95" r="5.75" fill="#ff6600"/><circle cx="162.21" cy="1661.95" r="5.75" fill="#ff6600"/><circle cx="172.9" cy="1661.95" r="5.75" fill="#ff6600"/><circle cx="184.16" cy="1661.95" r="5.75" fill="#ff6600"/><circle cx="199.07" cy="1661.95" r="5.75" fill="#ff6600"/><circle cx="213.69" cy="1661.95" r="5.75" fill="#ff6600"/><circle cx="224.39" cy="1661.95" r="5.75" fill="#ff6600"/><circle cx="239.58" cy="1661.95" r="5.75" fill="#ff6600"/><circle cx="250.83" cy="1661.95" r="5.75" fill="#ff6600"/><circle cx="265.46" cy="1661.95" r="5.75" fill="#ff6600"/><circle cx="279.8" cy="1661.95" r="5.75" fill="#ff6600"/><circle cx="291.62" cy="1661.95" r="5.75" fill="#ff6600"/><circle cx="302.31" cy="1661.95" r="5.75" fill="#ff6600"/><circle cx="317.5" cy="1661.95" r="5.75" fill="#ff6600"/><circle cx="331.85" cy="1661.95" r="5.75" fill="#ff6600"/><circle cx="342.82" cy="1661.95" r="5.75" fill="#ff6600"/><circle cx="357.73" cy="1661.95" r="5.75" fill="#ff6600"/><circle cx="368.98" cy="1657.49" r="5.75" fill="#ff6600"/><circle cx="383.89" cy="1655.09" r="5.75" fill="#ff6600"/><circle cx="398.52" cy="1647.89" r="5.75" fill="#ff6600"/><circle cx="409.77" cy="1625.6" r="5.75" fill="#ff6600"/><circle cx="421.31" cy="1598.16" r="5.75" fill="#ff6600"/><circle cx="435.94" cy="1540.89" r="5.75" fill="#ff6600"/><circle cx="450.56" cy="1480.52" r="5.75" fill="#ff6600"/><circle cx="461.82" cy="1418.79" r="5.75" fill="#ff6600"/><circle cx="476.45" cy="1358.09" r="5.75" fill="#ff6600"/><circle cx="487.7" cy="1320.7" r="5.75" fill="#ff6600"/><circle cx="502.61" cy="1318.99" r="5.75" fill="#ff6600"/><circle cx="513.3" cy="1318.99" r="5.75" fill="#ff6600"/><circle cx="528.21" cy="1318.99" r="5.75" fill="#ff6600"/><circle cx="539.46" cy="1318.99" r="5.75" fill="#ff6600"/><circle cx="554.37" cy="1318.99" r="5.75" fill="#ff6600"/><circle cx="569.28" cy="1318.99" r="5.75" fill="#ff6600"/><circle cx="580.53" cy="1318.99" r="5.75" fill="#ff6600"/><circle cx="595.44" cy="1318.99" r="5.75" fill="#ff6600"/><circle cx="606.13" cy="1318.99" r="5.75" fill="#ff6600"/><circle cx="621.32" cy="1318.99" r="5.75" fill="#ff6600"/><circle cx="635.39" cy="1318.99" r="5.75" fill="#ff6600"/><circle cx="646.64" cy="1318.99" r="5.75" fill="#ff6600"/></g>
<text x="110.8" y="1243.6" font-size="24" text-anchor="start" fill="#000"><tspan>CH</tspan><tspan dy="6.2" font-size="16">4</tspan><tspan dy="-6.2">: C</tspan><tspan dy="6.2" font-size="16">2</tspan><tspan dy="-6.2">H</tspan><tspan dy="6.2" font-size="16">6</tspan><tspan dy="-6.2">: C</tspan><tspan dy="6.2" font-size="16">3</tspan><tspan dy="-6.2">H</tspan><tspan dy="6.2" font-size="16">8</tspan><tspan dy="-6.2">=85:10:5</tspan></text>
<text x="139" y="1477.5" font-size="24" text-anchor="start" fill="#000"><tspan>CH</tspan><tspan dy="6.2" font-size="16">4</tspan></text>
<text x="274.7" y="1480.2" font-size="24" text-anchor="start" fill="#000"><tspan>C</tspan><tspan dy="6.2" font-size="16">2</tspan><tspan dy="-6.2">H</tspan><tspan dy="6.2" font-size="16">6</tspan></text>
<text x="381" y="1478.5" font-size="24" text-anchor="start" fill="#000"><tspan>C</tspan><tspan dy="6.2" font-size="16">3</tspan><tspan dy="-6.2">H</tspan><tspan dy="6.2" font-size="16">8</tspan></text>
<text x="484.3" y="1378" font-size="24" text-anchor="start" fill="#000"><tspan>CH</tspan><tspan dy="6.2" font-size="16">4</tspan></text>
<text x="537.3" y="1378" font-size="24" text-anchor="start" fill="#000"><tspan>C</tspan><tspan dy="6.2" font-size="16">2</tspan><tspan dy="-6.2">H</tspan><tspan dy="6.2" font-size="16">6</tspan></text>
<text x="597.3" y="1378" font-size="24" text-anchor="start" fill="#000"><tspan>C</tspan><tspan dy="6.2" font-size="16">3</tspan><tspan dy="-6.2">H</tspan><tspan dy="6.2" font-size="16">8</tspan></text>
<path d="M474.1 1396.7H495.5M507 1396.7H528.4" stroke="#4d4d4d" stroke-width="1"/>
<circle cx="501.25" cy="1396.7" r="5.1" fill="#fff" stroke="#4d4d4d" stroke-width="1.3"/>
<path d="M532.5 1396.7H554M565.5 1396.7H587" stroke="#4d4d4d" stroke-width="1.2"/>
<circle cx="559.75" cy="1396.7" r="5.1" fill="#fff" stroke="#4d4d4d" stroke-width="1.3"/><path d="M559.75 1391.6A5.1 5.1 0 0 1 559.75 1401.8Z" fill="#4d4d4d"/><path d="M560.55 1393.23L560.55 1400.17L564.24 1396.7Z" fill="#fff"/>
<path d="M591.1 1396.7H613.4M624.4 1396.7H646.7" stroke="#4d4d4d" stroke-width="2"/>
<circle cx="618.9" cy="1396.7" r="5.5" fill="#4d4d4d"/>
<text x="652.1" y="1405.1" font-size="24" text-anchor="start" fill="#000"><tspan>1</tspan></text>
<path d="M474.1 1426.34H495.5M507 1426.34H528.4" stroke="#ef3e46" stroke-width="1"/>
<circle cx="501.25" cy="1426.34" r="5.1" fill="#fff" stroke="#ef3e46" stroke-width="1.3"/>
<path d="M532.5 1426.34H554M565.5 1426.34H587" stroke="#ef3e46" stroke-width="1.2"/>
<circle cx="559.75" cy="1426.34" r="5.1" fill="#fff" stroke="#ef3e46" stroke-width="1.3"/><path d="M559.75 1421.24A5.1 5.1 0 0 1 559.75 1431.44Z" fill="#ef3e46"/><path d="M560.55 1422.87L560.55 1429.81L564.24 1426.34Z" fill="#fff"/>
<path d="M591.1 1426.34H613.4M624.4 1426.34H646.7" stroke="#ef3e46" stroke-width="2"/>
<circle cx="618.9" cy="1426.34" r="5.5" fill="#ef3e46"/>
<text x="652.1" y="1434.74" font-size="24" text-anchor="start" fill="#000"><tspan>2</tspan></text>
<path d="M474.1 1455.98H495.5M507 1455.98H528.4" stroke="#1a6ce4" stroke-width="1"/>
<circle cx="501.25" cy="1455.98" r="5.1" fill="#fff" stroke="#1a6ce4" stroke-width="1.3"/>
<path d="M532.5 1455.98H554M565.5 1455.98H587" stroke="#1a6ce4" stroke-width="1.2"/>
<circle cx="559.75" cy="1455.98" r="5.1" fill="#fff" stroke="#1a6ce4" stroke-width="1.3"/><path d="M559.75 1450.88A5.1 5.1 0 0 1 559.75 1461.08Z" fill="#1a6ce4"/><path d="M560.55 1452.51L560.55 1459.45L564.24 1455.98Z" fill="#fff"/>
<path d="M591.1 1455.98H613.4M624.4 1455.98H646.7" stroke="#1a6ce4" stroke-width="2"/>
<circle cx="618.9" cy="1455.98" r="5.5" fill="#1a6ce4"/>
<text x="652.1" y="1464.38" font-size="24" text-anchor="start" fill="#000"><tspan>3</tspan></text>
<path d="M474.1 1485.62H495.5M507 1485.62H528.4" stroke="#39a96b" stroke-width="1"/>
<circle cx="501.25" cy="1485.62" r="5.1" fill="#fff" stroke="#39a96b" stroke-width="1.3"/>
<path d="M532.5 1485.62H554M565.5 1485.62H587" stroke="#39a96b" stroke-width="1.2"/>
<circle cx="559.75" cy="1485.62" r="5.1" fill="#fff" stroke="#39a96b" stroke-width="1.3"/><path d="M559.75 1480.52A5.1 5.1 0 0 1 559.75 1490.72Z" fill="#39a96b"/><path d="M560.55 1482.15L560.55 1489.09L564.24 1485.62Z" fill="#fff"/>
<path d="M591.1 1485.62H613.4M624.4 1485.62H646.7" stroke="#39a96b" stroke-width="2"/>
<circle cx="618.9" cy="1485.62" r="5.5" fill="#39a96b"/>
<text x="652.1" y="1494.02" font-size="24" text-anchor="start" fill="#000"><tspan>4</tspan></text>
<path d="M474.1 1515.26H495.5M507 1515.26H528.4" stroke="#aa7ee0" stroke-width="1"/>
<circle cx="501.25" cy="1515.26" r="5.1" fill="#fff" stroke="#aa7ee0" stroke-width="1.3"/>
<path d="M532.5 1515.26H554M565.5 1515.26H587" stroke="#aa7ee0" stroke-width="1.2"/>
<circle cx="559.75" cy="1515.26" r="5.1" fill="#fff" stroke="#aa7ee0" stroke-width="1.3"/><path d="M559.75 1510.16A5.1 5.1 0 0 1 559.75 1520.36Z" fill="#aa7ee0"/><path d="M560.55 1511.79L560.55 1518.73L564.24 1515.26Z" fill="#fff"/>
<path d="M591.1 1515.26H613.4M624.4 1515.26H646.7" stroke="#aa7ee0" stroke-width="2"/>
<circle cx="618.9" cy="1515.26" r="5.5" fill="#aa7ee0"/>
<text x="652.1" y="1523.66" font-size="24" text-anchor="start" fill="#000"><tspan>5</tspan></text>
<path d="M474.1 1544.9H495.5M507 1544.9H528.4" stroke="#d09c0a" stroke-width="1"/>
<circle cx="501.25" cy="1544.9" r="5.1" fill="#fff" stroke="#d09c0a" stroke-width="1.3"/>
<path d="M532.5 1544.9H554M565.5 1544.9H587" stroke="#d09c0a" stroke-width="1.2"/>
<circle cx="559.75" cy="1544.9" r="5.1" fill="#fff" stroke="#d09c0a" stroke-width="1.3"/><path d="M559.75 1539.8A5.1 5.1 0 0 1 559.75 1550Z" fill="#d09c0a"/><path d="M560.55 1541.43L560.55 1548.37L564.24 1544.9Z" fill="#fff"/>
<path d="M591.1 1544.9H613.4M624.4 1544.9H646.7" stroke="#d09c0a" stroke-width="2"/>
<circle cx="618.9" cy="1544.9" r="5.5" fill="#d09c0a"/>
<text x="652.1" y="1553.3" font-size="24" text-anchor="start" fill="#000"><tspan>6</tspan></text>
<path d="M474.1 1574.54H495.5M507 1574.54H528.4" stroke="#0ec9c9" stroke-width="1"/>
<circle cx="501.25" cy="1574.54" r="5.1" fill="#fff" stroke="#0ec9c9" stroke-width="1.3"/>
<path d="M532.5 1574.54H554M565.5 1574.54H587" stroke="#0ec9c9" stroke-width="1.2"/>
<circle cx="559.75" cy="1574.54" r="5.1" fill="#fff" stroke="#0ec9c9" stroke-width="1.3"/><path d="M559.75 1569.44A5.1 5.1 0 0 1 559.75 1579.64Z" fill="#0ec9c9"/><path d="M560.55 1571.07L560.55 1578.01L564.24 1574.54Z" fill="#fff"/>
<path d="M591.1 1574.54H613.4M624.4 1574.54H646.7" stroke="#0ec9c9" stroke-width="2"/>
<circle cx="618.9" cy="1574.54" r="5.5" fill="#0ec9c9"/>
<text x="652.1" y="1582.94" font-size="24" text-anchor="start" fill="#000"><tspan>7</tspan></text>
<path d="M474.1 1604.18H495.5M507 1604.18H528.4" stroke="#7b4f4f" stroke-width="1"/>
<circle cx="501.25" cy="1604.18" r="5.1" fill="#fff" stroke="#7b4f4f" stroke-width="1.3"/>
<path d="M532.5 1604.18H554M565.5 1604.18H587" stroke="#7b4f4f" stroke-width="1.2"/>
<circle cx="559.75" cy="1604.18" r="5.1" fill="#fff" stroke="#7b4f4f" stroke-width="1.3"/><path d="M559.75 1599.08A5.1 5.1 0 0 1 559.75 1609.28Z" fill="#7b4f4f"/><path d="M560.55 1600.71L560.55 1607.65L564.24 1604.18Z" fill="#fff"/>
<path d="M591.1 1604.18H613.4M624.4 1604.18H646.7" stroke="#7b4f4f" stroke-width="2"/>
<circle cx="618.9" cy="1604.18" r="5.5" fill="#7b4f4f"/>
<text x="652.1" y="1612.58" font-size="24" text-anchor="start" fill="#000"><tspan>8</tspan></text>
<path d="M474.1 1633.82H495.5M507 1633.82H528.4" stroke="#888800" stroke-width="1"/>
<circle cx="501.25" cy="1633.82" r="5.1" fill="#fff" stroke="#888800" stroke-width="1.3"/>
<path d="M532.5 1633.82H554M565.5 1633.82H587" stroke="#888800" stroke-width="1.2"/>
<circle cx="559.75" cy="1633.82" r="5.1" fill="#fff" stroke="#888800" stroke-width="1.3"/><path d="M559.75 1628.72A5.1 5.1 0 0 1 559.75 1638.92Z" fill="#888800"/><path d="M560.55 1630.35L560.55 1637.29L564.24 1633.82Z" fill="#fff"/>
<path d="M591.1 1633.82H613.4M624.4 1633.82H646.7" stroke="#888800" stroke-width="2"/>
<circle cx="618.9" cy="1633.82" r="5.5" fill="#888800"/>
<text x="652.1" y="1642.22" font-size="24" text-anchor="start" fill="#000"><tspan>9</tspan></text>
<path d="M474.1 1663.46H495.5M507 1663.46H528.4" stroke="#ff6600" stroke-width="1"/>
<circle cx="501.25" cy="1663.46" r="5.1" fill="#fff" stroke="#ff6600" stroke-width="1.3"/>
<path d="M532.5 1663.46H554M565.5 1663.46H587" stroke="#ff6600" stroke-width="1.2"/>
<circle cx="559.75" cy="1663.46" r="5.1" fill="#fff" stroke="#ff6600" stroke-width="1.3"/><path d="M559.75 1658.36A5.1 5.1 0 0 1 559.75 1668.56Z" fill="#ff6600"/><path d="M560.55 1659.99L560.55 1666.93L564.24 1663.46Z" fill="#fff"/>
<path d="M591.1 1663.46H613.4M624.4 1663.46H646.7" stroke="#ff6600" stroke-width="2"/>
<circle cx="618.9" cy="1663.46" r="5.5" fill="#ff6600"/>
<text x="652.1" y="1671.86" font-size="24" text-anchor="start" fill="#000"><tspan>10</tspan></text>
<path d="M833.2 1680.3V1689.3M971.01 1680.3V1689.3M1108.82 1680.3V1689.3M1246.63 1680.3V1689.3M1384.44 1680.3V1689.3M902.1 1680.3V1685.3M1039.91 1680.3V1685.3M1177.72 1680.3V1685.3M1315.53 1680.3V1685.3M833.2 1660.91H824.2M833.2 1583.34H824.2M833.2 1505.78H824.2M833.2 1428.21H824.2M833.2 1350.64H824.2M833.2 1273.08H824.2M833.2 1622.12H828.2M833.2 1544.56H828.2M833.2 1466.99H828.2M833.2 1389.43H828.2M833.2 1311.86H828.2M833.2 1234.29H828.2" stroke="#000" stroke-width="2.2" fill="none"/>
<rect x="833.2" y="1214.9" width="578.8" height="465.4" stroke="#000" stroke-width="2.2" fill="none"/>
<text x="833.2" y="1718.8" font-size="31" text-anchor="middle" fill="#000"><tspan>0</tspan></text>
<text x="971.01" y="1718.8" font-size="31" text-anchor="middle" fill="#000"><tspan>100</tspan></text>
<text x="1108.82" y="1718.8" font-size="31" text-anchor="middle" fill="#000"><tspan>200</tspan></text>
<text x="1246.63" y="1718.8" font-size="31" text-anchor="middle" fill="#000"><tspan>300</tspan></text>
<text x="1384.44" y="1718.8" font-size="31" text-anchor="middle" fill="#000"><tspan>400</tspan></text>
<text x="818.2" y="1671.14" font-size="31" text-anchor="end" fill="#000"><tspan>0.0</tspan></text>
<text x="818.2" y="1593.57" font-size="31" text-anchor="end" fill="#000"><tspan>0.2</tspan></text>
<text x="818.2" y="1516.01" font-size="31" text-anchor="end" fill="#000"><tspan>0.4</tspan></text>
<text x="818.2" y="1438.44" font-size="31" text-anchor="end" fill="#000"><tspan>0.6</tspan></text>
<text x="818.2" y="1360.87" font-size="31" text-anchor="end" fill="#000"><tspan>0.8</tspan></text>
<text x="818.2" y="1283.31" font-size="31" text-anchor="end" fill="#000"><tspan>1.0</tspan></text>
<text transform="translate(731.9 1232.7) scale(1.34 1)" font-size="76">f</text>
<text x="1122.9" y="1776.5" font-size="39.5" text-anchor="middle" fill="#000"><tspan>Time (min/g)</tspan></text>
<text x="758.4" y="1447.3" font-size="40" text-anchor="middle" fill="#000" transform="rotate(-90 758.4 1447.3)"><tspan>C/C</tspan><tspan dy="10.6" font-size="26">0</tspan></text>
<path d="M834.03 1660.91L844.78 1660.91M844.78 1660.91L855.53 1660.91M855.53 1660.91L865.86 1638.55M865.86 1638.55L877.02 1596.6M877.02 1596.6L887.77 1555.28M887.77 1555.28L899.07 1517.56M899.07 1517.56L909.27 1486.31M909.27 1486.31L920.57 1448.11M920.57 1448.11L931.32 1411.23M931.32 1411.23L942.35 1361.4M942.35 1361.4L952.82 1317.4M952.82 1317.4L963.15 1282.83M963.15 1282.83L974.45 1272.47M974.45 1272.47L985.2 1271.58M985.2 1271.58L995.95 1272.6M995.95 1272.6L1006.7 1274.14M1006.7 1274.14L1017.45 1272.99M1017.45 1272.99L1028.2 1274.04M1028.2 1274.04L1038.95 1274.53M1038.95 1274.53L1049.7 1273.26M1049.7 1273.26L1060.45 1273.02M1060.45 1273.02L1071.2 1273.08M1071.2 1273.08L1081.95 1273.21M1081.95 1273.21L1092.7 1271.53M1092.7 1271.53L1103.44 1272.02M1103.44 1272.02L1114.19 1273.65M1114.19 1273.65L1124.94 1273.73M1124.94 1273.73L1135.69 1272.25M1135.69 1272.25L1146.44 1272M1146.44 1272L1157.19 1271.65M1157.19 1271.65L1167.94 1274.62M1167.94 1274.62L1178.69 1271.8M1178.69 1271.8L1189.44 1271.58M1189.44 1271.58L1200.19 1274.4M1200.19 1274.4L1210.94 1272.21M1210.94 1272.21L1221.69 1274.36M1221.69 1274.36L1232.43 1271.64M1232.43 1271.64L1243.18 1274.26M1243.18 1274.26L1253.93 1274.31M1253.93 1274.31L1264.68 1272.15M1264.68 1272.15L1275.43 1272.89M1275.43 1272.89L1286.18 1274.03M1286.18 1274.03L1296.93 1274.22M1296.93 1274.22L1307.68 1274.26" stroke="#4d4d4d" stroke-width="2.2" fill="none"/>
<g><circle cx="834.03" cy="1660.91" r="5.05" fill="#fff" stroke="#4d4d4d" stroke-width="1.4"/><circle cx="844.78" cy="1660.91" r="5.05" fill="#fff" stroke="#4d4d4d" stroke-width="1.4"/><circle cx="855.53" cy="1660.91" r="5.05" fill="#fff" stroke="#4d4d4d" stroke-width="1.4"/><circle cx="865.86" cy="1638.55" r="5.05" fill="#fff" stroke="#4d4d4d" stroke-width="1.4"/><circle cx="877.02" cy="1596.6" r="5.05" fill="#fff" stroke="#4d4d4d" stroke-width="1.4"/><circle cx="887.77" cy="1555.28" r="5.05" fill="#fff" stroke="#4d4d4d" stroke-width="1.4"/><circle cx="899.07" cy="1517.56" r="5.05" fill="#fff" stroke="#4d4d4d" stroke-width="1.4"/><circle cx="909.27" cy="1486.31" r="5.05" fill="#fff" stroke="#4d4d4d" stroke-width="1.4"/><circle cx="920.57" cy="1448.11" r="5.05" fill="#fff" stroke="#4d4d4d" stroke-width="1.4"/><circle cx="931.32" cy="1411.23" r="5.05" fill="#fff" stroke="#4d4d4d" stroke-width="1.4"/><circle cx="942.35" cy="1361.4" r="5.05" fill="#fff" stroke="#4d4d4d" stroke-width="1.4"/><circle cx="952.82" cy="1317.4" r="5.05" fill="#fff" stroke="#4d4d4d" stroke-width="1.4"/><circle cx="963.15" cy="1282.83" r="5.05" fill="#fff" stroke="#4d4d4d" stroke-width="1.4"/><circle cx="974.45" cy="1272.47" r="5.05" fill="#fff" stroke="#4d4d4d" stroke-width="1.4"/><circle cx="985.2" cy="1271.58" r="5.05" fill="#fff" stroke="#4d4d4d" stroke-width="1.4"/><circle cx="995.95" cy="1272.6" r="5.05" fill="#fff" stroke="#4d4d4d" stroke-width="1.4"/><circle cx="1006.7" cy="1274.14" r="5.05" fill="#fff" stroke="#4d4d4d" stroke-width="1.4"/><circle cx="1017.45" cy="1272.99" r="5.05" fill="#fff" stroke="#4d4d4d" stroke-width="1.4"/><circle cx="1028.2" cy="1274.04" r="5.05" fill="#fff" stroke="#4d4d4d" stroke-width="1.4"/><circle cx="1038.95" cy="1274.53" r="5.05" fill="#fff" stroke="#4d4d4d" stroke-width="1.4"/><circle cx="1049.7" cy="1273.26" r="5.05" fill="#fff" stroke="#4d4d4d" stroke-width="1.4"/><circle cx="1060.45" cy="1273.02" r="5.05" fill="#fff" stroke="#4d4d4d" stroke-width="1.4"/><circle cx="1071.2" cy="1273.08" r="5.05" fill="#fff" stroke="#4d4d4d" stroke-width="1.4"/><circle cx="1081.95" cy="1273.21" r="5.05" fill="#fff" stroke="#4d4d4d" stroke-width="1.4"/><circle cx="1092.7" cy="1271.53" r="5.05" fill="#fff" stroke="#4d4d4d" stroke-width="1.4"/><circle cx="1103.44" cy="1272.02" r="5.05" fill="#fff" stroke="#4d4d4d" stroke-width="1.4"/><circle cx="1114.19" cy="1273.65" r="5.05" fill="#fff" stroke="#4d4d4d" stroke-width="1.4"/><circle cx="1124.94" cy="1273.73" r="5.05" fill="#fff" stroke="#4d4d4d" stroke-width="1.4"/><circle cx="1135.69" cy="1272.25" r="5.05" fill="#fff" stroke="#4d4d4d" stroke-width="1.4"/><circle cx="1146.44" cy="1272" r="5.05" fill="#fff" stroke="#4d4d4d" stroke-width="1.4"/><circle cx="1157.19" cy="1271.65" r="5.05" fill="#fff" stroke="#4d4d4d" stroke-width="1.4"/><circle cx="1167.94" cy="1274.62" r="5.05" fill="#fff" stroke="#4d4d4d" stroke-width="1.4"/><circle cx="1178.69" cy="1271.8" r="5.05" fill="#fff" stroke="#4d4d4d" stroke-width="1.4"/><circle cx="1189.44" cy="1271.58" r="5.05" fill="#fff" stroke="#4d4d4d" stroke-width="1.4"/><circle cx="1200.19" cy="1274.4" r="5.05" fill="#fff" stroke="#4d4d4d" stroke-width="1.4"/><circle cx="1210.94" cy="1272.21" r="5.05" fill="#fff" stroke="#4d4d4d" stroke-width="1.4"/><circle cx="1221.69" cy="1274.36" r="5.05" fill="#fff" stroke="#4d4d4d" stroke-width="1.4"/><circle cx="1232.43" cy="1271.64" r="5.05" fill="#fff" stroke="#4d4d4d" stroke-width="1.4"/><circle cx="1243.18" cy="1274.26" r="5.05" fill="#fff" stroke="#4d4d4d" stroke-width="1.4"/><circle cx="1253.93" cy="1274.31" r="5.05" fill="#fff" stroke="#4d4d4d" stroke-width="1.4"/><circle cx="1264.68" cy="1272.15" r="5.05" fill="#fff" stroke="#4d4d4d" stroke-width="1.4"/><circle cx="1275.43" cy="1272.89" r="5.05" fill="#fff" stroke="#4d4d4d" stroke-width="1.4"/><circle cx="1286.18" cy="1274.03" r="5.05" fill="#fff" stroke="#4d4d4d" stroke-width="1.4"/><circle cx="1296.93" cy="1274.22" r="5.05" fill="#fff" stroke="#4d4d4d" stroke-width="1.4"/><circle cx="1307.68" cy="1274.26" r="5.05" fill="#fff" stroke="#4d4d4d" stroke-width="1.4"/></g>
<path d="M834.03 1660.91L844.78 1660.91M844.78 1660.91L855.53 1660.91M855.53 1660.91L866.27 1660.91M866.27 1660.91L877.02 1660.91M877.02 1660.91L887.77 1660.91M887.77 1660.91L898.52 1660.91M898.52 1660.91L909.27 1660.91M909.27 1660.91L920.02 1660.91M920.02 1660.91L930.77 1660.91M930.77 1660.91L941.52 1660.91M941.52 1660.91L952.27 1660.91M952.27 1660.91L963.02 1660.91M963.02 1660.91L973.77 1660.91M973.77 1660.91L984.51 1660.91M984.51 1660.91L996.09 1660.41M996.09 1660.41L1006.84 1656.21M1006.84 1656.21L1017.59 1653.07M1017.59 1653.07L1028.89 1647.71M1028.89 1647.71L1039.64 1638.53M1039.64 1638.53L1050.39 1629.33M1050.39 1629.33L1061.14 1620.78M1061.14 1620.78L1071.89 1612.12M1071.89 1612.12L1082.64 1597.49M1082.64 1597.49L1093.94 1587.04M1093.94 1587.04L1104.68 1574.83M1104.68 1574.83L1115.43 1556.87M1115.43 1556.87L1126.73 1535.71M1126.73 1535.71L1136.93 1527.62M1136.93 1527.62L1148.23 1516.45M1148.23 1516.45L1159.26 1503.61M1159.26 1503.61L1169.73 1494.43M1169.73 1494.43L1180.76 1483.38M1180.76 1483.38L1191.5 1468.67M1191.5 1468.67L1202.81 1453.67M1202.81 1453.67L1213.55 1444.1M1213.55 1444.1L1224.3 1429.68M1224.3 1429.68L1235.05 1404.75M1235.05 1404.75L1245.8 1390.28M1245.8 1390.28L1256.55 1371.56M1256.55 1371.56L1267.85 1351.62M1267.85 1351.62L1278.6 1323.24M1278.6 1323.24L1289.35 1301.53M1289.35 1301.53L1300.1 1286.74M1300.1 1286.74L1310.85 1279.87M1310.85 1279.87L1322.42 1275.76M1322.42 1275.76L1333.17 1273.83M1333.17 1273.83L1343.92 1272.78M1343.92 1272.78L1354.67 1274.08M1354.67 1274.08L1365.42 1274.41M1365.42 1274.41L1376.17 1272.89M1376.17 1272.89L1386.92 1272.72M1386.92 1272.72L1398.22 1271.78" stroke="#4d4d4d" stroke-width="2.2" fill="none"/>
<g><circle cx="834.03" cy="1660.91" r="5.75" fill="#4d4d4d"/><circle cx="844.78" cy="1660.91" r="5.75" fill="#4d4d4d"/><circle cx="855.53" cy="1660.91" r="5.75" fill="#4d4d4d"/><circle cx="866.27" cy="1660.91" r="5.75" fill="#4d4d4d"/><circle cx="877.02" cy="1660.91" r="5.75" fill="#4d4d4d"/><circle cx="887.77" cy="1660.91" r="5.75" fill="#4d4d4d"/><circle cx="898.52" cy="1660.91" r="5.75" fill="#4d4d4d"/><circle cx="909.27" cy="1660.91" r="5.75" fill="#4d4d4d"/><circle cx="920.02" cy="1660.91" r="5.75" fill="#4d4d4d"/><circle cx="930.77" cy="1660.91" r="5.75" fill="#4d4d4d"/><circle cx="941.52" cy="1660.91" r="5.75" fill="#4d4d4d"/><circle cx="952.27" cy="1660.91" r="5.75" fill="#4d4d4d"/><circle cx="963.02" cy="1660.91" r="5.75" fill="#4d4d4d"/><circle cx="973.77" cy="1660.91" r="5.75" fill="#4d4d4d"/><circle cx="984.51" cy="1660.91" r="5.75" fill="#4d4d4d"/><circle cx="996.09" cy="1660.41" r="5.75" fill="#4d4d4d"/><circle cx="1006.84" cy="1656.21" r="5.75" fill="#4d4d4d"/><circle cx="1017.59" cy="1653.07" r="5.75" fill="#4d4d4d"/><circle cx="1028.89" cy="1647.71" r="5.75" fill="#4d4d4d"/><circle cx="1039.64" cy="1638.53" r="5.75" fill="#4d4d4d"/><circle cx="1050.39" cy="1629.33" r="5.75" fill="#4d4d4d"/><circle cx="1061.14" cy="1620.78" r="5.75" fill="#4d4d4d"/><circle cx="1071.89" cy="1612.12" r="5.75" fill="#4d4d4d"/><circle cx="1082.64" cy="1597.49" r="5.75" fill="#4d4d4d"/><circle cx="1093.94" cy="1587.04" r="5.75" fill="#4d4d4d"/><circle cx="1104.68" cy="1574.83" r="5.75" fill="#4d4d4d"/><circle cx="1115.43" cy="1556.87" r="5.75" fill="#4d4d4d"/><circle cx="1126.73" cy="1535.71" r="5.75" fill="#4d4d4d"/><circle cx="1136.93" cy="1527.62" r="5.75" fill="#4d4d4d"/><circle cx="1148.23" cy="1516.45" r="5.75" fill="#4d4d4d"/><circle cx="1159.26" cy="1503.61" r="5.75" fill="#4d4d4d"/><circle cx="1169.73" cy="1494.43" r="5.75" fill="#4d4d4d"/><circle cx="1180.76" cy="1483.38" r="5.75" fill="#4d4d4d"/><circle cx="1191.5" cy="1468.67" r="5.75" fill="#4d4d4d"/><circle cx="1202.81" cy="1453.67" r="5.75" fill="#4d4d4d"/><circle cx="1213.55" cy="1444.1" r="5.75" fill="#4d4d4d"/><circle cx="1224.3" cy="1429.68" r="5.75" fill="#4d4d4d"/><circle cx="1235.05" cy="1404.75" r="5.75" fill="#4d4d4d"/><circle cx="1245.8" cy="1390.28" r="5.75" fill="#4d4d4d"/><circle cx="1256.55" cy="1371.56" r="5.75" fill="#4d4d4d"/><circle cx="1267.85" cy="1351.62" r="5.75" fill="#4d4d4d"/><circle cx="1278.6" cy="1323.24" r="5.75" fill="#4d4d4d"/><circle cx="1289.35" cy="1301.53" r="5.75" fill="#4d4d4d"/><circle cx="1300.1" cy="1286.74" r="5.75" fill="#4d4d4d"/><circle cx="1310.85" cy="1279.87" r="5.75" fill="#4d4d4d"/><circle cx="1322.42" cy="1275.76" r="5.75" fill="#4d4d4d"/><circle cx="1333.17" cy="1273.83" r="5.75" fill="#4d4d4d"/><circle cx="1343.92" cy="1272.78" r="5.75" fill="#4d4d4d"/><circle cx="1354.67" cy="1274.08" r="5.75" fill="#4d4d4d"/><circle cx="1365.42" cy="1274.41" r="5.75" fill="#4d4d4d"/><circle cx="1376.17" cy="1272.89" r="5.75" fill="#4d4d4d"/><circle cx="1386.92" cy="1272.72" r="5.75" fill="#4d4d4d"/><circle cx="1398.22" cy="1271.78" r="5.75" fill="#4d4d4d"/></g>
<path d="M834.03 1660.91L844.78 1660.91M844.78 1660.91L855.53 1660.91M855.53 1660.91L865.86 1636.78M865.86 1636.78L877.02 1592.05M877.02 1592.05L887.77 1550.89M887.77 1550.89L899.07 1517.25M899.07 1517.25L909.27 1484.97M909.27 1484.97L920.57 1443.83M920.57 1443.83L931.32 1406.86M931.32 1406.86L942.35 1365.14M942.35 1365.14L952.82 1320.17M952.82 1320.17L963.15 1284.13M963.15 1284.13L974.45 1272.81M974.45 1272.81L985.2 1274.52M985.2 1274.52L995.95 1271.8M995.95 1271.8L1006.7 1271.64M1006.7 1271.64L1017.45 1272.65M1017.45 1272.65L1028.2 1272.36M1028.2 1272.36L1038.95 1271.53M1038.95 1271.53L1049.7 1272.93M1049.7 1272.93L1060.45 1271.83M1060.45 1271.83L1071.2 1272.44M1071.2 1272.44L1081.95 1271.79M1081.95 1271.79L1092.7 1272.5M1092.7 1272.5L1103.44 1271.92M1103.44 1271.92L1114.19 1272.17M1114.19 1272.17L1124.94 1272.85M1124.94 1272.85L1135.69 1273.44M1135.69 1273.44L1146.44 1272.74M1146.44 1272.74L1157.19 1272.64M1157.19 1272.64L1167.94 1271.9M1167.94 1271.9L1178.69 1273.42M1178.69 1273.42L1189.44 1272.82M1189.44 1272.82L1200.19 1272.03M1200.19 1272.03L1210.94 1272.3M1210.94 1272.3L1221.69 1272.76M1221.69 1272.76L1232.43 1273.91M1232.43 1273.91L1243.18 1273.08M1243.18 1273.08L1253.93 1271.77M1253.93 1271.77L1264.68 1274.59M1264.68 1274.59L1275.43 1272.52M1275.43 1272.52L1286.18 1274.1M1286.18 1274.1L1296.93 1272.58M1296.93 1272.58L1307.68 1271.86" stroke="#ef3e46" stroke-width="2.2" fill="none"/>
<g><circle cx="834.03" cy="1660.91" r="5.05" fill="#fff" stroke="#ef3e46" stroke-width="1.4"/><circle cx="844.78" cy="1660.91" r="5.05" fill="#fff" stroke="#ef3e46" stroke-width="1.4"/><circle cx="855.53" cy="1660.91" r="5.05" fill="#fff" stroke="#ef3e46" stroke-width="1.4"/><circle cx="865.86" cy="1636.78" r="5.05" fill="#fff" stroke="#ef3e46" stroke-width="1.4"/><circle cx="877.02" cy="1592.05" r="5.05" fill="#fff" stroke="#ef3e46" stroke-width="1.4"/><circle cx="887.77" cy="1550.89" r="5.05" fill="#fff" stroke="#ef3e46" stroke-width="1.4"/><circle cx="899.07" cy="1517.25" r="5.05" fill="#fff" stroke="#ef3e46" stroke-width="1.4"/><circle cx="909.27" cy="1484.97" r="5.05" fill="#fff" stroke="#ef3e46" stroke-width="1.4"/><circle cx="920.57" cy="1443.83" r="5.05" fill="#fff" stroke="#ef3e46" stroke-width="1.4"/><circle cx="931.32" cy="1406.86" r="5.05" fill="#fff" stroke="#ef3e46" stroke-width="1.4"/><circle cx="942.35" cy="1365.14" r="5.05" fill="#fff" stroke="#ef3e46" stroke-width="1.4"/><circle cx="952.82" cy="1320.17" r="5.05" fill="#fff" stroke="#ef3e46" stroke-width="1.4"/><circle cx="963.15" cy="1284.13" r="5.05" fill="#fff" stroke="#ef3e46" stroke-width="1.4"/><circle cx="974.45" cy="1272.81" r="5.05" fill="#fff" stroke="#ef3e46" stroke-width="1.4"/><circle cx="985.2" cy="1274.52" r="5.05" fill="#fff" stroke="#ef3e46" stroke-width="1.4"/><circle cx="995.95" cy="1271.8" r="5.05" fill="#fff" stroke="#ef3e46" stroke-width="1.4"/><circle cx="1006.7" cy="1271.64" r="5.05" fill="#fff" stroke="#ef3e46" stroke-width="1.4"/><circle cx="1017.45" cy="1272.65" r="5.05" fill="#fff" stroke="#ef3e46" stroke-width="1.4"/><circle cx="1028.2" cy="1272.36" r="5.05" fill="#fff" stroke="#ef3e46" stroke-width="1.4"/><circle cx="1038.95" cy="1271.53" r="5.05" fill="#fff" stroke="#ef3e46" stroke-width="1.4"/><circle cx="1049.7" cy="1272.93" r="5.05" fill="#fff" stroke="#ef3e46" stroke-width="1.4"/><circle cx="1060.45" cy="1271.83" r="5.05" fill="#fff" stroke="#ef3e46" stroke-width="1.4"/><circle cx="1071.2" cy="1272.44" r="5.05" fill="#fff" stroke="#ef3e46" stroke-width="1.4"/><circle cx="1081.95" cy="1271.79" r="5.05" fill="#fff" stroke="#ef3e46" stroke-width="1.4"/><circle cx="1092.7" cy="1272.5" r="5.05" fill="#fff" stroke="#ef3e46" stroke-width="1.4"/><circle cx="1103.44" cy="1271.92" r="5.05" fill="#fff" stroke="#ef3e46" stroke-width="1.4"/><circle cx="1114.19" cy="1272.17" r="5.05" fill="#fff" stroke="#ef3e46" stroke-width="1.4"/><circle cx="1124.94" cy="1272.85" r="5.05" fill="#fff" stroke="#ef3e46" stroke-width="1.4"/><circle cx="1135.69" cy="1273.44" r="5.05" fill="#fff" stroke="#ef3e46" stroke-width="1.4"/><circle cx="1146.44" cy="1272.74" r="5.05" fill="#fff" stroke="#ef3e46" stroke-width="1.4"/><circle cx="1157.19" cy="1272.64" r="5.05" fill="#fff" stroke="#ef3e46" stroke-width="1.4"/><circle cx="1167.94" cy="1271.9" r="5.05" fill="#fff" stroke="#ef3e46" stroke-width="1.4"/><circle cx="1178.69" cy="1273.42" r="5.05" fill="#fff" stroke="#ef3e46" stroke-width="1.4"/><circle cx="1189.44" cy="1272.82" r="5.05" fill="#fff" stroke="#ef3e46" stroke-width="1.4"/><circle cx="1200.19" cy="1272.03" r="5.05" fill="#fff" stroke="#ef3e46" stroke-width="1.4"/><circle cx="1210.94" cy="1272.3" r="5.05" fill="#fff" stroke="#ef3e46" stroke-width="1.4"/><circle cx="1221.69" cy="1272.76" r="5.05" fill="#fff" stroke="#ef3e46" stroke-width="1.4"/><circle cx="1232.43" cy="1273.91" r="5.05" fill="#fff" stroke="#ef3e46" stroke-width="1.4"/><circle cx="1243.18" cy="1273.08" r="5.05" fill="#fff" stroke="#ef3e46" stroke-width="1.4"/><circle cx="1253.93" cy="1271.77" r="5.05" fill="#fff" stroke="#ef3e46" stroke-width="1.4"/><circle cx="1264.68" cy="1274.59" r="5.05" fill="#fff" stroke="#ef3e46" stroke-width="1.4"/><circle cx="1275.43" cy="1272.52" r="5.05" fill="#fff" stroke="#ef3e46" stroke-width="1.4"/><circle cx="1286.18" cy="1274.1" r="5.05" fill="#fff" stroke="#ef3e46" stroke-width="1.4"/><circle cx="1296.93" cy="1272.58" r="5.05" fill="#fff" stroke="#ef3e46" stroke-width="1.4"/><circle cx="1307.68" cy="1271.86" r="5.05" fill="#fff" stroke="#ef3e46" stroke-width="1.4"/></g>
<path d="M834.03 1660.91L844.78 1660.91M844.78 1660.91L855.53 1660.91M855.53 1660.91L866.27 1660.91M866.27 1660.91L877.02 1660.91M877.02 1660.91L887.77 1660.91M887.77 1660.91L898.52 1660.91M898.52 1660.91L909.27 1660.91M909.27 1660.91L920.02 1660.91M920.02 1660.91L930.77 1660.91M930.77 1660.91L941.52 1660.91M941.52 1660.91L952.27 1660.91M952.27 1660.91L963.02 1660.91M963.02 1660.91L973.77 1660.91M973.77 1660.91L984.51 1660.91M984.51 1660.91L996.09 1660.24M996.09 1660.24L1006.84 1655.91M1006.84 1655.91L1017.59 1652.7M1017.59 1652.7L1028.89 1648.02M1028.89 1648.02L1039.64 1638.32M1039.64 1638.32L1050.39 1627.85M1050.39 1627.85L1061.14 1620.54M1061.14 1620.54L1071.89 1610.84M1071.89 1610.84L1082.64 1597.09M1082.64 1597.09L1093.94 1585.16M1093.94 1585.16L1104.68 1572.93M1104.68 1572.93L1115.43 1558.32M1115.43 1558.32L1126.73 1534.5M1126.73 1534.5L1136.93 1525.15M1136.93 1525.15L1148.23 1514.98M1148.23 1514.98L1159.26 1505.38M1159.26 1505.38L1169.73 1490.71M1169.73 1490.71L1180.76 1481.88M1180.76 1481.88L1191.5 1468.92M1191.5 1468.92L1202.81 1453.21M1202.81 1453.21L1213.55 1442.87M1213.55 1442.87L1224.3 1422.07M1224.3 1422.07L1235.05 1402.92M1235.05 1402.92L1245.8 1385.6M1245.8 1385.6L1256.55 1366.31M1256.55 1366.31L1267.85 1350.91M1267.85 1350.91L1278.6 1320.31M1278.6 1320.31L1289.35 1300.49M1289.35 1300.49L1300.1 1286.02M1300.1 1286.02L1310.85 1279.16M1310.85 1279.16L1322.42 1275.72M1322.42 1275.72L1333.17 1272.59M1333.17 1272.59L1343.92 1271.65M1343.92 1271.65L1354.67 1274.01M1354.67 1274.01L1365.42 1274.07M1365.42 1274.07L1376.17 1273.16M1376.17 1273.16L1386.92 1274.07M1386.92 1274.07L1398.22 1273.55" stroke="#ef3e46" stroke-width="2.2" fill="none"/>
<g><circle cx="834.03" cy="1660.91" r="5.75" fill="#ef3e46"/><circle cx="844.78" cy="1660.91" r="5.75" fill="#ef3e46"/><circle cx="855.53" cy="1660.91" r="5.75" fill="#ef3e46"/><circle cx="866.27" cy="1660.91" r="5.75" fill="#ef3e46"/><circle cx="877.02" cy="1660.91" r="5.75" fill="#ef3e46"/><circle cx="887.77" cy="1660.91" r="5.75" fill="#ef3e46"/><circle cx="898.52" cy="1660.91" r="5.75" fill="#ef3e46"/><circle cx="909.27" cy="1660.91" r="5.75" fill="#ef3e46"/><circle cx="920.02" cy="1660.91" r="5.75" fill="#ef3e46"/><circle cx="930.77" cy="1660.91" r="5.75" fill="#ef3e46"/><circle cx="941.52" cy="1660.91" r="5.75" fill="#ef3e46"/><circle cx="952.27" cy="1660.91" r="5.75" fill="#ef3e46"/><circle cx="963.02" cy="1660.91" r="5.75" fill="#ef3e46"/><circle cx="973.77" cy="1660.91" r="5.75" fill="#ef3e46"/><circle cx="984.51" cy="1660.91" r="5.75" fill="#ef3e46"/><circle cx="996.09" cy="1660.24" r="5.75" fill="#ef3e46"/><circle cx="1006.84" cy="1655.91" r="5.75" fill="#ef3e46"/><circle cx="1017.59" cy="1652.7" r="5.75" fill="#ef3e46"/><circle cx="1028.89" cy="1648.02" r="5.75" fill="#ef3e46"/><circle cx="1039.64" cy="1638.32" r="5.75" fill="#ef3e46"/><circle cx="1050.39" cy="1627.85" r="5.75" fill="#ef3e46"/><circle cx="1061.14" cy="1620.54" r="5.75" fill="#ef3e46"/><circle cx="1071.89" cy="1610.84" r="5.75" fill="#ef3e46"/><circle cx="1082.64" cy="1597.09" r="5.75" fill="#ef3e46"/><circle cx="1093.94" cy="1585.16" r="5.75" fill="#ef3e46"/><circle cx="1104.68" cy="1572.93" r="5.75" fill="#ef3e46"/><circle cx="1115.43" cy="1558.32" r="5.75" fill="#ef3e46"/><circle cx="1126.73" cy="1534.5" r="5.75" fill="#ef3e46"/><circle cx="1136.93" cy="1525.15" r="5.75" fill="#ef3e46"/><circle cx="1148.23" cy="1514.98" r="5.75" fill="#ef3e46"/><circle cx="1159.26" cy="1505.38" r="5.75" fill="#ef3e46"/><circle cx="1169.73" cy="1490.71" r="5.75" fill="#ef3e46"/><circle cx="1180.76" cy="1481.88" r="5.75" fill="#ef3e46"/><circle cx="1191.5" cy="1468.92" r="5.75" fill="#ef3e46"/><circle cx="1202.81" cy="1453.21" r="5.75" fill="#ef3e46"/><circle cx="1213.55" cy="1442.87" r="5.75" fill="#ef3e46"/><circle cx="1224.3" cy="1422.07" r="5.75" fill="#ef3e46"/><circle cx="1235.05" cy="1402.92" r="5.75" fill="#ef3e46"/><circle cx="1245.8" cy="1385.6" r="5.75" fill="#ef3e46"/><circle cx="1256.55" cy="1366.31" r="5.75" fill="#ef3e46"/><circle cx="1267.85" cy="1350.91" r="5.75" fill="#ef3e46"/><circle cx="1278.6" cy="1320.31" r="5.75" fill="#ef3e46"/><circle cx="1289.35" cy="1300.49" r="5.75" fill="#ef3e46"/><circle cx="1300.1" cy="1286.02" r="5.75" fill="#ef3e46"/><circle cx="1310.85" cy="1279.16" r="5.75" fill="#ef3e46"/><circle cx="1322.42" cy="1275.72" r="5.75" fill="#ef3e46"/><circle cx="1333.17" cy="1272.59" r="5.75" fill="#ef3e46"/><circle cx="1343.92" cy="1271.65" r="5.75" fill="#ef3e46"/><circle cx="1354.67" cy="1274.01" r="5.75" fill="#ef3e46"/><circle cx="1365.42" cy="1274.07" r="5.75" fill="#ef3e46"/><circle cx="1376.17" cy="1273.16" r="5.75" fill="#ef3e46"/><circle cx="1386.92" cy="1274.07" r="5.75" fill="#ef3e46"/><circle cx="1398.22" cy="1273.55" r="5.75" fill="#ef3e46"/></g>
<path d="M834.03 1660.91L844.78 1660.91M844.78 1660.91L855.53 1660.91M855.53 1660.91L865.86 1636.68M865.86 1636.68L877.02 1592.35M877.02 1592.35L887.77 1552.61M887.77 1552.61L899.07 1518.06M899.07 1518.06L909.27 1480.88M909.27 1480.88L920.57 1446.21M920.57 1446.21L931.32 1407.06M931.32 1407.06L942.35 1358.28M942.35 1358.28L952.82 1314.57M952.82 1314.57L963.15 1282.73M963.15 1282.73L974.45 1273.46M974.45 1273.46L985.2 1271.9M985.2 1271.9L995.95 1271.7M995.95 1271.7L1006.7 1272.61M1006.7 1272.61L1017.45 1272.39M1017.45 1272.39L1028.2 1272.64M1028.2 1272.64L1038.95 1273.96M1038.95 1273.96L1049.7 1271.58M1049.7 1271.58L1060.45 1272.96M1060.45 1272.96L1071.2 1273.63M1071.2 1273.63L1081.95 1271.97M1081.95 1271.97L1092.7 1274.37M1092.7 1274.37L1103.44 1272.92M1103.44 1272.92L1114.19 1273.11M1114.19 1273.11L1124.94 1272.12M1124.94 1272.12L1135.69 1272.14M1135.69 1272.14L1146.44 1273.59M1146.44 1273.59L1157.19 1274.19M1157.19 1274.19L1167.94 1273.02M1167.94 1273.02L1178.69 1272.02M1178.69 1272.02L1189.44 1271.69M1189.44 1271.69L1200.19 1271.68M1200.19 1271.68L1210.94 1273.94M1210.94 1273.94L1221.69 1273.73M1221.69 1273.73L1232.43 1272.64M1232.43 1272.64L1243.18 1272.01M1243.18 1272.01L1253.93 1273.66M1253.93 1273.66L1264.68 1272M1264.68 1272L1275.43 1273.98M1275.43 1273.98L1286.18 1271.62M1286.18 1271.62L1296.93 1272.85M1296.93 1272.85L1307.68 1272.96" stroke="#1a6ce4" stroke-width="2.2" fill="none"/>
<g><circle cx="834.03" cy="1660.91" r="5.05" fill="#fff" stroke="#1a6ce4" stroke-width="1.4"/><circle cx="844.78" cy="1660.91" r="5.05" fill="#fff" stroke="#1a6ce4" stroke-width="1.4"/><circle cx="855.53" cy="1660.91" r="5.05" fill="#fff" stroke="#1a6ce4" stroke-width="1.4"/><circle cx="865.86" cy="1636.68" r="5.05" fill="#fff" stroke="#1a6ce4" stroke-width="1.4"/><circle cx="877.02" cy="1592.35" r="5.05" fill="#fff" stroke="#1a6ce4" stroke-width="1.4"/><circle cx="887.77" cy="1552.61" r="5.05" fill="#fff" stroke="#1a6ce4" stroke-width="1.4"/><circle cx="899.07" cy="1518.06" r="5.05" fill="#fff" stroke="#1a6ce4" stroke-width="1.4"/><circle cx="909.27" cy="1480.88" r="5.05" fill="#fff" stroke="#1a6ce4" stroke-width="1.4"/><circle cx="920.57" cy="1446.21" r="5.05" fill="#fff" stroke="#1a6ce4" stroke-width="1.4"/><circle cx="931.32" cy="1407.06" r="5.05" fill="#fff" stroke="#1a6ce4" stroke-width="1.4"/><circle cx="942.35" cy="1358.28" r="5.05" fill="#fff" stroke="#1a6ce4" stroke-width="1.4"/><circle cx="952.82" cy="1314.57" r="5.05" fill="#fff" stroke="#1a6ce4" stroke-width="1.4"/><circle cx="963.15" cy="1282.73" r="5.05" fill="#fff" stroke="#1a6ce4" stroke-width="1.4"/><circle cx="974.45" cy="1273.46" r="5.05" fill="#fff" stroke="#1a6ce4" stroke-width="1.4"/><circle cx="985.2" cy="1271.9" r="5.05" fill="#fff" stroke="#1a6ce4" stroke-width="1.4"/><circle cx="995.95" cy="1271.7" r="5.05" fill="#fff" stroke="#1a6ce4" stroke-width="1.4"/><circle cx="1006.7" cy="1272.61" r="5.05" fill="#fff" stroke="#1a6ce4" stroke-width="1.4"/><circle cx="1017.45" cy="1272.39" r="5.05" fill="#fff" stroke="#1a6ce4" stroke-width="1.4"/><circle cx="1028.2" cy="1272.64" r="5.05" fill="#fff" stroke="#1a6ce4" stroke-width="1.4"/><circle cx="1038.95" cy="1273.96" r="5.05" fill="#fff" stroke="#1a6ce4" stroke-width="1.4"/><circle cx="1049.7" cy="1271.58" r="5.05" fill="#fff" stroke="#1a6ce4" stroke-width="1.4"/><circle cx="1060.45" cy="1272.96" r="5.05" fill="#fff" stroke="#1a6ce4" stroke-width="1.4"/><circle cx="1071.2" cy="1273.63" r="5.05" fill="#fff" stroke="#1a6ce4" stroke-width="1.4"/><circle cx="1081.95" cy="1271.97" r="5.05" fill="#fff" stroke="#1a6ce4" stroke-width="1.4"/><circle cx="1092.7" cy="1274.37" r="5.05" fill="#fff" stroke="#1a6ce4" stroke-width="1.4"/><circle cx="1103.44" cy="1272.92" r="5.05" fill="#fff" stroke="#1a6ce4" stroke-width="1.4"/><circle cx="1114.19" cy="1273.11" r="5.05" fill="#fff" stroke="#1a6ce4" stroke-width="1.4"/><circle cx="1124.94" cy="1272.12" r="5.05" fill="#fff" stroke="#1a6ce4" stroke-width="1.4"/><circle cx="1135.69" cy="1272.14" r="5.05" fill="#fff" stroke="#1a6ce4" stroke-width="1.4"/><circle cx="1146.44" cy="1273.59" r="5.05" fill="#fff" stroke="#1a6ce4" stroke-width="1.4"/><circle cx="1157.19" cy="1274.19" r="5.05" fill="#fff" stroke="#1a6ce4" stroke-width="1.4"/><circle cx="1167.94" cy="1273.02" r="5.05" fill="#fff" stroke="#1a6ce4" stroke-width="1.4"/><circle cx="1178.69" cy="1272.02" r="5.05" fill="#fff" stroke="#1a6ce4" stroke-width="1.4"/><circle cx="1189.44" cy="1271.69" r="5.05" fill="#fff" stroke="#1a6ce4" stroke-width="1.4"/><circle cx="1200.19" cy="1271.68" r="5.05" fill="#fff" stroke="#1a6ce4" stroke-width="1.4"/><circle cx="1210.94" cy="1273.94" r="5.05" fill="#fff" stroke="#1a6ce4" stroke-width="1.4"/><circle cx="1221.69" cy="1273.73" r="5.05" fill="#fff" stroke="#1a6ce4" stroke-width="1.4"/><circle cx="1232.43" cy="1272.64" r="5.05" fill="#fff" stroke="#1a6ce4" stroke-width="1.4"/><circle cx="1243.18" cy="1272.01" r="5.05" fill="#fff" stroke="#1a6ce4" stroke-width="1.4"/><circle cx="1253.93" cy="1273.66" r="5.05" fill="#fff" stroke="#1a6ce4" stroke-width="1.4"/><circle cx="1264.68" cy="1272" r="5.05" fill="#fff" stroke="#1a6ce4" stroke-width="1.4"/><circle cx="1275.43" cy="1273.98" r="5.05" fill="#fff" stroke="#1a6ce4" stroke-width="1.4"/><circle cx="1286.18" cy="1271.62" r="5.05" fill="#fff" stroke="#1a6ce4" stroke-width="1.4"/><circle cx="1296.93" cy="1272.85" r="5.05" fill="#fff" stroke="#1a6ce4" stroke-width="1.4"/><circle cx="1307.68" cy="1272.96" r="5.05" fill="#fff" stroke="#1a6ce4" stroke-width="1.4"/></g>
<path d="M834.03 1660.91L844.78 1660.91M844.78 1660.91L855.53 1660.91M855.53 1660.91L866.27 1660.91M866.27 1660.91L877.02 1660.91M877.02 1660.91L887.77 1660.91M887.77 1660.91L898.52 1660.91M898.52 1660.91L909.27 1660.91M909.27 1660.91L920.02 1660.91M920.02 1660.91L930.77 1660.91M930.77 1660.91L941.52 1660.91M941.52 1660.91L952.27 1660.91M952.27 1660.91L963.02 1660.91M963.02 1660.91L973.77 1660.91M973.77 1660.91L984.51 1660.91M984.51 1660.91L996.09 1659.16M996.09 1659.16L1006.84 1655.82M1006.84 1655.82L1017.59 1652.44M1017.59 1652.44L1028.89 1647.32M1028.89 1647.32L1039.64 1639.04M1039.64 1639.04L1050.39 1628.59M1050.39 1628.59L1061.14 1619.96M1061.14 1619.96L1071.89 1608.23M1071.89 1608.23L1082.64 1595.67M1082.64 1595.67L1093.94 1585.12M1093.94 1585.12L1104.68 1571.87M1104.68 1571.87L1115.43 1550.46M1115.43 1550.46L1126.73 1534.48M1126.73 1534.48L1136.93 1524.52M1136.93 1524.52L1148.23 1514.63M1148.23 1514.63L1159.26 1501.92M1159.26 1501.92L1169.73 1491.71M1169.73 1491.71L1180.76 1479.66M1180.76 1479.66L1191.5 1466.65M1191.5 1466.65L1202.81 1453.21M1202.81 1453.21L1213.55 1438.69M1213.55 1438.69L1224.3 1424.38M1224.3 1424.38L1235.05 1401.41M1235.05 1401.41L1245.8 1384.26M1245.8 1384.26L1256.55 1366.13M1256.55 1366.13L1267.85 1343.41M1267.85 1343.41L1278.6 1320.26M1278.6 1320.26L1289.35 1300.52M1289.35 1300.52L1300.1 1286.17M1300.1 1286.17L1310.85 1278.64M1310.85 1278.64L1322.42 1275.59M1322.42 1275.59L1333.17 1273.99M1333.17 1273.99L1343.92 1272.65M1343.92 1272.65L1354.67 1271.99M1354.67 1271.99L1365.42 1271.97M1365.42 1271.97L1376.17 1272.33M1376.17 1272.33L1386.92 1271.83M1386.92 1271.83L1398.22 1273.65" stroke="#1a6ce4" stroke-width="2.2" fill="none"/>
<g><circle cx="834.03" cy="1660.91" r="5.75" fill="#1a6ce4"/><circle cx="844.78" cy="1660.91" r="5.75" fill="#1a6ce4"/><circle cx="855.53" cy="1660.91" r="5.75" fill="#1a6ce4"/><circle cx="866.27" cy="1660.91" r="5.75" fill="#1a6ce4"/><circle cx="877.02" cy="1660.91" r="5.75" fill="#1a6ce4"/><circle cx="887.77" cy="1660.91" r="5.75" fill="#1a6ce4"/><circle cx="898.52" cy="1660.91" r="5.75" fill="#1a6ce4"/><circle cx="909.27" cy="1660.91" r="5.75" fill="#1a6ce4"/><circle cx="920.02" cy="1660.91" r="5.75" fill="#1a6ce4"/><circle cx="930.77" cy="1660.91" r="5.75" fill="#1a6ce4"/><circle cx="941.52" cy="1660.91" r="5.75" fill="#1a6ce4"/><circle cx="952.27" cy="1660.91" r="5.75" fill="#1a6ce4"/><circle cx="963.02" cy="1660.91" r="5.75" fill="#1a6ce4"/><circle cx="973.77" cy="1660.91" r="5.75" fill="#1a6ce4"/><circle cx="984.51" cy="1660.91" r="5.75" fill="#1a6ce4"/><circle cx="996.09" cy="1659.16" r="5.75" fill="#1a6ce4"/><circle cx="1006.84" cy="1655.82" r="5.75" fill="#1a6ce4"/><circle cx="1017.59" cy="1652.44" r="5.75" fill="#1a6ce4"/><circle cx="1028.89" cy="1647.32" r="5.75" fill="#1a6ce4"/><circle cx="1039.64" cy="1639.04" r="5.75" fill="#1a6ce4"/><circle cx="1050.39" cy="1628.59" r="5.75" fill="#1a6ce4"/><circle cx="1061.14" cy="1619.96" r="5.75" fill="#1a6ce4"/><circle cx="1071.89" cy="1608.23" r="5.75" fill="#1a6ce4"/><circle cx="1082.64" cy="1595.67" r="5.75" fill="#1a6ce4"/><circle cx="1093.94" cy="1585.12" r="5.75" fill="#1a6ce4"/><circle cx="1104.68" cy="1571.87" r="5.75" fill="#1a6ce4"/><circle cx="1115.43" cy="1550.46" r="5.75" fill="#1a6ce4"/><circle cx="1126.73" cy="1534.48" r="5.75" fill="#1a6ce4"/><circle cx="1136.93" cy="1524.52" r="5.75" fill="#1a6ce4"/><circle cx="1148.23" cy="1514.63" r="5.75" fill="#1a6ce4"/><circle cx="1159.26" cy="1501.92" r="5.75" fill="#1a6ce4"/><circle cx="1169.73" cy="1491.71" r="5.75" fill="#1a6ce4"/><circle cx="1180.76" cy="1479.66" r="5.75" fill="#1a6ce4"/><circle cx="1191.5" cy="1466.65" r="5.75" fill="#1a6ce4"/><circle cx="1202.81" cy="1453.21" r="5.75" fill="#1a6ce4"/><circle cx="1213.55" cy="1438.69" r="5.75" fill="#1a6ce4"/><circle cx="1224.3" cy="1424.38" r="5.75" fill="#1a6ce4"/><circle cx="1235.05" cy="1401.41" r="5.75" fill="#1a6ce4"/><circle cx="1245.8" cy="1384.26" r="5.75" fill="#1a6ce4"/><circle cx="1256.55" cy="1366.13" r="5.75" fill="#1a6ce4"/><circle cx="1267.85" cy="1343.41" r="5.75" fill="#1a6ce4"/><circle cx="1278.6" cy="1320.26" r="5.75" fill="#1a6ce4"/><circle cx="1289.35" cy="1300.52" r="5.75" fill="#1a6ce4"/><circle cx="1300.1" cy="1286.17" r="5.75" fill="#1a6ce4"/><circle cx="1310.85" cy="1278.64" r="5.75" fill="#1a6ce4"/><circle cx="1322.42" cy="1275.59" r="5.75" fill="#1a6ce4"/><circle cx="1333.17" cy="1273.99" r="5.75" fill="#1a6ce4"/><circle cx="1343.92" cy="1272.65" r="5.75" fill="#1a6ce4"/><circle cx="1354.67" cy="1271.99" r="5.75" fill="#1a6ce4"/><circle cx="1365.42" cy="1271.97" r="5.75" fill="#1a6ce4"/><circle cx="1376.17" cy="1272.33" r="5.75" fill="#1a6ce4"/><circle cx="1386.92" cy="1271.83" r="5.75" fill="#1a6ce4"/><circle cx="1398.22" cy="1273.65" r="5.75" fill="#1a6ce4"/></g>
<path d="M834.03 1660.91L844.78 1660.91M844.78 1660.91L855.53 1660.91M855.53 1660.91L865.86 1635.38M865.86 1635.38L877.02 1589.43M877.02 1589.43L887.77 1548.04M887.77 1548.04L899.07 1516.01M899.07 1516.01L909.27 1480.23M909.27 1480.23L920.57 1441.05M920.57 1441.05L931.32 1405.68M931.32 1405.68L942.35 1358.06M942.35 1358.06L952.82 1314.3M952.82 1314.3L963.15 1279.94M963.15 1279.94L974.45 1272.5M974.45 1272.5L985.2 1274M985.2 1274L995.95 1271.8M995.95 1271.8L1006.7 1274.27M1006.7 1274.27L1017.45 1272.27M1017.45 1272.27L1028.2 1272.5M1028.2 1272.5L1038.95 1274.41M1038.95 1274.41L1049.7 1274.51M1049.7 1274.51L1060.45 1273.03M1060.45 1273.03L1071.2 1274.17M1071.2 1274.17L1081.95 1273.99M1081.95 1273.99L1092.7 1271.55M1092.7 1271.55L1103.44 1274.33M1103.44 1274.33L1114.19 1271.67M1114.19 1271.67L1124.94 1272.25M1124.94 1272.25L1135.69 1273.18M1135.69 1273.18L1146.44 1273.29M1146.44 1273.29L1157.19 1274.59M1157.19 1274.59L1167.94 1272.01M1167.94 1272.01L1178.69 1273.22M1178.69 1273.22L1189.44 1273.37M1189.44 1273.37L1200.19 1274.11M1200.19 1274.11L1210.94 1274.58M1210.94 1274.58L1221.69 1272.14M1221.69 1272.14L1232.43 1271.96M1232.43 1271.96L1243.18 1273.37M1243.18 1273.37L1253.93 1273.06M1253.93 1273.06L1264.68 1272.13M1264.68 1272.13L1275.43 1271.8M1275.43 1271.8L1286.18 1272.21M1286.18 1272.21L1296.93 1273.37M1296.93 1273.37L1307.68 1271.9" stroke="#39a96b" stroke-width="2.2" fill="none"/>
<g><circle cx="834.03" cy="1660.91" r="5.05" fill="#fff" stroke="#39a96b" stroke-width="1.4"/><circle cx="844.78" cy="1660.91" r="5.05" fill="#fff" stroke="#39a96b" stroke-width="1.4"/><circle cx="855.53" cy="1660.91" r="5.05" fill="#fff" stroke="#39a96b" stroke-width="1.4"/><circle cx="865.86" cy="1635.38" r="5.05" fill="#fff" stroke="#39a96b" stroke-width="1.4"/><circle cx="877.02" cy="1589.43" r="5.05" fill="#fff" stroke="#39a96b" stroke-width="1.4"/><circle cx="887.77" cy="1548.04" r="5.05" fill="#fff" stroke="#39a96b" stroke-width="1.4"/><circle cx="899.07" cy="1516.01" r="5.05" fill="#fff" stroke="#39a96b" stroke-width="1.4"/><circle cx="909.27" cy="1480.23" r="5.05" fill="#fff" stroke="#39a96b" stroke-width="1.4"/><circle cx="920.57" cy="1441.05" r="5.05" fill="#fff" stroke="#39a96b" stroke-width="1.4"/><circle cx="931.32" cy="1405.68" r="5.05" fill="#fff" stroke="#39a96b" stroke-width="1.4"/><circle cx="942.35" cy="1358.06" r="5.05" fill="#fff" stroke="#39a96b" stroke-width="1.4"/><circle cx="952.82" cy="1314.3" r="5.05" fill="#fff" stroke="#39a96b" stroke-width="1.4"/><circle cx="963.15" cy="1279.94" r="5.05" fill="#fff" stroke="#39a96b" stroke-width="1.4"/><circle cx="974.45" cy="1272.5" r="5.05" fill="#fff" stroke="#39a96b" stroke-width="1.4"/><circle cx="985.2" cy="1274" r="5.05" fill="#fff" stroke="#39a96b" stroke-width="1.4"/><circle cx="995.95" cy="1271.8" r="5.05" fill="#fff" stroke="#39a96b" stroke-width="1.4"/><circle cx="1006.7" cy="1274.27" r="5.05" fill="#fff" stroke="#39a96b" stroke-width="1.4"/><circle cx="1017.45" cy="1272.27" r="5.05" fill="#fff" stroke="#39a96b" stroke-width="1.4"/><circle cx="1028.2" cy="1272.5" r="5.05" fill="#fff" stroke="#39a96b" stroke-width="1.4"/><circle cx="1038.95" cy="1274.41" r="5.05" fill="#fff" stroke="#39a96b" stroke-width="1.4"/><circle cx="1049.7" cy="1274.51" r="5.05" fill="#fff" stroke="#39a96b" stroke-width="1.4"/><circle cx="1060.45" cy="1273.03" r="5.05" fill="#fff" stroke="#39a96b" stroke-width="1.4"/><circle cx="1071.2" cy="1274.17" r="5.05" fill="#fff" stroke="#39a96b" stroke-width="1.4"/><circle cx="1081.95" cy="1273.99" r="5.05" fill="#fff" stroke="#39a96b" stroke-width="1.4"/><circle cx="1092.7" cy="1271.55" r="5.05" fill="#fff" stroke="#39a96b" stroke-width="1.4"/><circle cx="1103.44" cy="1274.33" r="5.05" fill="#fff" stroke="#39a96b" stroke-width="1.4"/><circle cx="1114.19" cy="1271.67" r="5.05" fill="#fff" stroke="#39a96b" stroke-width="1.4"/><circle cx="1124.94" cy="1272.25" r="5.05" fill="#fff" stroke="#39a96b" stroke-width="1.4"/><circle cx="1135.69" cy="1273.18" r="5.05" fill="#fff" stroke="#39a96b" stroke-width="1.4"/><circle cx="1146.44" cy="1273.29" r="5.05" fill="#fff" stroke="#39a96b" stroke-width="1.4"/><circle cx="1157.19" cy="1274.59" r="5.05" fill="#fff" stroke="#39a96b" stroke-width="1.4"/><circle cx="1167.94" cy="1272.01" r="5.05" fill="#fff" stroke="#39a96b" stroke-width="1.4"/><circle cx="1178.69" cy="1273.22" r="5.05" fill="#fff" stroke="#39a96b" stroke-width="1.4"/><circle cx="1189.44" cy="1273.37" r="5.05" fill="#fff" stroke="#39a96b" stroke-width="1.4"/><circle cx="1200.19" cy="1274.11" r="5.05" fill="#fff" stroke="#39a96b" stroke-width="1.4"/><circle cx="1210.94" cy="1274.58" r="5.05" fill="#fff" stroke="#39a96b" stroke-width="1.4"/><circle cx="1221.69" cy="1272.14" r="5.05" fill="#fff" stroke="#39a96b" stroke-width="1.4"/><circle cx="1232.43" cy="1271.96" r="5.05" fill="#fff" stroke="#39a96b" stroke-width="1.4"/><circle cx="1243.18" cy="1273.37" r="5.05" fill="#fff" stroke="#39a96b" stroke-width="1.4"/><circle cx="1253.93" cy="1273.06" r="5.05" fill="#fff" stroke="#39a96b" stroke-width="1.4"/><circle cx="1264.68" cy="1272.13" r="5.05" fill="#fff" stroke="#39a96b" stroke-width="1.4"/><circle cx="1275.43" cy="1271.8" r="5.05" fill="#fff" stroke="#39a96b" stroke-width="1.4"/><circle cx="1286.18" cy="1272.21" r="5.05" fill="#fff" stroke="#39a96b" stroke-width="1.4"/><circle cx="1296.93" cy="1273.37" r="5.05" fill="#fff" stroke="#39a96b" stroke-width="1.4"/><circle cx="1307.68" cy="1271.9" r="5.05" fill="#fff" stroke="#39a96b" stroke-width="1.4"/></g>
<path d="M834.03 1660.91L844.78 1660.91M844.78 1660.91L855.53 1660.91M855.53 1660.91L866.27 1660.91M866.27 1660.91L877.02 1660.91M877.02 1660.91L887.77 1660.91M887.77 1660.91L898.52 1660.91M898.52 1660.91L909.27 1660.91M909.27 1660.91L920.02 1660.91M920.02 1660.91L930.77 1660.91M930.77 1660.91L941.52 1660.91M941.52 1660.91L952.27 1660.91M952.27 1660.91L963.02 1660.91M963.02 1660.91L973.77 1660.91M973.77 1660.91L984.51 1660.91M984.51 1660.91L996.09 1658.91M996.09 1658.91L1006.84 1655.68M1006.84 1655.68L1017.59 1652.51M1017.59 1652.51L1028.89 1646.83M1028.89 1646.83L1039.64 1636.71M1039.64 1636.71L1050.39 1628M1050.39 1628L1061.14 1619.53M1061.14 1619.53L1071.89 1608.29M1071.89 1608.29L1082.64 1596.1M1082.64 1596.1L1093.94 1584.95M1093.94 1584.95L1104.68 1567.74M1104.68 1567.74L1115.43 1551.27M1115.43 1551.27L1126.73 1533.45M1126.73 1533.45L1136.93 1524.39M1136.93 1524.39L1148.23 1514.26M1148.23 1514.26L1159.26 1500.42M1159.26 1500.42L1169.73 1489.59M1169.73 1489.59L1180.76 1478.87M1180.76 1478.87L1191.5 1464.49M1191.5 1464.49L1202.81 1451.28M1202.81 1451.28L1213.55 1440.27M1213.55 1440.27L1224.3 1421.62M1224.3 1421.62L1235.05 1401.63M1235.05 1401.63L1245.8 1384.51M1245.8 1384.51L1256.55 1366.01M1256.55 1366.01L1267.85 1346.26M1267.85 1346.26L1278.6 1318.9M1278.6 1318.9L1289.35 1300.48M1289.35 1300.48L1300.1 1284.6M1300.1 1284.6L1310.85 1278.48M1310.85 1278.48L1322.42 1275.5M1322.42 1275.5L1333.17 1271.74M1333.17 1271.74L1343.92 1273.16M1343.92 1273.16L1354.67 1273.09M1354.67 1273.09L1365.42 1274.44M1365.42 1274.44L1376.17 1273.32M1376.17 1273.32L1386.92 1272.77M1386.92 1272.77L1398.22 1273.74" stroke="#39a96b" stroke-width="2.2" fill="none"/>
<g><circle cx="834.03" cy="1660.91" r="5.75" fill="#39a96b"/><circle cx="844.78" cy="1660.91" r="5.75" fill="#39a96b"/><circle cx="855.53" cy="1660.91" r="5.75" fill="#39a96b"/><circle cx="866.27" cy="1660.91" r="5.75" fill="#39a96b"/><circle cx="877.02" cy="1660.91" r="5.75" fill="#39a96b"/><circle cx="887.77" cy="1660.91" r="5.75" fill="#39a96b"/><circle cx="898.52" cy="1660.91" r="5.75" fill="#39a96b"/><circle cx="909.27" cy="1660.91" r="5.75" fill="#39a96b"/><circle cx="920.02" cy="1660.91" r="5.75" fill="#39a96b"/><circle cx="930.77" cy="1660.91" r="5.75" fill="#39a96b"/><circle cx="941.52" cy="1660.91" r="5.75" fill="#39a96b"/><circle cx="952.27" cy="1660.91" r="5.75" fill="#39a96b"/><circle cx="963.02" cy="1660.91" r="5.75" fill="#39a96b"/><circle cx="973.77" cy="1660.91" r="5.75" fill="#39a96b"/><circle cx="984.51" cy="1660.91" r="5.75" fill="#39a96b"/><circle cx="996.09" cy="1658.91" r="5.75" fill="#39a96b"/><circle cx="1006.84" cy="1655.68" r="5.75" fill="#39a96b"/><circle cx="1017.59" cy="1652.51" r="5.75" fill="#39a96b"/><circle cx="1028.89" cy="1646.83" r="5.75" fill="#39a96b"/><circle cx="1039.64" cy="1636.71" r="5.75" fill="#39a96b"/><circle cx="1050.39" cy="1628" r="5.75" fill="#39a96b"/><circle cx="1061.14" cy="1619.53" r="5.75" fill="#39a96b"/><circle cx="1071.89" cy="1608.29" r="5.75" fill="#39a96b"/><circle cx="1082.64" cy="1596.1" r="5.75" fill="#39a96b"/><circle cx="1093.94" cy="1584.95" r="5.75" fill="#39a96b"/><circle cx="1104.68" cy="1567.74" r="5.75" fill="#39a96b"/><circle cx="1115.43" cy="1551.27" r="5.75" fill="#39a96b"/><circle cx="1126.73" cy="1533.45" r="5.75" fill="#39a96b"/><circle cx="1136.93" cy="1524.39" r="5.75" fill="#39a96b"/><circle cx="1148.23" cy="1514.26" r="5.75" fill="#39a96b"/><circle cx="1159.26" cy="1500.42" r="5.75" fill="#39a96b"/><circle cx="1169.73" cy="1489.59" r="5.75" fill="#39a96b"/><circle cx="1180.76" cy="1478.87" r="5.75" fill="#39a96b"/><circle cx="1191.5" cy="1464.49" r="5.75" fill="#39a96b"/><circle cx="1202.81" cy="1451.28" r="5.75" fill="#39a96b"/><circle cx="1213.55" cy="1440.27" r="5.75" fill="#39a96b"/><circle cx="1224.3" cy="1421.62" r="5.75" fill="#39a96b"/><circle cx="1235.05" cy="1401.63" r="5.75" fill="#39a96b"/><circle cx="1245.8" cy="1384.51" r="5.75" fill="#39a96b"/><circle cx="1256.55" cy="1366.01" r="5.75" fill="#39a96b"/><circle cx="1267.85" cy="1346.26" r="5.75" fill="#39a96b"/><circle cx="1278.6" cy="1318.9" r="5.75" fill="#39a96b"/><circle cx="1289.35" cy="1300.48" r="5.75" fill="#39a96b"/><circle cx="1300.1" cy="1284.6" r="5.75" fill="#39a96b"/><circle cx="1310.85" cy="1278.48" r="5.75" fill="#39a96b"/><circle cx="1322.42" cy="1275.5" r="5.75" fill="#39a96b"/><circle cx="1333.17" cy="1271.74" r="5.75" fill="#39a96b"/><circle cx="1343.92" cy="1273.16" r="5.75" fill="#39a96b"/><circle cx="1354.67" cy="1273.09" r="5.75" fill="#39a96b"/><circle cx="1365.42" cy="1274.44" r="5.75" fill="#39a96b"/><circle cx="1376.17" cy="1273.32" r="5.75" fill="#39a96b"/><circle cx="1386.92" cy="1272.77" r="5.75" fill="#39a96b"/><circle cx="1398.22" cy="1273.74" r="5.75" fill="#39a96b"/></g>
<path d="M834.03 1660.91L844.78 1660.91M844.78 1660.91L855.53 1660.91M855.53 1660.91L865.86 1632.83M865.86 1632.83L877.02 1588.52M877.02 1588.52L887.77 1545.57M887.77 1545.57L899.07 1513.35M899.07 1513.35L909.27 1477.98M909.27 1477.98L920.57 1439.95M920.57 1439.95L931.32 1403.47M931.32 1403.47L942.35 1355.98M942.35 1355.98L952.82 1312.48M952.82 1312.48L963.15 1280.51M963.15 1280.51L974.45 1271.56M974.45 1271.56L985.2 1274.4M985.2 1274.4L995.95 1273.29M995.95 1273.29L1006.7 1271.61M1006.7 1271.61L1017.45 1273M1017.45 1273L1028.2 1272.38M1028.2 1272.38L1038.95 1271.59M1038.95 1271.59L1049.7 1272.75M1049.7 1272.75L1060.45 1272.69M1060.45 1272.69L1071.2 1273.99M1071.2 1273.99L1081.95 1272.99M1081.95 1272.99L1092.7 1273.25M1092.7 1273.25L1103.44 1273.21M1103.44 1273.21L1114.19 1272.82M1114.19 1272.82L1124.94 1272.21M1124.94 1272.21L1135.69 1271.53M1135.69 1271.53L1146.44 1272.35M1146.44 1272.35L1157.19 1274.27M1157.19 1274.27L1167.94 1272.19M1167.94 1272.19L1178.69 1273.51M1178.69 1273.51L1189.44 1272.5M1189.44 1272.5L1200.19 1272.79M1200.19 1272.79L1210.94 1272.29M1210.94 1272.29L1221.69 1273.85M1221.69 1273.85L1232.43 1271.79M1232.43 1271.79L1243.18 1274.5M1243.18 1274.5L1253.93 1273.79M1253.93 1273.79L1264.68 1272.69M1264.68 1272.69L1275.43 1272.95M1275.43 1272.95L1286.18 1274.36M1286.18 1274.36L1296.93 1272.92M1296.93 1272.92L1307.68 1273.47" stroke="#aa7ee0" stroke-width="2.2" fill="none"/>
<g><circle cx="834.03" cy="1660.91" r="5.05" fill="#fff" stroke="#aa7ee0" stroke-width="1.4"/><circle cx="844.78" cy="1660.91" r="5.05" fill="#fff" stroke="#aa7ee0" stroke-width="1.4"/><circle cx="855.53" cy="1660.91" r="5.05" fill="#fff" stroke="#aa7ee0" stroke-width="1.4"/><circle cx="865.86" cy="1632.83" r="5.05" fill="#fff" stroke="#aa7ee0" stroke-width="1.4"/><circle cx="877.02" cy="1588.52" r="5.05" fill="#fff" stroke="#aa7ee0" stroke-width="1.4"/><circle cx="887.77" cy="1545.57" r="5.05" fill="#fff" stroke="#aa7ee0" stroke-width="1.4"/><circle cx="899.07" cy="1513.35" r="5.05" fill="#fff" stroke="#aa7ee0" stroke-width="1.4"/><circle cx="909.27" cy="1477.98" r="5.05" fill="#fff" stroke="#aa7ee0" stroke-width="1.4"/><circle cx="920.57" cy="1439.95" r="5.05" fill="#fff" stroke="#aa7ee0" stroke-width="1.4"/><circle cx="931.32" cy="1403.47" r="5.05" fill="#fff" stroke="#aa7ee0" stroke-width="1.4"/><circle cx="942.35" cy="1355.98" r="5.05" fill="#fff" stroke="#aa7ee0" stroke-width="1.4"/><circle cx="952.82" cy="1312.48" r="5.05" fill="#fff" stroke="#aa7ee0" stroke-width="1.4"/><circle cx="963.15" cy="1280.51" r="5.05" fill="#fff" stroke="#aa7ee0" stroke-width="1.4"/><circle cx="974.45" cy="1271.56" r="5.05" fill="#fff" stroke="#aa7ee0" stroke-width="1.4"/><circle cx="985.2" cy="1274.4" r="5.05" fill="#fff" stroke="#aa7ee0" stroke-width="1.4"/><circle cx="995.95" cy="1273.29" r="5.05" fill="#fff" stroke="#aa7ee0" stroke-width="1.4"/><circle cx="1006.7" cy="1271.61" r="5.05" fill="#fff" stroke="#aa7ee0" stroke-width="1.4"/><circle cx="1017.45" cy="1273" r="5.05" fill="#fff" stroke="#aa7ee0" stroke-width="1.4"/><circle cx="1028.2" cy="1272.38" r="5.05" fill="#fff" stroke="#aa7ee0" stroke-width="1.4"/><circle cx="1038.95" cy="1271.59" r="5.05" fill="#fff" stroke="#aa7ee0" stroke-width="1.4"/><circle cx="1049.7" cy="1272.75" r="5.05" fill="#fff" stroke="#aa7ee0" stroke-width="1.4"/><circle cx="1060.45" cy="1272.69" r="5.05" fill="#fff" stroke="#aa7ee0" stroke-width="1.4"/><circle cx="1071.2" cy="1273.99" r="5.05" fill="#fff" stroke="#aa7ee0" stroke-width="1.4"/><circle cx="1081.95" cy="1272.99" r="5.05" fill="#fff" stroke="#aa7ee0" stroke-width="1.4"/><circle cx="1092.7" cy="1273.25" r="5.05" fill="#fff" stroke="#aa7ee0" stroke-width="1.4"/><circle cx="1103.44" cy="1273.21" r="5.05" fill="#fff" stroke="#aa7ee0" stroke-width="1.4"/><circle cx="1114.19" cy="1272.82" r="5.05" fill="#fff" stroke="#aa7ee0" stroke-width="1.4"/><circle cx="1124.94" cy="1272.21" r="5.05" fill="#fff" stroke="#aa7ee0" stroke-width="1.4"/><circle cx="1135.69" cy="1271.53" r="5.05" fill="#fff" stroke="#aa7ee0" stroke-width="1.4"/><circle cx="1146.44" cy="1272.35" r="5.05" fill="#fff" stroke="#aa7ee0" stroke-width="1.4"/><circle cx="1157.19" cy="1274.27" r="5.05" fill="#fff" stroke="#aa7ee0" stroke-width="1.4"/><circle cx="1167.94" cy="1272.19" r="5.05" fill="#fff" stroke="#aa7ee0" stroke-width="1.4"/><circle cx="1178.69" cy="1273.51" r="5.05" fill="#fff" stroke="#aa7ee0" stroke-width="1.4"/><circle cx="1189.44" cy="1272.5" r="5.05" fill="#fff" stroke="#aa7ee0" stroke-width="1.4"/><circle cx="1200.19" cy="1272.79" r="5.05" fill="#fff" stroke="#aa7ee0" stroke-width="1.4"/><circle cx="1210.94" cy="1272.29" r="5.05" fill="#fff" stroke="#aa7ee0" stroke-width="1.4"/><circle cx="1221.69" cy="1273.85" r="5.05" fill="#fff" stroke="#aa7ee0" stroke-width="1.4"/><circle cx="1232.43" cy="1271.79" r="5.05" fill="#fff" stroke="#aa7ee0" stroke-width="1.4"/><circle cx="1243.18" cy="1274.5" r="5.05" fill="#fff" stroke="#aa7ee0" stroke-width="1.4"/><circle cx="1253.93" cy="1273.79" r="5.05" fill="#fff" stroke="#aa7ee0" stroke-width="1.4"/><circle cx="1264.68" cy="1272.69" r="5.05" fill="#fff" stroke="#aa7ee0" stroke-width="1.4"/><circle cx="1275.43" cy="1272.95" r="5.05" fill="#fff" stroke="#aa7ee0" stroke-width="1.4"/><circle cx="1286.18" cy="1274.36" r="5.05" fill="#fff" stroke="#aa7ee0" stroke-width="1.4"/><circle cx="1296.93" cy="1272.92" r="5.05" fill="#fff" stroke="#aa7ee0" stroke-width="1.4"/><circle cx="1307.68" cy="1273.47" r="5.05" fill="#fff" stroke="#aa7ee0" stroke-width="1.4"/></g>
<path d="M834.03 1660.91L844.78 1660.91M844.78 1660.91L855.53 1660.91M855.53 1660.91L866.27 1660.91M866.27 1660.91L877.02 1660.91M877.02 1660.91L887.77 1660.91M887.77 1660.91L898.52 1660.91M898.52 1660.91L909.27 1660.91M909.27 1660.91L920.02 1660.91M920.02 1660.91L930.77 1660.91M930.77 1660.91L941.52 1660.91M941.52 1660.91L952.27 1660.91M952.27 1660.91L963.02 1660.91M963.02 1660.91L973.77 1660.91M973.77 1660.91L984.51 1660.91M984.51 1660.91L996.09 1658.82M996.09 1658.82L1006.84 1655.57M1006.84 1655.57L1017.59 1652.09M1017.59 1652.09L1028.89 1646.16M1028.89 1646.16L1039.64 1636.49M1039.64 1636.49L1050.39 1627.1M1050.39 1627.1L1061.14 1618.39M1061.14 1618.39L1071.89 1605.92M1071.89 1605.92L1082.64 1594.21M1082.64 1594.21L1093.94 1583.1M1093.94 1583.1L1104.68 1566.92M1104.68 1566.92L1115.43 1546.68M1115.43 1546.68L1126.73 1532.21M1126.73 1532.21L1136.93 1524.12M1136.93 1524.12L1148.23 1513.87M1148.23 1513.87L1159.26 1500.09M1159.26 1500.09L1169.73 1489.91M1169.73 1489.91L1180.76 1477.3M1180.76 1477.3L1191.5 1463.68M1191.5 1463.68L1202.81 1451.25M1202.81 1451.25L1213.55 1436.4M1213.55 1436.4L1224.3 1418.89M1224.3 1418.89L1235.05 1400.7M1235.05 1400.7L1245.8 1381.6M1245.8 1381.6L1256.55 1363.9M1256.55 1363.9L1267.85 1338.76M1267.85 1338.76L1278.6 1315.86M1278.6 1315.86L1289.35 1298.56M1289.35 1298.56L1300.1 1284.4M1300.1 1284.4L1310.85 1277.85M1310.85 1277.85L1322.42 1275.27M1322.42 1275.27L1333.17 1271.78M1333.17 1271.78L1343.92 1271.79M1343.92 1271.79L1354.67 1272.13M1354.67 1272.13L1365.42 1273.64M1365.42 1273.64L1376.17 1271.73M1376.17 1271.73L1386.92 1273.86M1386.92 1273.86L1398.22 1273.49" stroke="#aa7ee0" stroke-width="2.2" fill="none"/>
<g><circle cx="834.03" cy="1660.91" r="5.75" fill="#aa7ee0"/><circle cx="844.78" cy="1660.91" r="5.75" fill="#aa7ee0"/><circle cx="855.53" cy="1660.91" r="5.75" fill="#aa7ee0"/><circle cx="866.27" cy="1660.91" r="5.75" fill="#aa7ee0"/><circle cx="877.02" cy="1660.91" r="5.75" fill="#aa7ee0"/><circle cx="887.77" cy="1660.91" r="5.75" fill="#aa7ee0"/><circle cx="898.52" cy="1660.91" r="5.75" fill="#aa7ee0"/><circle cx="909.27" cy="1660.91" r="5.75" fill="#aa7ee0"/><circle cx="920.02" cy="1660.91" r="5.75" fill="#aa7ee0"/><circle cx="930.77" cy="1660.91" r="5.75" fill="#aa7ee0"/><circle cx="941.52" cy="1660.91" r="5.75" fill="#aa7ee0"/><circle cx="952.27" cy="1660.91" r="5.75" fill="#aa7ee0"/><circle cx="963.02" cy="1660.91" r="5.75" fill="#aa7ee0"/><circle cx="973.77" cy="1660.91" r="5.75" fill="#aa7ee0"/><circle cx="984.51" cy="1660.91" r="5.75" fill="#aa7ee0"/><circle cx="996.09" cy="1658.82" r="5.75" fill="#aa7ee0"/><circle cx="1006.84" cy="1655.57" r="5.75" fill="#aa7ee0"/><circle cx="1017.59" cy="1652.09" r="5.75" fill="#aa7ee0"/><circle cx="1028.89" cy="1646.16" r="5.75" fill="#aa7ee0"/><circle cx="1039.64" cy="1636.49" r="5.75" fill="#aa7ee0"/><circle cx="1050.39" cy="1627.1" r="5.75" fill="#aa7ee0"/><circle cx="1061.14" cy="1618.39" r="5.75" fill="#aa7ee0"/><circle cx="1071.89" cy="1605.92" r="5.75" fill="#aa7ee0"/><circle cx="1082.64" cy="1594.21" r="5.75" fill="#aa7ee0"/><circle cx="1093.94" cy="1583.1" r="5.75" fill="#aa7ee0"/><circle cx="1104.68" cy="1566.92" r="5.75" fill="#aa7ee0"/><circle cx="1115.43" cy="1546.68" r="5.75" fill="#aa7ee0"/><circle cx="1126.73" cy="1532.21" r="5.75" fill="#aa7ee0"/><circle cx="1136.93" cy="1524.12" r="5.75" fill="#aa7ee0"/><circle cx="1148.23" cy="1513.87" r="5.75" fill="#aa7ee0"/><circle cx="1159.26" cy="1500.09" r="5.75" fill="#aa7ee0"/><circle cx="1169.73" cy="1489.91" r="5.75" fill="#aa7ee0"/><circle cx="1180.76" cy="1477.3" r="5.75" fill="#aa7ee0"/><circle cx="1191.5" cy="1463.68" r="5.75" fill="#aa7ee0"/><circle cx="1202.81" cy="1451.25" r="5.75" fill="#aa7ee0"/><circle cx="1213.55" cy="1436.4" r="5.75" fill="#aa7ee0"/><circle cx="1224.3" cy="1418.89" r="5.75" fill="#aa7ee0"/><circle cx="1235.05" cy="1400.7" r="5.75" fill="#aa7ee0"/><circle cx="1245.8" cy="1381.6" r="5.75" fill="#aa7ee0"/><circle cx="1256.55" cy="1363.9" r="5.75" fill="#aa7ee0"/><circle cx="1267.85" cy="1338.76" r="5.75" fill="#aa7ee0"/><circle cx="1278.6" cy="1315.86" r="5.75" fill="#aa7ee0"/><circle cx="1289.35" cy="1298.56" r="5.75" fill="#aa7ee0"/><circle cx="1300.1" cy="1284.4" r="5.75" fill="#aa7ee0"/><circle cx="1310.85" cy="1277.85" r="5.75" fill="#aa7ee0"/><circle cx="1322.42" cy="1275.27" r="5.75" fill="#aa7ee0"/><circle cx="1333.17" cy="1271.78" r="5.75" fill="#aa7ee0"/><circle cx="1343.92" cy="1271.79" r="5.75" fill="#aa7ee0"/><circle cx="1354.67" cy="1272.13" r="5.75" fill="#aa7ee0"/><circle cx="1365.42" cy="1273.64" r="5.75" fill="#aa7ee0"/><circle cx="1376.17" cy="1271.73" r="5.75" fill="#aa7ee0"/><circle cx="1386.92" cy="1273.86" r="5.75" fill="#aa7ee0"/><circle cx="1398.22" cy="1273.49" r="5.75" fill="#aa7ee0"/></g>
<path d="M834.03 1660.91L844.78 1660.91M844.78 1660.91L855.53 1660.91M855.53 1660.91L865.86 1629.52M865.86 1629.52L877.02 1587.68M877.02 1587.68L887.77 1546.52M887.77 1546.52L899.07 1512.85M899.07 1512.85L909.27 1478.86M909.27 1478.86L920.57 1439.68M920.57 1439.68L931.32 1399.94M931.32 1399.94L942.35 1355.31M942.35 1355.31L952.82 1310.05M952.82 1310.05L963.15 1278.23M963.15 1278.23L974.45 1273.03M974.45 1273.03L985.2 1272.87M985.2 1272.87L995.95 1272.61M995.95 1272.61L1006.7 1274.43M1006.7 1274.43L1017.45 1272.18M1017.45 1272.18L1028.2 1274.37M1028.2 1274.37L1038.95 1271.84M1038.95 1271.84L1049.7 1272.66M1049.7 1272.66L1060.45 1272.31M1060.45 1272.31L1071.2 1273.86M1071.2 1273.86L1081.95 1272.25M1081.95 1272.25L1092.7 1272.25M1092.7 1272.25L1103.44 1273.58M1103.44 1273.58L1114.19 1272.54M1114.19 1272.54L1124.94 1272.96M1124.94 1272.96L1135.69 1272.43M1135.69 1272.43L1146.44 1273.35M1146.44 1273.35L1157.19 1272.56M1157.19 1272.56L1167.94 1272.13M1167.94 1272.13L1178.69 1271.87M1178.69 1271.87L1189.44 1272.64M1189.44 1272.64L1200.19 1272.42M1200.19 1272.42L1210.94 1273.32M1210.94 1273.32L1221.69 1274.17M1221.69 1274.17L1232.43 1271.55M1232.43 1271.55L1243.18 1274.11M1243.18 1274.11L1253.93 1273.31M1253.93 1273.31L1264.68 1271.62M1264.68 1271.62L1275.43 1273.67M1275.43 1273.67L1286.18 1272.62M1286.18 1272.62L1296.93 1274.07M1296.93 1274.07L1307.68 1273.2" stroke="#d09c0a" stroke-width="2.2" fill="none"/>
<g><circle cx="834.03" cy="1660.91" r="5.05" fill="#fff" stroke="#d09c0a" stroke-width="1.4"/><circle cx="844.78" cy="1660.91" r="5.05" fill="#fff" stroke="#d09c0a" stroke-width="1.4"/><circle cx="855.53" cy="1660.91" r="5.05" fill="#fff" stroke="#d09c0a" stroke-width="1.4"/><circle cx="865.86" cy="1629.52" r="5.05" fill="#fff" stroke="#d09c0a" stroke-width="1.4"/><circle cx="877.02" cy="1587.68" r="5.05" fill="#fff" stroke="#d09c0a" stroke-width="1.4"/><circle cx="887.77" cy="1546.52" r="5.05" fill="#fff" stroke="#d09c0a" stroke-width="1.4"/><circle cx="899.07" cy="1512.85" r="5.05" fill="#fff" stroke="#d09c0a" stroke-width="1.4"/><circle cx="909.27" cy="1478.86" r="5.05" fill="#fff" stroke="#d09c0a" stroke-width="1.4"/><circle cx="920.57" cy="1439.68" r="5.05" fill="#fff" stroke="#d09c0a" stroke-width="1.4"/><circle cx="931.32" cy="1399.94" r="5.05" fill="#fff" stroke="#d09c0a" stroke-width="1.4"/><circle cx="942.35" cy="1355.31" r="5.05" fill="#fff" stroke="#d09c0a" stroke-width="1.4"/><circle cx="952.82" cy="1310.05" r="5.05" fill="#fff" stroke="#d09c0a" stroke-width="1.4"/><circle cx="963.15" cy="1278.23" r="5.05" fill="#fff" stroke="#d09c0a" stroke-width="1.4"/><circle cx="974.45" cy="1273.03" r="5.05" fill="#fff" stroke="#d09c0a" stroke-width="1.4"/><circle cx="985.2" cy="1272.87" r="5.05" fill="#fff" stroke="#d09c0a" stroke-width="1.4"/><circle cx="995.95" cy="1272.61" r="5.05" fill="#fff" stroke="#d09c0a" stroke-width="1.4"/><circle cx="1006.7" cy="1274.43" r="5.05" fill="#fff" stroke="#d09c0a" stroke-width="1.4"/><circle cx="1017.45" cy="1272.18" r="5.05" fill="#fff" stroke="#d09c0a" stroke-width="1.4"/><circle cx="1028.2" cy="1274.37" r="5.05" fill="#fff" stroke="#d09c0a" stroke-width="1.4"/><circle cx="1038.95" cy="1271.84" r="5.05" fill="#fff" stroke="#d09c0a" stroke-width="1.4"/><circle cx="1049.7" cy="1272.66" r="5.05" fill="#fff" stroke="#d09c0a" stroke-width="1.4"/><circle cx="1060.45" cy="1272.31" r="5.05" fill="#fff" stroke="#d09c0a" stroke-width="1.4"/><circle cx="1071.2" cy="1273.86" r="5.05" fill="#fff" stroke="#d09c0a" stroke-width="1.4"/><circle cx="1081.95" cy="1272.25" r="5.05" fill="#fff" stroke="#d09c0a" stroke-width="1.4"/><circle cx="1092.7" cy="1272.25" r="5.05" fill="#fff" stroke="#d09c0a" stroke-width="1.4"/><circle cx="1103.44" cy="1273.58" r="5.05" fill="#fff" stroke="#d09c0a" stroke-width="1.4"/><circle cx="1114.19" cy="1272.54" r="5.05" fill="#fff" stroke="#d09c0a" stroke-width="1.4"/><circle cx="1124.94" cy="1272.96" r="5.05" fill="#fff" stroke="#d09c0a" stroke-width="1.4"/><circle cx="1135.69" cy="1272.43" r="5.05" fill="#fff" stroke="#d09c0a" stroke-width="1.4"/><circle cx="1146.44" cy="1273.35" r="5.05" fill="#fff" stroke="#d09c0a" stroke-width="1.4"/><circle cx="1157.19" cy="1272.56" r="5.05" fill="#fff" stroke="#d09c0a" stroke-width="1.4"/><circle cx="1167.94" cy="1272.13" r="5.05" fill="#fff" stroke="#d09c0a" stroke-width="1.4"/><circle cx="1178.69" cy="1271.87" r="5.05" fill="#fff" stroke="#d09c0a" stroke-width="1.4"/><circle cx="1189.44" cy="1272.64" r="5.05" fill="#fff" stroke="#d09c0a" stroke-width="1.4"/><circle cx="1200.19" cy="1272.42" r="5.05" fill="#fff" stroke="#d09c0a" stroke-width="1.4"/><circle cx="1210.94" cy="1273.32" r="5.05" fill="#fff" stroke="#d09c0a" stroke-width="1.4"/><circle cx="1221.69" cy="1274.17" r="5.05" fill="#fff" stroke="#d09c0a" stroke-width="1.4"/><circle cx="1232.43" cy="1271.55" r="5.05" fill="#fff" stroke="#d09c0a" stroke-width="1.4"/><circle cx="1243.18" cy="1274.11" r="5.05" fill="#fff" stroke="#d09c0a" stroke-width="1.4"/><circle cx="1253.93" cy="1273.31" r="5.05" fill="#fff" stroke="#d09c0a" stroke-width="1.4"/><circle cx="1264.68" cy="1271.62" r="5.05" fill="#fff" stroke="#d09c0a" stroke-width="1.4"/><circle cx="1275.43" cy="1273.67" r="5.05" fill="#fff" stroke="#d09c0a" stroke-width="1.4"/><circle cx="1286.18" cy="1272.62" r="5.05" fill="#fff" stroke="#d09c0a" stroke-width="1.4"/><circle cx="1296.93" cy="1274.07" r="5.05" fill="#fff" stroke="#d09c0a" stroke-width="1.4"/><circle cx="1307.68" cy="1273.2" r="5.05" fill="#fff" stroke="#d09c0a" stroke-width="1.4"/></g>
<path d="M834.03 1660.91L844.78 1660.91M844.78 1660.91L855.53 1660.91M855.53 1660.91L866.27 1660.91M866.27 1660.91L877.02 1660.91M877.02 1660.91L887.77 1660.91M887.77 1660.91L898.52 1660.91M898.52 1660.91L909.27 1660.91M909.27 1660.91L920.02 1660.91M920.02 1660.91L930.77 1660.91M930.77 1660.91L941.52 1660.91M941.52 1660.91L952.27 1660.91M952.27 1660.91L963.02 1660.91M963.02 1660.91L973.77 1660.91M973.77 1660.91L984.51 1660.91M984.51 1660.91L996.09 1658.4M996.09 1658.4L1006.84 1655.16M1006.84 1655.16L1017.59 1651.91M1017.59 1651.91L1028.89 1645.13M1028.89 1645.13L1039.64 1635.58M1039.64 1635.58L1050.39 1626.33M1050.39 1626.33L1061.14 1617.56M1061.14 1617.56L1071.89 1605.06M1071.89 1605.06L1082.64 1594.68M1082.64 1594.68L1093.94 1580.74M1093.94 1580.74L1104.68 1566.23M1104.68 1566.23L1115.43 1544.82M1115.43 1544.82L1126.73 1531.89M1126.73 1531.89L1136.93 1523.82M1136.93 1523.82L1148.23 1512.18M1148.23 1512.18L1159.26 1499.49M1159.26 1499.49L1169.73 1488.5M1169.73 1488.5L1180.76 1476.81M1180.76 1476.81L1191.5 1464.27M1191.5 1464.27L1202.81 1450.2M1202.81 1450.2L1213.55 1435.66M1213.55 1435.66L1224.3 1416.39M1224.3 1416.39L1235.05 1398.11M1235.05 1398.11L1245.8 1378.94M1245.8 1378.94L1256.55 1363.84M1256.55 1363.84L1267.85 1339.04M1267.85 1339.04L1278.6 1314.9M1278.6 1314.9L1289.35 1295.55M1289.35 1295.55L1300.1 1283.21M1300.1 1283.21L1310.85 1277.7M1310.85 1277.7L1322.42 1274.92M1322.42 1274.92L1333.17 1273.02M1333.17 1273.02L1343.92 1271.55M1343.92 1271.55L1354.67 1272.97M1354.67 1272.97L1365.42 1272.24M1365.42 1272.24L1376.17 1272.08M1376.17 1272.08L1386.92 1272.08M1386.92 1272.08L1398.22 1273.79" stroke="#d09c0a" stroke-width="2.2" fill="none"/>
<g><circle cx="834.03" cy="1660.91" r="5.75" fill="#d09c0a"/><circle cx="844.78" cy="1660.91" r="5.75" fill="#d09c0a"/><circle cx="855.53" cy="1660.91" r="5.75" fill="#d09c0a"/><circle cx="866.27" cy="1660.91" r="5.75" fill="#d09c0a"/><circle cx="877.02" cy="1660.91" r="5.75" fill="#d09c0a"/><circle cx="887.77" cy="1660.91" r="5.75" fill="#d09c0a"/><circle cx="898.52" cy="1660.91" r="5.75" fill="#d09c0a"/><circle cx="909.27" cy="1660.91" r="5.75" fill="#d09c0a"/><circle cx="920.02" cy="1660.91" r="5.75" fill="#d09c0a"/><circle cx="930.77" cy="1660.91" r="5.75" fill="#d09c0a"/><circle cx="941.52" cy="1660.91" r="5.75" fill="#d09c0a"/><circle cx="952.27" cy="1660.91" r="5.75" fill="#d09c0a"/><circle cx="963.02" cy="1660.91" r="5.75" fill="#d09c0a"/><circle cx="973.77" cy="1660.91" r="5.75" fill="#d09c0a"/><circle cx="984.51" cy="1660.91" r="5.75" fill="#d09c0a"/><circle cx="996.09" cy="1658.4" r="5.75" fill="#d09c0a"/><circle cx="1006.84" cy="1655.16" r="5.75" fill="#d09c0a"/><circle cx="1017.59" cy="1651.91" r="5.75" fill="#d09c0a"/><circle cx="1028.89" cy="1645.13" r="5.75" fill="#d09c0a"/><circle cx="1039.64" cy="1635.58" r="5.75" fill="#d09c0a"/><circle cx="1050.39" cy="1626.33" r="5.75" fill="#d09c0a"/><circle cx="1061.14" cy="1617.56" r="5.75" fill="#d09c0a"/><circle cx="1071.89" cy="1605.06" r="5.75" fill="#d09c0a"/><circle cx="1082.64" cy="1594.68" r="5.75" fill="#d09c0a"/><circle cx="1093.94" cy="1580.74" r="5.75" fill="#d09c0a"/><circle cx="1104.68" cy="1566.23" r="5.75" fill="#d09c0a"/><circle cx="1115.43" cy="1544.82" r="5.75" fill="#d09c0a"/><circle cx="1126.73" cy="1531.89" r="5.75" fill="#d09c0a"/><circle cx="1136.93" cy="1523.82" r="5.75" fill="#d09c0a"/><circle cx="1148.23" cy="1512.18" r="5.75" fill="#d09c0a"/><circle cx="1159.26" cy="1499.49" r="5.75" fill="#d09c0a"/><circle cx="1169.73" cy="1488.5" r="5.75" fill="#d09c0a"/><circle cx="1180.76" cy="1476.81" r="5.75" fill="#d09c0a"/><circle cx="1191.5" cy="1464.27" r="5.75" fill="#d09c0a"/><circle cx="1202.81" cy="1450.2" r="5.75" fill="#d09c0a"/><circle cx="1213.55" cy="1435.66" r="5.75" fill="#d09c0a"/><circle cx="1224.3" cy="1416.39" r="5.75" fill="#d09c0a"/><circle cx="1235.05" cy="1398.11" r="5.75" fill="#d09c0a"/><circle cx="1245.8" cy="1378.94" r="5.75" fill="#d09c0a"/><circle cx="1256.55" cy="1363.84" r="5.75" fill="#d09c0a"/><circle cx="1267.85" cy="1339.04" r="5.75" fill="#d09c0a"/><circle cx="1278.6" cy="1314.9" r="5.75" fill="#d09c0a"/><circle cx="1289.35" cy="1295.55" r="5.75" fill="#d09c0a"/><circle cx="1300.1" cy="1283.21" r="5.75" fill="#d09c0a"/><circle cx="1310.85" cy="1277.7" r="5.75" fill="#d09c0a"/><circle cx="1322.42" cy="1274.92" r="5.75" fill="#d09c0a"/><circle cx="1333.17" cy="1273.02" r="5.75" fill="#d09c0a"/><circle cx="1343.92" cy="1271.55" r="5.75" fill="#d09c0a"/><circle cx="1354.67" cy="1272.97" r="5.75" fill="#d09c0a"/><circle cx="1365.42" cy="1272.24" r="5.75" fill="#d09c0a"/><circle cx="1376.17" cy="1272.08" r="5.75" fill="#d09c0a"/><circle cx="1386.92" cy="1272.08" r="5.75" fill="#d09c0a"/><circle cx="1398.22" cy="1273.79" r="5.75" fill="#d09c0a"/></g>
<path d="M834.03 1660.91L844.78 1660.91M844.78 1660.91L855.53 1660.91M855.53 1660.91L865.86 1628.64M865.86 1628.64L877.02 1586.72M877.02 1586.72L887.77 1543.99M887.77 1543.99L899.07 1512.07M899.07 1512.07L909.27 1475.84M909.27 1475.84L920.57 1438.52M920.57 1438.52L931.32 1398.99M931.32 1398.99L942.35 1353.48M942.35 1353.48L952.82 1305.66M952.82 1305.66L963.15 1277.96M963.15 1277.96L974.45 1272.94M974.45 1272.94L985.2 1274.14M985.2 1274.14L995.95 1273.66M995.95 1273.66L1006.7 1274.39M1006.7 1274.39L1017.45 1273.18M1017.45 1273.18L1028.2 1273.51M1028.2 1273.51L1038.95 1274.3M1038.95 1274.3L1049.7 1273.19M1049.7 1273.19L1060.45 1272.05M1060.45 1272.05L1071.2 1274.59M1071.2 1274.59L1081.95 1272.42M1081.95 1272.42L1092.7 1272.88M1092.7 1272.88L1103.44 1274.59M1103.44 1274.59L1114.19 1272.15M1114.19 1272.15L1124.94 1272.71M1124.94 1272.71L1135.69 1273.46M1135.69 1273.46L1146.44 1273.7M1146.44 1273.7L1157.19 1273.41M1157.19 1273.41L1167.94 1273.83M1167.94 1273.83L1178.69 1272.36M1178.69 1272.36L1189.44 1271.69M1189.44 1271.69L1200.19 1272.38M1200.19 1272.38L1210.94 1272.06M1210.94 1272.06L1221.69 1274.19M1221.69 1274.19L1232.43 1272.52M1232.43 1272.52L1243.18 1274.07M1243.18 1274.07L1253.93 1272.03M1253.93 1272.03L1264.68 1274.35M1264.68 1274.35L1275.43 1274.14M1275.43 1274.14L1286.18 1273.36M1286.18 1273.36L1296.93 1271.77M1296.93 1271.77L1307.68 1273.04" stroke="#0ec9c9" stroke-width="2.2" fill="none"/>
<g><circle cx="834.03" cy="1660.91" r="5.05" fill="#fff" stroke="#0ec9c9" stroke-width="1.4"/><circle cx="844.78" cy="1660.91" r="5.05" fill="#fff" stroke="#0ec9c9" stroke-width="1.4"/><circle cx="855.53" cy="1660.91" r="5.05" fill="#fff" stroke="#0ec9c9" stroke-width="1.4"/><circle cx="865.86" cy="1628.64" r="5.05" fill="#fff" stroke="#0ec9c9" stroke-width="1.4"/><circle cx="877.02" cy="1586.72" r="5.05" fill="#fff" stroke="#0ec9c9" stroke-width="1.4"/><circle cx="887.77" cy="1543.99" r="5.05" fill="#fff" stroke="#0ec9c9" stroke-width="1.4"/><circle cx="899.07" cy="1512.07" r="5.05" fill="#fff" stroke="#0ec9c9" stroke-width="1.4"/><circle cx="909.27" cy="1475.84" r="5.05" fill="#fff" stroke="#0ec9c9" stroke-width="1.4"/><circle cx="920.57" cy="1438.52" r="5.05" fill="#fff" stroke="#0ec9c9" stroke-width="1.4"/><circle cx="931.32" cy="1398.99" r="5.05" fill="#fff" stroke="#0ec9c9" stroke-width="1.4"/><circle cx="942.35" cy="1353.48" r="5.05" fill="#fff" stroke="#0ec9c9" stroke-width="1.4"/><circle cx="952.82" cy="1305.66" r="5.05" fill="#fff" stroke="#0ec9c9" stroke-width="1.4"/><circle cx="963.15" cy="1277.96" r="5.05" fill="#fff" stroke="#0ec9c9" stroke-width="1.4"/><circle cx="974.45" cy="1272.94" r="5.05" fill="#fff" stroke="#0ec9c9" stroke-width="1.4"/><circle cx="985.2" cy="1274.14" r="5.05" fill="#fff" stroke="#0ec9c9" stroke-width="1.4"/><circle cx="995.95" cy="1273.66" r="5.05" fill="#fff" stroke="#0ec9c9" stroke-width="1.4"/><circle cx="1006.7" cy="1274.39" r="5.05" fill="#fff" stroke="#0ec9c9" stroke-width="1.4"/><circle cx="1017.45" cy="1273.18" r="5.05" fill="#fff" stroke="#0ec9c9" stroke-width="1.4"/><circle cx="1028.2" cy="1273.51" r="5.05" fill="#fff" stroke="#0ec9c9" stroke-width="1.4"/><circle cx="1038.95" cy="1274.3" r="5.05" fill="#fff" stroke="#0ec9c9" stroke-width="1.4"/><circle cx="1049.7" cy="1273.19" r="5.05" fill="#fff" stroke="#0ec9c9" stroke-width="1.4"/><circle cx="1060.45" cy="1272.05" r="5.05" fill="#fff" stroke="#0ec9c9" stroke-width="1.4"/><circle cx="1071.2" cy="1274.59" r="5.05" fill="#fff" stroke="#0ec9c9" stroke-width="1.4"/><circle cx="1081.95" cy="1272.42" r="5.05" fill="#fff" stroke="#0ec9c9" stroke-width="1.4"/><circle cx="1092.7" cy="1272.88" r="5.05" fill="#fff" stroke="#0ec9c9" stroke-width="1.4"/><circle cx="1103.44" cy="1274.59" r="5.05" fill="#fff" stroke="#0ec9c9" stroke-width="1.4"/><circle cx="1114.19" cy="1272.15" r="5.05" fill="#fff" stroke="#0ec9c9" stroke-width="1.4"/><circle cx="1124.94" cy="1272.71" r="5.05" fill="#fff" stroke="#0ec9c9" stroke-width="1.4"/><circle cx="1135.69" cy="1273.46" r="5.05" fill="#fff" stroke="#0ec9c9" stroke-width="1.4"/><circle cx="1146.44" cy="1273.7" r="5.05" fill="#fff" stroke="#0ec9c9" stroke-width="1.4"/><circle cx="1157.19" cy="1273.41" r="5.05" fill="#fff" stroke="#0ec9c9" stroke-width="1.4"/><circle cx="1167.94" cy="1273.83" r="5.05" fill="#fff" stroke="#0ec9c9" stroke-width="1.4"/><circle cx="1178.69" cy="1272.36" r="5.05" fill="#fff" stroke="#0ec9c9" stroke-width="1.4"/><circle cx="1189.44" cy="1271.69" r="5.05" fill="#fff" stroke="#0ec9c9" stroke-width="1.4"/><circle cx="1200.19" cy="1272.38" r="5.05" fill="#fff" stroke="#0ec9c9" stroke-width="1.4"/><circle cx="1210.94" cy="1272.06" r="5.05" fill="#fff" stroke="#0ec9c9" stroke-width="1.4"/><circle cx="1221.69" cy="1274.19" r="5.05" fill="#fff" stroke="#0ec9c9" stroke-width="1.4"/><circle cx="1232.43" cy="1272.52" r="5.05" fill="#fff" stroke="#0ec9c9" stroke-width="1.4"/><circle cx="1243.18" cy="1274.07" r="5.05" fill="#fff" stroke="#0ec9c9" stroke-width="1.4"/><circle cx="1253.93" cy="1272.03" r="5.05" fill="#fff" stroke="#0ec9c9" stroke-width="1.4"/><circle cx="1264.68" cy="1274.35" r="5.05" fill="#fff" stroke="#0ec9c9" stroke-width="1.4"/><circle cx="1275.43" cy="1274.14" r="5.05" fill="#fff" stroke="#0ec9c9" stroke-width="1.4"/><circle cx="1286.18" cy="1273.36" r="5.05" fill="#fff" stroke="#0ec9c9" stroke-width="1.4"/><circle cx="1296.93" cy="1271.77" r="5.05" fill="#fff" stroke="#0ec9c9" stroke-width="1.4"/><circle cx="1307.68" cy="1273.04" r="5.05" fill="#fff" stroke="#0ec9c9" stroke-width="1.4"/></g>
<path d="M834.03 1660.91L844.78 1660.91M844.78 1660.91L855.53 1660.91M855.53 1660.91L866.27 1660.91M866.27 1660.91L877.02 1660.91M877.02 1660.91L887.77 1660.91M887.77 1660.91L898.52 1660.91M898.52 1660.91L909.27 1660.91M909.27 1660.91L920.02 1660.91M920.02 1660.91L930.77 1660.91M930.77 1660.91L941.52 1660.91M941.52 1660.91L952.27 1660.91M952.27 1660.91L963.02 1660.91M963.02 1660.91L973.77 1660.91M973.77 1660.91L984.51 1660.91M984.51 1660.91L996.09 1657.97M996.09 1657.97L1006.84 1654.8M1006.84 1654.8L1017.59 1651.51M1017.59 1651.51L1028.89 1644.62M1028.89 1644.62L1039.64 1633.84M1039.64 1633.84L1050.39 1625.47M1050.39 1625.47L1061.14 1617.32M1061.14 1617.32L1071.89 1603.81M1071.89 1603.81L1082.64 1593.03M1082.64 1593.03L1093.94 1579.92M1093.94 1579.92L1104.68 1566.2M1104.68 1566.2L1115.43 1544.44M1115.43 1544.44L1126.73 1530.26M1126.73 1530.26L1136.93 1522.84M1136.93 1522.84L1148.23 1510.83M1148.23 1510.83L1159.26 1498.61M1159.26 1498.61L1169.73 1488.12M1169.73 1488.12L1180.76 1476.21M1180.76 1476.21L1191.5 1462.15M1191.5 1462.15L1202.81 1449.38M1202.81 1449.38L1213.55 1434.41M1213.55 1434.41L1224.3 1417.07M1224.3 1417.07L1235.05 1396.76M1235.05 1396.76L1245.8 1377.04M1245.8 1377.04L1256.55 1361.22M1256.55 1361.22L1267.85 1334.84M1267.85 1334.84L1278.6 1312.91M1278.6 1312.91L1289.35 1295.29M1289.35 1295.29L1300.1 1282.62M1300.1 1282.62L1310.85 1277.65M1310.85 1277.65L1322.42 1274.78M1322.42 1274.78L1333.17 1274.24M1333.17 1274.24L1343.92 1274.21M1343.92 1274.21L1354.67 1272.94M1354.67 1272.94L1365.42 1272.89M1365.42 1272.89L1376.17 1271.8M1376.17 1271.8L1386.92 1272.09M1386.92 1272.09L1398.22 1274.25" stroke="#0ec9c9" stroke-width="2.2" fill="none"/>
<g><circle cx="834.03" cy="1660.91" r="5.75" fill="#0ec9c9"/><circle cx="844.78" cy="1660.91" r="5.75" fill="#0ec9c9"/><circle cx="855.53" cy="1660.91" r="5.75" fill="#0ec9c9"/><circle cx="866.27" cy="1660.91" r="5.75" fill="#0ec9c9"/><circle cx="877.02" cy="1660.91" r="5.75" fill="#0ec9c9"/><circle cx="887.77" cy="1660.91" r="5.75" fill="#0ec9c9"/><circle cx="898.52" cy="1660.91" r="5.75" fill="#0ec9c9"/><circle cx="909.27" cy="1660.91" r="5.75" fill="#0ec9c9"/><circle cx="920.02" cy="1660.91" r="5.75" fill="#0ec9c9"/><circle cx="930.77" cy="1660.91" r="5.75" fill="#0ec9c9"/><circle cx="941.52" cy="1660.91" r="5.75" fill="#0ec9c9"/><circle cx="952.27" cy="1660.91" r="5.75" fill="#0ec9c9"/><circle cx="963.02" cy="1660.91" r="5.75" fill="#0ec9c9"/><circle cx="973.77" cy="1660.91" r="5.75" fill="#0ec9c9"/><circle cx="984.51" cy="1660.91" r="5.75" fill="#0ec9c9"/><circle cx="996.09" cy="1657.97" r="5.75" fill="#0ec9c9"/><circle cx="1006.84" cy="1654.8" r="5.75" fill="#0ec9c9"/><circle cx="1017.59" cy="1651.51" r="5.75" fill="#0ec9c9"/><circle cx="1028.89" cy="1644.62" r="5.75" fill="#0ec9c9"/><circle cx="1039.64" cy="1633.84" r="5.75" fill="#0ec9c9"/><circle cx="1050.39" cy="1625.47" r="5.75" fill="#0ec9c9"/><circle cx="1061.14" cy="1617.32" r="5.75" fill="#0ec9c9"/><circle cx="1071.89" cy="1603.81" r="5.75" fill="#0ec9c9"/><circle cx="1082.64" cy="1593.03" r="5.75" fill="#0ec9c9"/><circle cx="1093.94" cy="1579.92" r="5.75" fill="#0ec9c9"/><circle cx="1104.68" cy="1566.2" r="5.75" fill="#0ec9c9"/><circle cx="1115.43" cy="1544.44" r="5.75" fill="#0ec9c9"/><circle cx="1126.73" cy="1530.26" r="5.75" fill="#0ec9c9"/><circle cx="1136.93" cy="1522.84" r="5.75" fill="#0ec9c9"/><circle cx="1148.23" cy="1510.83" r="5.75" fill="#0ec9c9"/><circle cx="1159.26" cy="1498.61" r="5.75" fill="#0ec9c9"/><circle cx="1169.73" cy="1488.12" r="5.75" fill="#0ec9c9"/><circle cx="1180.76" cy="1476.21" r="5.75" fill="#0ec9c9"/><circle cx="1191.5" cy="1462.15" r="5.75" fill="#0ec9c9"/><circle cx="1202.81" cy="1449.38" r="5.75" fill="#0ec9c9"/><circle cx="1213.55" cy="1434.41" r="5.75" fill="#0ec9c9"/><circle cx="1224.3" cy="1417.07" r="5.75" fill="#0ec9c9"/><circle cx="1235.05" cy="1396.76" r="5.75" fill="#0ec9c9"/><circle cx="1245.8" cy="1377.04" r="5.75" fill="#0ec9c9"/><circle cx="1256.55" cy="1361.22" r="5.75" fill="#0ec9c9"/><circle cx="1267.85" cy="1334.84" r="5.75" fill="#0ec9c9"/><circle cx="1278.6" cy="1312.91" r="5.75" fill="#0ec9c9"/><circle cx="1289.35" cy="1295.29" r="5.75" fill="#0ec9c9"/><circle cx="1300.1" cy="1282.62" r="5.75" fill="#0ec9c9"/><circle cx="1310.85" cy="1277.65" r="5.75" fill="#0ec9c9"/><circle cx="1322.42" cy="1274.78" r="5.75" fill="#0ec9c9"/><circle cx="1333.17" cy="1274.24" r="5.75" fill="#0ec9c9"/><circle cx="1343.92" cy="1274.21" r="5.75" fill="#0ec9c9"/><circle cx="1354.67" cy="1272.94" r="5.75" fill="#0ec9c9"/><circle cx="1365.42" cy="1272.89" r="5.75" fill="#0ec9c9"/><circle cx="1376.17" cy="1271.8" r="5.75" fill="#0ec9c9"/><circle cx="1386.92" cy="1272.09" r="5.75" fill="#0ec9c9"/><circle cx="1398.22" cy="1274.25" r="5.75" fill="#0ec9c9"/></g>
<path d="M834.03 1660.91L844.78 1660.91M844.78 1660.91L855.53 1660.91M855.53 1660.91L865.86 1626.66M865.86 1626.66L877.02 1583.97M877.02 1583.97L887.77 1542.49M887.77 1542.49L899.07 1509.9M899.07 1509.9L909.27 1474.65M909.27 1474.65L920.57 1435.82M920.57 1435.82L931.32 1396.8M931.32 1396.8L942.35 1349.86M942.35 1349.86L952.82 1305.51M952.82 1305.51L963.15 1276.71M963.15 1276.71L974.45 1273.67M974.45 1273.67L985.2 1272.34M985.2 1272.34L995.95 1272.79M995.95 1272.79L1006.7 1274.58M1006.7 1274.58L1017.45 1273.17M1017.45 1273.17L1028.2 1273.43M1028.2 1273.43L1038.95 1274.09M1038.95 1274.09L1049.7 1273.81M1049.7 1273.81L1060.45 1273.6M1060.45 1273.6L1071.2 1274.51M1071.2 1274.51L1081.95 1274.18M1081.95 1274.18L1092.7 1272.76M1092.7 1272.76L1103.44 1273.35M1103.44 1273.35L1114.19 1272.49M1114.19 1272.49L1124.94 1272.29M1124.94 1272.29L1135.69 1271.54M1135.69 1271.54L1146.44 1271.97M1146.44 1271.97L1157.19 1273.28M1157.19 1273.28L1167.94 1271.82M1167.94 1271.82L1178.69 1273M1178.69 1273L1189.44 1271.82M1189.44 1271.82L1200.19 1274.46M1200.19 1274.46L1210.94 1271.83M1210.94 1271.83L1221.69 1272.77M1221.69 1272.77L1232.43 1273.68M1232.43 1273.68L1243.18 1274.41M1243.18 1274.41L1253.93 1273.24M1253.93 1273.24L1264.68 1273.4M1264.68 1273.4L1275.43 1272.47M1275.43 1272.47L1286.18 1273.88M1286.18 1273.88L1296.93 1273.4M1296.93 1273.4L1307.68 1274.41" stroke="#7b4f4f" stroke-width="2.2" fill="none"/>
<g><circle cx="834.03" cy="1660.91" r="5.05" fill="#fff" stroke="#7b4f4f" stroke-width="1.4"/><circle cx="844.78" cy="1660.91" r="5.05" fill="#fff" stroke="#7b4f4f" stroke-width="1.4"/><circle cx="855.53" cy="1660.91" r="5.05" fill="#fff" stroke="#7b4f4f" stroke-width="1.4"/><circle cx="865.86" cy="1626.66" r="5.05" fill="#fff" stroke="#7b4f4f" stroke-width="1.4"/><circle cx="877.02" cy="1583.97" r="5.05" fill="#fff" stroke="#7b4f4f" stroke-width="1.4"/><circle cx="887.77" cy="1542.49" r="5.05" fill="#fff" stroke="#7b4f4f" stroke-width="1.4"/><circle cx="899.07" cy="1509.9" r="5.05" fill="#fff" stroke="#7b4f4f" stroke-width="1.4"/><circle cx="909.27" cy="1474.65" r="5.05" fill="#fff" stroke="#7b4f4f" stroke-width="1.4"/><circle cx="920.57" cy="1435.82" r="5.05" fill="#fff" stroke="#7b4f4f" stroke-width="1.4"/><circle cx="931.32" cy="1396.8" r="5.05" fill="#fff" stroke="#7b4f4f" stroke-width="1.4"/><circle cx="942.35" cy="1349.86" r="5.05" fill="#fff" stroke="#7b4f4f" stroke-width="1.4"/><circle cx="952.82" cy="1305.51" r="5.05" fill="#fff" stroke="#7b4f4f" stroke-width="1.4"/><circle cx="963.15" cy="1276.71" r="5.05" fill="#fff" stroke="#7b4f4f" stroke-width="1.4"/><circle cx="974.45" cy="1273.67" r="5.05" fill="#fff" stroke="#7b4f4f" stroke-width="1.4"/><circle cx="985.2" cy="1272.34" r="5.05" fill="#fff" stroke="#7b4f4f" stroke-width="1.4"/><circle cx="995.95" cy="1272.79" r="5.05" fill="#fff" stroke="#7b4f4f" stroke-width="1.4"/><circle cx="1006.7" cy="1274.58" r="5.05" fill="#fff" stroke="#7b4f4f" stroke-width="1.4"/><circle cx="1017.45" cy="1273.17" r="5.05" fill="#fff" stroke="#7b4f4f" stroke-width="1.4"/><circle cx="1028.2" cy="1273.43" r="5.05" fill="#fff" stroke="#7b4f4f" stroke-width="1.4"/><circle cx="1038.95" cy="1274.09" r="5.05" fill="#fff" stroke="#7b4f4f" stroke-width="1.4"/><circle cx="1049.7" cy="1273.81" r="5.05" fill="#fff" stroke="#7b4f4f" stroke-width="1.4"/><circle cx="1060.45" cy="1273.6" r="5.05" fill="#fff" stroke="#7b4f4f" stroke-width="1.4"/><circle cx="1071.2" cy="1274.51" r="5.05" fill="#fff" stroke="#7b4f4f" stroke-width="1.4"/><circle cx="1081.95" cy="1274.18" r="5.05" fill="#fff" stroke="#7b4f4f" stroke-width="1.4"/><circle cx="1092.7" cy="1272.76" r="5.05" fill="#fff" stroke="#7b4f4f" stroke-width="1.4"/><circle cx="1103.44" cy="1273.35" r="5.05" fill="#fff" stroke="#7b4f4f" stroke-width="1.4"/><circle cx="1114.19" cy="1272.49" r="5.05" fill="#fff" stroke="#7b4f4f" stroke-width="1.4"/><circle cx="1124.94" cy="1272.29" r="5.05" fill="#fff" stroke="#7b4f4f" stroke-width="1.4"/><circle cx="1135.69" cy="1271.54" r="5.05" fill="#fff" stroke="#7b4f4f" stroke-width="1.4"/><circle cx="1146.44" cy="1271.97" r="5.05" fill="#fff" stroke="#7b4f4f" stroke-width="1.4"/><circle cx="1157.19" cy="1273.28" r="5.05" fill="#fff" stroke="#7b4f4f" stroke-width="1.4"/><circle cx="1167.94" cy="1271.82" r="5.05" fill="#fff" stroke="#7b4f4f" stroke-width="1.4"/><circle cx="1178.69" cy="1273" r="5.05" fill="#fff" stroke="#7b4f4f" stroke-width="1.4"/><circle cx="1189.44" cy="1271.82" r="5.05" fill="#fff" stroke="#7b4f4f" stroke-width="1.4"/><circle cx="1200.19" cy="1274.46" r="5.05" fill="#fff" stroke="#7b4f4f" stroke-width="1.4"/><circle cx="1210.94" cy="1271.83" r="5.05" fill="#fff" stroke="#7b4f4f" stroke-width="1.4"/><circle cx="1221.69" cy="1272.77" r="5.05" fill="#fff" stroke="#7b4f4f" stroke-width="1.4"/><circle cx="1232.43" cy="1273.68" r="5.05" fill="#fff" stroke="#7b4f4f" stroke-width="1.4"/><circle cx="1243.18" cy="1274.41" r="5.05" fill="#fff" stroke="#7b4f4f" stroke-width="1.4"/><circle cx="1253.93" cy="1273.24" r="5.05" fill="#fff" stroke="#7b4f4f" stroke-width="1.4"/><circle cx="1264.68" cy="1273.4" r="5.05" fill="#fff" stroke="#7b4f4f" stroke-width="1.4"/><circle cx="1275.43" cy="1272.47" r="5.05" fill="#fff" stroke="#7b4f4f" stroke-width="1.4"/><circle cx="1286.18" cy="1273.88" r="5.05" fill="#fff" stroke="#7b4f4f" stroke-width="1.4"/><circle cx="1296.93" cy="1273.4" r="5.05" fill="#fff" stroke="#7b4f4f" stroke-width="1.4"/><circle cx="1307.68" cy="1274.41" r="5.05" fill="#fff" stroke="#7b4f4f" stroke-width="1.4"/></g>
<path d="M834.03 1660.91L844.78 1660.91M844.78 1660.91L855.53 1660.91M855.53 1660.91L866.27 1660.91M866.27 1660.91L877.02 1660.91M877.02 1660.91L887.77 1660.91M887.77 1660.91L898.52 1660.91M898.52 1660.91L909.27 1660.91M909.27 1660.91L920.02 1660.91M920.02 1660.91L930.77 1660.91M930.77 1660.91L941.52 1660.91M941.52 1660.91L952.27 1660.91M952.27 1660.91L963.02 1660.91M963.02 1660.91L973.77 1660.91M973.77 1660.91L984.51 1660.91M984.51 1660.91L996.09 1657.56M996.09 1657.56L1006.84 1654.41M1006.84 1654.41L1017.59 1651.32M1017.59 1651.32L1028.89 1643.94M1028.89 1643.94L1039.64 1632.38M1039.64 1632.38L1050.39 1624.8M1050.39 1624.8L1061.14 1616.46M1061.14 1616.46L1071.89 1602.18M1071.89 1602.18L1082.64 1592.51M1082.64 1592.51L1093.94 1578.27M1093.94 1578.27L1104.68 1563.94M1104.68 1563.94L1115.43 1541.36M1115.43 1541.36L1126.73 1529.85M1126.73 1529.85L1136.93 1522.09M1136.93 1522.09L1148.23 1510.24M1148.23 1510.24L1159.26 1497.59M1159.26 1497.59L1169.73 1487.02M1169.73 1487.02L1180.76 1475.17M1180.76 1475.17L1191.5 1460.08M1191.5 1460.08L1202.81 1447.83M1202.81 1447.83L1213.55 1434.06M1213.55 1434.06L1224.3 1414.9M1224.3 1414.9L1235.05 1394.34M1235.05 1394.34L1245.8 1376.49M1245.8 1376.49L1256.55 1360.44M1256.55 1360.44L1267.85 1333.09M1267.85 1333.09L1278.6 1310.38M1278.6 1310.38L1289.35 1293.93M1289.35 1293.93L1300.1 1282.28M1300.1 1282.28L1310.85 1277.1M1310.85 1277.1L1322.42 1274.64M1322.42 1274.64L1333.17 1271.9M1333.17 1271.9L1343.92 1274.3M1343.92 1274.3L1354.67 1273.66M1354.67 1273.66L1365.42 1271.93M1365.42 1271.93L1376.17 1274.21M1376.17 1274.21L1386.92 1271.72M1386.92 1271.72L1398.22 1274.38" stroke="#7b4f4f" stroke-width="2.2" fill="none"/>
<g><circle cx="834.03" cy="1660.91" r="5.75" fill="#7b4f4f"/><circle cx="844.78" cy="1660.91" r="5.75" fill="#7b4f4f"/><circle cx="855.53" cy="1660.91" r="5.75" fill="#7b4f4f"/><circle cx="866.27" cy="1660.91" r="5.75" fill="#7b4f4f"/><circle cx="877.02" cy="1660.91" r="5.75" fill="#7b4f4f"/><circle cx="887.77" cy="1660.91" r="5.75" fill="#7b4f4f"/><circle cx="898.52" cy="1660.91" r="5.75" fill="#7b4f4f"/><circle cx="909.27" cy="1660.91" r="5.75" fill="#7b4f4f"/><circle cx="920.02" cy="1660.91" r="5.75" fill="#7b4f4f"/><circle cx="930.77" cy="1660.91" r="5.75" fill="#7b4f4f"/><circle cx="941.52" cy="1660.91" r="5.75" fill="#7b4f4f"/><circle cx="952.27" cy="1660.91" r="5.75" fill="#7b4f4f"/><circle cx="963.02" cy="1660.91" r="5.75" fill="#7b4f4f"/><circle cx="973.77" cy="1660.91" r="5.75" fill="#7b4f4f"/><circle cx="984.51" cy="1660.91" r="5.75" fill="#7b4f4f"/><circle cx="996.09" cy="1657.56" r="5.75" fill="#7b4f4f"/><circle cx="1006.84" cy="1654.41" r="5.75" fill="#7b4f4f"/><circle cx="1017.59" cy="1651.32" r="5.75" fill="#7b4f4f"/><circle cx="1028.89" cy="1643.94" r="5.75" fill="#7b4f4f"/><circle cx="1039.64" cy="1632.38" r="5.75" fill="#7b4f4f"/><circle cx="1050.39" cy="1624.8" r="5.75" fill="#7b4f4f"/><circle cx="1061.14" cy="1616.46" r="5.75" fill="#7b4f4f"/><circle cx="1071.89" cy="1602.18" r="5.75" fill="#7b4f4f"/><circle cx="1082.64" cy="1592.51" r="5.75" fill="#7b4f4f"/><circle cx="1093.94" cy="1578.27" r="5.75" fill="#7b4f4f"/><circle cx="1104.68" cy="1563.94" r="5.75" fill="#7b4f4f"/><circle cx="1115.43" cy="1541.36" r="5.75" fill="#7b4f4f"/><circle cx="1126.73" cy="1529.85" r="5.75" fill="#7b4f4f"/><circle cx="1136.93" cy="1522.09" r="5.75" fill="#7b4f4f"/><circle cx="1148.23" cy="1510.24" r="5.75" fill="#7b4f4f"/><circle cx="1159.26" cy="1497.59" r="5.75" fill="#7b4f4f"/><circle cx="1169.73" cy="1487.02" r="5.75" fill="#7b4f4f"/><circle cx="1180.76" cy="1475.17" r="5.75" fill="#7b4f4f"/><circle cx="1191.5" cy="1460.08" r="5.75" fill="#7b4f4f"/><circle cx="1202.81" cy="1447.83" r="5.75" fill="#7b4f4f"/><circle cx="1213.55" cy="1434.06" r="5.75" fill="#7b4f4f"/><circle cx="1224.3" cy="1414.9" r="5.75" fill="#7b4f4f"/><circle cx="1235.05" cy="1394.34" r="5.75" fill="#7b4f4f"/><circle cx="1245.8" cy="1376.49" r="5.75" fill="#7b4f4f"/><circle cx="1256.55" cy="1360.44" r="5.75" fill="#7b4f4f"/><circle cx="1267.85" cy="1333.09" r="5.75" fill="#7b4f4f"/><circle cx="1278.6" cy="1310.38" r="5.75" fill="#7b4f4f"/><circle cx="1289.35" cy="1293.93" r="5.75" fill="#7b4f4f"/><circle cx="1300.1" cy="1282.28" r="5.75" fill="#7b4f4f"/><circle cx="1310.85" cy="1277.1" r="5.75" fill="#7b4f4f"/><circle cx="1322.42" cy="1274.64" r="5.75" fill="#7b4f4f"/><circle cx="1333.17" cy="1271.9" r="5.75" fill="#7b4f4f"/><circle cx="1343.92" cy="1274.3" r="5.75" fill="#7b4f4f"/><circle cx="1354.67" cy="1273.66" r="5.75" fill="#7b4f4f"/><circle cx="1365.42" cy="1271.93" r="5.75" fill="#7b4f4f"/><circle cx="1376.17" cy="1274.21" r="5.75" fill="#7b4f4f"/><circle cx="1386.92" cy="1271.72" r="5.75" fill="#7b4f4f"/><circle cx="1398.22" cy="1274.38" r="5.75" fill="#7b4f4f"/></g>
<path d="M834.03 1660.91L844.78 1660.91M844.78 1660.91L855.53 1660.91M855.53 1660.91L865.86 1625.14M865.86 1625.14L877.02 1581.81M877.02 1581.81L887.77 1539.96M887.77 1539.96L899.07 1509.06M899.07 1509.06L909.27 1473.13M909.27 1473.13L920.57 1434.73M920.57 1434.73L931.32 1395.89M931.32 1395.89L942.35 1348.72M942.35 1348.72L952.82 1302.72M952.82 1302.72L963.15 1274.92M963.15 1274.92L974.45 1271.75M974.45 1271.75L985.2 1273.77M985.2 1273.77L995.95 1274.35M995.95 1274.35L1006.7 1273.26M1006.7 1273.26L1017.45 1272.98M1017.45 1272.98L1028.2 1272.77M1028.2 1272.77L1038.95 1273.85M1038.95 1273.85L1049.7 1274.36M1049.7 1274.36L1060.45 1272.28M1060.45 1272.28L1071.2 1273.76M1071.2 1273.76L1081.95 1274.05M1081.95 1274.05L1092.7 1271.56M1092.7 1271.56L1103.44 1273.19M1103.44 1273.19L1114.19 1273.43M1114.19 1273.43L1124.94 1273.08M1124.94 1273.08L1135.69 1272.9M1135.69 1272.9L1146.44 1273.51M1146.44 1273.51L1157.19 1272.2M1157.19 1272.2L1167.94 1273.06M1167.94 1273.06L1178.69 1272.5M1178.69 1272.5L1189.44 1271.67M1189.44 1271.67L1200.19 1272.21M1200.19 1272.21L1210.94 1272.74M1210.94 1272.74L1221.69 1273.26M1221.69 1273.26L1232.43 1272.19M1232.43 1272.19L1243.18 1273.89M1243.18 1273.89L1253.93 1273.94M1253.93 1273.94L1264.68 1273.08M1264.68 1273.08L1275.43 1272.77M1275.43 1272.77L1286.18 1272.85M1286.18 1272.85L1296.93 1274.07M1296.93 1274.07L1307.68 1274.57" stroke="#888800" stroke-width="2.2" fill="none"/>
<g><circle cx="834.03" cy="1660.91" r="5.05" fill="#fff" stroke="#888800" stroke-width="1.4"/><circle cx="844.78" cy="1660.91" r="5.05" fill="#fff" stroke="#888800" stroke-width="1.4"/><circle cx="855.53" cy="1660.91" r="5.05" fill="#fff" stroke="#888800" stroke-width="1.4"/><circle cx="865.86" cy="1625.14" r="5.05" fill="#fff" stroke="#888800" stroke-width="1.4"/><circle cx="877.02" cy="1581.81" r="5.05" fill="#fff" stroke="#888800" stroke-width="1.4"/><circle cx="887.77" cy="1539.96" r="5.05" fill="#fff" stroke="#888800" stroke-width="1.4"/><circle cx="899.07" cy="1509.06" r="5.05" fill="#fff" stroke="#888800" stroke-width="1.4"/><circle cx="909.27" cy="1473.13" r="5.05" fill="#fff" stroke="#888800" stroke-width="1.4"/><circle cx="920.57" cy="1434.73" r="5.05" fill="#fff" stroke="#888800" stroke-width="1.4"/><circle cx="931.32" cy="1395.89" r="5.05" fill="#fff" stroke="#888800" stroke-width="1.4"/><circle cx="942.35" cy="1348.72" r="5.05" fill="#fff" stroke="#888800" stroke-width="1.4"/><circle cx="952.82" cy="1302.72" r="5.05" fill="#fff" stroke="#888800" stroke-width="1.4"/><circle cx="963.15" cy="1274.92" r="5.05" fill="#fff" stroke="#888800" stroke-width="1.4"/><circle cx="974.45" cy="1271.75" r="5.05" fill="#fff" stroke="#888800" stroke-width="1.4"/><circle cx="985.2" cy="1273.77" r="5.05" fill="#fff" stroke="#888800" stroke-width="1.4"/><circle cx="995.95" cy="1274.35" r="5.05" fill="#fff" stroke="#888800" stroke-width="1.4"/><circle cx="1006.7" cy="1273.26" r="5.05" fill="#fff" stroke="#888800" stroke-width="1.4"/><circle cx="1017.45" cy="1272.98" r="5.05" fill="#fff" stroke="#888800" stroke-width="1.4"/><circle cx="1028.2" cy="1272.77" r="5.05" fill="#fff" stroke="#888800" stroke-width="1.4"/><circle cx="1038.95" cy="1273.85" r="5.05" fill="#fff" stroke="#888800" stroke-width="1.4"/><circle cx="1049.7" cy="1274.36" r="5.05" fill="#fff" stroke="#888800" stroke-width="1.4"/><circle cx="1060.45" cy="1272.28" r="5.05" fill="#fff" stroke="#888800" stroke-width="1.4"/><circle cx="1071.2" cy="1273.76" r="5.05" fill="#fff" stroke="#888800" stroke-width="1.4"/><circle cx="1081.95" cy="1274.05" r="5.05" fill="#fff" stroke="#888800" stroke-width="1.4"/><circle cx="1092.7" cy="1271.56" r="5.05" fill="#fff" stroke="#888800" stroke-width="1.4"/><circle cx="1103.44" cy="1273.19" r="5.05" fill="#fff" stroke="#888800" stroke-width="1.4"/><circle cx="1114.19" cy="1273.43" r="5.05" fill="#fff" stroke="#888800" stroke-width="1.4"/><circle cx="1124.94" cy="1273.08" r="5.05" fill="#fff" stroke="#888800" stroke-width="1.4"/><circle cx="1135.69" cy="1272.9" r="5.05" fill="#fff" stroke="#888800" stroke-width="1.4"/><circle cx="1146.44" cy="1273.51" r="5.05" fill="#fff" stroke="#888800" stroke-width="1.4"/><circle cx="1157.19" cy="1272.2" r="5.05" fill="#fff" stroke="#888800" stroke-width="1.4"/><circle cx="1167.94" cy="1273.06" r="5.05" fill="#fff" stroke="#888800" stroke-width="1.4"/><circle cx="1178.69" cy="1272.5" r="5.05" fill="#fff" stroke="#888800" stroke-width="1.4"/><circle cx="1189.44" cy="1271.67" r="5.05" fill="#fff" stroke="#888800" stroke-width="1.4"/><circle cx="1200.19" cy="1272.21" r="5.05" fill="#fff" stroke="#888800" stroke-width="1.4"/><circle cx="1210.94" cy="1272.74" r="5.05" fill="#fff" stroke="#888800" stroke-width="1.4"/><circle cx="1221.69" cy="1273.26" r="5.05" fill="#fff" stroke="#888800" stroke-width="1.4"/><circle cx="1232.43" cy="1272.19" r="5.05" fill="#fff" stroke="#888800" stroke-width="1.4"/><circle cx="1243.18" cy="1273.89" r="5.05" fill="#fff" stroke="#888800" stroke-width="1.4"/><circle cx="1253.93" cy="1273.94" r="5.05" fill="#fff" stroke="#888800" stroke-width="1.4"/><circle cx="1264.68" cy="1273.08" r="5.05" fill="#fff" stroke="#888800" stroke-width="1.4"/><circle cx="1275.43" cy="1272.77" r="5.05" fill="#fff" stroke="#888800" stroke-width="1.4"/><circle cx="1286.18" cy="1272.85" r="5.05" fill="#fff" stroke="#888800" stroke-width="1.4"/><circle cx="1296.93" cy="1274.07" r="5.05" fill="#fff" stroke="#888800" stroke-width="1.4"/><circle cx="1307.68" cy="1274.57" r="5.05" fill="#fff" stroke="#888800" stroke-width="1.4"/></g>
<path d="M834.03 1660.91L844.78 1660.91M844.78 1660.91L855.53 1660.91M855.53 1660.91L866.27 1660.91M866.27 1660.91L877.02 1660.91M877.02 1660.91L887.77 1660.91M887.77 1660.91L898.52 1660.91M898.52 1660.91L909.27 1660.91M909.27 1660.91L920.02 1660.91M920.02 1660.91L930.77 1660.91M930.77 1660.91L941.52 1660.91M941.52 1660.91L952.27 1660.91M952.27 1660.91L963.02 1660.91M963.02 1660.91L973.77 1660.91M973.77 1660.91L984.51 1660.91M984.51 1660.91L996.09 1657.38M996.09 1657.38L1006.84 1654.2M1006.84 1654.2L1017.59 1651.07M1017.59 1651.07L1028.89 1643.39M1028.89 1643.39L1039.64 1631.53M1039.64 1631.53L1050.39 1624.02M1050.39 1624.02L1061.14 1615.4M1061.14 1615.4L1071.89 1600.82M1071.89 1600.82L1082.64 1591.74M1082.64 1591.74L1093.94 1576.99M1093.94 1576.99L1104.68 1563.37M1104.68 1563.37L1115.43 1540.34M1115.43 1540.34L1126.73 1528.57M1126.73 1528.57L1136.93 1521.52M1136.93 1521.52L1148.23 1509.11M1148.23 1509.11L1159.26 1495.91M1159.26 1495.91L1169.73 1485.92M1169.73 1485.92L1180.76 1474M1180.76 1474L1191.5 1459.04M1191.5 1459.04L1202.81 1447.13M1202.81 1447.13L1213.55 1432.53M1213.55 1432.53L1224.3 1412.26M1224.3 1412.26L1235.05 1393.04M1235.05 1393.04L1245.8 1374.55M1245.8 1374.55L1256.55 1359.06M1256.55 1359.06L1267.85 1330.37M1267.85 1330.37L1278.6 1309.35M1278.6 1309.35L1289.35 1291.77M1289.35 1291.77L1300.1 1280.94M1300.1 1280.94L1310.85 1276.85M1310.85 1276.85L1322.42 1274.42M1322.42 1274.42L1333.17 1274.52M1333.17 1274.52L1343.92 1272.26M1343.92 1272.26L1354.67 1273.91M1354.67 1273.91L1365.42 1272.91M1365.42 1272.91L1376.17 1273.19M1376.17 1273.19L1386.92 1273.5M1386.92 1273.5L1398.22 1271.58" stroke="#888800" stroke-width="2.2" fill="none"/>
<g><circle cx="834.03" cy="1660.91" r="5.75" fill="#888800"/><circle cx="844.78" cy="1660.91" r="5.75" fill="#888800"/><circle cx="855.53" cy="1660.91" r="5.75" fill="#888800"/><circle cx="866.27" cy="1660.91" r="5.75" fill="#888800"/><circle cx="877.02" cy="1660.91" r="5.75" fill="#888800"/><circle cx="887.77" cy="1660.91" r="5.75" fill="#888800"/><circle cx="898.52" cy="1660.91" r="5.75" fill="#888800"/><circle cx="909.27" cy="1660.91" r="5.75" fill="#888800"/><circle cx="920.02" cy="1660.91" r="5.75" fill="#888800"/><circle cx="930.77" cy="1660.91" r="5.75" fill="#888800"/><circle cx="941.52" cy="1660.91" r="5.75" fill="#888800"/><circle cx="952.27" cy="1660.91" r="5.75" fill="#888800"/><circle cx="963.02" cy="1660.91" r="5.75" fill="#888800"/><circle cx="973.77" cy="1660.91" r="5.75" fill="#888800"/><circle cx="984.51" cy="1660.91" r="5.75" fill="#888800"/><circle cx="996.09" cy="1657.38" r="5.75" fill="#888800"/><circle cx="1006.84" cy="1654.2" r="5.75" fill="#888800"/><circle cx="1017.59" cy="1651.07" r="5.75" fill="#888800"/><circle cx="1028.89" cy="1643.39" r="5.75" fill="#888800"/><circle cx="1039.64" cy="1631.53" r="5.75" fill="#888800"/><circle cx="1050.39" cy="1624.02" r="5.75" fill="#888800"/><circle cx="1061.14" cy="1615.4" r="5.75" fill="#888800"/><circle cx="1071.89" cy="1600.82" r="5.75" fill="#888800"/><circle cx="1082.64" cy="1591.74" r="5.75" fill="#888800"/><circle cx="1093.94" cy="1576.99" r="5.75" fill="#888800"/><circle cx="1104.68" cy="1563.37" r="5.75" fill="#888800"/><circle cx="1115.43" cy="1540.34" r="5.75" fill="#888800"/><circle cx="1126.73" cy="1528.57" r="5.75" fill="#888800"/><circle cx="1136.93" cy="1521.52" r="5.75" fill="#888800"/><circle cx="1148.23" cy="1509.11" r="5.75" fill="#888800"/><circle cx="1159.26" cy="1495.91" r="5.75" fill="#888800"/><circle cx="1169.73" cy="1485.92" r="5.75" fill="#888800"/><circle cx="1180.76" cy="1474" r="5.75" fill="#888800"/><circle cx="1191.5" cy="1459.04" r="5.75" fill="#888800"/><circle cx="1202.81" cy="1447.13" r="5.75" fill="#888800"/><circle cx="1213.55" cy="1432.53" r="5.75" fill="#888800"/><circle cx="1224.3" cy="1412.26" r="5.75" fill="#888800"/><circle cx="1235.05" cy="1393.04" r="5.75" fill="#888800"/><circle cx="1245.8" cy="1374.55" r="5.75" fill="#888800"/><circle cx="1256.55" cy="1359.06" r="5.75" fill="#888800"/><circle cx="1267.85" cy="1330.37" r="5.75" fill="#888800"/><circle cx="1278.6" cy="1309.35" r="5.75" fill="#888800"/><circle cx="1289.35" cy="1291.77" r="5.75" fill="#888800"/><circle cx="1300.1" cy="1280.94" r="5.75" fill="#888800"/><circle cx="1310.85" cy="1276.85" r="5.75" fill="#888800"/><circle cx="1322.42" cy="1274.42" r="5.75" fill="#888800"/><circle cx="1333.17" cy="1274.52" r="5.75" fill="#888800"/><circle cx="1343.92" cy="1272.26" r="5.75" fill="#888800"/><circle cx="1354.67" cy="1273.91" r="5.75" fill="#888800"/><circle cx="1365.42" cy="1272.91" r="5.75" fill="#888800"/><circle cx="1376.17" cy="1273.19" r="5.75" fill="#888800"/><circle cx="1386.92" cy="1273.5" r="5.75" fill="#888800"/><circle cx="1398.22" cy="1271.58" r="5.75" fill="#888800"/></g>
<path d="M834.03 1660.91L844.78 1660.91M844.78 1660.91L855.53 1660.91M855.53 1660.91L865.86 1623.68M865.86 1623.68L877.02 1580.24M877.02 1580.24L887.77 1538.35M887.77 1538.35L899.07 1507.71M899.07 1507.71L909.27 1471.26M909.27 1471.26L920.57 1433.25M920.57 1433.25L931.32 1394.08M931.32 1394.08L942.35 1346.38M942.35 1346.38L952.82 1300.61M952.82 1300.61L963.15 1273.85M963.15 1273.85L974.45 1273.08M974.45 1273.08L985.2 1273.08M985.2 1273.08L995.95 1273.08M995.95 1273.08L1006.7 1273.08M1006.7 1273.08L1017.45 1273.08M1017.45 1273.08L1028.2 1273.08M1028.2 1273.08L1038.95 1273.08M1038.95 1273.08L1049.7 1273.08M1049.7 1273.08L1060.45 1273.08M1060.45 1273.08L1071.2 1273.08M1071.2 1273.08L1081.95 1273.08M1081.95 1273.08L1092.7 1273.08M1092.7 1273.08L1103.44 1273.08M1103.44 1273.08L1114.19 1273.08M1114.19 1273.08L1124.94 1273.08M1124.94 1273.08L1135.69 1273.08M1135.69 1273.08L1146.44 1273.08M1146.44 1273.08L1157.19 1273.08M1157.19 1273.08L1167.94 1273.08M1167.94 1273.08L1178.69 1273.08M1178.69 1273.08L1189.44 1273.08M1189.44 1273.08L1200.19 1273.08M1200.19 1273.08L1210.94 1273.08M1210.94 1273.08L1221.69 1273.08M1221.69 1273.08L1232.43 1273.08M1232.43 1273.08L1243.18 1273.08M1243.18 1273.08L1253.93 1273.08M1253.93 1273.08L1264.68 1273.08M1264.68 1273.08L1275.43 1273.08M1275.43 1273.08L1286.18 1273.08M1286.18 1273.08L1296.93 1273.08M1296.93 1273.08L1307.68 1273.08" stroke="#ff6600" stroke-width="2.2" fill="none"/>
<g><circle cx="834.03" cy="1660.91" r="5.05" fill="#fff" stroke="#ff6600" stroke-width="1.4"/><circle cx="844.78" cy="1660.91" r="5.05" fill="#fff" stroke="#ff6600" stroke-width="1.4"/><circle cx="855.53" cy="1660.91" r="5.05" fill="#fff" stroke="#ff6600" stroke-width="1.4"/><circle cx="865.86" cy="1623.68" r="5.05" fill="#fff" stroke="#ff6600" stroke-width="1.4"/><circle cx="877.02" cy="1580.24" r="5.05" fill="#fff" stroke="#ff6600" stroke-width="1.4"/><circle cx="887.77" cy="1538.35" r="5.05" fill="#fff" stroke="#ff6600" stroke-width="1.4"/><circle cx="899.07" cy="1507.71" r="5.05" fill="#fff" stroke="#ff6600" stroke-width="1.4"/><circle cx="909.27" cy="1471.26" r="5.05" fill="#fff" stroke="#ff6600" stroke-width="1.4"/><circle cx="920.57" cy="1433.25" r="5.05" fill="#fff" stroke="#ff6600" stroke-width="1.4"/><circle cx="931.32" cy="1394.08" r="5.05" fill="#fff" stroke="#ff6600" stroke-width="1.4"/><circle cx="942.35" cy="1346.38" r="5.05" fill="#fff" stroke="#ff6600" stroke-width="1.4"/><circle cx="952.82" cy="1300.61" r="5.05" fill="#fff" stroke="#ff6600" stroke-width="1.4"/><circle cx="963.15" cy="1273.85" r="5.05" fill="#fff" stroke="#ff6600" stroke-width="1.4"/><circle cx="974.45" cy="1273.08" r="5.05" fill="#fff" stroke="#ff6600" stroke-width="1.4"/><circle cx="985.2" cy="1273.08" r="5.05" fill="#fff" stroke="#ff6600" stroke-width="1.4"/><circle cx="995.95" cy="1273.08" r="5.05" fill="#fff" stroke="#ff6600" stroke-width="1.4"/><circle cx="1006.7" cy="1273.08" r="5.05" fill="#fff" stroke="#ff6600" stroke-width="1.4"/><circle cx="1017.45" cy="1273.08" r="5.05" fill="#fff" stroke="#ff6600" stroke-width="1.4"/><circle cx="1028.2" cy="1273.08" r="5.05" fill="#fff" stroke="#ff6600" stroke-width="1.4"/><circle cx="1038.95" cy="1273.08" r="5.05" fill="#fff" stroke="#ff6600" stroke-width="1.4"/><circle cx="1049.7" cy="1273.08" r="5.05" fill="#fff" stroke="#ff6600" stroke-width="1.4"/><circle cx="1060.45" cy="1273.08" r="5.05" fill="#fff" stroke="#ff6600" stroke-width="1.4"/><circle cx="1071.2" cy="1273.08" r="5.05" fill="#fff" stroke="#ff6600" stroke-width="1.4"/><circle cx="1081.95" cy="1273.08" r="5.05" fill="#fff" stroke="#ff6600" stroke-width="1.4"/><circle cx="1092.7" cy="1273.08" r="5.05" fill="#fff" stroke="#ff6600" stroke-width="1.4"/><circle cx="1103.44" cy="1273.08" r="5.05" fill="#fff" stroke="#ff6600" stroke-width="1.4"/><circle cx="1114.19" cy="1273.08" r="5.05" fill="#fff" stroke="#ff6600" stroke-width="1.4"/><circle cx="1124.94" cy="1273.08" r="5.05" fill="#fff" stroke="#ff6600" stroke-width="1.4"/><circle cx="1135.69" cy="1273.08" r="5.05" fill="#fff" stroke="#ff6600" stroke-width="1.4"/><circle cx="1146.44" cy="1273.08" r="5.05" fill="#fff" stroke="#ff6600" stroke-width="1.4"/><circle cx="1157.19" cy="1273.08" r="5.05" fill="#fff" stroke="#ff6600" stroke-width="1.4"/><circle cx="1167.94" cy="1273.08" r="5.05" fill="#fff" stroke="#ff6600" stroke-width="1.4"/><circle cx="1178.69" cy="1273.08" r="5.05" fill="#fff" stroke="#ff6600" stroke-width="1.4"/><circle cx="1189.44" cy="1273.08" r="5.05" fill="#fff" stroke="#ff6600" stroke-width="1.4"/><circle cx="1200.19" cy="1273.08" r="5.05" fill="#fff" stroke="#ff6600" stroke-width="1.4"/><circle cx="1210.94" cy="1273.08" r="5.05" fill="#fff" stroke="#ff6600" stroke-width="1.4"/><circle cx="1221.69" cy="1273.08" r="5.05" fill="#fff" stroke="#ff6600" stroke-width="1.4"/><circle cx="1232.43" cy="1273.08" r="5.05" fill="#fff" stroke="#ff6600" stroke-width="1.4"/><circle cx="1243.18" cy="1273.08" r="5.05" fill="#fff" stroke="#ff6600" stroke-width="1.4"/><circle cx="1253.93" cy="1273.08" r="5.05" fill="#fff" stroke="#ff6600" stroke-width="1.4"/><circle cx="1264.68" cy="1273.08" r="5.05" fill="#fff" stroke="#ff6600" stroke-width="1.4"/><circle cx="1275.43" cy="1273.08" r="5.05" fill="#fff" stroke="#ff6600" stroke-width="1.4"/><circle cx="1286.18" cy="1273.08" r="5.05" fill="#fff" stroke="#ff6600" stroke-width="1.4"/><circle cx="1296.93" cy="1273.08" r="5.05" fill="#fff" stroke="#ff6600" stroke-width="1.4"/><circle cx="1307.68" cy="1273.08" r="5.05" fill="#fff" stroke="#ff6600" stroke-width="1.4"/></g>
<path d="M834.03 1660.91L844.78 1660.91M844.78 1660.91L855.53 1660.91M855.53 1660.91L866.27 1660.91M866.27 1660.91L877.02 1660.91M877.02 1660.91L887.77 1660.91M887.77 1660.91L898.52 1660.91M898.52 1660.91L909.27 1660.91M909.27 1660.91L920.02 1660.91M920.02 1660.91L930.77 1660.91M930.77 1660.91L941.52 1660.91M941.52 1660.91L952.27 1660.91M952.27 1660.91L963.02 1660.91M963.02 1660.91L973.77 1660.91M973.77 1660.91L984.51 1660.91M984.51 1660.91L996.09 1657.03M996.09 1657.03L1006.84 1653.93M1006.84 1653.93L1017.59 1650.82M1017.59 1650.82L1028.89 1642.68M1028.89 1642.68L1039.64 1630.66M1039.64 1630.66L1050.39 1623.29M1050.39 1623.29L1061.14 1614.76M1061.14 1614.76L1071.89 1599.63M1071.89 1599.63L1082.64 1591.1M1082.64 1591.1L1093.94 1575.59M1093.94 1575.59L1104.68 1562.01M1104.68 1562.01L1115.43 1537.97M1115.43 1537.97L1126.73 1527.88M1126.73 1527.88L1136.93 1520.9M1136.93 1520.9L1148.23 1508.1M1148.23 1508.1L1159.26 1494.92M1159.26 1494.92L1169.73 1484.83M1169.73 1484.83L1180.76 1473.2M1180.76 1473.2L1191.5 1457.68M1191.5 1457.68L1202.81 1446.05M1202.81 1446.05L1213.55 1430.92M1213.55 1430.92L1224.3 1410.76M1224.3 1410.76L1235.05 1391.36M1235.05 1391.36L1245.8 1372.75M1245.8 1372.75L1256.55 1358.01M1256.55 1358.01L1267.85 1328.15M1267.85 1328.15L1278.6 1307.2M1278.6 1307.2L1289.35 1290.53M1289.35 1290.53L1300.1 1280.06M1300.1 1280.06L1310.85 1276.57M1310.85 1276.57L1322.42 1274.24M1322.42 1274.24L1333.17 1273.08M1333.17 1273.08L1343.92 1273.08M1343.92 1273.08L1354.67 1273.08M1354.67 1273.08L1365.42 1273.08M1365.42 1273.08L1376.17 1273.08M1376.17 1273.08L1386.92 1273.08M1386.92 1273.08L1398.22 1273.08" stroke="#ff6600" stroke-width="2.2" fill="none"/>
<g><circle cx="834.03" cy="1660.91" r="5.75" fill="#ff6600"/><circle cx="844.78" cy="1660.91" r="5.75" fill="#ff6600"/><circle cx="855.53" cy="1660.91" r="5.75" fill="#ff6600"/><circle cx="866.27" cy="1660.91" r="5.75" fill="#ff6600"/><circle cx="877.02" cy="1660.91" r="5.75" fill="#ff6600"/><circle cx="887.77" cy="1660.91" r="5.75" fill="#ff6600"/><circle cx="898.52" cy="1660.91" r="5.75" fill="#ff6600"/><circle cx="909.27" cy="1660.91" r="5.75" fill="#ff6600"/><circle cx="920.02" cy="1660.91" r="5.75" fill="#ff6600"/><circle cx="930.77" cy="1660.91" r="5.75" fill="#ff6600"/><circle cx="941.52" cy="1660.91" r="5.75" fill="#ff6600"/><circle cx="952.27" cy="1660.91" r="5.75" fill="#ff6600"/><circle cx="963.02" cy="1660.91" r="5.75" fill="#ff6600"/><circle cx="973.77" cy="1660.91" r="5.75" fill="#ff6600"/><circle cx="984.51" cy="1660.91" r="5.75" fill="#ff6600"/><circle cx="996.09" cy="1657.03" r="5.75" fill="#ff6600"/><circle cx="1006.84" cy="1653.93" r="5.75" fill="#ff6600"/><circle cx="1017.59" cy="1650.82" r="5.75" fill="#ff6600"/><circle cx="1028.89" cy="1642.68" r="5.75" fill="#ff6600"/><circle cx="1039.64" cy="1630.66" r="5.75" fill="#ff6600"/><circle cx="1050.39" cy="1623.29" r="5.75" fill="#ff6600"/><circle cx="1061.14" cy="1614.76" r="5.75" fill="#ff6600"/><circle cx="1071.89" cy="1599.63" r="5.75" fill="#ff6600"/><circle cx="1082.64" cy="1591.1" r="5.75" fill="#ff6600"/><circle cx="1093.94" cy="1575.59" r="5.75" fill="#ff6600"/><circle cx="1104.68" cy="1562.01" r="5.75" fill="#ff6600"/><circle cx="1115.43" cy="1537.97" r="5.75" fill="#ff6600"/><circle cx="1126.73" cy="1527.88" r="5.75" fill="#ff6600"/><circle cx="1136.93" cy="1520.9" r="5.75" fill="#ff6600"/><circle cx="1148.23" cy="1508.1" r="5.75" fill="#ff6600"/><circle cx="1159.26" cy="1494.92" r="5.75" fill="#ff6600"/><circle cx="1169.73" cy="1484.83" r="5.75" fill="#ff6600"/><circle cx="1180.76" cy="1473.2" r="5.75" fill="#ff6600"/><circle cx="1191.5" cy="1457.68" r="5.75" fill="#ff6600"/><circle cx="1202.81" cy="1446.05" r="5.75" fill="#ff6600"/><circle cx="1213.55" cy="1430.92" r="5.75" fill="#ff6600"/><circle cx="1224.3" cy="1410.76" r="5.75" fill="#ff6600"/><circle cx="1235.05" cy="1391.36" r="5.75" fill="#ff6600"/><circle cx="1245.8" cy="1372.75" r="5.75" fill="#ff6600"/><circle cx="1256.55" cy="1358.01" r="5.75" fill="#ff6600"/><circle cx="1267.85" cy="1328.15" r="5.75" fill="#ff6600"/><circle cx="1278.6" cy="1307.2" r="5.75" fill="#ff6600"/><circle cx="1289.35" cy="1290.53" r="5.75" fill="#ff6600"/><circle cx="1300.1" cy="1280.06" r="5.75" fill="#ff6600"/><circle cx="1310.85" cy="1276.57" r="5.75" fill="#ff6600"/><circle cx="1322.42" cy="1274.24" r="5.75" fill="#ff6600"/><circle cx="1333.17" cy="1273.08" r="5.75" fill="#ff6600"/><circle cx="1343.92" cy="1273.08" r="5.75" fill="#ff6600"/><circle cx="1354.67" cy="1273.08" r="5.75" fill="#ff6600"/><circle cx="1365.42" cy="1273.08" r="5.75" fill="#ff6600"/><circle cx="1376.17" cy="1273.08" r="5.75" fill="#ff6600"/><circle cx="1386.92" cy="1273.08" r="5.75" fill="#ff6600"/><circle cx="1398.22" cy="1273.08" r="5.75" fill="#ff6600"/></g>
<text x="846.5" y="1239" font-size="24" text-anchor="start" fill="#000"><tspan>C</tspan><tspan dy="6.2" font-size="16">3</tspan><tspan dy="-6.2">H</tspan><tspan dy="6.2" font-size="16">4</tspan><tspan dy="-6.2">: C</tspan><tspan dy="6.2" font-size="16">3</tspan><tspan dy="-6.2">H</tspan><tspan dy="6.2" font-size="16">6</tspan><tspan dy="-6.2">=1: 99</tspan></text>
<text x="919.2" y="1485.5" font-size="24" text-anchor="start" fill="#000"><tspan>C</tspan><tspan dy="6.2" font-size="16">3</tspan><tspan dy="-6.2">H</tspan><tspan dy="6.2" font-size="16">6</tspan></text>
<text x="1088.6" y="1489" font-size="24" text-anchor="start" fill="#000"><tspan>C</tspan><tspan dy="6.2" font-size="16">3</tspan><tspan dy="-6.2">H</tspan><tspan dy="6.2" font-size="16">4</tspan></text>
<text x="1268.4" y="1376.9" font-size="24" text-anchor="start" fill="#000"><tspan>C</tspan><tspan dy="6.2" font-size="16">3</tspan><tspan dy="-6.2">H</tspan><tspan dy="6.2" font-size="16">6</tspan></text>
<text x="1327.3" y="1376.9" font-size="24" text-anchor="start" fill="#000"><tspan>C</tspan><tspan dy="6.2" font-size="16">3</tspan><tspan dy="-6.2">H</tspan><tspan dy="6.2" font-size="16">4</tspan></text>
<path d="M1267.8 1398.8H1379.7" stroke="#4d4d4d" stroke-width="2.2"/>
<circle cx="1295.5" cy="1398.8" r="5.1" fill="#fff" stroke="#4d4d4d" stroke-width="1.3"/>
<circle cx="1351.5" cy="1398.8" r="5.5" fill="#4d4d4d"/>
<text x="1385.6" y="1407.2" font-size="24" text-anchor="start" fill="#000"><tspan>1</tspan></text>
<path d="M1267.8 1428.53H1379.7" stroke="#ef3e46" stroke-width="2.2"/>
<circle cx="1295.5" cy="1428.53" r="5.1" fill="#fff" stroke="#ef3e46" stroke-width="1.3"/>
<circle cx="1351.5" cy="1428.53" r="5.5" fill="#ef3e46"/>
<text x="1385.6" y="1436.93" font-size="24" text-anchor="start" fill="#000"><tspan>2</tspan></text>
<path d="M1267.8 1458.26H1379.7" stroke="#1a6ce4" stroke-width="2.2"/>
<circle cx="1295.5" cy="1458.26" r="5.1" fill="#fff" stroke="#1a6ce4" stroke-width="1.3"/>
<circle cx="1351.5" cy="1458.26" r="5.5" fill="#1a6ce4"/>
<text x="1385.6" y="1466.66" font-size="24" text-anchor="start" fill="#000"><tspan>3</tspan></text>
<path d="M1267.8 1487.99H1379.7" stroke="#39a96b" stroke-width="2.2"/>
<circle cx="1295.5" cy="1487.99" r="5.1" fill="#fff" stroke="#39a96b" stroke-width="1.3"/>
<circle cx="1351.5" cy="1487.99" r="5.5" fill="#39a96b"/>
<text x="1385.6" y="1496.39" font-size="24" text-anchor="start" fill="#000"><tspan>4</tspan></text>
<path d="M1267.8 1517.72H1379.7" stroke="#aa7ee0" stroke-width="2.2"/>
<circle cx="1295.5" cy="1517.72" r="5.1" fill="#fff" stroke="#aa7ee0" stroke-width="1.3"/>
<circle cx="1351.5" cy="1517.72" r="5.5" fill="#aa7ee0"/>
<text x="1385.6" y="1526.12" font-size="24" text-anchor="start" fill="#000"><tspan>5</tspan></text>
<path d="M1267.8 1547.45H1379.7" stroke="#d09c0a" stroke-width="2.2"/>
<circle cx="1295.5" cy="1547.45" r="5.1" fill="#fff" stroke="#d09c0a" stroke-width="1.3"/>
<circle cx="1351.5" cy="1547.45" r="5.5" fill="#d09c0a"/>
<text x="1385.6" y="1555.85" font-size="24" text-anchor="start" fill="#000"><tspan>6</tspan></text>
<path d="M1267.8 1577.18H1379.7" stroke="#0ec9c9" stroke-width="2.2"/>
<circle cx="1295.5" cy="1577.18" r="5.1" fill="#fff" stroke="#0ec9c9" stroke-width="1.3"/>
<circle cx="1351.5" cy="1577.18" r="5.5" fill="#0ec9c9"/>
<text x="1385.6" y="1585.58" font-size="24" text-anchor="start" fill="#000"><tspan>7</tspan></text>
<path d="M1267.8 1606.91H1379.7" stroke="#7b4f4f" stroke-width="2.2"/>
<circle cx="1295.5" cy="1606.91" r="5.1" fill="#fff" stroke="#7b4f4f" stroke-width="1.3"/>
<circle cx="1351.5" cy="1606.91" r="5.5" fill="#7b4f4f"/>
<text x="1385.6" y="1615.31" font-size="24" text-anchor="start" fill="#000"><tspan>8</tspan></text>
<path d="M1267.8 1636.64H1379.7" stroke="#888800" stroke-width="2.2"/>
<circle cx="1295.5" cy="1636.64" r="5.1" fill="#fff" stroke="#888800" stroke-width="1.3"/>
<circle cx="1351.5" cy="1636.64" r="5.5" fill="#888800"/>
<text x="1385.6" y="1645.04" font-size="24" text-anchor="start" fill="#000"><tspan>9</tspan></text>
<path d="M1267.8 1666.37H1379.7" stroke="#ff6600" stroke-width="2.2"/>
<circle cx="1295.5" cy="1666.37" r="5.1" fill="#fff" stroke="#ff6600" stroke-width="1.3"/>
<circle cx="1351.5" cy="1666.37" r="5.5" fill="#ff6600"/>
<text x="1385.6" y="1674.77" font-size="24" text-anchor="start" fill="#000"><tspan>10</tspan></text></svg></body></html>
